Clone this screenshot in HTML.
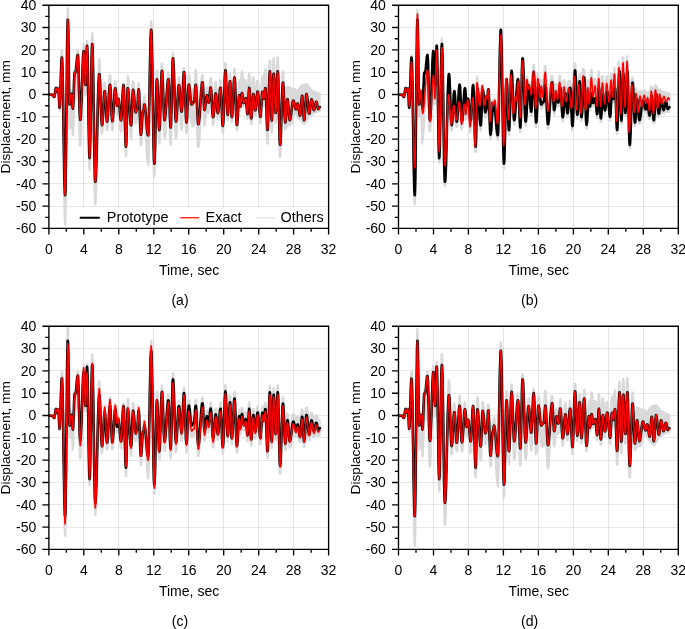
<!DOCTYPE html>
<html lang="en"><head><meta charset="utf-8"><title>Displacement time histories</title>
<style>html,body{margin:0;padding:0;background:#fff}svg{display:block}text{font-family:"Liberation Sans",Arial,sans-serif;fill:#000}</style></head>
<body>
<svg width="685" height="629" viewBox="0 0 685 629">
<rect width="685" height="629" fill="#fff"/>
<defs>
<clipPath id="cpa"><rect x="48.9" y="5.2" width="279.7" height="223.2"/></clipPath>
<clipPath id="cpb"><rect x="398.5" y="5.2" width="279.7" height="223.2"/></clipPath>
<clipPath id="cpc"><rect x="48.9" y="326.2" width="279.7" height="223.2"/></clipPath>
<clipPath id="cpd"><rect x="398.5" y="326.2" width="279.7" height="223.2"/></clipPath>
</defs>
<g id="panel-a">
<path d="M83.5 5.2V228.4M118.5 5.2V228.4M153.5 5.2V228.4M188.5 5.2V228.4M223.5 5.2V228.4M258.5 5.2V228.4M293.5 5.2V228.4" stroke="#000" stroke-opacity="0.115" stroke-width="0.9" fill="none"/>
<path d="M48.9 206.5H328.6M48.9 183.5H328.6M48.9 161.5H328.6M48.9 139.5H328.6M48.9 116.5H328.6M48.9 94.5H328.6M48.9 72.5H328.6M48.9 49.5H328.6M48.9 27.5H328.6" stroke="#000" stroke-opacity="0.105" stroke-width="0.9" fill="none"/>
<g clip-path="url(#cpa)" fill="none" stroke-linejoin="round" stroke-linecap="round">
<path d="M48.9 93.6 49.0 93.6 49.2 93.6 49.4 93.6 49.6 93.6 49.7 93.7 49.9 93.7 50.1 93.7 50.3 93.7 50.4 93.8 50.6 93.8 50.8 93.8 51.0 93.9 51.1 93.9 51.3 93.9 51.5 93.9 51.7 94.0 51.8 94.0 52.0 94.0 52.2 94.0 52.4 94.0 52.5 94.0 52.7 94.1 52.9 94.2 53.1 94.4 53.2 94.4 53.4 94.6 53.6 94.9 53.8 95.2 53.9 95.5 54.1 95.6 54.3 94.8 54.5 93.8 54.6 92.4 54.8 91.0 55.0 89.6 55.2 88.4 55.3 87.5 55.5 86.9 55.7 86.8 55.9 86.8 56.0 86.8 56.2 86.8 56.4 86.8 56.6 87.1 56.7 87.7 56.9 88.5 57.1 89.3 57.3 89.5 57.4 88.8 57.6 88.1 57.8 87.4 58.0 86.9 58.1 86.8 58.3 86.6 58.5 86.4 58.7 86.2 58.8 86.3 59.0 88.3 59.2 92.0 59.4 95.9 59.5 99.5 59.7 97.7 59.9 93.7 60.0 88.7 60.2 82.6 60.4 76.3 60.6 70.1 60.7 64.3 60.9 59.2 61.1 55.1 61.3 52.2 61.4 50.6 61.6 50.4 61.8 50.3 62.0 50.2 62.1 50.1 62.3 50.1 62.5 52.1 62.7 56.1 62.8 62.0 63.0 69.6 63.2 78.7 63.4 88.9 63.5 98.6 63.7 108.8 63.9 119.2 64.1 129.5 64.2 139.5 64.4 148.8 64.6 157.2 64.8 164.3 64.9 170.1 65.1 171.5 65.3 163.6 65.5 153.1 65.6 140.4 65.8 125.9 66.0 110.4 66.2 94.3 66.3 77.0 66.5 59.4 66.7 43.5 66.9 29.9 67.0 19.1 67.2 11.7 67.4 7.8 67.6 7.7 67.7 8.0 67.9 8.3 68.1 8.6 68.3 8.9 68.4 13.5 68.6 22.0 68.8 33.6 69.0 47.2 69.1 61.5 69.3 75.0 69.5 86.6 69.7 94.3 69.8 95.5 70.0 94.1 70.2 92.7 70.4 91.5 70.5 90.7 70.7 90.3 70.9 90.3 71.1 90.3 71.2 90.3 71.4 90.4 71.6 90.4 71.8 91.4 71.9 91.4 72.1 91.5 72.3 91.5 72.5 91.7 72.6 94.5 72.8 98.8 73.0 98.4 73.2 94.6 73.3 90.0 73.5 84.6 73.7 79.5 73.9 75.0 74.0 71.5 74.2 69.3 74.4 68.5 74.6 68.5 74.7 68.6 74.9 68.6 75.1 68.6 75.3 68.2 75.4 67.2 75.6 65.8 75.8 64.1 76.0 62.2 76.1 60.2 76.3 58.2 76.5 56.2 76.7 54.4 76.8 52.9 77.0 51.6 77.2 50.8 77.4 50.4 77.5 50.4 77.7 50.3 77.9 50.2 78.1 50.2 78.2 50.3 78.4 51.9 78.6 55.2 78.8 59.9 78.9 65.8 79.1 72.6 79.3 80.0 79.5 87.5 79.6 94.3 79.8 100.2 80.0 105.2 80.2 109.3 80.3 111.3 80.5 109.0 80.7 106.1 80.9 102.6 81.0 98.6 81.2 94.2 81.4 89.3 81.6 83.6 81.7 77.9 81.9 72.2 82.1 66.8 82.3 61.6 82.4 57.0 82.6 52.9 82.8 49.5 83.0 46.8 83.1 45.0 83.3 44.0 83.5 44.0 83.7 44.1 83.8 44.2 84.0 44.3 84.2 44.6 84.4 46.4 84.5 49.8 84.7 54.5 84.9 59.9 85.1 65.7 85.2 71.1 85.4 75.8 85.6 73.7 85.8 67.6 85.9 60.6 86.1 53.7 86.3 47.5 86.5 43.0 86.6 40.7 86.8 40.8 87.0 40.8 87.1 40.7 87.3 40.7 87.5 40.7 87.7 43.4 87.8 48.7 88.0 56.4 88.2 66.1 88.4 77.3 88.5 89.6 88.7 100.8 88.9 111.5 89.1 121.7 89.2 130.7 89.4 138.2 89.6 143.8 89.8 138.6 89.9 131.4 90.1 122.3 90.3 112.0 90.5 101.1 90.6 89.9 90.8 77.3 91.0 65.4 91.2 54.9 91.3 46.0 91.5 39.3 91.7 35.0 91.9 33.3 92.0 33.0 92.2 32.8 92.4 32.7 92.6 32.5 92.7 33.5 92.9 36.9 93.1 42.4 93.3 49.8 93.4 59.1 93.6 69.8 93.8 81.6 94.0 92.7 94.1 103.7 94.3 114.6 94.5 125.0 94.7 134.7 94.8 143.2 95.0 150.4 95.2 156.0 95.4 159.2 95.5 156.4 95.7 152.8 95.9 148.5 96.1 143.5 96.2 137.9 96.4 131.9 96.6 125.5 96.8 118.8 96.9 112.1 97.1 105.3 97.3 98.7 97.5 92.3 97.6 86.2 97.8 80.6 98.0 74.8 98.2 69.7 98.3 65.6 98.5 62.3 98.7 60.1 98.9 58.9 99.0 58.8 99.2 58.9 99.4 59.1 99.6 59.3 99.7 59.5 99.9 60.8 100.1 63.1 100.3 66.4 100.4 70.5 100.6 75.3 100.8 80.5 101.0 85.5 101.1 90.4 101.3 95.1 101.5 99.4 101.7 103.3 101.8 106.5 102.0 108.9 102.2 108.2 102.4 106.4 102.5 104.1 102.7 101.5 102.9 98.7 103.1 95.8 103.2 93.0 103.4 90.2 103.6 87.8 103.8 85.7 103.9 84.0 104.1 82.7 104.3 82.2 104.5 82.4 104.6 82.3 104.8 82.3 105.0 82.3 105.2 82.3 105.3 83.1 105.5 84.8 105.7 86.9 105.9 89.5 106.0 92.4 106.2 95.5 106.4 98.7 106.6 101.7 106.7 104.5 106.9 106.8 107.1 108.5 107.3 107.3 107.4 105.3 107.6 102.9 107.8 100.1 108.0 97.1 108.1 94.0 108.3 90.8 108.5 87.7 108.7 84.7 108.8 81.7 109.0 79.1 109.2 77.1 109.4 75.7 109.5 75.0 109.7 74.9 109.9 74.9 110.1 74.9 110.2 75.0 110.4 75.1 110.6 76.2 110.8 78.3 110.9 81.2 111.1 84.9 111.3 88.6 111.5 92.4 111.6 96.3 111.8 100.1 112.0 103.5 112.2 106.4 112.3 108.5 112.5 108.2 112.7 106.7 112.9 104.8 113.0 102.5 113.2 100.1 113.4 97.5 113.6 94.9 113.7 92.3 113.9 89.8 114.1 87.6 114.3 85.4 114.4 83.5 114.6 82.1 114.8 81.2 114.9 80.9 115.1 80.9 115.3 81.0 115.5 81.2 115.6 81.3 115.8 81.7 116.0 82.9 116.2 84.9 116.3 87.5 116.5 90.1 116.7 92.7 116.9 95.1 117.0 97.1 117.2 97.3 117.4 96.0 117.6 94.7 117.7 93.8 117.9 93.4 118.1 93.6 118.3 93.7 118.4 93.8 118.6 94.0 118.8 94.2 119.0 94.7 119.1 95.7 119.3 97.0 119.5 98.6 119.7 100.4 119.8 102.3 120.0 104.4 120.2 106.5 120.4 108.5 120.5 110.4 120.7 112.0 120.9 113.4 121.1 113.7 121.2 111.9 121.4 109.5 121.6 106.4 121.8 103.1 121.9 99.5 122.1 96.0 122.3 92.7 122.5 89.3 122.6 86.5 122.8 84.5 123.0 83.4 123.2 83.3 123.3 83.3 123.5 83.4 123.7 83.5 123.9 83.6 124.0 84.2 124.2 86.3 124.4 89.7 124.6 93.9 124.7 98.5 124.9 103.7 125.1 109.1 125.3 114.6 125.4 119.7 125.6 124.4 125.8 128.2 126.0 130.4 126.1 124.5 126.3 116.9 126.5 108.4 126.7 99.6 126.8 91.5 127.0 84.7 127.2 79.2 127.4 76.4 127.5 75.9 127.7 76.0 127.9 76.1 128.1 76.2 128.2 76.3 128.4 77.1 128.6 78.4 128.8 80.1 128.9 82.3 129.1 84.6 129.3 87.1 129.5 89.8 129.6 92.6 129.8 95.4 130.0 98.2 130.2 101.0 130.3 103.6 130.5 105.9 130.7 108.0 130.9 109.7 131.0 110.3 131.2 107.9 131.4 104.7 131.6 100.8 131.7 96.6 131.9 92.4 132.1 88.5 132.3 85.2 132.4 82.4 132.6 80.8 132.8 80.6 133.0 80.7 133.1 80.8 133.3 80.9 133.5 81.0 133.7 81.5 133.8 82.4 134.0 83.7 134.2 85.5 134.4 87.4 134.5 89.3 134.7 91.4 134.9 93.6 135.1 95.7 135.2 97.7 135.4 99.4 135.6 100.9 135.8 102.1 135.9 101.8 136.1 101.2 136.3 100.7 136.5 100.7 136.6 100.8 136.8 100.8 137.0 99.7 137.2 97.8 137.3 95.2 137.5 92.4 137.7 89.5 137.9 86.8 138.0 84.6 138.2 83.3 138.4 83.1 138.6 83.2 138.7 83.3 138.9 83.3 139.1 83.3 139.3 84.4 139.4 86.8 139.6 90.3 139.8 94.4 140.0 99.1 140.1 104.1 140.3 109.1 140.5 113.8 140.7 117.9 140.8 121.1 141.0 121.9 141.2 120.0 141.4 117.7 141.5 115.2 141.7 112.5 141.9 109.9 142.0 107.4 142.2 105.3 142.4 103.7 142.6 102.5 142.7 102.0 142.9 101.9 143.1 101.9 143.3 101.3 143.4 99.9 143.6 98.3 143.8 96.9 144.0 96.2 144.1 96.2 144.3 96.1 144.5 96.0 144.7 96.0 144.8 96.1 145.0 96.5 145.2 97.2 145.4 98.2 145.5 99.4 145.7 100.9 145.9 102.6 146.1 104.4 146.2 106.3 146.4 108.4 146.6 110.5 146.8 112.5 146.9 114.6 147.1 116.5 147.3 118.4 147.5 120.0 147.6 121.5 147.8 122.7 148.0 123.6 148.2 121.1 148.3 117.1 148.5 111.9 148.7 105.5 148.9 98.2 149.0 90.3 149.2 80.9 149.4 71.1 149.6 61.3 149.7 52.1 149.9 43.6 150.1 36.2 150.3 30.1 150.4 25.4 150.6 22.4 150.8 21.1 151.0 21.2 151.1 21.3 151.3 21.3 151.5 21.4 151.7 21.9 151.8 24.5 152.0 29.0 152.2 35.5 152.4 43.7 152.5 53.3 152.7 64.1 152.9 75.7 153.1 87.7 153.2 98.2 153.4 108.3 153.6 117.9 153.8 126.7 153.9 134.3 154.1 140.6 154.3 145.4 154.5 143.7 154.6 138.6 154.8 132.3 155.0 125.1 155.2 117.4 155.3 109.3 155.5 101.4 155.7 93.8 155.9 87.1 156.0 80.5 156.2 75.3 156.4 71.9 156.6 70.3 156.7 70.2 156.9 70.1 157.1 70.0 157.3 69.9 157.4 70.3 157.6 72.2 157.8 75.4 158.0 79.7 158.1 85.0 158.3 90.2 158.5 95.6 158.7 101.0 158.8 106.0 159.0 110.6 159.2 114.3 159.4 116.0 159.5 113.0 159.7 109.2 159.9 104.6 160.1 99.4 160.2 94.0 160.4 88.5 160.6 82.5 160.8 76.8 160.9 71.8 161.1 67.8 161.3 64.9 161.5 63.3 161.6 63.0 161.8 63.1 162.0 63.2 162.2 63.3 162.3 63.3 162.5 64.3 162.7 66.2 162.9 69.2 163.0 73.0 163.2 77.5 163.4 82.6 163.6 87.9 163.7 92.6 163.9 97.0 164.1 101.2 164.3 104.8 164.4 107.7 164.6 109.8 164.8 109.2 165.0 107.8 165.1 106.1 165.3 104.1 165.5 101.9 165.7 99.4 165.8 96.8 166.0 94.2 166.2 91.5 166.4 88.8 166.5 85.9 166.7 83.1 166.9 80.5 167.1 78.1 167.2 76.1 167.4 74.5 167.6 73.3 167.8 72.5 167.9 72.1 168.1 72.1 168.3 72.1 168.5 72.1 168.6 72.1 168.8 72.6 169.0 74.3 169.1 77.4 169.3 81.5 169.5 86.5 169.7 91.6 169.8 96.7 170.0 101.9 170.2 106.7 170.4 111.0 170.5 114.6 170.7 114.5 170.9 109.9 171.1 104.1 171.2 97.4 171.4 90.1 171.6 81.5 171.8 73.2 171.9 65.9 172.1 59.8 172.3 55.3 172.5 52.8 172.6 52.4 172.8 52.5 173.0 52.6 173.2 52.7 173.3 52.8 173.5 53.4 173.7 55.1 173.9 57.8 174.0 61.4 174.2 65.8 174.4 70.8 174.6 76.2 174.7 81.9 174.9 87.8 175.1 92.9 175.3 97.6 175.4 101.8 175.6 105.5 175.8 108.6 176.0 110.9 176.1 110.9 176.3 108.9 176.5 106.6 176.7 103.8 176.8 100.8 177.0 97.6 177.2 94.4 177.4 91.2 177.5 88.2 177.7 85.1 177.9 82.3 178.1 80.1 178.2 78.5 178.4 77.5 178.6 77.2 178.8 77.1 178.9 77.0 179.1 76.8 179.3 77.0 179.5 77.6 179.6 78.7 179.8 80.4 180.0 82.5 180.2 85.0 180.3 87.7 180.5 90.3 180.7 92.9 180.9 95.4 181.0 97.8 181.2 99.9 181.4 101.8 181.6 103.0 181.7 101.1 181.9 98.4 182.1 95.1 182.3 91.4 182.4 87.1 182.6 82.5 182.8 78.1 183.0 74.2 183.1 71.1 183.3 68.9 183.5 67.6 183.7 67.5 183.8 67.7 184.0 67.9 184.2 68.0 184.4 68.2 184.5 68.9 184.7 70.7 184.9 73.6 185.1 77.5 185.2 82.1 185.4 87.2 185.6 92.2 185.8 96.8 185.9 101.2 186.1 105.2 186.3 108.5 186.5 111.1 186.6 110.5 186.8 107.5 187.0 103.8 187.2 99.7 187.3 95.4 187.5 91.1 187.7 87.0 187.9 82.9 188.0 79.6 188.2 77.2 188.4 75.8 188.6 75.5 188.7 75.3 188.9 75.2 189.1 75.0 189.3 74.9 189.4 75.1 189.6 75.7 189.8 76.7 190.0 78.0 190.1 79.5 190.3 81.2 190.5 83.1 190.7 84.8 190.8 86.3 191.0 87.8 191.2 89.1 191.4 90.2 191.5 91.0 191.7 91.6 191.9 91.4 192.1 90.9 192.2 90.4 192.4 89.9 192.6 89.4 192.8 89.0 192.9 88.7 193.1 88.4 193.3 88.3 193.5 88.1 193.6 88.0 193.8 87.6 194.0 86.4 194.2 84.5 194.3 82.2 194.5 79.4 194.7 76.4 194.9 73.7 195.0 71.6 195.2 70.1 195.4 69.5 195.6 69.4 195.7 69.2 195.9 69.4 196.1 69.7 196.3 70.3 196.4 71.9 196.6 74.3 196.8 77.4 196.9 81.1 197.1 84.7 197.3 88.6 197.5 92.5 197.6 96.4 197.8 100.0 198.0 103.2 198.2 105.9 198.3 108.0 198.5 108.3 198.7 107.4 198.9 106.2 199.0 104.7 199.2 103.0 199.4 101.1 199.6 99.0 199.7 96.8 199.9 94.5 200.1 92.2 200.3 90.0 200.4 87.7 200.6 85.6 200.8 83.2 201.0 81.1 201.1 79.2 201.3 77.6 201.5 76.3 201.7 75.4 201.8 74.8 202.0 74.6 202.2 74.8 202.4 75.1 202.5 75.1 202.7 75.1 202.9 75.1 203.1 76.0 203.2 77.9 203.4 80.5 203.6 83.8 203.8 87.4 203.9 90.7 204.1 93.8 204.3 96.6 204.5 98.8 204.6 100.3 204.8 99.2 205.0 97.9 205.2 96.4 205.3 94.8 205.5 93.2 205.7 91.6 205.9 90.2 206.0 89.0 206.2 88.1 206.4 87.5 206.6 87.3 206.7 87.2 206.9 87.1 207.1 87.1 207.3 87.0 207.4 87.1 207.6 87.6 207.8 88.2 208.0 89.1 208.1 90.1 208.3 91.0 208.5 91.9 208.7 92.2 208.8 91.0 209.0 89.5 209.2 87.7 209.4 85.8 209.5 83.6 209.7 81.7 209.9 80.1 210.1 78.9 210.2 78.3 210.4 78.2 210.6 78.1 210.8 78.1 210.9 78.0 211.1 77.9 211.3 78.6 211.5 80.0 211.6 82.1 211.8 84.7 212.0 87.3 212.2 90.2 212.3 93.1 212.5 95.9 212.7 98.5 212.9 100.8 213.0 102.5 213.2 103.1 213.4 101.6 213.6 99.9 213.7 97.8 213.9 95.6 214.1 93.3 214.3 91.0 214.4 88.7 214.6 86.7 214.8 84.9 215.0 83.5 215.1 82.5 215.3 81.8 215.5 81.7 215.7 81.6 215.8 81.6 216.0 81.7 216.2 81.9 216.4 82.7 216.5 84.1 216.7 85.9 216.9 88.1 217.1 90.5 217.2 93.0 217.4 95.4 217.6 97.6 217.8 99.4 217.9 99.8 218.1 98.6 218.3 96.9 218.5 95.0 218.6 92.9 218.8 90.7 219.0 88.4 219.2 86.3 219.3 84.2 219.5 82.2 219.7 80.8 219.9 79.8 220.0 79.3 220.2 79.5 220.4 79.6 220.6 79.7 220.7 79.8 220.9 79.9 221.1 81.0 221.3 83.2 221.4 86.2 221.6 89.5 221.8 93.3 222.0 97.2 222.1 101.3 222.3 105.1 222.5 108.6 222.7 111.6 222.8 113.5 223.0 110.9 223.2 107.5 223.4 103.3 223.5 98.5 223.7 93.5 223.9 88.3 224.0 82.5 224.2 77.0 224.4 72.1 224.6 68.0 224.7 65.0 224.9 63.2 225.1 62.6 225.3 62.7 225.4 62.7 225.6 62.7 225.8 62.6 226.0 63.3 226.1 65.3 226.3 68.4 226.5 72.6 226.7 77.5 226.8 83.0 227.0 88.4 227.2 93.1 227.4 97.3 227.5 100.9 227.7 103.6 227.9 102.3 228.1 99.7 228.2 96.7 228.4 93.3 228.6 89.7 228.8 86.0 228.9 82.2 229.1 78.9 229.3 76.2 229.5 74.3 229.6 73.3 229.8 73.3 230.0 73.3 230.2 73.3 230.3 73.2 230.5 73.3 230.7 75.1 230.9 78.6 231.0 83.4 231.2 88.7 231.4 93.8 231.6 98.6 231.7 102.7 231.9 105.2 232.1 103.1 232.3 100.4 232.4 97.3 232.6 93.9 232.8 90.3 233.0 86.6 233.1 82.5 233.3 78.7 233.5 75.3 233.7 72.5 233.8 70.4 234.0 69.2 234.2 68.7 234.4 68.7 234.5 68.6 234.7 68.5 234.9 68.3 235.1 68.8 235.2 70.5 235.4 73.5 235.6 77.5 235.8 82.4 235.9 87.3 236.1 92.1 236.3 96.7 236.5 101.1 236.6 104.9 236.8 107.9 237.0 109.0 237.2 106.8 237.3 104.1 237.5 101.1 237.7 97.9 237.9 94.6 238.0 91.4 238.2 88.6 238.4 86.1 238.6 84.2 238.7 82.6 238.9 81.7 239.1 81.2 239.3 80.6 239.4 80.1 239.6 79.5 239.8 79.7 240.0 81.0 240.1 83.0 240.3 85.0 240.5 84.3 240.7 81.9 240.8 79.3 241.0 76.8 241.2 74.6 241.4 72.7 241.5 71.3 241.7 71.1 241.9 71.3 242.1 71.5 242.2 71.7 242.4 71.8 242.6 72.6 242.8 73.8 242.9 75.2 243.1 76.9 243.3 78.5 243.5 80.1 243.6 81.3 243.8 81.8 244.0 81.6 244.2 81.2 244.3 80.8 244.5 80.4 244.7 80.1 244.9 79.8 245.0 79.6 245.2 79.6 245.4 79.7 245.6 79.8 245.7 80.0 245.9 80.2 246.1 80.4 246.3 81.0 246.4 82.2 246.6 84.0 246.8 86.2 247.0 88.6 247.1 91.0 247.3 93.2 247.5 94.1 247.7 91.7 247.8 88.6 248.0 85.1 248.2 81.6 248.4 78.3 248.5 75.5 248.7 73.7 248.9 73.2 249.1 73.4 249.2 73.3 249.4 73.1 249.6 73.0 249.8 73.5 249.9 75.1 250.1 77.7 250.3 81.0 250.5 84.4 250.6 88.0 250.8 91.5 251.0 94.7 251.1 97.3 251.3 98.0 251.5 95.9 251.7 93.3 251.8 90.4 252.0 87.4 252.2 84.5 252.4 81.9 252.5 79.8 252.7 78.2 252.9 77.3 253.1 77.2 253.2 77.0 253.4 76.9 253.6 77.2 253.8 77.5 253.9 78.3 254.1 79.7 254.3 81.4 254.5 83.4 254.6 85.7 254.8 87.9 255.0 90.1 255.2 92.0 255.3 93.5 255.5 92.8 255.7 91.5 255.9 90.0 256.0 88.3 256.2 86.5 256.4 84.8 256.6 83.2 256.7 81.9 256.9 80.8 257.1 80.2 257.3 80.2 257.4 80.5 257.6 80.8 257.8 81.1 258.0 80.8 258.1 80.9 258.3 81.4 258.5 82.4 258.7 83.8 258.8 85.3 259.0 87.0 259.2 89.0 259.4 91.0 259.5 93.0 259.7 94.9 259.9 96.7 260.1 98.2 260.2 99.4 260.4 99.4 260.6 97.3 260.8 94.5 260.9 91.4 261.1 88.1 261.3 84.9 261.5 81.9 261.6 79.4 261.8 77.3 262.0 76.2 262.2 75.9 262.3 75.7 262.5 75.6 262.7 75.4 262.9 75.2 263.0 75.8 263.2 76.9 263.4 78.3 263.6 79.6 263.7 79.8 263.9 78.4 264.1 76.7 264.3 74.7 264.4 72.8 264.6 71.2 264.8 70.0 265.0 69.2 265.1 69.1 265.3 68.9 265.5 69.0 265.7 69.4 265.8 69.9 266.0 71.8 266.2 75.0 266.4 79.2 266.5 83.9 266.7 89.1 266.9 94.4 267.1 99.6 267.2 104.3 267.4 108.2 267.6 108.1 267.8 104.5 267.9 100.0 268.1 94.7 268.3 89.0 268.5 83.3 268.6 76.9 268.8 71.1 269.0 66.3 269.2 62.7 269.3 60.6 269.5 60.2 269.7 60.6 269.9 61.0 270.0 60.7 270.2 60.4 270.4 61.2 270.6 64.0 270.7 68.5 270.9 74.5 271.1 81.3 271.3 87.6 271.4 93.4 271.6 98.5 271.8 102.2 272.0 97.6 272.1 91.9 272.3 85.5 272.5 78.5 272.7 71.3 272.8 65.3 273.0 60.9 273.2 58.4 273.4 58.1 273.5 57.8 273.7 57.7 273.9 57.8 274.1 57.9 274.2 59.3 274.4 62.1 274.6 66.0 274.8 70.8 274.9 76.1 275.1 81.4 275.3 86.0 275.5 90.1 275.6 93.4 275.8 92.9 276.0 89.3 276.2 84.8 276.3 79.7 276.5 73.9 276.7 68.3 276.9 63.5 277.0 59.8 277.2 57.5 277.4 56.8 277.6 56.9 277.7 56.9 277.9 57.0 278.1 57.1 278.3 58.2 278.4 61.4 278.6 66.4 278.8 73.0 278.9 80.9 279.1 88.5 279.3 96.2 279.5 103.9 279.6 111.1 279.8 117.3 280.0 122.3 280.2 124.8 280.3 122.0 280.5 118.4 280.7 114.1 280.9 109.3 281.0 104.2 281.2 99.0 281.4 93.8 281.6 88.9 281.7 84.3 281.9 79.9 282.1 76.1 282.3 73.4 282.4 71.7 282.6 71.2 282.8 71.3 283.0 71.4 283.1 71.3 283.3 71.2 283.5 71.7 283.7 73.3 283.8 75.9 284.0 79.4 284.2 83.5 284.4 87.4 284.5 91.5 284.7 95.6 284.9 99.3 285.1 99.3 285.2 98.7 285.4 98.0 285.6 96.5 285.8 94.3 285.9 92.9 286.1 91.2 286.3 90.3 286.5 88.9 286.6 87.8 286.8 87.5 287.0 87.0 287.2 86.6 287.3 86.5 287.5 86.4 287.7 86.4 287.9 86.4 288.0 86.4 288.2 86.4 288.4 86.4 288.6 86.6 288.7 86.7 288.9 86.9 289.1 87.0 289.3 87.1 289.4 87.2 289.6 87.2 289.8 87.3 290.0 87.4 290.1 87.5 290.3 87.6 290.5 87.6 290.7 87.7 290.8 87.8 291.0 87.9 291.2 88.0 291.4 88.0 291.5 88.1 291.7 88.2 291.9 88.3 292.1 88.3 292.2 88.2 292.4 88.2 292.6 88.2 292.8 88.2 292.9 88.2 293.1 88.2 293.3 88.3 293.5 88.3 293.6 88.3 293.8 88.3 294.0 88.4 294.2 88.4 294.3 88.5 294.5 88.5 294.7 88.6 294.9 88.8 295.0 88.9 295.2 89.1 295.4 89.2 295.6 89.4 295.7 89.5 295.9 89.7 296.1 89.8 296.3 90.0 296.4 90.1 296.6 90.3 296.8 90.4 297.0 90.5 297.1 90.6 297.3 90.6 297.5 90.5 297.7 90.4 297.8 90.2 298.0 90.1 298.2 89.9 298.4 89.7 298.5 89.4 298.7 89.2 298.9 88.9 299.1 88.6 299.2 88.4 299.4 88.1 299.6 87.8 299.8 87.6 299.9 87.3 300.1 87.0 300.3 86.8 300.5 86.5 300.6 86.2 300.8 85.9 301.0 85.7 301.2 85.5 301.3 85.3 301.5 85.3 301.7 85.3 301.9 85.2 302.0 85.2 302.2 85.1 302.4 85.1 302.6 85.0 302.7 85.0 302.9 84.9 303.1 84.9 303.3 84.8 303.4 84.7 303.6 84.7 303.8 84.6 304.0 84.6 304.1 84.5 304.3 84.4 304.5 84.4 304.7 84.3 304.8 84.3 305.0 84.2 305.2 84.2 305.4 84.1 305.5 84.0 305.7 84.0 305.9 84.0 306.0 84.0 306.2 84.0 306.4 84.1 306.6 84.1 306.7 84.1 306.9 84.1 307.1 84.2 307.3 84.2 307.4 84.3 307.6 84.4 307.8 84.6 308.0 84.9 308.1 85.1 308.3 85.4 308.5 85.6 308.7 85.9 308.8 86.1 309.0 86.4 309.2 86.7 309.4 86.9 309.5 87.2 309.7 87.4 309.9 87.7 310.1 87.9 310.2 88.2 310.4 88.4 310.6 88.7 310.8 88.9 310.9 89.2 311.1 89.4 311.3 89.6 311.5 89.8 311.6 90.0 311.8 90.1 312.0 90.1 312.2 90.1 312.3 90.1 312.5 90.2 312.7 90.3 312.9 90.4 313.0 90.5 313.2 90.6 313.4 90.7 313.6 90.8 313.7 90.9 313.9 91.0 314.1 91.1 314.3 91.2 314.4 91.3 314.6 91.4 314.8 91.4 315.0 91.5 315.1 91.6 315.3 91.7 315.5 91.8 315.7 91.9 315.8 92.0 316.0 92.1 316.2 92.2 316.4 92.3 316.5 92.4 316.7 92.5 316.9 92.6 317.1 92.6 317.2 92.7 317.4 92.8 317.6 92.9 317.8 93.0 317.9 93.0 318.1 93.1 318.3 93.1 318.5 93.1 318.6 93.1 318.8 93.2 319.0 93.2 319.2 93.2 319.3 93.3 319.5 93.3 319.7 93.4 319.9 93.4L319.9 111.4 319.7 111.4 319.5 111.4 319.3 111.4 319.2 111.4 319.0 111.4 318.8 111.5 318.6 111.5 318.5 111.6 318.3 111.6 318.1 111.7 317.9 111.7 317.8 111.8 317.6 111.8 317.4 111.9 317.2 111.9 317.1 112.0 316.9 112.0 316.7 112.1 316.5 112.1 316.4 112.2 316.2 112.3 316.0 112.3 315.8 112.4 315.7 112.4 315.5 112.5 315.3 112.5 315.1 112.6 315.0 112.6 314.8 112.7 314.6 112.7 314.4 112.7 314.3 112.8 314.1 113.0 313.9 113.1 313.7 113.3 313.6 113.4 313.4 113.6 313.2 113.8 313.0 113.9 312.9 114.1 312.7 114.2 312.5 114.4 312.3 114.6 312.2 114.7 312.0 114.9 311.8 115.1 311.6 115.3 311.5 115.4 311.3 115.6 311.1 115.8 310.9 116.0 310.8 116.1 310.6 116.3 310.4 116.5 310.2 116.6 310.1 116.7 309.9 116.7 309.7 116.8 309.5 116.8 309.4 116.8 309.2 116.8 309.0 117.0 308.8 117.2 308.7 117.5 308.5 117.9 308.3 118.2 308.1 118.5 308.0 118.8 307.8 119.1 307.6 119.4 307.4 119.7 307.3 120.1 307.1 120.4 306.9 120.7 306.7 121.0 306.6 121.3 306.4 121.6 306.2 121.9 306.0 122.3 305.9 122.6 305.7 122.9 305.5 123.2 305.4 123.5 305.2 123.8 305.0 123.9 304.8 124.0 304.7 124.0 304.5 124.0 304.3 124.0 304.1 124.0 304.0 124.0 303.8 124.0 303.6 124.0 303.4 124.0 303.3 123.8 303.1 123.6 302.9 123.4 302.7 123.2 302.6 123.0 302.4 122.8 302.2 122.6 302.0 122.4 301.9 122.2 301.7 121.9 301.5 121.7 301.3 121.5 301.2 121.3 301.0 121.1 300.8 120.9 300.6 120.7 300.5 120.5 300.3 120.3 300.1 120.0 299.9 119.8 299.8 119.6 299.6 119.4 299.4 119.2 299.2 119.1 299.1 119.0 298.9 118.9 298.7 118.7 298.5 118.4 298.4 118.1 298.2 117.8 298.0 117.6 297.8 117.3 297.7 117.0 297.5 116.7 297.3 116.4 297.1 116.1 297.0 115.8 296.8 115.5 296.6 115.2 296.4 114.8 296.3 114.5 296.1 114.2 295.9 113.9 295.7 113.6 295.6 113.3 295.4 113.2 295.2 113.2 295.0 113.3 294.9 113.6 294.7 114.0 294.5 114.5 294.3 115.0 294.2 115.6 294.0 116.1 293.8 116.7 293.6 117.3 293.5 117.9 293.3 118.5 293.1 119.1 292.9 119.7 292.8 120.3 292.6 120.9 292.4 121.5 292.2 122.1 292.1 122.7 291.9 123.3 291.7 123.7 291.5 124.1 291.4 124.4 291.2 124.7 291.0 124.9 290.8 125.0 290.7 125.1 290.5 125.2 290.3 125.3 290.1 125.3 290.0 125.4 289.8 125.4 289.6 125.4 289.4 125.3 289.3 125.3 289.1 125.2 288.9 125.2 288.7 125.3 288.6 125.3 288.4 125.3 288.2 125.5 288.0 125.6 287.9 125.7 287.7 125.9 287.5 126.1 287.3 126.2 287.2 126.4 287.0 126.7 286.8 126.9 286.6 127.4 286.5 127.9 286.3 128.4 286.1 128.9 285.9 129.1 285.8 129.2 285.6 129.3 285.4 129.3 285.2 129.2 285.1 129.5 284.9 129.6 284.7 128.5 284.5 126.3 284.4 123.1 284.2 119.1 284.0 114.6 283.8 109.6 283.7 104.6 283.5 99.9 283.3 96.3 283.1 93.4 283.0 91.3 282.8 93.8 282.6 97.2 282.4 101.6 282.3 107.3 282.1 113.6 281.9 120.2 281.7 126.8 281.6 133.2 281.4 139.2 281.2 144.6 281.0 149.2 280.9 152.9 280.7 155.4 280.5 156.7 280.3 156.8 280.2 156.9 280.0 157.0 279.8 157.0 279.6 157.0 279.5 154.9 279.3 150.7 279.1 144.7 278.9 137.2 278.8 128.6 278.6 119.4 278.4 110.0 278.3 101.2 278.1 94.6 277.9 89.1 277.7 84.9 277.6 87.4 277.4 91.6 277.2 96.5 277.0 101.6 276.9 107.6 276.7 113.2 276.5 117.8 276.3 121.1 276.2 122.8 276.0 122.9 275.8 123.0 275.6 123.0 275.5 123.1 275.3 123.1 275.1 121.7 274.9 118.9 274.8 114.9 274.6 110.1 274.4 104.6 274.2 99.8 274.1 95.3 273.9 91.3 273.7 88.1 273.5 90.1 273.4 95.1 273.2 101.1 273.0 108.3 272.8 115.8 272.7 122.6 272.5 127.9 272.3 131.3 272.1 132.5 272.0 132.5 271.8 132.6 271.6 132.6 271.4 132.7 271.3 131.6 271.1 128.4 270.9 123.4 270.7 117.0 270.6 109.6 270.4 102.3 270.2 96.3 270.0 91.1 269.9 87.0 269.7 89.7 269.5 94.2 269.3 99.6 269.2 105.8 269.0 113.3 268.8 120.8 268.6 127.7 268.5 133.8 268.3 138.7 268.1 142.1 267.9 143.9 267.8 144.0 267.6 144.0 267.4 144.1 267.2 143.9 267.1 143.8 266.9 142.0 266.7 138.8 266.5 134.4 266.4 129.0 266.2 123.0 266.0 116.7 265.8 110.7 265.7 105.3 265.5 101.3 265.3 98.7 265.1 99.7 265.0 101.0 264.8 102.4 264.6 104.0 264.4 105.4 264.3 106.3 264.1 106.7 263.9 106.6 263.7 106.4 263.6 106.3 263.4 106.1 263.2 105.9 263.0 105.0 262.9 103.4 262.7 101.5 262.5 99.7 262.3 100.2 262.2 102.8 262.0 106.0 261.8 109.5 261.6 113.1 261.5 116.5 261.3 119.5 261.1 121.7 260.9 123.0 260.8 123.4 260.6 123.2 260.4 123.1 260.2 123.1 260.1 123.0 259.9 122.8 259.7 122.0 259.5 120.7 259.4 118.9 259.2 116.8 259.0 114.4 258.8 111.8 258.7 109.0 258.5 106.3 258.3 103.7 258.1 101.3 258.0 99.1 257.8 97.6 257.6 96.6 257.4 97.8 257.3 99.5 257.1 101.7 256.9 104.1 256.7 106.6 256.6 109.0 256.4 111.2 256.2 113.1 256.0 114.5 255.9 115.4 255.7 115.7 255.5 115.7 255.3 115.7 255.2 115.6 255.0 115.6 254.8 115.3 254.6 114.3 254.5 112.8 254.3 110.8 254.1 108.4 253.9 106.0 253.8 103.6 253.6 101.4 253.4 99.6 253.2 100.4 253.1 102.8 252.9 105.9 252.7 109.2 252.5 112.7 252.4 116.1 252.2 119.1 252.0 121.5 251.8 123.3 251.7 124.2 251.5 124.2 251.3 124.2 251.1 124.1 251.0 124.1 250.8 124.1 250.6 122.8 250.5 120.4 250.3 117.1 250.1 113.0 249.9 108.5 249.8 103.9 249.6 99.6 249.4 96.2 249.2 94.1 249.1 96.7 248.9 100.5 248.7 105.0 248.5 109.4 248.4 113.5 248.2 116.7 248.0 118.7 247.8 119.4 247.7 119.4 247.5 119.4 247.3 119.4 247.1 119.4 247.0 118.9 246.8 117.7 246.6 115.7 246.4 113.2 246.3 110.5 246.1 107.7 245.9 105.3 245.7 103.3 245.6 102.4 245.4 102.9 245.2 103.6 245.0 104.3 244.9 105.0 244.7 105.6 244.5 106.1 244.3 106.6 244.2 106.8 244.0 106.9 243.8 106.9 243.6 106.9 243.5 106.9 243.3 106.9 243.1 106.6 242.9 105.7 242.8 104.3 242.6 102.7 242.4 100.8 242.2 99.1 242.1 97.5 241.9 98.2 241.7 100.2 241.5 102.6 241.4 105.0 241.2 107.3 241.0 109.1 240.8 110.3 240.7 110.6 240.5 110.6 240.3 110.6 240.1 110.6 240.0 110.6 239.8 109.8 239.6 107.5 239.4 104.3 239.3 101.2 239.1 101.9 238.9 104.6 238.7 107.9 238.6 111.5 238.4 115.3 238.2 119.0 238.0 122.5 237.9 125.5 237.7 127.9 237.5 129.6 237.3 130.5 237.2 130.5 237.0 130.5 236.8 130.5 236.6 130.5 236.5 130.4 236.3 129.0 236.1 126.4 235.9 122.5 235.8 117.7 235.6 112.1 235.4 106.2 235.2 100.2 235.1 94.9 234.9 90.7 234.7 87.1 234.5 84.4 234.4 85.3 234.2 87.7 234.0 90.6 233.8 93.9 233.7 97.4 233.5 101.8 233.3 106.2 233.1 110.3 233.0 114.1 232.8 117.3 232.6 119.9 232.4 121.6 232.3 122.5 232.1 122.6 231.9 122.6 231.7 122.6 231.6 122.6 231.4 122.5 231.2 120.6 231.0 116.9 230.9 111.9 230.7 106.0 230.5 99.8 230.3 94.6 230.2 90.5 230.0 88.3 229.8 90.5 229.6 93.4 229.5 96.6 229.3 100.6 229.1 104.9 228.9 109.1 228.8 112.8 228.6 116.0 228.4 118.3 228.2 119.8 228.1 120.4 227.9 120.4 227.7 120.4 227.5 120.4 227.4 120.4 227.2 119.7 227.0 117.7 226.8 114.3 226.7 109.9 226.5 104.7 226.3 99.0 226.1 94.1 226.0 89.4 225.8 85.2 225.6 81.6 225.4 78.8 225.3 81.4 225.1 84.9 224.9 89.1 224.7 93.9 224.6 99.2 224.4 105.6 224.2 111.9 224.0 117.7 223.9 122.9 223.7 127.2 223.5 130.4 223.4 132.4 223.2 133.1 223.0 133.1 222.8 133.1 222.7 133.2 222.5 133.2 222.3 132.6 222.1 131.0 222.0 128.3 221.8 124.8 221.6 120.6 221.4 116.0 221.3 111.1 221.1 106.4 220.9 101.9 220.7 98.2 220.6 95.6 220.4 94.4 220.2 95.8 220.0 97.6 219.9 99.9 219.7 102.7 219.5 105.6 219.3 108.5 219.2 111.3 219.0 113.9 218.8 116.1 218.6 117.8 218.5 119.1 218.3 119.7 218.1 119.7 217.9 119.7 217.8 119.8 217.6 119.8 217.4 119.8 217.2 119.1 217.1 117.7 216.9 115.7 216.7 113.2 216.5 110.5 216.4 107.7 216.2 105.0 216.0 102.5 215.8 100.5 215.7 100.0 215.5 101.7 215.3 103.7 215.1 106.1 215.0 108.8 214.8 111.5 214.6 114.3 214.4 116.9 214.3 119.3 214.1 121.4 213.9 123.0 213.7 124.2 213.6 124.8 213.4 124.8 213.2 124.8 213.0 125.0 212.9 125.2 212.7 125.3 212.5 124.7 212.3 123.2 212.2 121.1 212.0 118.4 211.8 115.3 211.6 111.9 211.5 108.4 211.3 105.0 211.1 101.9 210.9 99.7 210.8 98.0 210.6 97.7 210.4 99.2 210.2 101.0 210.1 103.0 209.9 105.4 209.7 107.6 209.5 109.6 209.4 111.2 209.2 112.3 209.0 112.8 208.8 112.9 208.7 113.1 208.5 113.3 208.3 113.4 208.1 113.4 208.0 113.0 207.8 112.3 207.6 111.3 207.4 110.2 207.3 109.2 207.1 108.2 206.9 107.6 206.7 108.8 206.6 110.3 206.4 112.2 206.2 114.2 206.0 116.2 205.9 118.3 205.7 120.2 205.5 121.9 205.3 123.3 205.2 124.3 205.0 125.0 204.8 125.1 204.6 125.3 204.5 125.5 204.3 125.6 204.1 125.7 203.9 124.9 203.8 123.1 203.6 120.4 203.4 117.1 203.2 113.4 203.1 109.6 202.9 106.6 202.7 104.0 202.5 101.8 202.4 100.5 202.2 101.6 202.0 103.1 201.8 104.8 201.7 106.8 201.5 109.0 201.3 111.4 201.1 114.5 201.0 117.6 200.8 120.9 200.6 124.1 200.4 127.4 200.3 130.5 200.1 133.5 199.9 136.2 199.7 138.8 199.6 141.0 199.4 142.9 199.2 144.5 199.0 145.7 198.9 146.5 198.7 146.9 198.5 147.1 198.3 147.2 198.2 147.3 198.0 147.4 197.8 147.0 197.6 145.7 197.5 143.5 197.3 140.6 197.1 137.0 196.9 132.9 196.8 128.6 196.6 124.1 196.4 119.8 196.3 115.7 196.1 112.8 195.9 110.4 195.7 108.6 195.6 110.4 195.4 112.7 195.2 115.2 195.0 118.0 194.9 120.8 194.7 123.0 194.5 124.4 194.3 125.0 194.2 125.1 194.0 125.2 193.8 125.3 193.6 125.3 193.5 125.6 193.3 126.0 193.1 126.4 192.9 126.4 192.8 126.4 192.6 126.3 192.4 126.2 192.2 126.0 192.1 125.7 191.9 125.2 191.7 124.8 191.5 124.3 191.4 123.9 191.2 123.4 191.0 122.5 190.8 121.2 190.7 119.5 190.5 117.6 190.3 115.4 190.1 113.0 190.0 110.4 189.8 108.1 189.6 105.9 189.4 103.9 189.3 102.0 189.1 100.3 188.9 98.9 188.7 100.3 188.6 102.5 188.4 105.4 188.2 109.6 188.0 114.1 187.9 118.7 187.7 122.9 187.5 126.7 187.3 129.7 187.2 131.7 187.0 132.6 186.8 132.3 186.6 132.6 186.5 133.0 186.3 133.3 186.1 133.7 185.9 132.9 185.8 130.9 185.6 127.8 185.4 123.8 185.2 118.9 185.1 113.6 184.9 108.1 184.7 103.1 184.5 98.8 184.4 95.0 184.2 91.9 184.0 89.5 183.8 90.8 183.7 94.0 183.5 97.8 183.3 102.0 183.1 106.4 183.0 111.3 182.8 116.4 182.6 120.9 182.4 124.7 182.3 127.6 182.1 129.4 181.9 129.9 181.7 129.8 181.6 129.7 181.4 129.7 181.2 129.6 181.0 129.1 180.9 128.0 180.7 126.4 180.5 124.3 180.3 121.8 180.2 119.0 180.0 116.1 179.8 113.0 179.6 110.1 179.5 107.8 179.3 105.8 179.1 104.0 178.9 102.7 178.8 103.6 178.6 105.3 178.4 107.5 178.2 110.2 178.1 113.6 177.9 117.3 177.7 121.1 177.5 124.7 177.4 128.2 177.2 131.3 177.0 134.0 176.8 136.2 176.7 137.7 176.5 138.5 176.3 138.7 176.1 138.6 176.0 138.6 175.8 138.6 175.6 138.6 175.4 137.7 175.3 135.8 175.1 132.8 174.9 128.9 174.7 124.2 174.6 118.8 174.4 112.9 174.2 107.1 174.0 102.0 173.9 97.0 173.7 92.2 173.5 87.8 173.3 83.9 173.2 80.7 173.0 78.7 172.8 82.6 172.6 87.9 172.5 94.3 172.3 101.4 172.1 109.0 171.9 118.0 171.8 126.4 171.6 133.6 171.4 139.2 171.2 143.0 171.1 144.7 170.9 144.7 170.7 144.8 170.5 144.9 170.4 144.9 170.2 144.7 170.0 143.0 169.8 140.0 169.7 135.8 169.5 130.7 169.3 125.0 169.1 119.0 169.0 112.9 168.8 107.6 168.6 103.4 168.5 100.1 168.3 97.6 168.1 97.9 167.9 99.4 167.8 101.2 167.6 103.2 167.4 105.6 167.2 108.1 167.1 110.9 166.9 114.2 166.7 117.5 166.5 120.8 166.4 124.0 166.2 127.1 166.0 129.9 165.8 132.4 165.7 134.6 165.5 136.3 165.3 137.7 165.1 138.6 165.0 139.0 164.8 138.8 164.6 138.6 164.4 138.4 164.3 138.2 164.1 137.7 163.9 136.0 163.7 133.2 163.6 129.5 163.4 124.9 163.2 119.6 163.0 113.9 162.9 108.1 162.7 103.3 162.5 98.8 162.3 94.7 162.2 91.2 162.0 88.5 161.8 90.2 161.6 93.5 161.5 97.6 161.3 102.4 161.1 107.9 160.9 114.5 160.8 121.0 160.6 127.2 160.4 132.7 160.2 137.3 160.1 140.9 159.9 143.1 159.7 144.0 159.5 143.8 159.4 143.6 159.2 143.4 159.0 143.2 158.8 142.6 158.7 140.5 158.5 137.1 158.3 132.4 158.1 126.8 158.0 120.4 157.8 113.8 157.6 107.1 157.4 101.1 157.3 96.4 157.1 92.6 156.9 92.0 156.7 96.1 156.6 101.6 156.4 109.5 156.2 118.4 156.0 127.8 155.9 137.2 155.7 146.4 155.5 154.9 155.3 162.2 155.2 168.1 155.0 172.3 154.8 174.6 154.6 175.3 154.5 175.9 154.3 176.6 154.1 177.2 153.9 177.8 153.8 176.8 153.6 173.5 153.4 168.2 153.2 161.0 153.1 152.2 152.9 142.0 152.7 130.7 152.5 118.8 152.4 106.7 152.2 96.9 152.0 87.5 151.8 78.8 151.7 71.1 151.5 64.7 151.3 59.6 151.1 57.3 151.0 61.9 150.8 67.9 150.6 74.9 150.4 82.8 150.3 91.4 150.1 100.4 149.9 109.6 149.7 119.0 149.6 129.4 149.4 138.9 149.2 147.4 149.0 154.5 148.9 160.1 148.7 163.9 148.5 165.9 148.3 165.5 148.2 165.0 148.0 164.5 147.8 164.0 147.6 163.5 147.5 162.6 147.3 161.3 147.1 159.7 146.9 157.8 146.8 155.6 146.6 153.1 146.4 150.5 146.2 147.7 146.1 144.8 145.9 141.9 145.7 138.9 145.5 136.0 145.4 133.2 145.2 130.6 145.0 128.2 144.8 126.0 144.7 124.1 144.5 122.4 144.3 123.1 144.1 124.5 144.0 125.7 143.8 126.0 143.6 125.5 143.4 125.1 143.3 125.0 143.1 125.8 142.9 127.3 142.7 129.3 142.6 131.8 142.4 134.4 142.2 137.2 142.0 139.7 141.9 142.0 141.7 143.8 141.5 144.9 141.4 145.4 141.2 145.4 141.0 145.5 140.8 145.6 140.7 145.6 140.5 145.7 140.3 144.7 140.1 142.1 140.0 138.2 139.8 133.2 139.6 127.5 139.4 121.4 139.3 115.3 139.1 109.6 138.9 104.6 138.7 101.0 138.6 101.4 138.4 104.4 138.2 108.1 138.0 111.8 137.9 115.1 137.7 117.6 137.5 119.2 137.3 119.6 137.2 119.7 137.0 119.8 136.8 120.4 136.6 121.4 136.5 122.5 136.3 123.2 136.1 123.4 135.9 123.5 135.8 123.6 135.6 123.7 135.4 123.8 135.2 123.5 135.1 122.7 134.9 121.4 134.7 119.8 134.5 117.8 134.4 115.6 134.2 113.2 134.0 110.8 133.8 108.4 133.7 106.2 133.5 104.4 133.3 103.1 133.1 102.8 133.0 105.5 132.8 109.7 132.6 114.6 132.4 120.0 132.3 125.3 132.1 130.3 131.9 134.5 131.7 137.7 131.6 139.5 131.4 139.8 131.2 139.6 131.0 139.3 130.9 139.1 130.7 138.8 130.5 138.1 130.3 136.9 130.2 135.2 130.0 132.9 129.8 130.3 129.6 127.3 129.5 124.0 129.3 120.6 129.1 117.0 128.9 113.4 128.8 109.8 128.6 106.4 128.4 103.3 128.2 100.6 128.1 98.6 127.9 97.2 127.7 101.4 127.5 108.8 127.4 117.8 127.2 127.6 127.0 137.1 126.8 145.4 126.7 151.6 126.5 155.2 126.3 156.0 126.1 156.2 126.0 156.3 125.8 156.5 125.6 156.6 125.4 155.6 125.3 153.1 125.1 149.1 124.9 144.0 124.7 137.8 124.6 131.0 124.4 123.9 124.2 116.8 124.0 110.0 123.9 103.9 123.7 99.1 123.5 95.9 123.3 95.9 123.2 98.5 123.0 101.7 122.8 106.0 122.6 110.6 122.5 115.1 122.3 119.5 122.1 123.5 121.9 126.8 121.8 129.3 121.6 130.9 121.4 131.6 121.2 131.7 121.1 131.9 120.9 132.0 120.7 132.2 120.5 132.1 120.4 131.3 120.2 130.1 120.0 128.5 119.8 126.6 119.7 124.4 119.5 122.1 119.3 119.7 119.1 117.2 119.0 114.9 118.8 112.8 118.6 111.0 118.4 109.6 118.3 109.8 118.1 111.4 117.9 113.1 117.7 114.5 117.6 115.3 117.4 115.4 117.2 115.3 117.0 115.3 116.9 115.2 116.7 115.1 116.5 114.3 116.3 112.6 116.2 110.2 116.0 107.4 115.8 104.4 115.6 101.6 115.5 99.5 115.3 97.8 115.1 99.0 114.9 100.7 114.8 102.8 114.6 105.6 114.4 108.7 114.3 111.9 114.1 115.2 113.9 118.4 113.7 121.4 113.6 124.1 113.4 126.5 113.2 128.4 113.0 129.8 112.9 130.7 112.7 130.9 112.5 130.9 112.3 130.8 112.2 130.8 112.0 130.7 111.8 130.1 111.6 128.5 111.5 125.9 111.3 122.5 111.1 118.4 110.9 113.9 110.8 109.2 110.6 104.6 110.4 100.4 110.2 97.3 110.1 94.8 109.9 93.9 109.7 95.6 109.5 97.8 109.4 100.4 109.2 103.7 109.0 107.5 108.8 111.3 108.7 115.2 108.5 118.8 108.3 122.1 108.1 125.0 108.0 127.4 107.8 129.2 107.6 130.2 107.4 130.6 107.3 130.5 107.1 130.5 106.9 130.5 106.7 130.5 106.6 130.0 106.4 128.6 106.2 126.5 106.0 123.6 105.9 120.2 105.7 116.4 105.5 112.5 105.3 108.6 105.2 105.0 105.0 101.9 104.8 99.5 104.6 99.1 104.5 101.0 104.3 103.7 104.1 106.9 103.9 110.4 103.8 114.2 103.6 117.9 103.4 121.5 103.2 124.9 103.1 127.9 102.9 130.3 102.7 132.1 102.5 133.2 102.4 133.6 102.2 133.6 102.0 133.5 101.8 133.5 101.7 133.6 101.5 133.2 101.3 131.8 101.1 129.2 101.0 125.7 100.8 121.5 100.6 116.6 100.4 111.3 100.3 105.8 100.1 100.7 99.9 96.6 99.7 92.8 99.6 89.7 99.4 87.2 99.2 87.4 99.0 90.2 98.9 93.9 98.7 98.3 98.5 103.4 98.3 110.1 98.2 117.5 98.0 125.4 97.8 133.5 97.6 141.9 97.5 150.2 97.3 158.3 97.1 166.2 96.9 173.6 96.8 180.5 96.6 186.6 96.4 192.0 96.2 196.4 96.1 199.8 95.9 202.3 95.7 203.6 95.5 203.8 95.4 204.0 95.2 204.2 95.0 204.5 94.8 204.0 94.7 201.3 94.5 196.3 94.3 189.0 94.1 179.8 94.0 168.9 93.8 156.7 93.6 143.5 93.4 129.7 93.3 115.8 93.1 102.9 92.9 92.4 92.7 82.8 92.6 74.5 92.4 67.7 92.2 63.1 92.0 68.2 91.9 75.1 91.7 83.5 91.5 93.0 91.3 103.4 91.2 116.2 91.0 128.8 90.8 140.5 90.6 150.9 90.5 159.4 90.3 165.7 90.1 169.4 89.9 170.6 89.8 170.3 89.6 170.0 89.4 169.7 89.2 169.7 89.1 168.4 88.9 164.3 88.7 157.6 88.5 148.6 88.4 137.7 88.2 125.4 88.0 112.4 87.8 99.6 87.7 89.2 87.5 79.7 87.3 71.5 87.1 65.1 87.0 64.4 86.8 69.9 86.6 76.1 86.5 82.4 86.3 87.9 86.1 92.1 85.9 94.4 85.8 94.6 85.6 94.8 85.4 95.3 85.2 95.8 85.1 96.3 84.9 95.3 84.7 92.9 84.5 89.5 84.4 85.5 84.2 81.1 84.0 77.1 83.8 73.7 83.7 72.0 83.5 74.7 83.3 78.1 83.1 82.0 83.0 86.4 82.8 91.3 82.6 96.4 82.4 101.7 82.3 107.0 82.1 112.4 81.9 118.3 81.7 124.1 81.6 129.4 81.4 134.1 81.2 138.1 81.0 141.3 80.9 143.6 80.7 145.1 80.5 145.5 80.3 146.0 80.2 146.1 80.0 146.1 79.8 146.0 79.6 144.3 79.5 140.9 79.3 135.9 79.1 129.7 78.9 122.5 78.8 115.5 78.6 108.9 78.4 102.6 78.2 96.7 78.1 91.7 77.9 87.6 77.7 84.8 77.5 85.5 77.4 86.8 77.2 88.4 77.0 90.2 76.8 92.0 76.7 93.7 76.5 95.4 76.3 96.9 76.1 98.2 76.0 99.1 75.8 99.7 75.6 99.9 75.4 100.0 75.3 100.0 75.1 100.1 74.9 100.3 74.7 102.3 74.6 105.4 74.4 109.3 74.2 113.7 74.0 118.4 73.9 123.5 73.7 128.3 73.5 132.0 73.3 134.4 73.2 135.3 73.0 135.3 72.8 135.3 72.6 135.4 72.5 135.4 72.3 133.5 72.1 128.7 71.9 123.4 71.8 120.7 71.6 120.6 71.4 120.4 71.2 120.3 71.1 120.0 70.9 121.7 70.7 123.6 70.5 125.5 70.4 127.2 70.2 128.4 70.0 129.0 69.8 128.8 69.7 128.7 69.5 128.5 69.3 128.4 69.1 127.8 69.0 123.1 68.8 114.9 68.6 105.0 68.4 93.5 68.3 81.4 68.1 69.9 67.9 60.0 67.7 58.6 67.6 67.6 67.4 79.1 67.2 92.5 67.0 107.4 66.9 124.7 66.7 144.1 66.5 162.9 66.3 180.3 66.2 195.7 66.0 208.2 65.8 217.6 65.6 223.3 65.5 225.2 65.3 225.0 65.1 224.9 64.9 224.7 64.8 224.4 64.6 222.7 64.4 218.9 64.2 213.0 64.1 205.2 63.9 195.7 63.7 184.8 63.5 172.7 63.4 159.8 63.2 146.5 63.0 133.0 62.8 119.9 62.7 107.4 62.5 97.6 62.3 89.2 62.1 82.0 62.0 76.2 61.8 73.9 61.6 76.6 61.4 80.3 61.3 84.5 61.1 89.0 60.9 93.7 60.7 98.1 60.6 102.7 60.4 106.8 60.2 109.7 60.0 111.3 59.9 111.4 59.7 110.8 59.5 110.2 59.4 109.6 59.2 109.6 59.0 108.4 58.8 105.1 58.7 100.4 58.5 95.5 58.3 92.0 58.1 91.1 58.0 91.7 57.8 92.1 57.6 92.4 57.4 92.4 57.3 92.4 57.1 92.5 56.9 92.4 56.7 92.4 56.6 92.0 56.4 91.5 56.2 90.7 56.0 90.0 55.9 90.4 55.7 91.4 55.5 92.5 55.3 93.7 55.2 94.9 55.0 96.1 54.8 97.0 54.6 97.5 54.5 97.5 54.3 97.8 54.1 97.8 53.9 97.7 53.8 97.5 53.6 97.4 53.4 97.1 53.2 96.8 53.1 96.4 52.9 96.0 52.7 95.8 52.5 95.8 52.4 95.8 52.2 95.8 52.0 95.8 51.8 95.8 51.7 95.8 51.5 95.7 51.3 95.7 51.1 95.7 51.0 95.6 50.8 95.6 50.6 95.6 50.4 95.5 50.3 95.5 50.1 95.5 49.9 95.5 49.7 95.4 49.6 95.4 49.4 95.4 49.2 95.4 49.0 95.4 48.9 95.4Z" fill="#d9d9d9" stroke="#d9d9d9" stroke-width="1.6"/>
<path d="M48.9 94.5L49.0 94.5 49.2 94.5 49.4 94.5 49.6 94.5 49.7 94.5 49.9 94.6 50.1 94.6 50.3 94.6 50.4 94.7 50.6 94.7 50.8 94.7 51.0 94.8 51.1 94.8 51.3 94.8 51.5 94.8 51.7 94.9 51.8 94.9 52.0 94.9 52.2 94.9 52.4 94.9 52.5 94.9 52.7 94.9 52.9 95.1 53.1 95.3 53.2 95.6 53.4 95.9 53.6 96.3 53.8 96.6 53.9 96.8 54.1 96.9 54.3 96.9 54.5 96.4 54.6 95.6 54.8 94.5 55.0 93.2 55.2 91.8 55.3 90.6 55.5 89.4 55.7 88.6 55.9 88.1 56.0 88.0 56.2 88.3 56.4 89.0 56.6 89.8 56.7 90.6 56.9 91.2 57.1 91.6 57.3 91.5 57.4 91.2 57.6 90.7 57.8 90.1 58.0 89.5 58.1 89.0 58.3 88.7 58.5 89.0 58.7 91.1 58.8 94.8 59.0 99.3 59.2 103.6 59.4 106.6 59.5 107.7 59.7 107.0 59.9 105.0 60.0 101.8 60.2 97.5 60.4 92.5 60.6 86.9 60.7 81.1 60.9 75.3 61.1 70.0 61.3 65.3 61.4 61.6 61.6 58.9 61.8 57.6 62.0 57.7 62.1 59.7 62.3 63.5 62.5 69.2 62.7 76.6 62.8 85.3 63.0 95.3 63.2 106.1 63.4 117.6 63.5 129.2 63.7 140.8 63.9 152.0 64.1 162.4 64.2 171.8 64.4 179.9 64.6 186.4 64.8 191.2 64.9 194.2 65.1 195.2 65.3 193.4 65.5 188.1 65.6 179.4 65.8 167.9 66.0 153.8 66.2 137.8 66.3 120.6 66.5 102.9 66.7 85.3 66.9 68.6 67.0 53.6 67.2 40.7 67.4 30.5 67.6 23.5 67.7 19.9 67.9 20.0 68.1 24.1 68.3 31.9 68.4 42.7 68.6 55.4 68.8 68.7 69.0 81.3 69.1 92.1 69.3 99.9 69.5 104.0 69.7 104.5 69.8 103.8 70.0 102.6 70.2 100.9 70.4 99.1 70.5 97.2 70.7 95.6 70.9 94.3 71.1 93.7 71.2 93.7 71.4 94.7 71.6 95.7 71.8 95.6 71.9 94.7 72.1 94.9 72.3 98.0 72.5 102.7 72.6 106.9 72.8 108.6 73.0 107.8 73.2 105.7 73.3 102.4 73.5 98.0 73.7 93.1 73.9 88.0 74.0 83.1 74.2 78.8 74.4 75.5 74.6 73.3 74.7 72.6 74.9 72.7 75.1 72.9 75.3 73.1 75.4 72.8 75.6 72.2 75.8 71.2 76.0 69.9 76.1 68.3 76.3 66.4 76.5 64.5 76.7 62.6 76.8 60.7 77.0 58.9 77.2 57.5 77.4 56.3 77.5 55.4 77.7 55.0 77.9 55.2 78.1 56.8 78.2 60.0 78.4 64.5 78.6 70.2 78.8 76.7 78.9 83.8 79.1 91.1 79.3 98.2 79.5 104.7 79.6 110.4 79.8 115.0 80.0 118.1 80.2 119.7 80.3 119.8 80.5 119.0 80.7 117.3 80.9 114.9 81.0 111.7 81.2 107.8 81.4 103.5 81.6 98.6 81.7 93.5 81.9 88.2 82.1 82.7 82.3 77.4 82.4 72.2 82.6 67.4 82.8 63.0 83.0 59.2 83.1 56.0 83.3 53.6 83.5 51.9 83.7 51.1 83.8 51.2 84.0 52.8 84.2 56.0 84.4 60.3 84.5 65.4 84.7 70.7 84.9 75.8 85.1 80.1 85.2 83.3 85.4 84.9 85.6 84.8 85.8 82.5 85.9 78.1 86.1 72.1 86.3 65.4 86.5 58.6 86.6 52.7 86.8 48.2 87.0 45.9 87.1 45.9 87.3 48.5 87.5 53.7 87.7 61.0 87.8 70.3 88.0 81.0 88.2 92.8 88.4 104.9 88.5 116.9 88.7 128.2 88.9 138.3 89.1 146.6 89.2 152.9 89.4 156.8 89.6 158.1 89.8 156.9 89.9 153.2 90.1 147.2 90.3 139.2 90.5 129.6 90.6 118.7 90.8 107.0 91.0 95.1 91.2 83.4 91.3 72.6 91.5 62.9 91.7 54.9 91.9 49.0 92.0 45.3 92.2 44.0 92.4 45.1 92.6 48.4 92.7 53.8 92.9 61.1 93.1 70.0 93.3 80.3 93.4 91.7 93.6 103.8 93.8 116.1 94.0 128.4 94.1 140.1 94.3 151.0 94.5 160.7 94.7 168.8 94.8 175.2 95.0 179.5 95.2 181.7 95.4 181.9 95.5 180.9 95.7 178.9 95.9 175.9 96.1 172.1 96.2 167.5 96.4 162.1 96.6 156.0 96.8 149.5 96.9 142.6 97.1 135.3 97.3 128.0 97.5 120.6 97.6 113.4 97.8 106.5 98.0 99.9 98.2 93.9 98.3 88.5 98.5 83.8 98.7 80.0 98.9 77.1 99.0 75.1 99.2 74.1 99.4 74.1 99.6 75.1 99.7 77.2 99.9 80.1 100.1 83.9 100.3 88.3 100.4 93.1 100.6 98.2 100.8 103.4 101.0 108.4 101.1 113.0 101.3 117.1 101.5 120.5 101.7 123.0 101.8 124.6 102.0 125.1 102.2 124.7 102.4 123.7 102.5 122.0 102.7 119.8 102.9 117.1 103.1 114.0 103.2 110.7 103.4 107.2 103.6 103.9 103.8 100.6 103.9 97.7 104.1 95.2 104.3 93.3 104.5 91.9 104.6 91.2 104.8 91.2 105.0 92.1 105.2 93.7 105.3 95.9 105.5 98.8 105.7 102.0 105.9 105.5 106.0 109.1 106.2 112.5 106.4 115.6 106.6 118.1 106.7 120.1 106.9 121.3 107.1 121.7 107.3 121.4 107.4 120.4 107.6 118.8 107.8 116.6 108.0 113.9 108.1 110.9 108.3 107.6 108.5 104.1 108.7 100.6 108.8 97.1 109.0 93.9 109.2 91.1 109.4 88.6 109.5 86.7 109.7 85.4 109.9 84.8 110.1 84.8 110.2 85.8 110.4 87.7 110.6 90.4 110.8 93.8 110.9 97.7 111.1 101.9 111.3 106.2 111.5 110.2 111.6 113.9 111.8 117.0 112.0 119.3 112.2 120.8 112.3 121.3 112.5 121.0 112.7 120.2 112.9 118.9 113.0 117.1 113.2 114.9 113.4 112.3 113.6 109.5 113.7 106.6 113.9 103.6 114.1 100.6 114.3 97.7 114.4 95.1 114.6 92.9 114.8 91.0 114.9 89.6 115.1 88.6 115.3 88.3 115.5 88.5 115.6 89.6 115.8 91.3 116.0 93.6 116.2 96.3 116.3 99.0 116.5 101.5 116.7 103.6 116.9 105.1 117.0 105.8 117.2 105.7 117.4 105.0 117.6 103.6 117.7 102.1 117.9 100.5 118.1 99.3 118.3 98.8 118.4 98.8 118.6 99.3 118.8 100.3 119.0 101.5 119.1 103.1 119.3 105.0 119.5 107.0 119.7 109.2 119.8 111.3 120.0 113.4 120.2 115.4 120.4 117.1 120.5 118.5 120.7 119.5 120.9 120.2 121.1 120.4 121.2 120.0 121.4 118.6 121.6 116.5 121.8 113.6 121.9 110.2 122.1 106.3 122.3 102.3 122.5 98.3 122.6 94.6 122.8 91.2 123.0 88.5 123.2 86.5 123.3 85.4 123.5 85.2 123.7 86.2 123.9 88.7 124.0 92.4 124.2 97.3 124.4 103.0 124.6 109.3 124.7 115.9 124.9 122.5 125.1 128.9 125.3 134.6 125.4 139.4 125.6 143.1 125.8 145.6 126.0 146.7 126.1 145.9 126.3 142.4 126.5 136.5 126.7 128.7 126.8 119.8 127.0 110.7 127.2 102.3 127.4 95.3 127.5 90.6 127.7 88.4 127.9 88.5 128.1 89.1 128.2 90.2 128.4 91.8 128.6 93.8 128.8 96.1 128.9 98.7 129.1 101.6 129.3 104.5 129.5 107.6 129.6 110.6 129.8 113.5 130.0 116.3 130.2 118.8 130.3 120.9 130.5 122.7 130.7 124.0 130.9 124.9 131.0 125.3 131.2 124.9 131.4 123.3 131.6 120.5 131.7 116.8 131.9 112.3 132.1 107.6 132.3 102.8 132.4 98.3 132.6 94.6 132.8 91.8 133.0 90.2 133.1 89.8 133.3 90.2 133.5 91.0 133.7 92.2 133.8 93.7 134.0 95.6 134.2 97.7 134.4 99.9 134.5 102.2 134.7 104.5 134.9 106.5 135.1 108.4 135.2 110.0 135.4 111.2 135.6 112.0 135.8 112.3 135.9 112.2 136.1 111.6 136.3 110.8 136.5 109.9 136.6 109.4 136.8 109.2 137.0 109.4 137.2 109.1 137.3 107.8 137.5 105.6 137.7 102.7 137.9 99.4 138.0 96.1 138.2 93.2 138.4 91.0 138.6 89.7 138.7 89.4 138.9 90.5 139.1 92.9 139.3 96.5 139.4 101.1 139.6 106.4 139.8 112.0 140.0 117.7 140.1 122.9 140.3 127.5 140.5 131.1 140.7 133.6 140.8 134.6 141.0 134.5 141.2 133.6 141.4 132.1 141.5 130.1 141.7 127.6 141.9 124.8 142.0 121.9 142.2 119.0 142.4 116.4 142.6 114.1 142.7 112.3 142.9 111.1 143.1 110.6 143.3 110.7 143.4 110.8 143.6 110.0 143.8 108.5 144.0 106.8 144.1 105.3 144.3 104.6 144.5 104.6 144.7 105.0 144.8 105.8 145.0 106.8 145.2 108.1 145.4 109.7 145.5 111.4 145.7 113.4 145.9 115.5 146.1 117.7 146.2 119.9 146.4 122.2 146.6 124.4 146.8 126.5 146.9 128.4 147.1 130.2 147.3 131.8 147.5 133.1 147.6 134.1 147.8 134.8 148.0 135.3 148.2 135.3 148.3 134.0 148.5 131.1 148.7 126.6 148.9 120.7 149.0 113.6 149.2 105.5 149.4 96.6 149.6 87.3 149.7 77.8 149.9 68.5 150.1 59.6 150.3 51.5 150.4 44.4 150.6 38.5 150.8 34.0 151.0 31.1 151.1 29.8 151.3 30.3 151.5 32.8 151.7 37.3 151.8 43.6 152.0 51.5 152.2 60.7 152.4 71.1 152.5 82.2 152.7 93.8 152.9 105.5 153.1 116.9 153.2 127.6 153.4 137.5 153.6 146.1 153.8 153.2 153.9 158.6 154.1 162.1 154.3 163.6 154.5 163.2 154.6 160.9 154.8 156.9 155.0 151.3 155.2 144.5 155.3 136.6 155.5 128.1 155.7 119.3 155.9 110.6 156.0 102.3 156.2 94.9 156.4 88.7 156.6 83.9 156.7 80.7 156.9 79.4 157.1 79.7 157.3 81.4 157.4 84.3 157.6 88.4 157.8 93.3 158.0 98.9 158.1 104.8 158.3 110.6 158.5 116.2 158.7 121.1 158.8 125.2 159.0 128.1 159.2 129.8 159.4 130.2 159.5 129.2 159.7 127.0 159.9 123.6 160.1 119.2 160.2 114.0 160.4 108.2 160.6 102.1 160.8 95.9 160.9 89.9 161.1 84.3 161.3 79.5 161.5 75.6 161.6 72.8 161.8 71.2 162.0 70.9 162.2 71.7 162.3 73.5 162.5 76.3 162.7 80.0 162.9 84.3 163.0 89.1 163.2 94.2 163.4 99.4 163.6 104.3 163.7 108.9 163.9 112.9 164.1 116.2 164.3 118.5 164.4 119.9 164.6 120.2 164.8 119.8 165.0 119.1 165.1 117.9 165.3 116.3 165.5 114.4 165.7 112.2 165.8 109.7 166.0 107.0 166.2 104.2 166.4 101.2 166.5 98.2 166.7 95.3 166.9 92.4 167.1 89.7 167.2 87.3 167.4 85.0 167.6 83.1 167.8 81.6 167.9 80.4 168.1 79.6 168.3 79.3 168.5 79.7 168.6 81.3 168.8 84.1 169.0 87.9 169.1 92.6 169.3 97.9 169.5 103.4 169.7 109.0 169.8 114.2 170.0 118.9 170.2 122.8 170.4 125.6 170.5 127.2 170.7 127.5 170.9 126.0 171.1 122.5 171.2 117.4 171.4 110.8 171.6 103.2 171.8 95.0 171.9 86.7 172.1 78.7 172.3 71.6 172.5 65.7 172.6 61.4 172.8 58.9 173.0 58.4 173.2 59.1 173.3 60.9 173.5 63.5 173.7 67.1 173.9 71.3 174.0 76.2 174.2 81.5 174.4 87.1 174.6 92.7 174.7 98.3 174.9 103.6 175.1 108.5 175.3 112.7 175.4 116.3 175.6 119.0 175.8 120.7 176.0 121.5 176.1 121.3 176.3 120.5 176.5 119.1 176.7 117.1 176.8 114.6 177.0 111.6 177.2 108.4 177.4 105.0 177.5 101.6 177.7 98.2 177.9 95.0 178.1 92.1 178.2 89.6 178.4 87.6 178.6 86.1 178.8 85.3 178.9 85.1 179.1 85.5 179.3 86.5 179.5 87.9 179.6 89.7 179.8 92.0 180.0 94.4 180.2 97.1 180.3 99.7 180.5 102.4 180.7 104.8 180.9 107.0 181.0 108.9 181.2 110.3 181.4 111.3 181.6 111.7 181.7 111.4 181.9 110.1 182.1 107.8 182.3 104.6 182.4 100.8 182.6 96.5 182.8 91.9 183.0 87.4 183.1 83.1 183.3 79.2 183.5 76.1 183.7 73.8 183.8 72.5 184.0 72.2 184.2 73.1 184.4 75.1 184.5 78.1 184.7 82.0 184.9 86.6 185.1 91.7 185.2 97.0 185.4 102.4 185.6 107.6 185.8 112.3 185.9 116.3 186.1 119.4 186.3 121.5 186.5 122.5 186.6 122.4 186.8 121.2 187.0 119.0 187.2 115.9 187.3 112.1 187.5 107.8 187.7 103.2 187.9 98.7 188.0 94.5 188.2 90.8 188.4 87.8 188.6 85.8 188.7 84.8 188.9 84.7 189.1 85.1 189.3 85.9 189.4 86.9 189.6 88.3 189.8 89.9 190.0 91.7 190.1 93.6 190.3 95.5 190.5 97.4 190.7 99.2 190.8 100.8 191.0 102.2 191.2 103.3 191.4 104.0 191.5 104.5 191.7 104.5 191.9 104.4 192.1 104.2 192.2 104.0 192.4 103.6 192.6 103.2 192.8 102.8 192.9 102.5 193.1 102.2 193.3 102.0 193.5 101.9 193.6 101.9 193.8 102.0 194.0 102.1 194.2 101.7 194.3 100.4 194.5 98.5 194.7 96.1 194.9 93.4 195.0 90.7 195.2 88.3 195.4 86.3 195.6 85.1 195.7 84.7 195.9 85.1 196.1 86.4 196.3 88.4 196.4 91.2 196.6 94.5 196.8 98.3 196.9 102.4 197.1 106.5 197.3 110.5 197.5 114.3 197.6 117.6 197.8 120.4 198.0 122.5 198.2 123.8 198.3 124.2 198.5 124.0 198.7 123.4 198.9 122.5 199.0 121.3 199.2 119.7 199.4 117.8 199.6 115.6 199.7 113.3 199.9 110.7 200.1 108.1 200.3 105.3 200.4 102.5 200.6 99.7 200.8 97.0 201.0 94.4 201.1 91.9 201.3 89.6 201.5 87.6 201.7 85.9 201.8 84.5 202.0 83.4 202.2 82.6 202.4 82.3 202.5 82.3 202.7 83.3 202.9 85.1 203.1 87.7 203.2 90.8 203.4 94.3 203.6 98.0 203.8 101.5 203.9 104.7 204.1 107.2 204.3 109.1 204.5 110.0 204.6 110.1 204.8 109.7 205.0 108.9 205.2 107.8 205.3 106.4 205.5 104.8 205.7 103.1 205.9 101.3 206.0 99.7 206.2 98.2 206.4 96.9 206.6 96.0 206.7 95.4 206.9 95.2 207.1 95.3 207.3 95.9 207.4 96.7 207.6 97.7 207.8 98.8 208.0 100.0 208.1 101.0 208.3 101.8 208.5 102.3 208.7 102.5 208.8 102.2 209.0 101.4 209.2 100.2 209.4 98.5 209.5 96.6 209.7 94.5 209.9 92.5 210.1 90.7 210.2 89.2 210.4 88.2 210.6 87.6 210.8 87.7 210.9 88.4 211.1 89.8 211.3 91.9 211.5 94.5 211.6 97.5 211.8 100.8 212.0 104.1 212.2 107.3 212.3 110.3 212.5 112.9 212.7 115.0 212.9 116.4 213.0 117.2 213.2 117.2 213.4 116.7 213.6 115.7 213.7 114.2 213.9 112.3 214.1 110.2 214.3 107.8 214.4 105.3 214.6 102.8 214.8 100.5 215.0 98.3 215.1 96.4 215.3 95.0 215.5 94.0 215.7 93.4 215.8 93.5 216.0 94.1 216.2 95.4 216.4 97.3 216.5 99.5 216.7 102.0 216.9 104.6 217.1 107.1 217.2 109.4 217.4 111.2 217.6 112.5 217.8 113.2 217.9 113.2 218.1 112.6 218.3 111.5 218.5 110.0 218.6 108.0 218.8 105.7 219.0 103.2 219.2 100.5 219.3 97.9 219.5 95.3 219.7 93.0 219.9 91.1 220.0 89.5 220.2 88.4 220.4 87.9 220.6 87.9 220.7 88.9 220.9 90.9 221.1 93.8 221.3 97.3 221.4 101.4 221.6 105.8 221.8 110.2 222.0 114.4 222.1 118.3 222.3 121.5 222.5 123.9 222.7 125.5 222.8 126.0 223.0 125.4 223.2 123.6 223.4 120.7 223.5 116.8 223.7 112.1 223.9 106.8 224.0 101.1 224.2 95.3 224.4 89.6 224.6 84.3 224.7 79.6 224.9 75.7 225.1 72.8 225.3 71.0 225.4 70.4 225.6 71.0 225.8 72.9 226.0 76.0 226.1 80.0 226.3 84.7 226.5 89.9 226.7 95.3 226.8 100.5 227.0 105.2 227.2 109.2 227.4 112.3 227.5 114.2 227.7 114.8 227.9 114.4 228.1 113.0 228.2 110.9 228.4 108.0 228.6 104.6 228.8 100.9 228.9 97.0 229.1 93.1 229.3 89.5 229.5 86.4 229.6 83.9 229.8 82.1 230.0 81.2 230.2 81.3 230.3 83.1 230.5 86.4 230.7 91.0 230.9 96.3 231.0 102.0 231.2 107.4 231.4 112.0 231.6 115.3 231.7 117.0 231.9 117.2 232.1 116.4 232.3 114.8 232.4 112.5 232.6 109.6 232.8 106.1 233.0 102.4 233.1 98.4 233.3 94.4 233.5 90.5 233.7 86.9 233.8 83.7 234.0 81.1 234.2 79.1 234.4 77.9 234.5 77.5 234.7 78.2 234.9 80.0 235.1 83.1 235.2 87.1 235.4 91.8 235.6 97.1 235.8 102.6 235.9 108.0 236.1 113.0 236.3 117.4 236.5 121.0 236.6 123.4 236.8 124.7 237.0 124.8 237.2 124.0 237.3 122.4 237.5 120.2 237.7 117.4 237.9 114.3 238.0 110.9 238.2 107.4 238.4 104.1 238.6 101.1 238.7 98.6 238.9 96.7 239.1 95.6 239.3 95.2 239.4 95.9 239.6 98.0 239.8 100.9 240.0 103.7 240.1 105.8 240.3 106.5 240.5 106.2 240.7 105.1 240.8 103.5 241.0 101.4 241.2 99.2 241.4 97.0 241.5 95.1 241.7 93.7 241.9 93.0 242.1 93.0 242.2 93.5 242.4 94.5 242.6 95.9 242.8 97.5 242.9 99.2 243.1 100.7 243.3 101.9 243.5 102.7 243.6 103.0 243.8 102.9 244.0 102.6 244.2 102.3 244.3 101.7 244.5 101.2 244.7 100.5 244.9 99.9 245.0 99.3 245.2 98.8 245.4 98.4 245.6 98.1 245.7 98.1 245.9 98.5 246.1 99.6 246.3 101.4 246.4 103.6 246.6 106.1 246.8 108.6 247.0 110.8 247.1 112.6 247.3 113.7 247.5 114.1 247.7 113.5 247.8 111.6 248.0 108.7 248.2 105.0 248.4 101.0 248.5 96.9 248.7 93.2 248.9 90.3 249.1 88.4 249.2 87.8 249.4 88.4 249.6 90.0 249.8 92.6 249.9 96.0 250.1 100.0 250.3 104.1 250.5 108.2 250.6 111.9 250.8 114.9 251.0 117.1 251.1 118.2 251.3 118.3 251.5 117.5 251.7 115.9 251.8 113.6 252.0 110.9 252.2 107.8 252.4 104.6 252.5 101.6 252.7 98.8 252.9 96.6 253.1 95.0 253.2 94.1 253.4 94.1 253.6 94.7 253.8 95.9 253.9 97.5 254.1 99.5 254.3 101.6 254.5 103.9 254.6 105.9 254.8 107.8 255.0 109.2 255.2 110.0 255.3 110.3 255.5 110.1 255.7 109.3 255.9 108.0 256.0 106.3 256.2 104.3 256.4 102.0 256.6 99.8 256.7 97.6 256.9 95.6 257.1 93.8 257.3 92.6 257.4 91.8 257.6 91.5 257.8 91.7 258.0 92.4 258.1 93.6 258.3 95.2 258.5 97.1 258.7 99.3 258.8 101.7 259.0 104.1 259.2 106.6 259.4 109.0 259.5 111.2 259.7 113.1 259.9 114.7 260.1 115.9 260.2 116.6 260.4 116.8 260.6 116.3 260.8 115.0 260.9 112.8 261.1 110.0 261.3 106.8 261.5 103.3 261.6 100.0 261.8 96.9 262.0 94.4 262.2 92.6 262.3 91.7 262.5 91.7 262.7 92.4 262.9 93.7 263.0 95.3 263.2 96.9 263.4 98.2 263.6 98.9 263.7 98.9 263.9 98.4 264.1 97.4 264.3 96.0 264.4 94.3 264.6 92.6 264.8 91.0 265.0 89.6 265.1 88.6 265.3 88.1 265.5 88.2 265.7 89.6 265.8 92.4 266.0 96.3 266.2 101.0 266.4 106.4 266.5 111.9 266.7 117.2 266.9 122.0 267.1 125.9 267.2 128.6 267.4 130.0 267.6 130.0 267.8 128.4 267.9 125.4 268.1 121.0 268.3 115.5 268.5 109.2 268.6 102.5 268.8 95.6 269.0 89.1 269.2 83.1 269.3 78.2 269.5 74.4 269.7 72.1 269.9 71.3 270.0 72.3 270.2 75.2 270.4 79.8 270.6 85.7 270.7 92.4 270.9 99.5 271.1 106.2 271.3 112.1 271.4 116.7 271.6 119.6 271.8 120.6 272.0 119.6 272.1 116.5 272.3 111.7 272.5 105.7 272.7 98.8 272.8 91.8 273.0 85.3 273.2 79.8 273.4 75.8 273.5 73.8 273.7 73.7 273.9 75.0 274.1 77.6 274.2 81.2 274.4 85.7 274.6 90.7 274.8 95.8 274.9 100.8 275.1 105.3 275.3 108.9 275.5 111.5 275.6 112.9 275.8 112.8 276.0 111.3 276.2 108.3 276.3 104.2 276.5 99.1 276.7 93.6 276.9 87.9 277.0 82.5 277.2 77.9 277.4 74.3 277.6 72.0 277.7 71.3 277.9 72.3 278.1 75.2 278.3 79.9 278.4 86.1 278.6 93.5 278.8 101.7 278.9 110.3 279.1 118.7 279.3 126.5 279.5 133.4 279.6 138.9 279.8 142.7 280.0 144.7 280.2 144.8 280.3 143.7 280.5 141.5 280.7 138.3 280.9 134.2 281.0 129.4 281.2 124.0 281.4 118.2 281.6 112.3 281.7 106.5 281.9 100.9 282.1 95.7 282.3 91.3 282.4 87.6 282.6 84.9 282.8 83.2 283.0 82.7 283.1 83.2 283.3 84.8 283.5 87.3 283.7 90.7 283.8 94.7 284.0 99.2 284.2 103.8 284.4 108.4 284.5 112.6 284.7 116.4 284.9 119.3 285.1 121.4 285.2 122.5 285.4 122.5 285.6 121.7 285.8 120.2 285.9 118.0 286.1 115.4 286.3 112.4 286.5 109.4 286.6 106.4 286.8 103.8 287.0 101.6 287.2 100.1 287.3 99.3 287.5 99.2 287.7 99.8 287.9 100.9 288.0 102.5 288.2 104.4 288.4 106.7 288.6 109.1 288.7 111.5 288.9 113.8 289.1 115.9 289.3 117.7 289.4 119.0 289.6 119.9 289.8 120.2 290.0 120.0 290.1 119.7 290.3 119.1 290.5 118.4 290.7 117.4 290.8 116.3 291.0 115.0 291.2 113.7 291.4 112.2 291.5 110.7 291.7 109.2 291.9 107.7 292.1 106.3 292.2 105.0 292.4 103.8 292.6 102.8 292.8 101.9 292.9 101.2 293.1 100.8 293.3 100.5 293.5 100.5 293.6 100.8 293.8 101.2 294.0 101.7 294.2 102.5 294.3 103.3 294.5 104.3 294.7 105.2 294.9 106.2 295.0 107.1 295.2 107.9 295.4 108.5 295.6 109.0 295.7 109.3 295.9 109.4 296.1 109.3 296.3 108.9 296.4 108.2 296.6 107.4 296.8 106.4 297.0 105.5 297.1 104.7 297.3 104.0 297.5 103.6 297.7 103.4 297.8 103.6 298.0 104.1 298.2 104.9 298.4 105.9 298.5 107.1 298.7 108.5 298.9 109.9 299.1 111.3 299.2 112.6 299.4 113.8 299.6 114.7 299.8 115.3 299.9 115.7 300.1 115.6 300.3 114.9 300.5 113.6 300.6 111.8 300.8 109.6 301.0 107.1 301.2 104.5 301.3 102.0 301.5 99.7 301.7 97.9 301.9 96.6 302.0 95.9 302.2 95.9 302.4 96.8 302.6 98.6 302.7 101.0 302.9 103.9 303.1 107.2 303.3 110.5 303.4 113.6 303.6 116.3 303.8 118.4 304.0 119.7 304.1 120.2 304.3 119.8 304.5 118.8 304.7 117.1 304.8 114.9 305.0 112.3 305.2 109.4 305.4 106.3 305.5 103.4 305.7 100.6 305.9 98.1 306.0 96.2 306.2 94.8 306.4 94.1 306.6 94.1 306.7 94.5 306.9 95.3 307.1 96.4 307.3 97.9 307.4 99.5 307.6 101.4 307.8 103.4 308.0 105.4 308.1 107.3 308.3 109.1 308.5 110.6 308.7 111.9 308.8 112.9 309.0 113.5 309.2 113.7 309.4 113.5 309.5 112.9 309.7 112.0 309.9 110.8 310.1 109.4 310.2 107.8 310.4 106.1 310.6 104.5 310.8 103.0 310.9 101.6 311.1 100.6 311.3 99.8 311.5 99.4 311.6 99.4 311.8 99.7 312.0 100.3 312.2 101.1 312.3 102.1 312.5 103.2 312.7 104.4 312.9 105.7 313.0 106.9 313.2 108.0 313.4 108.9 313.6 109.5 313.7 110.0 313.9 110.1 314.1 110.0 314.3 109.7 314.4 109.1 314.6 108.4 314.8 107.6 315.0 106.6 315.1 105.6 315.3 104.7 315.5 103.8 315.7 103.0 315.8 102.3 316.0 101.9 316.2 101.7 316.4 101.7 316.5 102.0 316.7 102.5 316.9 103.3 317.1 104.3 317.2 105.3 317.4 106.4 317.6 107.3 317.8 108.1 317.9 108.7 318.1 109.0 318.3 109.0 318.5 108.9 318.6 108.7 318.8 108.5 319.0 108.2 319.2 107.9 319.3 107.6 319.5 107.4 319.7 107.3 319.9 107.2" stroke="#000" stroke-width="2.6"/>
<path d="M48.9 94.5L49.0 94.5 49.2 94.5 49.4 94.5 49.6 94.5 49.7 94.5 49.9 94.6 50.1 94.6 50.3 94.6 50.4 94.7 50.6 94.7 50.8 94.7 51.0 94.8 51.1 94.8 51.3 94.8 51.5 94.8 51.7 94.9 51.8 94.9 52.0 94.9 52.2 94.9 52.4 94.9 52.5 94.9 52.7 94.9 52.9 95.1 53.1 95.3 53.2 95.6 53.4 95.9 53.6 96.3 53.8 96.6 53.9 96.8 54.1 96.9 54.3 96.9 54.5 96.4 54.6 95.6 54.8 94.5 55.0 93.2 55.2 91.8 55.3 90.6 55.5 89.4 55.7 88.6 55.9 88.1 56.0 88.0 56.2 88.3 56.4 89.0 56.6 89.8 56.7 90.6 56.9 91.2 57.1 91.6 57.3 91.5 57.4 91.2 57.6 90.7 57.8 90.1 58.0 89.5 58.1 89.0 58.3 88.7 58.5 89.0 58.7 91.1 58.8 94.8 59.0 99.3 59.2 103.6 59.4 106.6 59.5 107.7 59.7 107.0 59.9 105.0 60.0 101.8 60.2 97.5 60.4 92.5 60.6 86.9 60.7 81.1 60.9 75.3 61.1 70.0 61.3 65.3 61.4 61.6 61.6 58.9 61.8 57.6 62.0 57.7 62.1 59.7 62.3 63.5 62.5 69.2 62.7 76.6 62.8 85.3 63.0 95.3 63.2 106.1 63.4 117.6 63.5 129.2 63.7 140.8 63.9 152.0 64.1 162.4 64.2 171.8 64.4 179.9 64.6 186.4 64.8 191.2 64.9 194.2 65.1 195.2 65.3 193.4 65.5 188.1 65.6 179.4 65.8 167.9 66.0 153.8 66.2 137.8 66.3 120.6 66.5 102.9 66.7 85.3 66.9 68.6 67.0 53.6 67.2 40.7 67.4 30.5 67.6 23.5 67.7 19.9 67.9 20.0 68.1 24.1 68.3 31.9 68.4 42.7 68.6 55.4 68.8 68.7 69.0 81.3 69.1 92.1 69.3 99.9 69.5 104.0 69.7 104.5 69.8 103.8 70.0 102.6 70.2 100.9 70.4 99.1 70.5 97.2 70.7 95.6 70.9 94.3 71.1 93.7 71.2 93.7 71.4 94.7 71.6 95.7 71.8 95.6 71.9 94.7 72.1 94.9 72.3 98.0 72.5 102.7 72.6 106.9 72.8 108.6 73.0 107.8 73.2 105.7 73.3 102.4 73.5 98.0 73.7 93.1 73.9 88.0 74.0 83.1 74.2 78.8 74.4 75.5 74.6 73.3 74.7 72.6 74.9 72.7 75.1 72.9 75.3 73.1 75.4 72.8 75.6 72.2 75.8 71.2 76.0 69.9 76.1 68.3 76.3 66.4 76.5 64.5 76.7 62.6 76.8 60.7 77.0 58.9 77.2 57.5 77.4 56.3 77.5 55.4 77.7 55.0 77.9 55.2 78.1 56.8 78.2 60.0 78.4 64.5 78.6 70.2 78.8 76.7 78.9 83.8 79.1 91.1 79.3 98.2 79.5 104.7 79.6 110.4 79.8 115.0 80.0 118.1 80.2 119.7 80.3 119.8 80.5 119.0 80.7 117.3 80.9 114.9 81.0 111.7 81.2 107.8 81.4 103.5 81.6 98.6 81.7 93.5 81.9 88.2 82.1 82.7 82.3 77.4 82.4 72.2 82.6 67.4 82.8 63.0 83.0 59.2 83.1 56.0 83.3 53.6 83.5 51.9 83.7 51.1 83.8 51.2 84.0 52.8 84.2 56.0 84.4 60.3 84.5 65.4 84.7 70.7 84.9 75.8 85.1 80.1 85.2 83.3 85.4 84.9 85.6 84.8 85.8 82.5 85.9 78.1 86.1 72.1 86.3 65.4 86.5 58.6 86.6 52.7 86.8 48.2 87.0 45.9 87.1 45.9 87.3 48.5 87.5 53.7 87.7 61.0 87.8 70.3 88.0 81.0 88.2 92.8 88.4 104.9 88.5 116.9 88.7 128.2 88.9 138.3 89.1 146.6 89.2 152.9 89.4 156.8 89.6 158.1 89.8 156.9 89.9 153.2 90.1 147.2 90.3 139.2 90.5 129.6 90.6 118.7 90.8 107.0 91.0 95.1 91.2 83.4 91.3 72.6 91.5 62.9 91.7 54.9 91.9 49.0 92.0 45.3 92.2 44.0 92.4 45.1 92.6 48.4 92.7 53.8 92.9 61.1 93.1 70.0 93.3 80.3 93.4 91.7 93.6 103.8 93.8 116.1 94.0 128.4 94.1 140.1 94.3 151.0 94.5 160.7 94.7 168.8 94.8 175.2 95.0 179.5 95.2 181.7 95.4 181.9 95.5 180.9 95.7 178.9 95.9 175.9 96.1 172.1 96.2 167.5 96.4 162.1 96.6 156.0 96.8 149.5 96.9 142.6 97.1 135.3 97.3 128.0 97.5 120.6 97.6 113.4 97.8 106.5 98.0 99.9 98.2 93.9 98.3 88.5 98.5 83.8 98.7 80.0 98.9 77.1 99.0 75.1 99.2 74.1 99.4 74.1 99.6 75.1 99.7 77.2 99.9 80.1 100.1 83.9 100.3 88.3 100.4 93.1 100.6 98.2 100.8 103.4 101.0 108.4 101.1 113.0 101.3 117.1 101.5 120.5 101.7 123.0 101.8 124.6 102.0 125.1 102.2 124.7 102.4 123.7 102.5 122.0 102.7 119.8 102.9 117.1 103.1 114.0 103.2 110.7 103.4 107.2 103.6 103.9 103.8 100.6 103.9 97.7 104.1 95.2 104.3 93.3 104.5 91.9 104.6 91.2 104.8 91.2 105.0 92.1 105.2 93.7 105.3 95.9 105.5 98.8 105.7 102.0 105.9 105.5 106.0 109.1 106.2 112.5 106.4 115.6 106.6 118.1 106.7 120.1 106.9 121.3 107.1 121.7 107.3 121.4 107.4 120.4 107.6 118.8 107.8 116.6 108.0 113.9 108.1 110.9 108.3 107.6 108.5 104.1 108.7 100.6 108.8 97.1 109.0 93.9 109.2 91.1 109.4 88.6 109.5 86.7 109.7 85.4 109.9 84.8 110.1 84.8 110.2 85.8 110.4 87.7 110.6 90.4 110.8 93.8 110.9 97.7 111.1 101.9 111.3 106.2 111.5 110.2 111.6 113.9 111.8 117.0 112.0 119.3 112.2 120.8 112.3 121.3 112.5 121.0 112.7 120.2 112.9 118.9 113.0 117.1 113.2 114.9 113.4 112.3 113.6 109.5 113.7 106.6 113.9 103.6 114.1 100.6 114.3 97.7 114.4 95.1 114.6 92.9 114.8 91.0 114.9 89.6 115.1 88.6 115.3 88.3 115.5 88.5 115.6 89.6 115.8 91.3 116.0 93.6 116.2 96.3 116.3 99.0 116.5 101.5 116.7 103.6 116.9 105.1 117.0 105.8 117.2 105.7 117.4 105.0 117.6 103.6 117.7 102.1 117.9 100.5 118.1 99.3 118.3 98.8 118.4 98.8 118.6 99.3 118.8 100.3 119.0 101.5 119.1 103.1 119.3 105.0 119.5 107.0 119.7 109.2 119.8 111.3 120.0 113.4 120.2 115.4 120.4 117.1 120.5 118.5 120.7 119.5 120.9 120.2 121.1 120.4 121.2 120.0 121.4 118.6 121.6 116.5 121.8 113.6 121.9 110.2 122.1 106.3 122.3 102.3 122.5 98.3 122.6 94.6 122.8 91.2 123.0 88.5 123.2 86.5 123.3 85.4 123.5 85.2 123.7 86.2 123.9 88.7 124.0 92.4 124.2 97.3 124.4 103.0 124.6 109.3 124.7 115.9 124.9 122.5 125.1 128.9 125.3 134.6 125.4 139.4 125.6 143.1 125.8 145.6 126.0 146.7 126.1 145.9 126.3 142.4 126.5 136.5 126.7 128.7 126.8 119.8 127.0 110.7 127.2 102.3 127.4 95.3 127.5 90.6 127.7 88.4 127.9 88.5 128.1 89.1 128.2 90.2 128.4 91.8 128.6 93.8 128.8 96.1 128.9 98.7 129.1 101.6 129.3 104.5 129.5 107.6 129.6 110.6 129.8 113.5 130.0 116.3 130.2 118.8 130.3 120.9 130.5 122.7 130.7 124.0 130.9 124.9 131.0 125.3 131.2 124.9 131.4 123.3 131.6 120.5 131.7 116.8 131.9 112.3 132.1 107.6 132.3 102.8 132.4 98.3 132.6 94.6 132.8 91.8 133.0 90.2 133.1 89.8 133.3 90.2 133.5 91.0 133.7 92.2 133.8 93.7 134.0 95.6 134.2 97.7 134.4 99.9 134.5 102.2 134.7 104.5 134.9 106.5 135.1 108.4 135.2 110.0 135.4 111.2 135.6 112.0 135.8 112.3 135.9 112.2 136.1 111.6 136.3 110.8 136.5 109.9 136.6 109.4 136.8 109.2 137.0 109.4 137.2 109.1 137.3 107.8 137.5 105.6 137.7 102.7 137.9 99.4 138.0 96.1 138.2 93.2 138.4 91.0 138.6 89.7 138.7 89.4 138.9 90.5 139.1 92.9 139.3 96.5 139.4 101.1 139.6 106.4 139.8 112.0 140.0 117.7 140.1 122.9 140.3 127.5 140.5 131.1 140.7 133.6 140.8 134.6 141.0 134.5 141.2 133.6 141.4 132.1 141.5 130.1 141.7 127.6 141.9 124.8 142.0 121.9 142.2 119.0 142.4 116.4 142.6 114.1 142.7 112.3 142.9 111.1 143.1 110.6 143.3 110.7 143.4 110.8 143.6 110.0 143.8 108.5 144.0 106.8 144.1 105.3 144.3 104.6 144.5 104.6 144.7 105.0 144.8 105.8 145.0 106.8 145.2 108.1 145.4 109.7 145.5 111.4 145.7 113.4 145.9 115.5 146.1 117.7 146.2 119.9 146.4 122.2 146.6 124.4 146.8 126.5 146.9 128.4 147.1 130.2 147.3 131.8 147.5 133.1 147.6 134.1 147.8 134.8 148.0 135.3 148.2 135.3 148.3 134.0 148.5 131.1 148.7 126.6 148.9 120.7 149.0 113.6 149.2 105.5 149.4 96.6 149.6 87.3 149.7 77.8 149.9 68.5 150.1 59.6 150.3 51.5 150.4 44.4 150.6 38.5 150.8 34.0 151.0 31.1 151.1 29.8 151.3 30.3 151.5 32.8 151.7 37.3 151.8 43.6 152.0 51.5 152.2 60.7 152.4 71.1 152.5 82.2 152.7 93.8 152.9 105.5 153.1 116.9 153.2 127.6 153.4 137.5 153.6 146.1 153.8 153.2 153.9 158.6 154.1 162.1 154.3 163.6 154.5 163.2 154.6 160.9 154.8 156.9 155.0 151.3 155.2 144.5 155.3 136.6 155.5 128.1 155.7 119.3 155.9 110.6 156.0 102.3 156.2 94.9 156.4 88.7 156.6 83.9 156.7 80.7 156.9 79.4 157.1 79.7 157.3 81.4 157.4 84.3 157.6 88.4 157.8 93.3 158.0 98.9 158.1 104.8 158.3 110.6 158.5 116.2 158.7 121.1 158.8 125.2 159.0 128.1 159.2 129.8 159.4 130.2 159.5 129.2 159.7 127.0 159.9 123.6 160.1 119.2 160.2 114.0 160.4 108.2 160.6 102.1 160.8 95.9 160.9 89.9 161.1 84.3 161.3 79.5 161.5 75.6 161.6 72.8 161.8 71.2 162.0 70.9 162.2 71.7 162.3 73.5 162.5 76.3 162.7 80.0 162.9 84.3 163.0 89.1 163.2 94.2 163.4 99.4 163.6 104.3 163.7 108.9 163.9 112.9 164.1 116.2 164.3 118.5 164.4 119.9 164.6 120.2 164.8 119.8 165.0 119.1 165.1 117.9 165.3 116.3 165.5 114.4 165.7 112.2 165.8 109.7 166.0 107.0 166.2 104.2 166.4 101.2 166.5 98.2 166.7 95.3 166.9 92.4 167.1 89.7 167.2 87.3 167.4 85.0 167.6 83.1 167.8 81.6 167.9 80.4 168.1 79.6 168.3 79.3 168.5 79.7 168.6 81.3 168.8 84.1 169.0 87.9 169.1 92.6 169.3 97.9 169.5 103.4 169.7 109.0 169.8 114.2 170.0 118.9 170.2 122.8 170.4 125.6 170.5 127.2 170.7 127.5 170.9 126.0 171.1 122.5 171.2 117.4 171.4 110.8 171.6 103.2 171.8 95.0 171.9 86.7 172.1 78.7 172.3 71.6 172.5 65.7 172.6 61.4 172.8 58.9 173.0 58.4 173.2 59.1 173.3 60.9 173.5 63.5 173.7 67.1 173.9 71.3 174.0 76.2 174.2 81.5 174.4 87.1 174.6 92.7 174.7 98.3 174.9 103.6 175.1 108.5 175.3 112.7 175.4 116.3 175.6 119.0 175.8 120.7 176.0 121.5 176.1 121.3 176.3 120.5 176.5 119.1 176.7 117.1 176.8 114.6 177.0 111.6 177.2 108.4 177.4 105.0 177.5 101.6 177.7 98.2 177.9 95.0 178.1 92.1 178.2 89.6 178.4 87.6 178.6 86.1 178.8 85.3 178.9 85.1 179.1 85.5 179.3 86.5 179.5 87.9 179.6 89.7 179.8 92.0 180.0 94.4 180.2 97.1 180.3 99.7 180.5 102.4 180.7 104.8 180.9 107.0 181.0 108.9 181.2 110.3 181.4 111.3 181.6 111.7 181.7 111.4 181.9 110.1 182.1 107.8 182.3 104.6 182.4 100.8 182.6 96.5 182.8 91.9 183.0 87.4 183.1 83.1 183.3 79.2 183.5 76.1 183.7 73.8 183.8 72.5 184.0 72.2 184.2 73.1 184.4 75.1 184.5 78.1 184.7 82.0 184.9 86.6 185.1 91.7 185.2 97.0 185.4 102.4 185.6 107.6 185.8 112.3 185.9 116.3 186.1 119.4 186.3 121.5 186.5 122.5 186.6 122.4 186.8 121.2 187.0 119.0 187.2 115.9 187.3 112.1 187.5 107.8 187.7 103.2 187.9 98.7 188.0 94.5 188.2 90.8 188.4 87.8 188.6 85.8 188.7 84.8 188.9 84.7 189.1 85.1 189.3 85.9 189.4 86.9 189.6 88.3 189.8 89.9 190.0 91.7 190.1 93.6 190.3 95.5 190.5 97.4 190.7 99.2 190.8 100.8 191.0 102.2 191.2 103.3 191.4 104.0 191.5 104.5 191.7 104.5 191.9 104.4 192.1 104.2 192.2 104.0 192.4 103.6 192.6 103.2 192.8 102.8 192.9 102.5 193.1 102.2 193.3 102.0 193.5 101.9 193.6 101.9 193.8 102.0 194.0 102.1 194.2 101.7 194.3 100.4 194.5 98.5 194.7 96.1 194.9 93.4 195.0 90.7 195.2 88.3 195.4 86.3 195.6 85.1 195.7 84.7 195.9 85.1 196.1 86.4 196.3 88.4 196.4 91.2 196.6 94.5 196.8 98.3 196.9 102.4 197.1 106.5 197.3 110.5 197.5 114.3 197.6 117.6 197.8 120.4 198.0 122.5 198.2 123.8 198.3 124.2 198.5 124.0 198.7 123.4 198.9 122.5 199.0 121.3 199.2 119.7 199.4 117.8 199.6 115.6 199.7 113.3 199.9 110.7 200.1 108.1 200.3 105.3 200.4 102.5 200.6 99.7 200.8 97.0 201.0 94.4 201.1 91.9 201.3 89.6 201.5 87.6 201.7 85.9 201.8 84.5 202.0 83.4 202.2 82.6 202.4 82.3 202.5 82.3 202.7 83.3 202.9 85.1 203.1 87.7 203.2 90.8 203.4 94.3 203.6 98.0 203.8 101.5 203.9 104.7 204.1 107.2 204.3 109.1 204.5 110.0 204.6 110.1 204.8 109.7 205.0 108.9 205.2 107.8 205.3 106.4 205.5 104.8 205.7 103.1 205.9 101.3 206.0 99.7 206.2 98.2 206.4 96.9 206.6 96.0 206.7 95.4 206.9 95.2 207.1 95.3 207.3 95.9 207.4 96.7 207.6 97.7 207.8 98.8 208.0 100.0 208.1 101.0 208.3 101.8 208.5 102.3 208.7 102.5 208.8 102.2 209.0 101.4 209.2 100.2 209.4 98.5 209.5 96.6 209.7 94.5 209.9 92.5 210.1 90.7 210.2 89.2 210.4 88.2 210.6 87.6 210.8 87.7 210.9 88.4 211.1 89.8 211.3 91.9 211.5 94.5 211.6 97.5 211.8 100.8 212.0 104.1 212.2 107.3 212.3 110.3 212.5 112.9 212.7 115.0 212.9 116.4 213.0 117.2 213.2 117.2 213.4 116.7 213.6 115.7 213.7 114.2 213.9 112.3 214.1 110.2 214.3 107.8 214.4 105.3 214.6 102.8 214.8 100.5 215.0 98.3 215.1 96.4 215.3 95.0 215.5 94.0 215.7 93.4 215.8 93.5 216.0 94.1 216.2 95.4 216.4 97.3 216.5 99.5 216.7 102.0 216.9 104.6 217.1 107.1 217.2 109.4 217.4 111.2 217.6 112.5 217.8 113.2 217.9 113.2 218.1 112.6 218.3 111.5 218.5 110.0 218.6 108.0 218.8 105.7 219.0 103.2 219.2 100.5 219.3 97.9 219.5 95.3 219.7 93.0 219.9 91.1 220.0 89.5 220.2 88.4 220.4 87.9 220.6 87.9 220.7 88.9 220.9 90.9 221.1 93.8 221.3 97.3 221.4 101.4 221.6 105.8 221.8 110.2 222.0 114.4 222.1 118.3 222.3 121.5 222.5 123.9 222.7 125.5 222.8 126.0 223.0 125.4 223.2 123.6 223.4 120.7 223.5 116.8 223.7 112.1 223.9 106.8 224.0 101.1 224.2 95.3 224.4 89.6 224.6 84.3 224.7 79.6 224.9 75.7 225.1 72.8 225.3 71.0 225.4 70.4 225.6 71.0 225.8 72.9 226.0 76.0 226.1 80.0 226.3 84.7 226.5 89.9 226.7 95.3 226.8 100.5 227.0 105.2 227.2 109.2 227.4 112.3 227.5 114.2 227.7 114.8 227.9 114.4 228.1 113.0 228.2 110.9 228.4 108.0 228.6 104.6 228.8 100.9 228.9 97.0 229.1 93.1 229.3 89.5 229.5 86.4 229.6 83.9 229.8 82.1 230.0 81.2 230.2 81.3 230.3 83.1 230.5 86.4 230.7 91.0 230.9 96.3 231.0 102.0 231.2 107.4 231.4 112.0 231.6 115.3 231.7 117.0 231.9 117.2 232.1 116.4 232.3 114.8 232.4 112.5 232.6 109.6 232.8 106.1 233.0 102.4 233.1 98.4 233.3 94.4 233.5 90.5 233.7 86.9 233.8 83.7 234.0 81.1 234.2 79.1 234.4 77.9 234.5 77.5 234.7 78.2 234.9 80.0 235.1 83.1 235.2 87.1 235.4 91.8 235.6 97.1 235.8 102.6 235.9 108.0 236.1 113.0 236.3 117.4 236.5 121.0 236.6 123.4 236.8 124.7 237.0 124.8 237.2 124.0 237.3 122.4 237.5 120.2 237.7 117.4 237.9 114.3 238.0 110.9 238.2 107.4 238.4 104.1 238.6 101.1 238.7 98.6 238.9 96.7 239.1 95.6 239.3 95.2 239.4 95.9 239.6 98.0 239.8 100.9 240.0 103.7 240.1 105.8 240.3 106.5 240.5 106.2 240.7 105.1 240.8 103.5 241.0 101.4 241.2 99.2 241.4 97.0 241.5 95.1 241.7 93.7 241.9 93.0 242.1 93.0 242.2 93.5 242.4 94.5 242.6 95.9 242.8 97.5 242.9 99.2 243.1 100.7 243.3 101.9 243.5 102.7 243.6 103.0 243.8 102.9 244.0 102.6 244.2 102.3 244.3 101.7 244.5 101.2 244.7 100.5 244.9 99.9 245.0 99.3 245.2 98.8 245.4 98.4 245.6 98.1 245.7 98.1 245.9 98.5 246.1 99.6 246.3 101.4 246.4 103.6 246.6 106.1 246.8 108.6 247.0 110.8 247.1 112.6 247.3 113.7 247.5 114.1 247.7 113.5 247.8 111.6 248.0 108.7 248.2 105.0 248.4 101.0 248.5 96.9 248.7 93.2 248.9 90.3 249.1 88.4 249.2 87.8 249.4 88.4 249.6 90.0 249.8 92.6 249.9 96.0 250.1 100.0 250.3 104.1 250.5 108.2 250.6 111.9 250.8 114.9 251.0 117.1 251.1 118.2 251.3 118.3 251.5 117.5 251.7 115.9 251.8 113.6 252.0 110.9 252.2 107.8 252.4 104.6 252.5 101.6 252.7 98.8 252.9 96.6 253.1 95.0 253.2 94.1 253.4 94.1 253.6 94.7 253.8 95.9 253.9 97.5 254.1 99.5 254.3 101.6 254.5 103.9 254.6 105.9 254.8 107.8 255.0 109.2 255.2 110.0 255.3 110.3 255.5 110.1 255.7 109.3 255.9 108.0 256.0 106.3 256.2 104.3 256.4 102.0 256.6 99.8 256.7 97.6 256.9 95.6 257.1 93.8 257.3 92.6 257.4 91.8 257.6 91.5 257.8 91.7 258.0 92.4 258.1 93.6 258.3 95.2 258.5 97.1 258.7 99.3 258.8 101.7 259.0 104.1 259.2 106.6 259.4 109.0 259.5 111.2 259.7 113.1 259.9 114.7 260.1 115.9 260.2 116.6 260.4 116.8 260.6 116.3 260.8 115.0 260.9 112.8 261.1 110.0 261.3 106.8 261.5 103.3 261.6 100.0 261.8 96.9 262.0 94.4 262.2 92.6 262.3 91.7 262.5 91.7 262.7 92.4 262.9 93.7 263.0 95.3 263.2 96.9 263.4 98.2 263.6 98.9 263.7 98.9 263.9 98.4 264.1 97.4 264.3 96.0 264.4 94.3 264.6 92.6 264.8 91.0 265.0 89.6 265.1 88.6 265.3 88.1 265.5 88.2 265.7 89.6 265.8 92.4 266.0 96.3 266.2 101.0 266.4 106.4 266.5 111.9 266.7 117.2 266.9 122.0 267.1 125.9 267.2 128.6 267.4 130.0 267.6 130.0 267.8 128.4 267.9 125.4 268.1 121.0 268.3 115.5 268.5 109.2 268.6 102.5 268.8 95.6 269.0 89.1 269.2 83.1 269.3 78.2 269.5 74.4 269.7 72.1 269.9 71.3 270.0 72.3 270.2 75.2 270.4 79.8 270.6 85.7 270.7 92.4 270.9 99.5 271.1 106.2 271.3 112.1 271.4 116.7 271.6 119.6 271.8 120.6 272.0 119.6 272.1 116.5 272.3 111.7 272.5 105.7 272.7 98.8 272.8 91.8 273.0 85.3 273.2 79.8 273.4 75.8 273.5 73.8 273.7 73.7 273.9 75.0 274.1 77.6 274.2 81.2 274.4 85.7 274.6 90.7 274.8 95.8 274.9 100.8 275.1 105.3 275.3 108.9 275.5 111.5 275.6 112.9 275.8 112.8 276.0 111.3 276.2 108.3 276.3 104.2 276.5 99.1 276.7 93.6 276.9 87.9 277.0 82.5 277.2 77.9 277.4 74.3 277.6 72.0 277.7 71.3 277.9 72.3 278.1 75.2 278.3 79.9 278.4 86.1 278.6 93.5 278.8 101.7 278.9 110.3 279.1 118.7 279.3 126.5 279.5 133.4 279.6 138.9 279.8 142.7 280.0 144.7 280.2 144.8 280.3 143.7 280.5 141.5 280.7 138.3 280.9 134.2 281.0 129.4 281.2 124.0 281.4 118.2 281.6 112.3 281.7 106.5 281.9 100.9 282.1 95.7 282.3 91.3 282.4 87.6 282.6 84.9 282.8 83.2 283.0 82.7 283.1 83.2 283.3 84.8 283.5 87.3 283.7 90.7 283.8 94.7 284.0 99.2 284.2 103.8 284.4 108.4 284.5 112.6 284.7 116.4 284.9 119.3 285.1 121.4 285.2 122.5 285.4 122.5 285.6 121.7 285.8 120.2 285.9 118.0 286.1 115.4 286.3 112.4 286.5 109.4 286.6 106.4 286.8 103.8 287.0 101.6 287.2 100.1 287.3 99.3 287.5 99.2 287.7 99.8 287.9 100.9 288.0 102.5 288.2 104.4 288.4 106.7 288.6 109.1 288.7 111.5 288.9 113.8 289.1 115.9 289.3 117.7 289.4 119.0 289.6 119.9 289.8 120.2 290.0 120.0 290.1 119.7 290.3 119.1 290.5 118.4 290.7 117.4 290.8 116.3 291.0 115.0 291.2 113.7 291.4 112.2 291.5 110.7 291.7 109.2 291.9 107.7 292.1 106.3 292.2 105.0 292.4 103.8 292.6 102.8 292.8 101.9 292.9 101.2 293.1 100.8 293.3 100.5 293.5 100.5 293.6 100.8 293.8 101.2 294.0 101.7 294.2 102.5 294.3 103.3 294.5 104.3 294.7 105.2 294.9 106.2 295.0 107.1 295.2 107.9 295.4 108.5 295.6 109.0 295.7 109.3 295.9 109.4 296.1 109.3 296.3 108.9 296.4 108.2 296.6 107.4 296.8 106.4 297.0 105.5 297.1 104.7 297.3 104.0 297.5 103.6 297.7 103.4 297.8 103.6 298.0 104.1 298.2 104.9 298.4 105.9 298.5 107.1 298.7 108.5 298.9 109.9 299.1 111.3 299.2 112.6 299.4 113.8 299.6 114.7 299.8 115.3 299.9 115.7 300.1 115.6 300.3 114.9 300.5 113.6 300.6 111.8 300.8 109.6 301.0 107.1 301.2 104.5 301.3 102.0 301.5 99.7 301.7 97.9 301.9 96.6 302.0 95.9 302.2 95.9 302.4 96.8 302.6 98.6 302.7 101.0 302.9 103.9 303.1 107.2 303.3 110.5 303.4 113.6 303.6 116.3 303.8 118.4 304.0 119.7 304.1 120.2 304.3 119.8 304.5 118.8 304.7 117.1 304.8 114.9 305.0 112.3 305.2 109.4 305.4 106.3 305.5 103.4 305.7 100.6 305.9 98.1 306.0 96.2 306.2 94.8 306.4 94.1 306.6 94.1 306.7 94.5 306.9 95.3 307.1 96.4 307.3 97.9 307.4 99.5 307.6 101.4 307.8 103.4 308.0 105.4 308.1 107.3 308.3 109.1 308.5 110.6 308.7 111.9 308.8 112.9 309.0 113.5 309.2 113.7 309.4 113.5 309.5 112.9 309.7 112.0 309.9 110.8 310.1 109.4 310.2 107.8 310.4 106.1 310.6 104.5 310.8 103.0 310.9 101.6 311.1 100.6 311.3 99.8 311.5 99.4 311.6 99.4 311.8 99.7 312.0 100.3 312.2 101.1 312.3 102.1 312.5 103.2 312.7 104.4 312.9 105.7 313.0 106.9 313.2 108.0 313.4 108.9 313.6 109.5 313.7 110.0 313.9 110.1 314.1 110.0 314.3 109.7 314.4 109.1 314.6 108.4 314.8 107.6 315.0 106.6 315.1 105.6 315.3 104.7 315.5 103.8 315.7 103.0 315.8 102.3 316.0 101.9 316.2 101.7 316.4 101.7 316.5 102.0 316.7 102.5 316.9 103.3 317.1 104.3 317.2 105.3 317.4 106.4 317.6 107.3 317.8 108.1 317.9 108.7 318.1 109.0 318.3 109.0 318.5 108.9 318.6 108.7 318.8 108.5 319.0 108.2 319.2 107.9 319.3 107.6 319.5 107.4 319.7 107.3 319.9 107.2" stroke="#ff0000" stroke-width="1.5"/>
</g>
<rect x="76.5" y="207" width="251" height="20.4" fill="#fff"/>
<path d="M80.6 217.8H99.0" stroke="#000" stroke-width="2.1" stroke-linecap="round"/>
<path d="M180.2 217.75H199" stroke="#ff0000" stroke-width="1.2"/>
<path d="M256 217.75H275" stroke="#e4e4e4" stroke-width="1.3"/>
<text x="106.8" y="222.0" font-size="14.4">Prototype</text>
<text x="205.6" y="222.0" font-size="14.4">Exact</text>
<text x="280.6" y="222.0" font-size="14.4">Others</text>
<path d="M48.9 5.2H328.6V228.4H48.9ZM48.9 228.4h-6.5M48.9 217.3h-3.7M48.9 206.1h-6.5M48.9 195.0h-3.7M48.9 183.8h-6.5M48.9 172.6h-3.7M48.9 161.5h-6.5M48.9 150.3h-3.7M48.9 139.1h-6.5M48.9 128.0h-3.7M48.9 116.8h-6.5M48.9 105.7h-3.7M48.9 94.5h-6.5M48.9 83.3h-3.7M48.9 72.2h-6.5M48.9 61.0h-3.7M48.9 49.8h-6.5M48.9 38.7h-3.7M48.9 27.5h-6.5M48.9 16.4h-3.7M48.9 5.2h-6.5M48.9 228.4v6.2M66.3 228.4v3.4M83.8 228.4v6.2M101.3 228.4v3.4M118.8 228.4v6.2M136.3 228.4v3.4M153.8 228.4v6.2M171.2 228.4v3.4M188.7 228.4v6.2M206.2 228.4v3.4M223.7 228.4v6.2M241.2 228.4v3.4M258.7 228.4v6.2M276.2 228.4v3.4M293.6 228.4v6.2M311.1 228.4v3.4M328.6 228.4v6.2" stroke="#000" stroke-width="1.35" fill="none"/>
<g font-size="14" text-anchor="end"><text x="36.3" y="9.9">40</text><text x="36.3" y="32.2">30</text><text x="36.3" y="54.5">20</text><text x="36.3" y="76.9">10</text><text x="36.3" y="99.2">0</text><text x="36.3" y="121.5">-10</text><text x="36.3" y="143.8">-20</text><text x="36.3" y="166.2">-30</text><text x="36.3" y="188.5">-40</text><text x="36.3" y="210.8">-50</text><text x="36.3" y="233.1">-60</text></g>
<g font-size="14" text-anchor="middle"><text x="48.9" y="254.0">0</text><text x="83.8" y="254.0">4</text><text x="118.8" y="254.0">8</text><text x="153.8" y="254.0">12</text><text x="188.7" y="254.0">16</text><text x="223.7" y="254.0">20</text><text x="258.7" y="254.0">24</text><text x="293.6" y="254.0">28</text><text x="328.6" y="254.0">32</text></g>
<text x="189.1" y="274.7" font-size="14.05" text-anchor="middle">Time, sec</text>
<text transform="translate(10.0 116.8) rotate(-90)" font-size="13.7" text-anchor="middle">Displacement, mm</text>
<text x="180.0" y="305.0" font-size="14.1" text-anchor="middle">(a)</text>
</g>
<g id="panel-b">
<path d="M433.5 5.2V228.4M468.5 5.2V228.4M503.5 5.2V228.4M538.5 5.2V228.4M573.5 5.2V228.4M608.5 5.2V228.4M643.5 5.2V228.4" stroke="#000" stroke-opacity="0.115" stroke-width="0.9" fill="none"/>
<path d="M398.5 206.5H678.3M398.5 183.5H678.3M398.5 161.5H678.3M398.5 139.5H678.3M398.5 116.5H678.3M398.5 94.5H678.3M398.5 72.5H678.3M398.5 49.5H678.3M398.5 27.5H678.3" stroke="#000" stroke-opacity="0.105" stroke-width="0.9" fill="none"/>
<g clip-path="url(#cpb)" fill="none" stroke-linejoin="round" stroke-linecap="round">
<path d="M398.5 93.6 398.7 93.6 398.9 93.6 399.0 93.6 399.2 93.6 399.4 93.7 399.6 93.7 399.7 93.7 399.9 93.7 400.1 93.8 400.3 93.8 400.4 93.8 400.6 93.9 400.8 93.9 401.0 93.9 401.1 93.9 401.3 94.0 401.5 94.0 401.7 94.0 401.8 94.0 402.0 94.0 402.2 94.0 402.4 94.1 402.5 94.2 402.7 94.4 402.9 94.7 403.1 94.9 403.2 95.1 403.4 95.4 403.6 95.7 403.8 95.8 403.9 95.1 404.1 94.1 404.3 92.8 404.5 91.4 404.6 90.1 404.8 88.9 405.0 88.1 405.2 87.6 405.3 87.5 405.5 87.2 405.7 87.1 405.9 87.5 406.0 87.5 406.2 87.8 406.4 88.4 406.6 89.2 406.7 90.0 406.9 90.1 407.1 89.4 407.3 88.8 407.4 88.3 407.6 87.9 407.8 87.9 408.0 87.8 408.1 87.7 408.3 87.7 408.5 87.7 408.7 89.2 408.8 91.8 409.0 95.0 409.2 98.3 409.4 99.6 409.5 95.7 409.7 90.9 409.9 85.2 410.0 79.4 410.2 73.5 410.4 68.1 410.6 63.4 410.7 59.6 410.9 56.9 411.1 55.5 411.3 55.4 411.4 55.3 411.6 55.3 411.8 55.2 412.0 55.2 412.1 57.1 412.3 60.9 412.5 66.6 412.7 73.7 412.8 80.4 413.0 88.0 413.2 95.8 413.4 103.7 413.5 111.7 413.7 119.7 413.9 127.4 414.1 134.6 414.2 141.0 414.4 146.6 414.6 151.1 414.8 151.4 414.9 144.6 415.1 135.3 415.3 124.2 415.5 111.5 415.6 97.8 415.8 83.0 416.0 67.5 416.2 52.8 416.3 39.5 416.5 28.1 416.7 19.1 416.9 12.9 417.0 9.7 417.2 9.6 417.4 9.7 417.6 9.9 417.7 10.0 417.9 10.3 418.1 14.4 418.3 22.2 418.4 32.9 418.6 45.7 418.8 59.3 419.0 72.7 419.1 84.6 419.3 93.7 419.5 97.7 419.7 95.7 419.8 93.6 420.0 91.5 420.2 89.7 420.4 88.6 420.5 88.3 420.7 88.5 420.9 88.6 421.1 88.8 421.2 88.9 421.4 89.5 421.6 91.1 421.8 93.6 421.9 93.6 422.1 93.8 422.3 96.5 422.5 100.8 422.6 100.4 422.8 96.6 423.0 92.0 423.2 86.9 423.3 82.0 423.5 77.7 423.7 74.3 423.9 72.2 424.0 71.5 424.2 71.5 424.4 71.5 424.6 71.5 424.7 71.5 424.9 71.1 425.1 70.1 425.3 68.8 425.4 67.1 425.6 65.3 425.8 63.4 426.0 61.4 426.1 59.6 426.3 57.8 426.5 56.3 426.7 55.2 426.8 54.3 427.0 53.9 427.2 53.9 427.4 53.9 427.5 53.9 427.7 53.9 427.9 54.1 428.1 55.7 428.2 58.8 428.4 63.4 428.6 69.1 428.8 75.6 428.9 82.7 429.1 90.0 429.3 96.7 429.5 102.6 429.6 107.7 429.8 111.8 430.0 113.9 430.2 111.7 430.3 108.8 430.5 105.4 430.7 101.5 430.9 97.1 431.0 92.4 431.2 87.0 431.4 81.6 431.6 76.3 431.7 71.1 431.9 66.3 432.1 61.9 432.3 58.1 432.4 54.9 432.6 52.5 432.8 50.8 433.0 49.9 433.1 49.9 433.3 49.9 433.5 49.9 433.7 49.9 433.8 50.1 434.0 51.7 434.2 54.8 434.4 59.2 434.5 64.2 434.7 69.6 434.9 74.7 435.1 79.0 435.2 76.9 435.4 71.0 435.6 64.2 435.8 57.5 435.9 51.5 436.1 47.1 436.3 44.8 436.5 44.8 436.6 44.8 436.8 44.8 437.0 44.8 437.1 44.8 437.3 47.4 437.5 52.5 437.7 59.9 437.8 69.2 438.0 79.9 438.2 91.5 438.4 101.6 438.5 111.4 438.7 120.6 438.9 128.8 439.1 135.6 439.2 140.8 439.4 136.0 439.6 129.5 439.8 121.1 439.9 111.7 440.1 101.7 440.3 91.4 440.5 80.3 440.6 69.0 440.8 58.9 441.0 50.6 441.2 44.2 441.3 40.1 441.5 38.4 441.7 38.4 441.9 38.8 442.0 39.1 442.2 39.4 442.4 40.9 442.6 44.5 442.7 50.3 442.9 57.9 443.1 66.8 443.3 75.9 443.4 86.0 443.6 96.3 443.8 106.2 444.0 115.9 444.1 125.0 444.3 133.4 444.5 140.8 444.7 147.1 444.8 152.0 445.0 155.2 445.2 153.2 445.4 150.6 445.5 147.5 445.7 143.9 445.9 139.9 446.1 135.6 446.2 131.1 446.4 126.5 446.6 121.8 446.8 116.9 446.9 110.4 447.1 104.1 447.3 98.2 447.5 92.8 447.6 87.4 447.8 82.7 448.0 78.9 448.2 76.0 448.3 74.0 448.5 73.0 448.7 73.0 448.9 73.0 449.0 73.0 449.2 73.0 449.4 73.0 449.6 74.0 449.7 76.0 449.9 79.0 450.1 82.8 450.3 87.1 450.4 92.0 450.6 96.7 450.8 101.4 451.0 105.9 451.1 110.1 451.3 113.7 451.5 116.8 451.7 116.4 451.8 114.6 452.0 112.7 452.2 110.8 452.4 108.9 452.5 107.1 452.7 104.9 452.9 101.8 453.1 98.9 453.2 96.3 453.4 94.0 453.6 92.2 453.8 90.8 453.9 90.1 454.1 90.1 454.3 90.1 454.5 90.1 454.6 90.1 454.8 90.1 455.0 90.9 455.2 92.5 455.3 94.7 455.5 97.2 455.7 100.2 455.9 103.3 456.0 106.5 456.2 109.6 456.4 112.3 456.6 113.9 456.7 112.8 456.9 111.5 457.1 110.2 457.3 108.8 457.4 107.3 457.6 105.1 457.8 102.0 458.0 98.8 458.1 95.8 458.3 92.8 458.5 89.9 458.7 87.5 458.8 85.6 459.0 84.3 459.2 83.6 459.4 83.6 459.5 83.6 459.7 83.6 459.9 83.6 460.1 83.7 460.2 84.7 460.4 86.6 460.6 89.3 460.8 92.7 460.9 96.3 461.1 100.1 461.3 103.9 461.5 107.5 461.6 110.8 461.8 113.6 462.0 115.7 462.2 115.3 462.3 113.7 462.5 111.7 462.7 109.4 462.9 106.9 463.0 104.2 463.2 101.5 463.4 98.9 463.6 96.3 463.7 94.0 463.9 91.8 464.1 89.9 464.2 88.4 464.4 87.5 464.6 87.1 464.8 87.1 464.9 87.1 465.1 87.1 465.3 87.1 465.5 87.4 465.6 88.4 465.8 90.2 466.0 92.5 466.2 95.0 466.3 97.4 466.5 99.7 466.7 101.5 466.9 100.1 467.0 99.0 467.2 98.4 467.4 97.7 467.6 97.2 467.7 97.2 467.9 97.2 468.1 97.2 468.3 97.2 468.4 97.3 468.6 97.7 468.8 98.6 469.0 99.7 469.1 101.2 469.3 102.8 469.5 104.7 469.7 106.6 469.8 108.5 470.0 110.4 470.2 112.1 470.4 113.7 470.5 114.9 470.7 114.9 470.9 112.5 471.1 110.1 471.2 107.5 471.4 104.0 471.6 100.4 471.8 96.8 471.9 93.4 472.1 90.1 472.3 87.4 472.5 85.4 472.6 84.3 472.8 84.0 473.0 84.0 473.2 84.0 473.3 84.0 473.5 84.0 473.7 85.1 473.9 87.6 474.0 91.3 474.2 95.9 474.4 101.0 474.6 106.7 474.7 112.3 474.9 117.9 475.1 123.2 475.3 128.0 475.4 126.8 475.6 118.4 475.8 109.1 476.0 99.7 476.1 91.3 476.3 84.0 476.5 79.0 476.7 77.1 476.8 76.7 477.0 76.3 477.2 76.0 477.4 76.3 477.5 76.9 477.7 78.0 477.9 79.6 478.1 81.6 478.2 83.9 478.4 86.4 478.6 89.1 478.8 91.8 478.9 94.3 479.1 96.6 479.3 98.7 479.5 100.5 479.6 101.9 479.8 101.6 480.0 100.4 480.2 98.9 480.3 97.3 480.5 95.5 480.7 93.7 480.9 91.7 481.0 89.8 481.2 88.1 481.4 86.6 481.6 85.5 481.7 84.7 481.9 84.3 482.1 84.3 482.3 84.3 482.4 84.3 482.6 84.3 482.8 84.3 483.0 85.3 483.1 87.2 483.3 88.8 483.5 89.6 483.7 90.8 483.8 92.4 484.0 94.2 484.2 96.0 484.4 98.1 484.5 99.4 484.7 98.0 484.9 96.6 485.1 95.5 485.2 94.6 485.4 94.2 485.6 94.2 485.8 94.2 485.9 94.2 486.1 94.2 486.3 94.2 486.5 94.7 486.6 95.4 486.8 95.9 487.0 94.6 487.2 92.9 487.3 91.1 487.5 89.6 487.7 88.6 487.9 88.2 488.0 88.1 488.2 88.1 488.4 88.1 488.6 88.1 488.7 88.1 488.9 89.1 489.1 91.5 489.3 95.0 489.4 99.1 489.6 103.9 489.8 108.0 490.0 111.5 490.1 114.4 490.3 115.1 490.5 112.8 490.7 110.2 490.8 107.4 491.0 104.8 491.2 102.6 491.4 100.9 491.5 100.1 491.7 100.0 491.9 100.0 492.0 100.0 492.2 100.0 492.4 100.0 492.6 100.4 492.7 101.0 492.9 101.8 493.1 102.5 493.3 102.2 493.4 101.5 493.6 100.8 493.8 100.0 494.0 99.4 494.1 98.8 494.3 98.5 494.5 98.4 494.7 98.4 494.8 98.4 495.0 98.4 495.2 98.4 495.4 98.6 495.5 99.2 495.7 100.3 495.9 101.7 496.1 103.4 496.2 105.3 496.4 107.4 496.6 109.6 496.8 111.7 496.9 113.7 497.1 115.5 497.3 117.1 497.5 118.3 497.6 116.4 497.8 113.4 498.0 109.5 498.2 104.9 498.3 99.5 498.5 93.7 498.7 86.8 498.9 79.7 499.0 72.5 499.2 65.4 499.4 58.3 499.6 50.2 499.7 43.0 499.9 37.1 500.1 32.7 500.3 29.7 500.4 28.5 500.6 28.5 500.8 28.5 501.0 28.5 501.1 28.5 501.3 29.0 501.5 31.5 501.7 36.0 501.8 42.2 502.0 50.1 502.2 59.3 502.4 69.5 502.5 80.4 502.7 91.6 502.9 101.8 503.1 111.3 503.2 119.9 503.4 127.3 503.6 133.1 503.8 134.8 503.9 130.6 504.1 125.3 504.3 119.2 504.5 112.7 504.6 106.0 504.8 99.4 505.0 93.3 505.2 87.5 505.3 82.9 505.5 79.6 505.7 78.0 505.9 77.9 506.0 77.9 506.2 77.9 506.4 77.9 506.6 77.9 506.7 78.0 506.9 78.0 507.1 78.4 507.3 80.1 507.4 83.0 507.6 87.1 507.8 92.0 508.0 97.1 508.1 102.4 508.3 107.7 508.5 112.7 508.7 112.2 508.8 109.3 509.0 105.9 509.2 102.0 509.4 97.9 509.5 93.6 509.7 89.1 509.9 84.8 510.1 81.0 510.2 77.8 510.4 75.5 510.6 74.0 510.8 73.5 510.9 71.5 511.1 69.9 511.3 69.5 511.5 69.5 511.6 69.5 511.8 69.5 512.0 69.5 512.2 70.3 512.3 72.2 512.5 75.0 512.7 78.6 512.9 83.0 513.0 87.8 513.2 92.9 513.4 97.5 513.6 102.0 513.7 106.1 513.9 105.5 514.1 103.4 514.3 101.3 514.4 99.3 514.6 97.6 514.8 96.3 515.0 95.4 515.1 95.2 515.3 95.2 515.5 95.2 515.7 95.2 515.8 95.2 516.0 93.9 516.2 91.1 516.4 88.4 516.5 85.9 516.7 83.7 516.9 81.8 517.1 80.2 517.2 79.1 517.4 78.3 517.6 78.0 517.8 78.0 517.9 78.0 518.1 78.0 518.3 78.0 518.5 78.3 518.6 79.9 518.8 82.7 519.0 86.6 519.1 91.0 519.3 94.9 519.5 98.7 519.7 102.5 519.8 106.0 520.0 109.1 520.2 111.5 520.4 109.3 520.5 104.9 520.7 99.5 520.9 93.3 521.1 86.2 521.2 79.2 521.4 72.7 521.6 67.2 521.8 63.0 521.9 60.0 522.1 57.6 522.3 57.0 522.5 57.0 522.6 57.0 522.8 57.0 523.0 57.0 523.2 57.8 523.3 59.5 523.5 62.2 523.7 65.7 523.9 70.0 524.0 74.9 524.2 80.2 524.4 85.7 524.6 91.4 524.7 95.0 524.9 98.0 525.1 100.3 525.3 99.4 525.4 96.4 525.6 92.8 525.8 88.7 526.0 84.8 526.1 81.4 526.3 78.9 526.5 77.6 526.7 77.4 526.8 77.3 527.0 77.2 527.2 77.1 527.4 77.0 527.5 77.4 527.7 78.4 527.9 79.7 528.1 81.2 528.2 81.9 528.4 81.8 528.6 81.7 528.8 81.6 528.9 81.5 529.1 81.8 529.3 82.2 529.5 82.0 529.6 81.9 529.8 81.8 530.0 81.9 530.2 82.4 530.3 83.2 530.5 84.2 530.7 85.4 530.9 86.6 531.0 87.8 531.2 88.7 531.4 87.8 531.6 85.9 531.7 83.5 531.9 80.9 532.1 78.0 532.3 75.1 532.4 72.3 532.6 69.8 532.8 67.6 533.0 66.0 533.1 64.9 533.3 64.6 533.5 64.6 533.7 64.6 533.8 64.6 534.0 64.6 534.2 65.2 534.4 67.1 534.5 70.0 534.7 73.9 534.9 78.4 535.1 83.3 535.2 88.1 535.4 92.2 535.6 95.7 535.8 98.4 535.9 96.7 536.1 93.9 536.3 90.7 536.5 87.1 536.6 83.3 536.8 79.7 537.0 76.6 537.2 74.3 537.3 72.8 537.5 72.3 537.7 72.3 537.9 72.3 538.0 72.3 538.2 72.3 538.4 72.6 538.6 73.6 538.7 75.3 538.9 77.4 539.1 78.7 539.3 79.4 539.4 80.5 539.6 81.9 539.8 83.5 540.0 85.2 540.1 87.1 540.3 85.4 540.5 83.3 540.7 81.5 540.8 80.1 541.0 79.4 541.2 79.4 541.4 79.4 541.5 79.4 541.7 79.4 541.9 79.4 542.1 80.4 542.2 82.1 542.4 84.3 542.6 86.6 542.8 88.5 542.9 87.7 543.1 85.8 543.3 83.4 543.5 80.8 543.6 78.0 543.8 75.3 544.0 72.6 544.2 70.3 544.3 68.3 544.5 66.8 544.7 65.9 544.9 65.6 545.0 65.6 545.2 65.6 545.4 65.6 545.6 65.6 545.7 66.0 545.9 67.2 546.1 69.1 546.2 71.6 546.4 74.8 546.6 78.3 546.8 82.1 546.9 86.1 547.1 89.8 547.3 93.1 547.5 96.1 547.6 98.7 547.8 100.7 548.0 102.0 548.2 101.2 548.3 100.2 548.5 98.9 548.7 97.4 548.9 95.8 549.0 94.0 549.2 92.2 549.4 90.3 549.6 88.4 549.7 86.4 549.9 84.3 550.1 82.5 550.3 80.7 550.4 79.2 550.6 77.9 550.8 76.9 551.0 76.1 551.1 75.6 551.3 75.5 551.5 75.5 551.7 75.5 551.8 75.5 552.0 75.4 552.2 75.5 552.4 75.5 552.5 75.6 552.7 76.5 552.9 78.3 553.1 80.9 553.2 84.0 553.4 87.5 553.6 90.8 553.8 92.9 553.9 92.5 554.1 91.4 554.3 90.1 554.5 88.7 554.6 87.4 554.8 86.0 555.0 84.9 555.2 84.1 555.3 83.7 555.5 83.7 555.7 83.7 555.9 83.7 556.0 83.7 556.2 83.7 556.4 84.1 556.6 84.9 556.7 86.0 556.9 87.3 557.1 88.4 557.3 88.8 557.4 89.6 557.6 90.4 557.8 89.0 558.0 87.2 558.1 85.0 558.3 82.8 558.5 80.6 558.7 78.6 558.8 77.0 559.0 75.9 559.2 75.3 559.4 75.3 559.5 75.3 559.7 75.3 559.9 75.3 560.1 75.3 560.2 76.0 560.4 77.4 560.6 79.3 560.8 80.7 560.9 81.4 561.1 82.8 561.3 84.9 561.5 87.5 561.6 90.2 561.8 93.1 562.0 96.1 562.2 94.7 562.3 92.7 562.5 90.5 562.7 88.2 562.9 85.8 563.0 83.6 563.2 81.8 563.4 80.6 563.6 79.9 563.7 79.9 563.9 79.9 564.1 79.9 564.3 79.9 564.4 79.9 564.6 80.4 564.8 81.4 565.0 82.9 565.1 84.7 565.3 86.3 565.5 86.3 565.7 86.3 565.8 86.3 566.0 87.0 566.2 88.2 566.4 89.8 566.5 90.9 566.7 89.8 566.9 88.6 567.1 87.3 567.2 85.9 567.4 84.6 567.6 83.5 567.8 82.5 567.9 81.7 568.1 81.1 568.3 80.8 568.5 80.8 568.6 80.8 568.8 80.8 569.0 80.8 569.2 80.8 569.3 81.2 569.5 81.2 569.7 80.6 569.9 80.6 570.0 80.6 570.2 80.6 570.4 80.6 570.6 80.7 570.7 81.7 570.9 83.7 571.1 86.5 571.3 89.8 571.4 93.4 571.6 97.3 571.8 96.1 572.0 94.3 572.1 92.3 572.3 90.0 572.5 87.6 572.7 84.9 572.8 82.2 573.0 79.5 573.2 77.0 573.4 74.7 573.5 72.8 573.7 71.2 573.9 70.0 574.0 69.3 574.2 68.3 574.4 65.4 574.6 63.6 574.7 63.0 574.9 63.0 575.1 63.0 575.3 63.0 575.4 63.0 575.6 63.6 575.8 65.5 576.0 68.6 576.1 72.6 576.3 77.3 576.5 82.5 576.7 87.8 576.8 92.4 577.0 93.9 577.2 91.0 577.4 88.1 577.5 85.0 577.7 82.1 577.9 79.8 578.1 78.2 578.2 77.3 578.4 77.3 578.6 77.3 578.8 77.3 578.9 76.4 579.1 74.6 579.3 73.7 579.5 73.7 579.6 73.7 579.8 73.7 580.0 73.7 580.2 73.8 580.3 75.5 580.5 78.9 580.7 83.4 580.9 88.6 581.0 93.7 581.2 98.5 581.4 95.5 581.6 91.4 581.7 87.0 581.9 82.1 582.1 77.6 582.3 73.7 582.4 70.7 582.6 68.8 582.8 68.1 583.0 68.1 583.1 68.1 583.3 68.1 583.5 68.1 583.7 68.5 583.8 69.6 584.0 69.9 584.2 69.9 584.4 69.9 584.5 69.9 584.7 70.5 584.9 72.4 585.1 75.4 585.2 79.4 585.4 84.1 585.6 89.1 585.8 94.1 585.9 97.5 586.1 95.2 586.3 92.7 586.5 89.9 586.6 87.2 586.8 84.6 587.0 82.4 587.2 80.8 587.3 80.0 587.5 79.9 587.7 79.9 587.9 79.9 588.0 79.9 588.2 80.0 588.4 81.1 588.6 83.1 588.7 85.8 588.9 87.3 589.1 87.3 589.3 87.3 589.4 88.0 589.6 89.4 589.8 86.5 590.0 83.0 590.1 79.6 590.3 76.4 590.5 73.6 590.7 71.5 590.8 70.2 591.0 69.7 591.2 69.7 591.4 69.7 591.5 69.8 591.7 69.8 591.9 70.3 592.1 71.6 592.2 73.8 592.4 76.5 592.6 79.5 592.8 82.5 592.9 85.3 593.1 87.4 593.3 87.4 593.5 86.3 593.6 84.9 593.8 83.4 594.0 81.9 594.2 80.5 594.3 79.4 594.5 78.7 594.7 78.3 594.9 78.3 595.0 78.3 595.2 78.3 595.4 78.3 595.6 78.4 595.7 79.4 595.9 81.3 596.1 83.9 596.3 87.0 596.4 89.9 596.6 92.6 596.8 95.0 597.0 94.4 597.1 91.5 597.3 88.1 597.5 84.1 597.7 80.0 597.8 76.5 598.0 73.7 598.2 71.9 598.4 71.3 598.5 71.3 598.7 71.3 598.9 71.3 599.1 71.4 599.2 71.9 599.4 73.6 599.6 76.2 599.8 79.5 599.9 83.3 600.1 87.2 600.3 90.6 600.5 93.6 600.6 96.0 600.8 94.0 601.0 91.3 601.1 88.2 601.3 84.8 601.5 81.6 601.7 78.9 601.8 76.9 602.0 75.9 602.2 75.9 602.4 75.9 602.5 75.9 602.7 75.9 602.9 75.9 603.1 76.7 603.2 78.1 603.4 80.0 603.6 82.4 603.8 85.1 603.9 87.9 604.1 90.3 604.3 92.4 604.5 94.2 604.6 94.4 604.8 92.8 605.0 90.9 605.2 88.6 605.3 86.2 605.5 83.6 605.7 81.3 605.9 79.3 606.0 77.8 606.2 76.8 606.4 76.5 606.6 76.5 606.7 76.5 606.9 76.5 607.1 76.6 607.3 76.8 607.4 77.6 607.6 78.9 607.8 80.6 608.0 82.6 608.1 84.8 608.3 87.0 608.5 89.1 608.7 90.8 608.8 92.4 609.0 93.2 609.2 91.8 609.4 89.9 609.5 87.7 609.7 85.0 609.9 82.3 610.1 79.7 610.2 77.4 610.4 75.5 610.6 74.2 610.8 73.5 610.9 73.5 611.1 73.5 611.3 73.6 611.5 73.6 611.6 73.6 611.8 74.8 612.0 76.9 612.2 79.7 612.3 82.8 612.5 85.3 612.7 86.0 612.9 85.8 613.0 82.6 613.2 79.1 613.4 75.5 613.6 72.3 613.7 69.8 613.9 68.2 614.1 67.6 614.3 67.6 614.4 67.6 614.6 67.7 614.8 67.7 615.0 68.4 615.1 70.6 615.3 74.1 615.5 78.7 615.7 83.4 615.8 86.2 616.0 89.9 616.2 94.2 616.4 99.0 616.5 104.0 616.7 108.2 616.9 104.3 617.1 99.5 617.2 94.1 617.4 88.3 617.6 81.8 617.8 75.8 617.9 70.5 618.1 66.2 618.3 63.2 618.5 61.6 618.6 61.6 618.8 61.6 619.0 61.7 619.2 61.7 619.3 61.7 619.5 63.3 619.7 65.3 619.9 65.3 620.0 66.3 620.2 69.2 620.4 73.9 620.6 79.8 620.7 86.5 620.9 93.1 621.1 99.1 621.3 96.5 621.4 90.9 621.6 84.4 621.8 77.4 622.0 70.8 622.1 65.1 622.3 60.7 622.5 57.9 622.7 57.0 622.8 57.0 623.0 57.0 623.2 57.0 623.4 57.1 623.5 57.8 623.7 60.0 623.9 63.6 624.1 68.2 624.2 73.6 624.4 79.3 624.6 85.0 624.8 90.1 624.9 94.5 625.1 97.3 625.3 93.8 625.5 89.2 625.6 83.3 625.8 77.1 626.0 70.9 626.2 65.4 626.3 60.8 626.5 57.6 626.7 55.9 626.9 55.9 627.0 55.9 627.2 55.9 627.4 55.9 627.6 56.0 627.7 58.4 627.9 63.1 628.1 69.6 628.2 74.4 628.4 80.6 628.6 88.0 628.8 95.5 628.9 103.2 629.1 110.8 629.3 117.8 629.5 117.6 629.6 114.3 629.8 110.4 630.0 106.1 630.2 101.7 630.3 97.2 630.5 92.9 630.7 89.1 630.9 85.4 631.0 82.4 631.2 80.4 631.4 79.4 631.6 79.3 631.7 79.3 631.9 79.3 632.1 77.8 632.3 77.2 632.4 77.2 632.6 77.3 632.8 77.3 633.0 77.3 633.1 77.8 633.3 79.4 633.5 81.9 633.7 85.3 633.8 89.3 634.0 93.3 634.2 97.5 634.4 101.6 634.5 99.3 634.7 96.7 634.9 94.0 635.1 91.7 635.2 89.8 635.4 88.5 635.6 88.0 635.8 88.0 635.9 88.1 636.1 88.1 636.3 88.1 636.5 88.1 636.6 88.3 636.8 89.5 637.0 90.2 637.2 91.0 637.3 91.7 637.5 92.4 637.7 93.0 637.9 93.6 638.0 93.6 638.2 93.5 638.4 93.1 638.6 92.8 638.7 92.5 638.9 92.1 639.1 91.7 639.3 91.2 639.4 91.1 639.6 90.8 639.8 90.6 640.0 90.5 640.1 90.5 640.3 90.5 640.5 90.6 640.7 90.7 640.8 91.0 641.0 91.3 641.2 91.7 641.4 91.9 641.5 92.0 641.7 92.1 641.9 92.1 642.1 92.1 642.2 92.0 642.4 91.9 642.6 91.7 642.8 91.4 642.9 91.0 643.1 90.6 643.3 90.3 643.5 90.1 643.6 90.0 643.8 90.0 644.0 90.0 644.2 90.0 644.3 90.0 644.5 90.0 644.7 90.1 644.9 90.2 645.0 90.4 645.2 90.7 645.4 91.0 645.6 91.2 645.7 91.4 645.9 91.6 646.1 91.8 646.3 92.0 646.4 92.2 646.6 92.3 646.8 92.4 647.0 92.4 647.1 92.3 647.3 92.3 647.5 92.3 647.7 92.3 647.8 92.3 648.0 92.3 648.2 92.4 648.4 92.6 648.5 92.8 648.7 92.8 648.9 92.5 649.1 92.1 649.2 91.6 649.4 91.0 649.6 90.5 649.8 89.9 649.9 89.3 650.1 88.7 650.3 87.9 650.5 87.2 650.6 86.7 650.8 86.4 651.0 86.2 651.2 86.2 651.3 86.2 651.5 86.2 651.7 86.3 651.9 86.4 652.0 86.7 652.2 87.2 652.4 87.9 652.6 88.6 652.7 89.2 652.9 89.5 653.1 89.6 653.3 89.5 653.4 89.4 653.6 89.3 653.8 89.0 654.0 88.6 654.1 88.0 654.3 87.2 654.5 86.4 654.7 85.7 654.8 85.3 655.0 85.1 655.2 85.0 655.3 85.0 655.5 85.0 655.7 85.1 655.9 85.1 656.0 85.1 656.2 85.3 656.4 85.5 656.6 85.9 656.7 86.3 656.9 86.8 657.1 87.3 657.3 87.7 657.4 88.1 657.6 88.5 657.8 88.9 658.0 89.2 658.1 89.5 658.3 89.6 658.5 89.6 658.7 89.5 658.8 89.4 659.0 89.3 659.2 89.3 659.4 89.3 659.5 89.3 659.7 89.3 659.9 89.3 660.1 89.4 660.2 89.4 660.4 89.6 660.6 89.8 660.8 90.1 660.9 90.5 661.1 90.8 661.3 91.1 661.5 91.3 661.6 91.5 661.8 91.7 662.0 91.9 662.2 92.0 662.3 92.0 662.5 92.0 662.7 91.9 662.9 91.7 663.0 91.6 663.2 91.5 663.4 91.5 663.6 91.5 663.7 91.5 663.9 91.5 664.1 91.5 664.3 91.5 664.4 91.5 664.6 91.5 664.8 91.6 665.0 91.7 665.1 91.9 665.3 92.1 665.5 92.3 665.7 92.5 665.8 92.6 666.0 92.7 666.2 92.8 666.4 92.9 666.5 93.0 666.7 93.0 666.9 93.1 667.1 93.1 667.2 93.0 667.4 92.9 667.6 92.9 667.8 92.8 667.9 92.8 668.1 92.8 668.3 92.8 668.5 92.8 668.6 92.8 668.8 92.8 669.0 92.8 669.2 92.8 669.3 92.8 669.5 92.8L669.5 112.3 669.3 112.3 669.2 112.3 669.0 112.3 668.8 112.3 668.6 112.3 668.5 112.3 668.3 112.3 668.1 112.4 667.9 112.4 667.8 112.4 667.6 112.4 667.4 112.3 667.2 112.3 667.1 112.1 666.9 112.0 666.7 111.8 666.5 111.8 666.4 111.8 666.2 111.9 666.0 112.0 665.8 112.0 665.7 112.0 665.5 112.1 665.3 112.2 665.1 112.4 665.0 112.7 664.8 113.0 664.6 113.2 664.4 113.4 664.3 113.5 664.1 113.5 663.9 113.5 663.7 113.5 663.6 113.5 663.4 113.5 663.2 113.5 663.0 113.5 662.9 113.5 662.7 113.4 662.5 113.2 662.3 112.9 662.2 112.5 662.0 112.3 661.8 112.2 661.6 112.3 661.5 112.5 661.3 112.7 661.1 113.1 660.9 113.4 660.8 113.9 660.6 114.4 660.4 115.0 660.2 115.7 660.1 116.2 659.9 116.6 659.7 116.9 659.5 117.1 659.4 117.1 659.2 117.1 659.0 117.1 658.8 117.1 658.7 117.1 658.5 117.2 658.3 117.1 658.1 117.1 658.0 116.9 657.8 116.6 657.6 116.2 657.4 115.7 657.3 115.2 657.1 114.6 656.9 114.2 656.7 114.1 656.6 114.2 656.4 114.6 656.2 115.1 656.0 115.8 655.9 116.7 655.7 117.7 655.5 118.8 655.3 119.9 655.2 121.0 655.0 122.0 654.8 122.7 654.7 123.2 654.5 123.5 654.3 123.6 654.1 123.7 654.0 123.7 653.8 123.7 653.6 123.7 653.4 123.6 653.3 123.5 653.1 123.1 652.9 122.5 652.7 121.7 652.6 120.7 652.4 119.7 652.2 118.9 652.0 118.4 651.9 117.9 651.7 117.5 651.5 117.1 651.3 116.9 651.2 116.8 651.0 117.0 650.8 117.4 650.6 118.0 650.5 118.6 650.3 119.0 650.1 119.1 649.9 119.2 649.8 119.2 649.6 119.2 649.4 119.2 649.2 119.2 649.1 119.1 648.9 118.9 648.7 118.7 648.5 118.3 648.4 117.7 648.2 117.1 648.0 116.4 647.8 115.8 647.7 115.2 647.5 114.7 647.3 114.1 647.1 113.7 647.0 113.3 646.8 113.0 646.6 112.8 646.4 112.8 646.3 112.9 646.1 113.0 645.9 113.0 645.7 113.0 645.6 113.0 645.4 113.0 645.2 113.0 645.0 113.0 644.9 112.9 644.7 112.8 644.5 112.6 644.3 112.3 644.2 111.9 644.0 111.7 643.8 111.4 643.6 111.2 643.5 111.0 643.3 111.0 643.1 111.2 642.9 111.5 642.8 112.0 642.6 112.8 642.4 113.7 642.2 114.7 642.1 115.8 641.9 117.0 641.7 118.1 641.5 119.3 641.4 120.3 641.2 121.1 641.0 121.8 640.8 122.4 640.7 122.9 640.5 123.3 640.3 123.5 640.1 123.7 640.0 123.8 639.8 123.8 639.6 123.8 639.4 123.8 639.3 123.8 639.1 123.8 638.9 123.7 638.7 123.2 638.6 122.5 638.4 121.6 638.2 120.8 638.0 119.9 637.9 118.7 637.7 117.5 637.5 116.0 637.3 114.6 637.2 114.0 637.0 114.0 636.8 114.4 636.6 113.1 636.5 116.1 636.3 119.1 636.1 121.7 635.9 121.7 635.8 123.9 635.6 125.4 635.4 126.2 635.2 126.2 635.1 126.2 634.9 126.2 634.7 126.2 634.5 126.2 634.4 125.1 634.2 123.0 634.0 120.1 633.8 116.3 633.7 115.7 633.5 114.6 633.3 112.8 633.1 110.5 633.0 107.7 632.8 104.6 632.6 101.4 632.4 98.3 632.3 95.6 632.1 99.5 631.9 104.6 631.7 110.2 631.6 116.1 631.4 122.0 631.2 127.7 631.0 133.1 630.9 137.9 630.7 142.0 630.5 145.2 630.3 147.4 630.2 148.6 630.0 148.6 629.8 148.6 629.6 148.6 629.5 148.6 629.3 148.5 629.1 146.5 628.9 142.6 628.8 137.2 628.6 133.5 628.4 128.9 628.2 122.3 628.1 114.2 627.9 105.3 627.7 96.2 627.6 88.1 627.4 80.9 627.2 83.3 627.0 87.5 626.9 92.3 626.7 97.4 626.5 102.9 626.3 108.0 626.2 112.1 626.0 115.1 625.8 116.6 625.6 116.6 625.5 116.6 625.3 116.7 625.1 116.7 624.9 116.7 624.8 115.3 624.6 112.7 624.4 109.1 624.2 104.6 624.1 99.9 623.9 94.9 623.7 90.4 623.5 86.4 623.4 83.1 623.2 85.1 623.0 90.0 622.8 95.9 622.7 102.6 622.5 109.5 622.3 115.6 622.1 120.4 622.0 123.4 621.8 124.4 621.6 124.4 621.4 124.5 621.3 124.5 621.1 124.5 620.9 123.5 620.7 120.5 620.6 117.8 620.4 116.2 620.2 113.2 620.0 108.9 619.9 103.6 619.7 97.8 619.5 92.3 619.3 87.0 619.2 88.1 619.0 93.5 618.8 99.5 618.6 106.3 618.5 113.1 618.3 119.3 618.1 124.8 617.9 129.2 617.8 132.3 617.6 133.9 617.4 133.9 617.2 133.9 617.1 133.9 616.9 133.9 616.7 133.9 616.5 132.5 616.4 129.7 616.2 125.8 616.0 123.5 615.8 120.7 615.7 116.6 615.5 111.6 615.3 106.0 615.1 100.0 615.0 94.6 614.8 95.3 614.6 96.7 614.4 98.3 614.3 99.9 614.1 101.3 613.9 102.3 613.7 102.8 613.6 102.8 613.4 102.8 613.2 102.8 613.0 102.8 612.9 102.8 612.7 102.1 612.5 100.9 612.3 100.9 612.2 100.3 612.0 98.7 611.8 100.9 611.6 103.9 611.5 107.3 611.3 110.7 611.1 113.9 610.9 116.8 610.8 118.9 610.6 120.3 610.4 120.8 610.2 120.8 610.1 120.8 609.9 120.8 609.7 120.8 609.5 120.5 609.4 119.8 609.2 118.6 609.0 117.1 608.8 115.2 608.7 113.0 608.5 110.6 608.3 108.1 608.1 105.6 608.0 103.3 607.8 101.1 607.6 99.2 607.4 97.7 607.3 96.7 607.1 97.9 606.9 99.5 606.7 101.6 606.6 103.8 606.4 106.0 606.2 108.2 606.0 110.3 605.9 112.0 605.7 113.3 605.5 114.1 605.3 114.3 605.2 114.3 605.0 114.3 604.8 114.4 604.6 114.4 604.5 114.1 604.3 113.2 604.1 111.8 603.9 110.0 603.8 107.9 603.6 105.7 603.4 103.5 603.2 101.5 603.1 99.9 602.9 100.6 602.7 102.8 602.5 105.6 602.4 108.7 602.2 111.8 602.0 114.9 601.8 117.7 601.7 119.9 601.5 121.5 601.3 122.3 601.1 122.3 601.0 122.3 600.8 122.3 600.6 122.3 600.5 122.3 600.3 121.2 600.1 119.0 599.9 116.0 599.8 112.3 599.6 108.2 599.4 104.0 599.2 100.1 599.1 96.9 598.9 94.8 598.7 97.4 598.5 101.0 598.4 105.0 598.2 109.1 598.0 112.8 597.8 115.7 597.7 117.6 597.5 118.2 597.3 118.2 597.1 118.2 597.0 118.2 596.8 118.2 596.6 117.8 596.4 116.7 596.3 114.9 596.1 112.7 595.9 110.2 595.7 107.7 595.6 105.5 595.4 103.7 595.2 102.9 595.0 103.4 594.9 104.0 594.7 104.6 594.5 105.3 594.3 105.9 594.2 106.4 594.0 106.8 593.8 107.0 593.6 107.1 593.5 107.1 593.3 107.1 593.1 107.1 592.9 107.1 592.8 106.8 592.6 106.0 592.4 104.8 592.2 103.3 592.1 101.7 591.9 100.1 591.7 98.7 591.5 99.3 591.4 101.1 591.2 103.3 591.0 105.6 590.8 107.6 590.7 109.3 590.5 110.3 590.3 110.7 590.1 110.7 590.0 110.7 589.8 110.7 589.6 110.7 589.4 109.9 589.3 108.3 589.1 108.3 588.9 108.3 588.7 107.7 588.6 106.1 588.4 108.3 588.2 111.6 588.0 115.1 587.9 118.4 587.7 121.6 587.5 124.4 587.3 126.6 587.2 128.1 587.0 128.9 586.8 128.9 586.6 128.9 586.5 128.9 586.3 129.0 586.1 128.9 585.9 127.6 585.8 125.2 585.6 121.6 585.4 117.2 585.2 113.7 585.1 112.6 584.9 110.8 584.7 108.5 584.5 105.6 584.4 102.3 584.2 98.8 584.0 95.6 583.8 92.5 583.7 91.9 583.5 95.1 583.3 98.6 583.1 102.6 583.0 106.6 582.8 110.4 582.6 113.8 582.4 116.7 582.3 119.0 582.1 120.6 581.9 121.4 581.7 121.4 581.6 121.4 581.4 121.4 581.2 121.4 581.0 121.3 580.9 119.5 580.7 117.7 580.5 117.3 580.3 116.2 580.2 114.4 580.0 111.9 579.8 109.0 579.6 105.8 579.5 102.5 579.3 99.2 579.1 97.5 578.9 101.2 578.8 105.2 578.6 108.9 578.4 112.3 578.2 115.1 578.1 117.3 577.9 118.6 577.7 119.1 577.5 119.1 577.4 119.1 577.2 119.1 577.0 119.1 576.8 118.5 576.7 116.6 576.5 114.1 576.3 114.1 576.1 114.0 576.0 112.8 575.8 110.4 575.6 107.1 575.4 103.1 575.3 98.6 575.1 94.5 574.9 90.7 574.7 87.3 574.6 89.6 574.4 94.4 574.2 99.6 574.0 105.4 573.9 111.1 573.7 116.4 573.5 121.1 573.4 125.0 573.2 127.9 573.0 129.7 572.8 130.3 572.7 130.3 572.5 130.3 572.3 130.3 572.1 130.3 572.0 129.8 571.8 128.3 571.6 125.9 571.4 122.6 571.3 118.8 571.1 114.5 570.9 112.3 570.7 111.7 570.6 110.7 570.4 109.3 570.2 107.7 570.0 105.9 569.9 104.0 569.7 101.9 569.5 99.9 569.3 102.2 569.2 104.9 569.0 107.5 568.8 110.1 568.6 112.4 568.5 114.4 568.3 115.9 568.1 117.0 567.9 117.6 567.8 117.6 567.6 117.6 567.4 117.6 567.2 117.6 567.1 117.6 566.9 116.9 566.7 115.6 566.5 113.8 566.4 111.5 566.2 109.0 566.0 106.4 565.8 106.0 565.7 106.0 565.5 105.8 565.3 105.0 565.1 103.7 565.0 102.7 564.8 104.9 564.6 107.3 564.4 109.7 564.3 112.2 564.1 114.6 563.9 116.8 563.7 118.6 563.6 120.1 563.4 121.1 563.2 121.6 563.0 121.6 562.9 121.6 562.7 121.6 562.5 121.6 562.3 121.6 562.2 120.9 562.0 119.4 561.8 117.4 561.6 114.8 561.5 111.8 561.3 110.0 561.1 108.6 560.9 106.7 560.8 104.3 560.6 101.6 560.4 98.8 560.2 96.2 560.1 95.6 559.9 97.2 559.7 99.0 559.5 101.0 559.4 103.0 559.2 104.6 559.0 105.9 558.8 106.7 558.7 107.0 558.5 107.0 558.3 107.0 558.1 107.0 558.0 107.0 557.8 106.8 557.6 106.3 557.4 105.5 557.3 104.5 557.1 103.8 556.9 103.4 556.7 102.6 556.6 101.5 556.4 101.4 556.2 102.7 556.0 104.2 555.9 105.8 555.7 107.6 555.5 109.3 555.3 110.9 555.2 112.3 555.0 113.4 554.8 114.2 554.6 114.6 554.5 114.6 554.3 114.6 554.1 114.6 553.9 114.6 553.8 114.5 553.6 113.6 553.4 111.8 553.2 109.2 553.1 106.0 552.9 103.3 552.7 101.3 552.5 99.0 552.4 96.7 552.2 94.5 552.0 92.4 551.8 90.5 551.7 91.3 551.5 92.9 551.3 94.7 551.1 96.7 551.0 98.9 550.8 101.5 550.6 104.3 550.4 107.1 550.3 109.9 550.1 112.6 549.9 115.3 549.7 117.9 549.6 120.2 549.4 122.4 549.2 124.2 549.0 125.8 548.9 127.1 548.7 128.0 548.5 128.6 548.3 128.8 548.2 128.8 548.0 128.8 547.8 128.8 547.6 128.8 547.5 128.3 547.3 127.1 547.1 125.0 546.9 122.2 546.8 118.9 546.6 115.1 546.4 111.1 546.2 107.0 546.1 102.9 545.9 99.2 545.7 96.1 545.6 93.7 545.4 91.8 545.2 93.5 545.0 95.7 544.9 98.1 544.7 100.7 544.5 103.1 544.3 105.0 544.2 106.3 544.0 106.7 543.8 106.7 543.6 106.7 543.5 106.7 543.3 106.7 543.1 106.8 542.9 107.1 542.8 107.5 542.6 107.9 542.4 108.3 542.2 108.6 542.1 108.9 541.9 109.1 541.7 109.2 541.5 109.2 541.4 109.2 541.2 109.2 541.0 109.2 540.8 109.1 540.7 108.7 540.5 107.9 540.3 106.8 540.1 105.4 540.0 103.8 539.8 102.4 539.6 102.4 539.4 102.4 539.3 101.7 539.1 100.4 538.9 98.5 538.7 96.4 538.6 94.1 538.4 93.2 538.2 95.9 538.0 99.2 537.9 103.4 537.7 107.9 537.5 112.5 537.3 116.8 537.2 120.6 537.0 123.7 536.8 125.9 536.6 127.1 536.5 127.2 536.3 127.2 536.1 127.2 535.9 127.2 535.8 127.3 535.6 126.2 535.4 124.1 535.2 121.0 535.1 117.0 534.9 112.3 534.7 107.1 534.5 101.8 534.4 96.7 534.2 92.1 534.0 87.9 533.8 84.4 533.7 81.7 533.5 82.7 533.3 85.5 533.1 88.9 533.0 92.8 532.8 96.9 532.6 101.2 532.4 105.5 532.3 109.4 532.1 112.5 531.9 114.8 531.7 116.1 531.6 116.4 531.4 116.4 531.2 116.4 531.0 116.4 530.9 116.4 530.7 116.0 530.5 115.1 530.3 113.7 530.2 111.8 530.0 109.6 529.8 107.1 529.6 104.5 529.5 101.8 529.3 99.2 529.1 97.0 528.9 95.0 528.8 94.4 528.6 94.4 528.4 94.4 528.2 94.8 528.1 97.1 527.9 99.8 527.7 103.0 527.5 106.4 527.4 109.8 527.2 113.2 527.0 116.5 526.8 119.4 526.7 121.9 526.5 123.9 526.3 125.3 526.1 126.1 526.0 126.3 525.8 126.3 525.6 126.3 525.4 126.3 525.3 126.3 525.1 125.5 524.9 123.8 524.7 121.1 524.6 117.6 524.4 113.3 524.2 108.5 524.0 103.2 523.9 97.8 523.7 94.0 523.5 90.0 523.3 86.0 523.2 82.0 523.0 78.4 522.8 75.2 522.6 72.6 522.5 73.4 522.3 78.7 522.1 85.2 521.9 92.3 521.8 99.9 521.6 108.1 521.4 115.7 521.2 122.3 521.1 127.4 520.9 130.8 520.7 132.3 520.5 132.3 520.4 132.3 520.2 132.3 520.0 132.3 519.8 132.0 519.7 130.4 519.5 127.6 519.3 123.8 519.1 119.1 519.0 113.9 518.8 108.3 518.6 102.7 518.5 97.7 518.3 94.2 518.1 91.4 517.9 89.6 517.8 92.0 517.6 94.8 517.4 97.9 517.2 101.0 517.1 103.6 516.9 105.3 516.7 105.9 516.5 105.9 516.4 106.1 516.2 109.1 516.0 112.0 515.8 114.7 515.7 117.1 515.5 119.4 515.3 121.3 515.1 122.8 515.0 124.0 514.8 124.8 514.6 125.1 514.4 125.1 514.3 125.1 514.1 125.1 513.9 125.1 513.7 124.8 513.6 123.5 513.4 121.1 513.2 118.8 513.0 118.7 512.9 117.7 512.7 115.6 512.5 112.7 512.3 109.1 512.2 104.9 512.0 100.5 511.8 96.3 511.6 92.4 511.5 88.9 511.3 86.0 511.1 90.3 510.9 95.3 510.8 100.8 510.6 107.0 510.4 113.2 510.2 119.0 510.1 124.2 509.9 128.6 509.7 132.0 509.5 134.2 509.4 135.2 509.2 135.2 509.0 135.2 508.8 135.2 508.7 135.2 508.5 134.8 508.3 133.1 508.1 130.2 508.0 126.1 507.8 122.8 507.6 120.2 507.4 116.7 507.3 112.6 507.1 108.1 506.9 103.3 506.7 98.7 506.6 94.8 506.4 94.3 506.2 100.0 506.0 107.4 505.9 115.6 505.7 124.3 505.5 133.1 505.3 141.7 505.2 149.5 505.0 156.4 504.8 161.9 504.6 165.9 504.5 168.2 504.3 168.7 504.1 168.7 503.9 168.7 503.8 168.7 503.6 168.7 503.4 167.2 503.2 163.6 503.1 158.3 502.9 151.2 502.7 142.5 502.5 132.7 502.4 121.9 502.2 110.5 502.0 98.9 501.8 88.5 501.7 78.5 501.5 69.2 501.3 61.1 501.1 54.5 501.0 49.6 500.8 50.1 500.6 53.6 500.4 57.9 500.3 62.9 500.1 68.5 499.9 76.2 499.7 84.6 499.6 93.1 499.4 101.7 499.2 110.5 499.0 118.7 498.9 125.8 498.7 131.7 498.5 136.2 498.3 139.1 498.2 140.4 498.0 140.4 497.8 140.4 497.6 140.4 497.5 140.4 497.3 140.4 497.1 140.0 496.9 139.2 496.8 138.2 496.6 136.9 496.4 135.3 496.2 133.6 496.1 131.6 495.9 129.5 495.7 127.3 495.5 125.1 495.4 122.8 495.2 120.6 495.0 118.5 494.8 116.6 494.7 114.8 494.5 113.2 494.3 111.9 494.1 110.9 494.0 111.9 493.8 113.7 493.6 115.2 493.4 115.9 493.3 115.9 493.1 115.9 492.9 116.3 492.7 117.5 492.6 119.3 492.4 121.5 492.2 124.2 492.0 127.1 491.9 130.0 491.7 132.7 491.5 135.2 491.4 137.3 491.2 138.8 491.0 139.6 490.8 139.8 490.7 139.8 490.5 139.8 490.3 139.8 490.1 139.8 490.0 138.7 489.8 136.3 489.6 132.7 489.4 128.1 489.3 122.8 489.1 117.2 488.9 111.9 488.7 107.6 488.6 103.5 488.4 99.9 488.2 98.6 488.0 101.3 487.9 104.6 487.7 107.9 487.5 110.8 487.3 113.0 487.2 114.4 487.0 114.6 486.8 114.6 486.6 114.6 486.5 115.2 486.3 116.0 486.1 116.9 485.9 117.4 485.8 117.6 485.6 117.6 485.4 117.6 485.2 117.6 485.1 117.6 484.9 117.2 484.7 116.4 484.5 115.2 484.4 113.7 484.2 111.8 484.0 110.8 483.8 110.8 483.7 110.8 483.5 109.8 483.3 108.0 483.1 105.4 483.0 102.4 482.8 99.3 482.6 99.8 482.4 103.6 482.3 108.0 482.1 112.8 481.9 117.6 481.7 122.0 481.6 125.8 481.4 128.6 481.2 130.2 481.0 130.6 480.9 130.6 480.7 130.6 480.5 130.6 480.3 130.6 480.2 130.2 480.0 129.3 479.8 128.0 479.6 126.2 479.5 124.1 479.3 121.6 479.1 118.8 478.9 115.9 478.8 112.9 478.6 109.8 478.4 106.9 478.2 104.0 478.1 101.4 477.9 99.1 477.7 97.4 477.5 96.3 477.4 100.7 477.2 107.6 477.0 116.0 476.8 125.1 476.7 134.0 476.5 141.8 476.3 147.8 476.1 151.2 476.0 152.0 475.8 152.0 475.6 152.3 475.4 152.3 475.3 152.3 475.1 152.3 474.9 152.3 474.7 151.6 474.6 149.7 474.4 146.6 474.2 142.4 474.0 137.5 473.9 132.0 473.7 126.3 473.5 120.7 473.3 115.5 473.2 110.9 473.0 107.2 472.8 104.8 472.6 106.3 472.5 108.2 472.3 110.5 472.1 113.0 471.9 115.6 471.8 119.0 471.6 121.8 471.4 124.0 471.2 126.1 471.1 128.2 470.9 129.9 470.7 131.2 470.5 132.0 470.4 132.2 470.2 132.2 470.0 132.2 469.8 132.2 469.7 132.3 469.5 131.9 469.3 130.7 469.1 128.9 469.0 126.5 468.8 123.7 468.6 120.5 468.4 117.3 468.3 114.2 468.1 111.3 467.9 108.8 467.7 107.5 467.6 109.0 467.4 110.4 467.2 111.1 467.0 112.8 466.9 114.8 466.7 116.6 466.5 118.1 466.3 119.2 466.2 119.9 466.0 120.0 465.8 120.0 465.6 120.0 465.5 120.0 465.3 120.0 465.1 119.4 464.9 118.2 464.8 116.5 464.6 114.5 464.4 112.6 464.2 111.0 464.1 111.5 463.9 112.9 463.7 114.6 463.6 116.5 463.4 118.5 463.2 120.6 463.0 122.7 462.9 124.6 462.7 126.3 462.5 127.7 462.3 128.8 462.2 129.4 462.0 129.7 461.8 129.7 461.6 129.7 461.5 129.7 461.3 129.7 461.1 129.4 460.9 128.5 460.8 127.0 460.6 125.1 460.4 122.9 460.2 120.4 460.1 117.7 459.9 115.2 459.7 112.8 459.5 110.7 459.4 109.0 459.2 108.0 459.0 108.8 458.8 109.8 458.7 111.0 458.5 112.4 458.3 113.9 458.1 116.4 458.0 119.5 457.8 122.1 457.6 124.3 457.4 125.9 457.3 126.9 457.1 127.2 456.9 127.2 456.7 127.2 456.6 127.3 456.4 127.3 456.2 126.8 456.0 125.6 455.9 125.4 455.7 125.4 455.5 125.1 455.3 124.3 455.2 123.3 455.0 122.0 454.8 120.5 454.6 118.9 454.5 117.3 454.3 115.7 454.1 114.2 453.9 112.9 453.8 111.9 453.6 112.2 453.4 113.6 453.2 116.2 453.1 119.6 452.9 122.6 452.7 125.4 452.5 127.6 452.4 129.3 452.2 130.3 452.0 130.6 451.8 130.6 451.7 130.6 451.5 130.7 451.3 130.7 451.1 130.1 451.0 130.1 450.8 130.1 450.6 129.4 450.4 128.0 450.3 126.0 450.1 123.4 449.9 120.5 449.7 117.4 449.6 114.1 449.4 110.8 449.2 107.8 449.0 105.0 448.9 102.8 448.7 101.2 448.5 103.0 448.3 105.5 448.2 108.6 448.0 112.3 447.8 116.5 447.6 121.1 447.5 126.0 447.3 132.9 447.1 140.2 446.9 147.4 446.8 154.3 446.6 160.8 446.4 166.8 446.2 172.2 446.1 176.8 445.9 180.6 445.7 183.5 445.5 185.5 445.4 186.4 445.2 186.4 445.0 186.4 444.8 186.3 444.7 186.3 444.5 186.2 444.3 184.0 444.1 179.6 444.0 173.3 443.8 165.2 443.6 155.5 443.4 144.6 443.3 132.8 443.1 120.6 442.9 108.2 442.7 96.4 442.6 86.2 442.4 76.9 442.2 69.7 442.0 64.1 441.9 60.6 441.7 65.5 441.5 72.1 441.3 80.1 441.2 89.0 441.0 99.6 440.8 111.5 440.6 123.2 440.5 134.1 440.3 143.7 440.1 151.7 439.9 157.6 439.8 161.3 439.6 162.6 439.4 162.6 439.2 162.6 439.1 162.6 438.9 162.6 438.7 161.3 438.5 157.4 438.4 151.1 438.2 142.7 438.0 132.7 437.8 121.4 437.7 109.4 437.5 97.4 437.3 87.7 437.1 78.9 437.0 71.3 436.8 65.3 436.6 64.6 436.5 69.8 436.3 75.9 436.1 82.4 435.9 89.0 435.8 94.8 435.6 99.4 435.4 102.7 435.2 104.0 435.1 104.2 434.9 104.3 434.7 104.5 434.5 104.6 434.4 103.9 434.2 101.5 434.0 98.1 433.8 94.2 433.7 90.3 433.5 87.0 433.3 86.2 433.1 88.0 433.0 90.2 432.8 92.8 432.6 95.6 432.4 98.7 432.3 102.0 432.1 105.6 431.9 109.4 431.7 113.0 431.6 116.6 431.4 119.8 431.2 122.8 431.0 125.5 430.9 127.7 430.7 129.4 430.5 130.7 430.3 131.4 430.2 131.5 430.0 131.7 429.8 131.8 429.6 131.9 429.5 131.9 429.3 130.7 429.1 128.1 428.9 124.3 428.8 119.6 428.6 114.2 428.4 108.4 428.2 102.8 428.1 97.7 427.9 93.2 427.7 89.3 427.5 86.5 427.4 85.2 427.2 86.2 427.0 87.3 426.8 88.7 426.7 90.3 426.5 92.0 426.3 93.9 426.1 96.0 426.0 98.1 425.8 100.3 425.6 102.6 425.4 104.9 425.3 107.2 425.1 109.7 424.9 112.2 424.7 114.5 424.6 117.9 424.4 121.0 424.2 124.1 424.0 126.9 423.9 129.5 423.7 131.8 423.5 134.0 423.3 135.8 423.2 137.4 423.0 138.8 422.8 140.0 422.6 141.1 422.5 142.3 422.3 143.5 422.1 144.1 421.9 140.7 421.8 136.3 421.6 131.3 421.4 125.9 421.2 120.4 421.1 116.2 420.9 114.4 420.7 112.5 420.5 112.4 420.4 112.5 420.2 114.2 420.0 116.0 419.8 117.1 419.7 117.4 419.5 117.3 419.3 117.2 419.1 117.0 419.0 116.9 418.8 116.3 418.6 112.0 418.4 104.3 418.3 94.5 418.1 83.0 417.9 70.9 417.7 59.4 417.6 49.5 417.4 48.1 417.2 57.2 417.0 68.6 416.9 82.1 416.7 96.9 416.5 113.5 416.3 131.1 416.2 148.2 416.0 164.0 415.8 177.9 415.6 189.4 415.5 197.9 415.3 203.1 415.1 204.7 414.9 204.6 414.8 204.5 414.6 204.4 414.4 204.2 414.2 203.1 414.1 199.9 413.9 194.8 413.7 188.0 413.5 179.6 413.4 170.0 413.2 159.3 413.0 147.8 412.8 136.0 412.7 124.0 412.5 112.3 412.3 101.2 412.1 91.9 412.0 83.7 411.8 78.2 411.6 74.0 411.4 73.3 411.3 76.5 411.1 80.5 410.9 85.0 410.7 89.7 410.6 94.4 410.4 98.8 410.2 102.9 410.0 105.9 409.9 107.7 409.7 108.8 409.5 109.2 409.4 108.9 409.2 108.6 409.0 108.3 408.8 108.3 408.7 107.2 408.5 104.2 408.3 99.9 408.1 95.4 408.0 92.0 407.8 91.1 407.6 91.7 407.4 92.1 407.3 92.4 407.1 92.4 406.9 92.4 406.7 92.5 406.6 92.4 406.4 92.4 406.2 92.0 406.0 91.5 405.9 90.7 405.7 90.0 405.5 90.4 405.3 91.4 405.2 92.5 405.0 93.7 404.8 94.9 404.6 96.0 404.5 96.8 404.3 97.2 404.1 97.3 403.9 97.8 403.8 97.8 403.6 97.7 403.4 97.5 403.2 97.2 403.1 96.9 402.9 96.6 402.7 96.2 402.5 95.9 402.4 95.8 402.2 95.8 402.0 95.8 401.8 95.8 401.7 95.8 401.5 95.8 401.3 95.8 401.1 95.7 401.0 95.7 400.8 95.7 400.6 95.6 400.4 95.6 400.3 95.6 400.1 95.5 399.9 95.5 399.7 95.5 399.6 95.5 399.4 95.4 399.2 95.4 399.0 95.4 398.9 95.4 398.7 95.4 398.5 95.4Z" fill="#d9d9d9" stroke="#d9d9d9" stroke-width="1.6"/>
<path d="M398.5 94.5L398.7 94.5 398.9 94.5 399.0 94.5 399.2 94.5 399.4 94.5 399.6 94.6 399.7 94.6 399.9 94.6 400.1 94.7 400.3 94.7 400.4 94.7 400.6 94.8 400.8 94.8 401.0 94.8 401.1 94.8 401.3 94.9 401.5 94.9 401.7 94.9 401.8 94.9 402.0 94.9 402.2 94.9 402.4 94.9 402.5 95.1 402.7 95.3 402.9 95.6 403.1 95.9 403.2 96.3 403.4 96.6 403.6 96.8 403.8 96.9 403.9 96.9 404.1 96.4 404.3 95.6 404.5 94.5 404.6 93.2 404.8 91.8 405.0 90.6 405.2 89.4 405.3 88.6 405.5 88.1 405.7 88.0 405.9 88.3 406.0 89.0 406.2 89.8 406.4 90.6 406.6 91.2 406.7 91.6 406.9 91.5 407.1 91.2 407.3 90.7 407.4 90.1 407.6 89.5 407.8 89.0 408.0 88.7 408.1 89.0 408.3 91.1 408.5 94.8 408.7 99.3 408.8 103.6 409.0 106.6 409.2 107.7 409.4 107.0 409.5 105.0 409.7 101.8 409.9 97.5 410.0 92.5 410.2 86.9 410.4 81.1 410.6 75.3 410.7 70.0 410.9 65.3 411.1 61.6 411.3 58.9 411.4 57.6 411.6 57.7 411.8 59.7 412.0 63.5 412.1 69.2 412.3 76.6 412.5 85.3 412.7 95.3 412.8 106.1 413.0 117.6 413.2 129.2 413.4 140.8 413.5 152.0 413.7 162.4 413.9 171.8 414.1 179.9 414.2 186.4 414.4 191.2 414.6 194.2 414.8 195.2 414.9 193.4 415.1 188.1 415.3 179.4 415.5 167.9 415.6 153.8 415.8 137.8 416.0 120.6 416.2 102.9 416.3 85.3 416.5 68.6 416.7 53.6 416.9 40.7 417.0 30.5 417.2 23.5 417.4 19.9 417.6 20.0 417.7 24.1 417.9 31.9 418.1 42.7 418.3 55.4 418.4 68.7 418.6 81.3 418.8 92.1 419.0 99.9 419.1 104.0 419.3 104.5 419.5 103.8 419.7 102.6 419.8 100.9 420.0 99.1 420.2 97.2 420.4 95.6 420.5 94.3 420.7 93.7 420.9 93.7 421.1 94.7 421.2 95.7 421.4 95.6 421.6 94.7 421.8 94.9 421.9 98.0 422.1 102.7 422.3 106.9 422.5 108.6 422.6 107.8 422.8 105.7 423.0 102.4 423.2 98.0 423.3 93.1 423.5 88.0 423.7 83.1 423.9 78.8 424.0 75.5 424.2 73.3 424.4 72.6 424.6 72.7 424.7 72.9 424.9 73.1 425.1 72.8 425.3 72.2 425.4 71.2 425.6 69.9 425.8 68.3 426.0 66.4 426.1 64.5 426.3 62.6 426.5 60.7 426.7 58.9 426.8 57.5 427.0 56.3 427.2 55.4 427.4 55.0 427.5 55.2 427.7 56.8 427.9 60.0 428.1 64.5 428.2 70.2 428.4 76.7 428.6 83.8 428.8 91.1 428.9 98.2 429.1 104.7 429.3 110.4 429.5 115.0 429.6 118.1 429.8 119.7 430.0 119.8 430.2 119.0 430.3 117.3 430.5 114.9 430.7 111.7 430.9 107.8 431.0 103.5 431.2 98.6 431.4 93.5 431.6 88.2 431.7 82.7 431.9 77.4 432.1 72.2 432.3 67.4 432.4 63.0 432.6 59.2 432.8 56.0 433.0 53.6 433.1 51.9 433.3 51.1 433.5 51.2 433.7 52.8 433.8 56.0 434.0 60.3 434.2 65.4 434.4 70.7 434.5 75.8 434.7 80.1 434.9 83.3 435.1 84.9 435.2 84.8 435.4 82.5 435.6 78.1 435.8 72.1 435.9 65.4 436.1 58.6 436.3 52.7 436.5 48.2 436.6 45.9 436.8 45.9 437.0 48.5 437.1 53.7 437.3 61.0 437.5 70.3 437.7 81.0 437.8 92.8 438.0 104.9 438.2 116.9 438.4 128.2 438.5 138.3 438.7 146.6 438.9 152.9 439.1 156.8 439.2 158.1 439.4 156.9 439.6 153.2 439.8 147.2 439.9 139.2 440.1 129.6 440.3 118.7 440.5 107.0 440.6 95.1 440.8 83.4 441.0 72.6 441.2 62.9 441.3 54.9 441.5 49.0 441.7 45.3 441.9 44.0 442.0 45.1 442.2 48.4 442.4 53.8 442.6 61.1 442.7 70.0 442.9 80.3 443.1 91.7 443.3 103.8 443.4 116.1 443.6 128.4 443.8 140.1 444.0 151.0 444.1 160.7 444.3 168.8 444.5 175.2 444.7 179.5 444.8 181.7 445.0 181.9 445.2 180.9 445.4 178.9 445.5 175.9 445.7 172.1 445.9 167.5 446.1 162.1 446.2 156.0 446.4 149.5 446.6 142.6 446.8 135.3 446.9 128.0 447.1 120.6 447.3 113.4 447.5 106.5 447.6 99.9 447.8 93.9 448.0 88.5 448.2 83.8 448.3 80.0 448.5 77.1 448.7 75.1 448.9 74.1 449.0 74.1 449.2 75.1 449.4 77.2 449.6 80.1 449.7 83.9 449.9 88.3 450.1 93.1 450.3 98.2 450.4 103.4 450.6 108.4 450.8 113.0 451.0 117.1 451.1 120.5 451.3 123.0 451.5 124.6 451.7 125.1 451.8 124.7 452.0 123.7 452.2 122.0 452.4 119.8 452.5 117.1 452.7 114.0 452.9 110.7 453.1 107.2 453.2 103.9 453.4 100.6 453.6 97.7 453.8 95.2 453.9 93.3 454.1 91.9 454.3 91.2 454.5 91.2 454.6 92.1 454.8 93.7 455.0 95.9 455.2 98.8 455.3 102.0 455.5 105.5 455.7 109.1 455.9 112.5 456.0 115.6 456.2 118.1 456.4 120.1 456.6 121.3 456.7 121.7 456.9 121.4 457.1 120.4 457.3 118.8 457.4 116.6 457.6 113.9 457.8 110.9 458.0 107.6 458.1 104.1 458.3 100.6 458.5 97.1 458.7 93.9 458.8 91.1 459.0 88.6 459.2 86.7 459.4 85.4 459.5 84.8 459.7 84.8 459.9 85.8 460.1 87.7 460.2 90.4 460.4 93.8 460.6 97.7 460.8 101.9 460.9 106.2 461.1 110.2 461.3 113.9 461.5 117.0 461.6 119.3 461.8 120.8 462.0 121.3 462.2 121.0 462.3 120.2 462.5 118.9 462.7 117.1 462.9 114.9 463.0 112.3 463.2 109.5 463.4 106.6 463.6 103.6 463.7 100.6 463.9 97.7 464.1 95.1 464.2 92.9 464.4 91.0 464.6 89.6 464.8 88.6 464.9 88.3 465.1 88.5 465.3 89.6 465.5 91.3 465.6 93.6 465.8 96.3 466.0 99.0 466.2 101.5 466.3 103.6 466.5 105.1 466.7 105.8 466.9 105.7 467.0 105.0 467.2 103.6 467.4 102.1 467.6 100.5 467.7 99.3 467.9 98.8 468.1 98.8 468.3 99.3 468.4 100.3 468.6 101.5 468.8 103.1 469.0 105.0 469.1 107.0 469.3 109.2 469.5 111.3 469.7 113.4 469.8 115.4 470.0 117.1 470.2 118.5 470.4 119.5 470.5 120.2 470.7 120.4 470.9 120.0 471.1 118.6 471.2 116.5 471.4 113.6 471.6 110.2 471.8 106.3 471.9 102.3 472.1 98.3 472.3 94.6 472.5 91.2 472.6 88.5 472.8 86.5 473.0 85.4 473.2 85.2 473.3 86.2 473.5 88.7 473.7 92.4 473.9 97.3 474.0 103.0 474.2 109.3 474.4 115.9 474.6 122.5 474.7 128.9 474.9 134.6 475.1 139.4 475.3 143.1 475.4 145.6 475.6 146.7 475.8 145.9 476.0 142.4 476.1 136.5 476.3 128.7 476.5 119.8 476.7 110.7 476.8 102.3 477.0 95.3 477.2 90.6 477.4 88.4 477.5 88.5 477.7 89.1 477.9 90.2 478.1 91.8 478.2 93.8 478.4 96.1 478.6 98.7 478.8 101.6 478.9 104.5 479.1 107.6 479.3 110.6 479.5 113.5 479.6 116.3 479.8 118.8 480.0 120.9 480.2 122.7 480.3 124.0 480.5 124.9 480.7 125.3 480.9 124.9 481.0 123.3 481.2 120.5 481.4 116.8 481.6 112.3 481.7 107.6 481.9 102.8 482.1 98.3 482.3 94.6 482.4 91.8 482.6 90.2 482.8 89.8 483.0 90.2 483.1 91.0 483.3 92.2 483.5 93.7 483.7 95.6 483.8 97.7 484.0 99.9 484.2 102.2 484.4 104.5 484.5 106.5 484.7 108.4 484.9 110.0 485.1 111.2 485.2 112.0 485.4 112.3 485.6 112.2 485.8 111.6 485.9 110.8 486.1 109.9 486.3 109.4 486.5 109.2 486.6 109.4 486.8 109.1 487.0 107.8 487.2 105.6 487.3 102.7 487.5 99.4 487.7 96.1 487.9 93.2 488.0 91.0 488.2 89.7 488.4 89.4 488.6 90.5 488.7 92.9 488.9 96.5 489.1 101.1 489.3 106.4 489.4 112.0 489.6 117.7 489.8 122.9 490.0 127.5 490.1 131.1 490.3 133.6 490.5 134.6 490.7 134.5 490.8 133.6 491.0 132.1 491.2 130.1 491.4 127.6 491.5 124.8 491.7 121.9 491.9 119.0 492.0 116.4 492.2 114.1 492.4 112.3 492.6 111.1 492.7 110.6 492.9 110.7 493.1 110.8 493.3 110.0 493.4 108.5 493.6 106.8 493.8 105.3 494.0 104.6 494.1 104.6 494.3 105.0 494.5 105.8 494.7 106.8 494.8 108.1 495.0 109.7 495.2 111.4 495.4 113.4 495.5 115.5 495.7 117.7 495.9 119.9 496.1 122.2 496.2 124.4 496.4 126.5 496.6 128.4 496.8 130.2 496.9 131.8 497.1 133.1 497.3 134.1 497.5 134.8 497.6 135.3 497.8 135.3 498.0 134.0 498.2 131.1 498.3 126.6 498.5 120.7 498.7 113.6 498.9 105.5 499.0 96.6 499.2 87.3 499.4 77.8 499.6 68.5 499.7 59.6 499.9 51.5 500.1 44.4 500.3 38.5 500.4 34.0 500.6 31.1 500.8 29.8 501.0 30.3 501.1 32.8 501.3 37.3 501.5 43.6 501.7 51.5 501.8 60.7 502.0 71.1 502.2 82.2 502.4 93.8 502.5 105.5 502.7 116.9 502.9 127.6 503.1 137.5 503.2 146.1 503.4 153.2 503.6 158.6 503.8 162.1 503.9 163.6 504.1 163.2 504.3 160.9 504.5 156.9 504.6 151.3 504.8 144.5 505.0 136.6 505.2 128.1 505.3 119.3 505.5 110.6 505.7 102.3 505.9 94.9 506.0 88.7 506.2 83.9 506.4 80.7 506.6 79.4 506.7 79.7 506.9 81.4 507.1 84.3 507.3 88.4 507.4 93.3 507.6 98.9 507.8 104.8 508.0 110.6 508.1 116.2 508.3 121.1 508.5 125.2 508.7 128.1 508.8 129.8 509.0 130.2 509.2 129.2 509.4 127.0 509.5 123.6 509.7 119.2 509.9 114.0 510.1 108.2 510.2 102.1 510.4 95.9 510.6 89.9 510.8 84.3 510.9 79.5 511.1 75.6 511.3 72.8 511.5 71.2 511.6 70.9 511.8 71.7 512.0 73.5 512.2 76.3 512.3 80.0 512.5 84.3 512.7 89.1 512.9 94.2 513.0 99.4 513.2 104.3 513.4 108.9 513.6 112.9 513.7 116.2 513.9 118.5 514.1 119.9 514.3 120.2 514.4 119.8 514.6 119.1 514.8 117.9 515.0 116.3 515.1 114.4 515.3 112.2 515.5 109.7 515.7 107.0 515.8 104.2 516.0 101.2 516.2 98.2 516.4 95.3 516.5 92.4 516.7 89.7 516.9 87.3 517.1 85.0 517.2 83.1 517.4 81.6 517.6 80.4 517.8 79.6 517.9 79.3 518.1 79.7 518.3 81.3 518.5 84.1 518.6 87.9 518.8 92.6 519.0 97.9 519.1 103.4 519.3 109.0 519.5 114.2 519.7 118.9 519.8 122.8 520.0 125.6 520.2 127.2 520.4 127.5 520.5 126.0 520.7 122.5 520.9 117.4 521.1 110.8 521.2 103.2 521.4 95.0 521.6 86.7 521.8 78.7 521.9 71.6 522.1 65.7 522.3 61.4 522.5 58.9 522.6 58.4 522.8 59.1 523.0 60.9 523.2 63.5 523.3 67.1 523.5 71.3 523.7 76.2 523.9 81.5 524.0 87.1 524.2 92.7 524.4 98.3 524.6 103.6 524.7 108.5 524.9 112.7 525.1 116.3 525.3 119.0 525.4 120.7 525.6 121.5 525.8 121.3 526.0 120.5 526.1 119.1 526.3 117.1 526.5 114.6 526.7 111.6 526.8 108.4 527.0 105.0 527.2 101.6 527.4 98.2 527.5 95.0 527.7 92.1 527.9 89.6 528.1 87.6 528.2 86.1 528.4 85.3 528.6 85.1 528.8 85.5 528.9 86.5 529.1 87.9 529.3 89.7 529.5 92.0 529.6 94.4 529.8 97.1 530.0 99.7 530.2 102.4 530.3 104.8 530.5 107.0 530.7 108.9 530.9 110.3 531.0 111.3 531.2 111.7 531.4 111.4 531.6 110.1 531.7 107.8 531.9 104.6 532.1 100.8 532.3 96.5 532.4 91.9 532.6 87.4 532.8 83.1 533.0 79.2 533.1 76.1 533.3 73.8 533.5 72.5 533.7 72.2 533.8 73.1 534.0 75.1 534.2 78.1 534.4 82.0 534.5 86.6 534.7 91.7 534.9 97.0 535.1 102.4 535.2 107.6 535.4 112.3 535.6 116.3 535.8 119.4 535.9 121.5 536.1 122.5 536.3 122.4 536.5 121.2 536.6 119.0 536.8 115.9 537.0 112.1 537.2 107.8 537.3 103.2 537.5 98.7 537.7 94.5 537.9 90.8 538.0 87.8 538.2 85.8 538.4 84.8 538.6 84.7 538.7 85.1 538.9 85.9 539.1 86.9 539.3 88.3 539.4 89.9 539.6 91.7 539.8 93.6 540.0 95.5 540.1 97.4 540.3 99.2 540.5 100.8 540.7 102.2 540.8 103.3 541.0 104.0 541.2 104.5 541.4 104.5 541.5 104.4 541.7 104.2 541.9 104.0 542.1 103.6 542.2 103.2 542.4 102.8 542.6 102.5 542.8 102.2 542.9 102.0 543.1 101.9 543.3 101.9 543.5 102.0 543.6 102.1 543.8 101.7 544.0 100.4 544.2 98.5 544.3 96.1 544.5 93.4 544.7 90.7 544.9 88.3 545.0 86.3 545.2 85.1 545.4 84.7 545.6 85.1 545.7 86.4 545.9 88.4 546.1 91.2 546.2 94.5 546.4 98.3 546.6 102.4 546.8 106.5 546.9 110.5 547.1 114.3 547.3 117.6 547.5 120.4 547.6 122.5 547.8 123.8 548.0 124.2 548.2 124.0 548.3 123.4 548.5 122.5 548.7 121.3 548.9 119.7 549.0 117.8 549.2 115.6 549.4 113.3 549.6 110.7 549.7 108.1 549.9 105.3 550.1 102.5 550.3 99.7 550.4 97.0 550.6 94.4 550.8 91.9 551.0 89.6 551.1 87.6 551.3 85.9 551.5 84.5 551.7 83.4 551.8 82.6 552.0 82.3 552.2 82.3 552.4 83.3 552.5 85.1 552.7 87.7 552.9 90.8 553.1 94.3 553.2 98.0 553.4 101.5 553.6 104.7 553.8 107.2 553.9 109.1 554.1 110.0 554.3 110.1 554.5 109.7 554.6 108.9 554.8 107.8 555.0 106.4 555.2 104.8 555.3 103.1 555.5 101.3 555.7 99.7 555.9 98.2 556.0 96.9 556.2 96.0 556.4 95.4 556.6 95.2 556.7 95.3 556.9 95.9 557.1 96.7 557.3 97.7 557.4 98.8 557.6 100.0 557.8 101.0 558.0 101.8 558.1 102.3 558.3 102.5 558.5 102.2 558.7 101.4 558.8 100.2 559.0 98.5 559.2 96.6 559.4 94.5 559.5 92.5 559.7 90.7 559.9 89.2 560.1 88.2 560.2 87.6 560.4 87.7 560.6 88.4 560.8 89.8 560.9 91.9 561.1 94.5 561.3 97.5 561.5 100.8 561.6 104.1 561.8 107.3 562.0 110.3 562.2 112.9 562.3 115.0 562.5 116.4 562.7 117.2 562.9 117.2 563.0 116.7 563.2 115.7 563.4 114.2 563.6 112.3 563.7 110.2 563.9 107.8 564.1 105.3 564.3 102.8 564.4 100.5 564.6 98.3 564.8 96.4 565.0 95.0 565.1 94.0 565.3 93.4 565.5 93.5 565.7 94.1 565.8 95.4 566.0 97.3 566.2 99.5 566.4 102.0 566.5 104.6 566.7 107.1 566.9 109.4 567.1 111.2 567.2 112.5 567.4 113.2 567.6 113.2 567.8 112.6 567.9 111.5 568.1 110.0 568.3 108.0 568.5 105.7 568.6 103.2 568.8 100.5 569.0 97.9 569.2 95.3 569.3 93.0 569.5 91.1 569.7 89.5 569.9 88.4 570.0 87.9 570.2 87.9 570.4 88.9 570.6 90.9 570.7 93.8 570.9 97.3 571.1 101.4 571.3 105.8 571.4 110.2 571.6 114.4 571.8 118.3 572.0 121.5 572.1 123.9 572.3 125.5 572.5 126.0 572.7 125.4 572.8 123.6 573.0 120.7 573.2 116.8 573.4 112.1 573.5 106.8 573.7 101.1 573.9 95.3 574.0 89.6 574.2 84.3 574.4 79.6 574.6 75.7 574.7 72.8 574.9 71.0 575.1 70.4 575.3 71.0 575.4 72.9 575.6 76.0 575.8 80.0 576.0 84.7 576.1 89.9 576.3 95.3 576.5 100.5 576.7 105.2 576.8 109.2 577.0 112.3 577.2 114.2 577.4 114.8 577.5 114.4 577.7 113.0 577.9 110.9 578.1 108.0 578.2 104.6 578.4 100.9 578.6 97.0 578.8 93.1 578.9 89.5 579.1 86.4 579.3 83.9 579.5 82.1 579.6 81.2 579.8 81.3 580.0 83.1 580.2 86.4 580.3 91.0 580.5 96.3 580.7 102.0 580.9 107.4 581.0 112.0 581.2 115.3 581.4 117.0 581.6 117.2 581.7 116.4 581.9 114.8 582.1 112.5 582.3 109.6 582.4 106.1 582.6 102.4 582.8 98.4 583.0 94.4 583.1 90.5 583.3 86.9 583.5 83.7 583.7 81.1 583.8 79.1 584.0 77.9 584.2 77.5 584.4 78.2 584.5 80.0 584.7 83.1 584.9 87.1 585.1 91.8 585.2 97.1 585.4 102.6 585.6 108.0 585.8 113.0 585.9 117.4 586.1 121.0 586.3 123.4 586.5 124.7 586.6 124.8 586.8 124.0 587.0 122.4 587.2 120.2 587.3 117.4 587.5 114.3 587.7 110.9 587.9 107.4 588.0 104.1 588.2 101.1 588.4 98.6 588.6 96.7 588.7 95.6 588.9 95.2 589.1 95.9 589.3 98.0 589.4 100.9 589.6 103.7 589.8 105.8 590.0 106.5 590.1 106.2 590.3 105.1 590.5 103.5 590.7 101.4 590.8 99.2 591.0 97.0 591.2 95.1 591.4 93.7 591.5 93.0 591.7 93.0 591.9 93.5 592.1 94.5 592.2 95.9 592.4 97.5 592.6 99.2 592.8 100.7 592.9 101.9 593.1 102.7 593.3 103.0 593.5 102.9 593.6 102.6 593.8 102.3 594.0 101.7 594.2 101.2 594.3 100.5 594.5 99.9 594.7 99.3 594.9 98.8 595.0 98.4 595.2 98.1 595.4 98.1 595.6 98.5 595.7 99.6 595.9 101.4 596.1 103.6 596.3 106.1 596.4 108.6 596.6 110.8 596.8 112.6 597.0 113.7 597.1 114.1 597.3 113.5 597.5 111.6 597.7 108.7 597.8 105.0 598.0 101.0 598.2 96.9 598.4 93.2 598.5 90.3 598.7 88.4 598.9 87.8 599.1 88.4 599.2 90.0 599.4 92.6 599.6 96.0 599.8 100.0 599.9 104.1 600.1 108.2 600.3 111.9 600.5 114.9 600.6 117.1 600.8 118.2 601.0 118.3 601.1 117.5 601.3 115.9 601.5 113.6 601.7 110.9 601.8 107.8 602.0 104.6 602.2 101.6 602.4 98.8 602.5 96.6 602.7 95.0 602.9 94.1 603.1 94.1 603.2 94.7 603.4 95.9 603.6 97.5 603.8 99.5 603.9 101.6 604.1 103.9 604.3 105.9 604.5 107.8 604.6 109.2 604.8 110.0 605.0 110.3 605.2 110.1 605.3 109.3 605.5 108.0 605.7 106.3 605.9 104.3 606.0 102.0 606.2 99.8 606.4 97.6 606.6 95.6 606.7 93.8 606.9 92.6 607.1 91.8 607.3 91.5 607.4 91.7 607.6 92.4 607.8 93.6 608.0 95.2 608.1 97.1 608.3 99.3 608.5 101.7 608.7 104.1 608.8 106.6 609.0 109.0 609.2 111.2 609.4 113.1 609.5 114.7 609.7 115.9 609.9 116.6 610.1 116.8 610.2 116.3 610.4 115.0 610.6 112.8 610.8 110.0 610.9 106.8 611.1 103.3 611.3 100.0 611.5 96.9 611.6 94.4 611.8 92.6 612.0 91.7 612.2 91.7 612.3 92.4 612.5 93.7 612.7 95.3 612.9 96.9 613.0 98.2 613.2 98.9 613.4 98.9 613.6 98.4 613.7 97.4 613.9 96.0 614.1 94.3 614.3 92.6 614.4 91.0 614.6 89.6 614.8 88.6 615.0 88.1 615.1 88.2 615.3 89.6 615.5 92.4 615.7 96.3 615.8 101.0 616.0 106.4 616.2 111.9 616.4 117.2 616.5 122.0 616.7 125.9 616.9 128.6 617.1 130.0 617.2 130.0 617.4 128.4 617.6 125.4 617.8 121.0 617.9 115.5 618.1 109.2 618.3 102.5 618.5 95.6 618.6 89.1 618.8 83.1 619.0 78.2 619.2 74.4 619.3 72.1 619.5 71.3 619.7 72.3 619.9 75.2 620.0 79.8 620.2 85.7 620.4 92.4 620.6 99.5 620.7 106.2 620.9 112.1 621.1 116.7 621.3 119.6 621.4 120.6 621.6 119.6 621.8 116.5 622.0 111.7 622.1 105.7 622.3 98.8 622.5 91.8 622.7 85.3 622.8 79.8 623.0 75.8 623.2 73.8 623.4 73.7 623.5 75.0 623.7 77.6 623.9 81.2 624.1 85.7 624.2 90.7 624.4 95.8 624.6 100.8 624.8 105.3 624.9 108.9 625.1 111.5 625.3 112.9 625.5 112.8 625.6 111.3 625.8 108.3 626.0 104.2 626.2 99.1 626.3 93.6 626.5 87.9 626.7 82.5 626.9 77.9 627.0 74.3 627.2 72.0 627.4 71.3 627.6 72.3 627.7 75.2 627.9 79.9 628.1 86.1 628.2 93.5 628.4 101.7 628.6 110.3 628.8 118.7 628.9 126.5 629.1 133.4 629.3 138.9 629.5 142.7 629.6 144.7 629.8 144.8 630.0 143.7 630.2 141.5 630.3 138.3 630.5 134.2 630.7 129.4 630.9 124.0 631.0 118.2 631.2 112.3 631.4 106.5 631.6 100.9 631.7 95.7 631.9 91.3 632.1 87.6 632.3 84.9 632.4 83.2 632.6 82.7 632.8 83.2 633.0 84.8 633.1 87.3 633.3 90.7 633.5 94.7 633.7 99.2 633.8 103.8 634.0 108.4 634.2 112.6 634.4 116.4 634.5 119.3 634.7 121.4 634.9 122.5 635.1 122.5 635.2 121.7 635.4 120.2 635.6 118.0 635.8 115.4 635.9 112.4 636.1 109.4 636.3 106.4 636.5 103.8 636.6 101.6 636.8 100.1 637.0 99.3 637.2 99.2 637.3 99.8 637.5 100.9 637.7 102.5 637.9 104.4 638.0 106.7 638.2 109.1 638.4 111.5 638.6 113.8 638.7 115.9 638.9 117.7 639.1 119.0 639.3 119.9 639.4 120.2 639.6 120.0 639.8 119.7 640.0 119.1 640.1 118.4 640.3 117.4 640.5 116.3 640.7 115.0 640.8 113.7 641.0 112.2 641.2 110.7 641.4 109.2 641.5 107.7 641.7 106.3 641.9 105.0 642.1 103.8 642.2 102.8 642.4 101.9 642.6 101.2 642.8 100.8 642.9 100.5 643.1 100.5 643.3 100.8 643.5 101.2 643.6 101.7 643.8 102.5 644.0 103.3 644.2 104.3 644.3 105.2 644.5 106.2 644.7 107.1 644.9 107.9 645.0 108.5 645.2 109.0 645.4 109.3 645.6 109.4 645.7 109.3 645.9 108.9 646.1 108.2 646.3 107.4 646.4 106.4 646.6 105.5 646.8 104.7 647.0 104.0 647.1 103.6 647.3 103.4 647.5 103.6 647.7 104.1 647.8 104.9 648.0 105.9 648.2 107.1 648.4 108.5 648.5 109.9 648.7 111.3 648.9 112.6 649.1 113.8 649.2 114.7 649.4 115.3 649.6 115.7 649.8 115.6 649.9 114.9 650.1 113.6 650.3 111.8 650.5 109.6 650.6 107.1 650.8 104.5 651.0 102.0 651.2 99.7 651.3 97.9 651.5 96.6 651.7 95.9 651.9 95.9 652.0 96.8 652.2 98.6 652.4 101.0 652.6 103.9 652.7 107.2 652.9 110.5 653.1 113.6 653.3 116.3 653.4 118.4 653.6 119.7 653.8 120.2 654.0 119.8 654.1 118.8 654.3 117.1 654.5 114.9 654.7 112.3 654.8 109.4 655.0 106.3 655.2 103.4 655.3 100.6 655.5 98.1 655.7 96.2 655.9 94.8 656.0 94.1 656.2 94.1 656.4 94.5 656.6 95.3 656.7 96.4 656.9 97.9 657.1 99.5 657.3 101.4 657.4 103.4 657.6 105.4 657.8 107.3 658.0 109.1 658.1 110.6 658.3 111.9 658.5 112.9 658.7 113.5 658.8 113.7 659.0 113.5 659.2 112.9 659.4 112.0 659.5 110.8 659.7 109.4 659.9 107.8 660.1 106.1 660.2 104.5 660.4 103.0 660.6 101.6 660.8 100.6 660.9 99.8 661.1 99.4 661.3 99.4 661.5 99.7 661.6 100.3 661.8 101.1 662.0 102.1 662.2 103.2 662.3 104.4 662.5 105.7 662.7 106.9 662.9 108.0 663.0 108.9 663.2 109.5 663.4 110.0 663.6 110.1 663.7 110.0 663.9 109.7 664.1 109.1 664.3 108.4 664.4 107.6 664.6 106.6 664.8 105.6 665.0 104.7 665.1 103.8 665.3 103.0 665.5 102.3 665.7 101.9 665.8 101.7 666.0 101.7 666.2 102.0 666.4 102.5 666.5 103.3 666.7 104.3 666.9 105.3 667.1 106.4 667.2 107.3 667.4 108.1 667.6 108.7 667.8 109.0 667.9 109.0 668.1 108.9 668.3 108.7 668.5 108.5 668.6 108.2 668.8 107.9 669.0 107.6 669.2 107.4 669.3 107.3 669.5 107.2" stroke="#000" stroke-width="2.6"/>
<path d="M398.5 94.5L398.7 94.5 398.9 94.5 399.0 94.5 399.2 94.5 399.4 94.5 399.6 94.6 399.7 94.6 399.9 94.6 400.1 94.7 400.3 94.7 400.4 94.7 400.6 94.8 400.8 94.8 401.0 94.8 401.1 94.8 401.3 94.9 401.5 94.9 401.7 94.9 401.8 94.9 402.0 94.9 402.2 94.9 402.4 94.9 402.5 95.1 402.7 95.3 402.9 95.6 403.1 95.9 403.2 96.3 403.4 96.6 403.6 96.8 403.8 96.9 403.9 96.9 404.1 96.4 404.3 95.6 404.5 94.5 404.6 93.2 404.8 91.8 405.0 90.6 405.2 89.4 405.3 88.6 405.5 88.1 405.7 88.0 405.9 88.3 406.0 89.0 406.2 89.8 406.4 90.6 406.6 91.2 406.7 91.6 406.9 91.5 407.1 91.2 407.3 90.7 407.4 90.1 407.6 89.5 407.8 89.0 408.0 88.7 408.1 88.9 408.3 90.4 408.5 93.1 408.7 96.6 408.8 100.2 409.0 103.4 409.2 105.6 409.4 106.3 409.5 105.6 409.7 103.6 409.9 100.3 410.0 96.0 410.2 90.9 410.4 85.4 410.6 79.8 410.7 74.5 410.9 69.8 411.1 65.9 411.3 63.2 411.4 61.8 411.6 61.9 411.8 63.4 412.0 66.4 412.1 70.8 412.3 76.4 412.5 83.2 412.7 90.9 412.8 99.2 413.0 108.1 413.2 117.1 413.4 126.0 413.5 134.6 413.7 142.7 413.9 149.9 414.1 156.1 414.2 161.2 414.4 164.9 414.6 167.2 414.8 167.9 414.9 166.4 415.1 161.7 415.3 154.1 415.5 143.9 415.6 131.6 415.8 117.6 416.0 102.5 416.2 86.9 416.3 71.5 416.5 56.8 416.7 43.6 416.9 32.3 417.0 23.4 417.2 17.2 417.4 14.1 417.6 14.2 417.7 18.2 417.9 25.8 418.1 36.4 418.3 49.0 418.4 62.5 418.6 75.7 418.8 87.4 419.0 96.6 419.1 102.5 419.3 104.5 419.5 104.1 419.7 102.8 419.8 100.9 420.0 98.5 420.2 96.0 420.4 93.7 420.5 91.7 420.7 90.5 420.9 90.0 421.1 90.6 421.2 92.3 421.4 94.9 421.6 98.1 421.8 101.7 421.9 105.4 422.1 108.6 422.3 111.2 422.5 112.9 422.6 113.5 422.8 113.3 423.0 112.9 423.2 112.2 423.3 111.3 423.5 110.1 423.7 108.7 423.9 107.1 424.0 105.3 424.2 103.3 424.4 101.1 424.6 98.9 424.7 96.5 424.9 94.1 425.1 91.7 425.3 89.3 425.4 86.9 425.6 84.5 425.8 82.3 426.0 80.1 426.1 78.1 426.3 76.3 426.5 74.7 426.7 73.3 426.8 72.1 427.0 71.2 427.2 70.5 427.4 70.1 427.5 69.9 427.7 70.6 427.9 72.7 428.1 76.0 428.2 80.4 428.4 85.6 428.6 91.3 428.8 97.3 428.9 103.3 429.1 108.8 429.3 113.6 429.5 117.5 429.6 120.2 429.8 121.6 430.0 121.7 430.2 121.1 430.3 120.0 430.5 118.5 430.7 116.4 430.9 113.9 431.0 111.1 431.2 107.9 431.4 104.6 431.6 101.1 431.7 97.5 431.9 94.0 432.1 90.5 432.3 87.3 432.4 84.3 432.6 81.6 432.8 79.3 433.0 77.5 433.1 76.2 433.3 75.3 433.5 75.1 433.7 76.0 433.8 78.5 434.0 82.4 434.2 86.9 434.4 91.4 434.5 95.3 434.7 97.8 434.9 98.7 435.1 97.6 435.2 94.5 435.4 89.5 435.6 83.2 435.8 76.1 435.9 68.8 436.1 62.1 436.3 56.4 436.5 52.3 436.6 50.1 436.8 50.1 437.0 52.5 437.1 57.1 437.3 63.8 437.5 72.2 437.7 82.0 437.8 92.6 438.0 103.6 438.2 114.5 438.4 124.7 438.5 133.9 438.7 141.5 438.9 147.2 439.1 150.7 439.2 151.9 439.4 150.7 439.6 147.3 439.8 141.9 439.9 134.6 440.1 125.7 440.3 115.8 440.5 105.1 440.6 94.2 440.8 83.5 441.0 73.5 441.2 64.7 441.3 57.4 441.5 51.9 441.7 48.5 441.9 47.4 442.0 48.3 442.2 51.1 442.4 55.7 442.6 62.0 442.7 69.6 442.9 78.5 443.1 88.2 443.3 98.5 443.4 109.1 443.6 119.6 443.8 129.6 444.0 139.0 444.1 147.2 444.3 154.2 444.5 159.6 444.7 163.4 444.8 165.2 445.0 165.4 445.2 164.6 445.4 163.1 445.5 160.9 445.7 158.1 445.9 154.6 446.1 150.6 446.2 146.2 446.4 141.4 446.6 136.4 446.8 131.3 446.9 126.1 447.1 121.0 447.3 116.1 447.5 111.5 447.6 107.3 447.8 103.5 448.0 100.4 448.2 97.8 448.3 96.0 448.5 94.9 448.7 94.5 448.9 94.8 449.0 95.9 449.2 97.6 449.4 99.8 449.6 102.5 449.7 105.5 449.9 108.7 450.1 112.0 450.3 115.1 450.4 118.0 450.6 120.5 450.8 122.5 451.0 123.8 451.1 124.5 451.3 124.6 451.5 124.1 451.7 123.1 451.8 121.8 452.0 120.1 452.2 118.1 452.4 116.0 452.5 113.8 452.7 111.7 452.9 109.8 453.1 108.1 453.2 106.7 453.4 105.8 453.6 105.3 453.8 105.3 453.9 105.6 454.1 106.3 454.3 107.4 454.5 108.7 454.6 110.1 454.8 111.7 455.0 113.4 455.2 115.0 455.3 116.5 455.5 117.8 455.7 118.8 455.9 119.5 456.0 119.9 456.2 119.9 456.4 119.6 456.6 119.1 456.7 118.3 456.9 117.3 457.1 116.0 457.3 114.7 457.4 113.2 457.6 111.6 457.8 110.0 458.0 108.4 458.1 106.9 458.3 105.5 458.5 104.3 458.7 103.3 458.8 102.5 459.0 101.9 459.2 101.7 459.4 101.7 459.5 102.3 459.7 103.5 459.9 105.2 460.1 107.3 460.2 109.7 460.4 112.3 460.6 114.9 460.8 117.4 460.9 119.6 461.1 121.5 461.3 123.0 461.5 123.9 461.6 124.2 461.8 124.0 462.0 123.3 462.2 122.3 462.3 120.9 462.5 119.2 462.7 117.2 462.9 115.2 463.0 113.1 463.2 111.0 463.4 109.1 463.6 107.4 463.7 106.0 463.9 105.0 464.1 104.3 464.2 104.1 464.4 104.5 464.6 105.5 464.8 107.2 464.9 109.1 465.1 111.0 465.3 112.8 465.5 114.0 465.6 114.6 465.8 114.4 466.0 113.8 466.2 112.7 466.3 111.1 466.5 109.3 466.7 107.4 466.9 105.4 467.0 103.6 467.2 102.0 467.4 100.8 467.6 100.1 467.7 99.9 467.9 100.3 468.1 101.5 468.3 103.4 468.4 105.9 468.6 108.8 468.8 111.9 469.0 115.1 469.1 118.3 469.3 121.1 469.5 123.5 469.7 125.3 469.8 126.5 470.0 126.9 470.2 126.6 470.4 125.8 470.5 124.6 470.7 122.8 470.9 120.8 471.1 118.4 471.2 115.8 471.4 113.0 471.6 110.3 471.8 107.6 471.9 105.1 472.1 102.8 472.3 100.9 472.5 99.5 472.6 98.4 472.8 97.9 473.0 98.0 473.2 99.3 473.3 101.9 473.5 105.5 473.7 110.1 473.9 115.4 474.0 121.0 474.2 126.7 474.4 132.1 474.6 137.1 474.7 141.2 474.9 144.3 475.1 146.3 475.3 147.0 475.4 145.4 475.6 140.8 475.8 133.7 476.0 124.7 476.1 114.8 476.3 104.9 476.5 95.9 476.7 88.8 476.8 84.2 477.0 82.7 477.2 82.9 477.4 83.7 477.5 84.9 477.7 86.5 477.9 88.4 478.1 90.6 478.2 93.0 478.4 95.4 478.6 97.7 478.8 99.9 478.9 101.8 479.1 103.5 479.3 104.7 479.5 105.4 479.6 105.7 479.8 105.4 480.0 104.8 480.2 103.9 480.3 102.5 480.5 100.9 480.7 99.1 480.9 97.1 481.0 95.1 481.2 93.1 481.4 91.2 481.6 89.5 481.7 88.0 481.9 86.8 482.1 86.0 482.3 85.6 482.4 85.7 482.6 86.7 482.8 88.5 483.0 91.0 483.1 94.0 483.3 97.2 483.5 100.2 483.7 102.7 483.8 104.6 484.0 105.5 484.2 105.6 484.4 105.1 484.5 104.2 484.7 102.9 484.9 101.4 485.1 99.8 485.2 98.3 485.4 97.1 485.6 96.2 485.8 95.7 485.9 95.7 486.1 96.2 486.3 97.0 486.5 98.0 486.6 98.7 486.8 99.0 487.0 98.6 487.2 97.6 487.3 96.1 487.5 94.3 487.7 92.5 487.9 91.0 488.0 89.9 488.2 89.6 488.4 90.2 488.6 91.9 488.7 94.7 488.9 98.3 489.1 102.4 489.3 106.7 489.4 111.0 489.6 114.9 489.8 118.1 490.0 120.4 490.1 121.6 490.3 121.6 490.5 120.7 490.7 118.8 490.8 116.4 491.0 113.4 491.2 110.4 491.4 107.4 491.5 105.0 491.7 103.2 491.9 102.2 492.0 102.1 492.2 102.5 492.4 103.2 492.6 104.1 492.7 104.9 492.9 105.4 493.1 105.7 493.3 105.5 493.4 105.1 493.6 104.5 493.8 103.8 494.0 103.0 494.1 102.1 494.3 101.4 494.5 100.8 494.7 100.4 494.8 100.3 495.0 100.5 495.2 101.3 495.4 102.4 495.5 104.0 495.7 105.9 495.9 108.0 496.1 110.3 496.2 112.7 496.4 115.1 496.6 117.3 496.8 119.4 496.9 121.1 497.1 122.5 497.3 123.4 497.5 123.9 497.6 123.8 497.8 122.7 498.0 120.4 498.2 117.0 498.3 112.7 498.5 107.5 498.7 101.6 498.9 95.1 499.0 88.2 499.2 81.0 499.4 73.8 499.6 66.7 499.7 60.0 499.9 53.8 500.1 48.2 500.3 43.4 500.4 39.6 500.6 36.7 500.8 35.0 501.0 34.4 501.1 35.6 501.3 38.9 501.5 44.4 501.7 51.8 501.8 60.7 502.0 70.8 502.2 81.7 502.4 93.0 502.5 104.1 502.7 114.7 502.9 124.2 503.1 132.4 503.2 138.8 503.4 143.3 503.6 145.6 503.8 145.6 503.9 144.0 504.1 140.7 504.3 136.1 504.5 130.2 504.6 123.5 504.8 116.2 505.0 108.7 505.2 101.4 505.3 94.7 505.5 88.9 505.7 84.2 505.9 81.0 506.0 79.3 506.2 79.2 506.4 80.3 506.6 82.4 506.7 85.5 506.9 89.3 507.1 93.7 507.3 98.3 507.4 103.1 507.6 107.6 507.8 111.7 508.0 115.2 508.1 117.8 508.3 119.4 508.5 119.9 508.7 119.4 508.8 118.0 509.0 115.6 509.2 112.5 509.4 108.7 509.5 104.4 509.7 99.7 509.9 95.0 510.1 90.4 510.2 86.1 510.4 82.3 510.6 79.2 510.8 76.8 510.9 75.3 511.1 74.8 511.3 75.4 511.5 76.9 511.6 79.4 511.8 82.7 512.0 86.6 512.2 91.0 512.3 95.5 512.5 100.0 512.7 104.1 512.9 107.8 513.0 110.7 513.2 112.7 513.4 113.8 513.6 113.8 513.7 113.2 513.9 112.0 514.1 110.3 514.3 108.2 514.4 105.9 514.6 103.6 514.8 101.4 515.0 99.5 515.1 98.0 515.3 97.0 515.5 96.7 515.7 97.1 515.8 98.2 516.0 99.5 516.2 100.6 516.4 101.0 516.5 100.4 516.7 98.7 516.9 96.1 517.1 92.8 517.2 89.4 517.4 86.2 517.6 83.6 517.8 81.9 517.9 81.3 518.1 81.8 518.3 83.3 518.5 85.6 518.6 88.7 518.8 92.4 519.0 96.4 519.1 100.7 519.3 104.9 519.5 108.8 519.7 112.2 519.8 114.9 520.0 116.8 520.2 117.8 520.4 117.7 520.5 115.9 520.7 112.5 520.9 107.6 521.1 101.5 521.2 94.7 521.4 87.6 521.6 80.5 521.8 74.0 521.9 68.5 522.1 64.3 522.3 61.7 522.5 60.8 522.6 61.2 522.8 62.6 523.0 64.8 523.2 67.7 523.3 71.2 523.5 75.3 523.7 79.6 523.9 84.1 524.0 88.6 524.2 92.8 524.4 96.6 524.6 99.8 524.7 102.4 524.9 104.2 525.1 105.1 525.3 105.0 525.4 103.8 525.6 101.4 525.8 98.2 526.0 94.4 526.1 90.4 526.3 86.5 526.5 83.3 526.7 80.9 526.8 79.7 527.0 79.6 527.2 80.2 527.4 81.2 527.5 82.7 527.7 84.3 527.9 86.0 528.1 87.4 528.2 88.5 528.4 89.1 528.6 89.1 528.8 88.6 528.9 87.8 529.1 86.9 529.3 86.3 529.5 86.0 529.6 86.2 529.8 86.8 530.0 87.7 530.2 88.8 530.3 90.1 530.5 91.5 530.7 92.7 530.9 93.7 531.0 94.5 531.2 94.9 531.4 94.9 531.6 94.2 531.7 93.0 531.9 91.2 532.1 88.9 532.3 86.3 532.4 83.6 532.6 80.8 532.8 78.1 533.0 75.7 533.1 73.6 533.3 72.1 533.5 71.2 533.7 70.8 533.8 71.5 534.0 73.3 534.2 76.3 534.4 80.2 534.5 84.7 534.7 89.6 534.9 94.4 535.1 99.0 535.2 102.8 535.4 105.8 535.6 107.7 535.8 108.3 535.9 107.8 536.1 106.3 536.3 104.0 536.5 100.9 536.6 97.3 536.8 93.5 537.0 89.6 537.2 86.1 537.3 83.0 537.5 80.6 537.7 79.1 537.9 78.6 538.0 79.0 538.2 80.0 538.4 81.7 538.6 83.8 538.7 86.3 538.9 88.9 539.1 91.5 539.3 93.8 539.4 95.7 539.6 97.0 539.8 97.7 540.0 97.7 540.1 97.0 540.3 95.7 540.5 93.9 540.7 91.8 540.8 89.7 541.0 87.9 541.2 86.6 541.4 85.9 541.5 85.9 541.7 86.8 541.9 88.6 542.1 90.8 542.2 93.1 542.4 95.1 542.6 96.5 542.8 96.9 542.9 96.6 543.1 95.7 543.3 94.2 543.5 92.3 543.6 89.9 543.8 87.3 544.0 84.6 544.2 81.8 544.3 79.2 544.5 76.8 544.7 74.9 544.9 73.4 545.0 72.5 545.2 72.2 545.4 72.6 545.6 73.7 545.7 75.7 545.9 78.2 546.1 81.4 546.2 84.9 546.4 88.7 546.6 92.7 546.8 96.6 546.9 100.3 547.1 103.7 547.3 106.5 547.5 108.8 547.6 110.3 547.8 111.1 548.0 111.2 548.2 110.9 548.3 110.3 548.5 109.4 548.7 108.2 548.9 106.8 549.0 105.2 549.2 103.4 549.4 101.4 549.6 99.4 549.7 97.3 549.9 95.1 550.1 93.1 550.3 91.0 550.4 89.2 550.6 87.4 550.8 85.9 551.0 84.6 551.1 83.6 551.3 82.8 551.5 82.4 551.7 82.2 551.8 82.5 552.0 83.5 552.2 85.1 552.4 87.1 552.5 89.4 552.7 91.9 552.9 94.4 553.1 96.8 553.2 98.8 553.4 100.3 553.6 101.3 553.8 101.6 553.9 101.4 554.1 100.8 554.3 99.9 554.5 98.6 554.6 97.2 554.8 95.7 555.0 94.2 555.2 92.8 555.3 91.7 555.5 90.9 555.7 90.5 555.9 90.5 556.0 91.0 556.2 91.8 556.4 92.9 556.6 94.2 556.7 95.6 556.9 97.0 557.1 98.1 557.3 98.9 557.4 99.3 557.6 99.3 557.8 98.7 558.0 97.6 558.1 96.0 558.3 94.1 558.5 91.9 558.7 89.7 558.8 87.5 559.0 85.6 559.2 84.0 559.4 82.9 559.5 82.3 559.7 82.3 559.9 83.0 560.1 84.3 560.2 86.3 560.4 88.7 560.6 91.4 560.8 94.3 560.9 97.2 561.1 99.9 561.3 102.3 561.5 104.2 561.6 105.5 561.8 106.2 562.0 106.2 562.2 105.6 562.3 104.3 562.5 102.5 562.7 100.3 562.9 97.9 563.0 95.3 563.2 92.9 563.4 90.7 563.6 88.9 563.7 87.6 563.9 87.0 564.1 87.0 564.3 87.5 564.4 88.6 564.6 90.0 564.8 91.8 565.0 93.8 565.1 95.8 565.3 97.7 565.5 99.3 565.7 100.6 565.8 101.4 566.0 101.6 566.2 101.5 566.4 101.1 566.5 100.4 566.7 99.5 566.9 98.4 567.1 97.2 567.2 95.9 567.4 94.5 567.6 93.1 567.8 91.8 567.9 90.7 568.1 89.7 568.3 88.9 568.5 88.3 568.6 88.1 568.8 88.1 569.0 88.5 569.2 89.3 569.3 90.4 569.5 91.9 569.7 93.6 569.9 95.5 570.0 97.6 570.2 99.6 570.4 101.6 570.6 103.4 570.7 105.0 570.9 106.3 571.1 107.3 571.3 107.9 571.4 108.1 571.6 107.9 571.8 107.2 572.0 106.0 572.1 104.4 572.3 102.4 572.5 100.2 572.7 97.7 572.8 95.0 573.0 92.3 573.2 89.5 573.4 86.8 573.5 84.3 573.7 82.1 573.9 80.1 574.0 78.5 574.2 77.4 574.4 76.6 574.6 76.4 574.7 77.0 574.9 78.8 575.1 81.7 575.3 85.4 575.4 89.7 575.6 94.3 575.8 98.8 576.0 102.8 576.1 106.1 576.3 108.5 576.5 109.7 576.7 109.8 576.8 108.9 577.0 107.3 577.2 105.0 577.4 102.1 577.5 98.9 577.7 95.6 577.9 92.5 578.1 89.6 578.2 87.3 578.4 85.6 578.6 84.8 578.8 84.8 578.9 85.5 579.1 87.0 579.3 89.2 579.5 91.9 579.6 94.9 579.8 98.2 580.0 101.6 580.2 104.8 580.3 107.7 580.5 110.1 580.7 111.9 580.9 113.1 581.0 113.5 581.2 112.8 581.4 110.9 581.6 107.9 581.7 104.0 581.9 99.5 582.1 94.6 582.3 89.7 582.4 85.2 582.6 81.3 582.8 78.3 583.0 76.4 583.1 75.7 583.3 76.1 583.5 77.2 583.7 79.0 583.8 81.4 584.0 84.3 584.2 87.5 584.4 91.0 584.5 94.6 584.7 98.1 584.9 101.4 585.1 104.2 585.2 106.6 585.4 108.4 585.6 109.5 585.8 109.9 585.9 109.5 586.1 108.3 586.3 106.4 586.5 103.9 586.6 101.0 586.8 98.0 587.0 95.0 587.2 92.3 587.3 90.1 587.5 88.5 587.7 87.7 587.9 87.7 588.0 88.8 588.2 90.9 588.4 93.6 588.6 96.6 588.7 99.5 588.9 101.9 589.1 103.5 589.3 104.1 589.4 103.6 589.6 102.3 589.8 100.2 590.0 97.4 590.1 94.2 590.3 90.8 590.5 87.4 590.7 84.2 590.8 81.4 591.0 79.3 591.2 78.0 591.4 77.5 591.5 78.0 591.7 79.4 591.9 81.5 592.1 84.2 592.2 87.2 592.4 90.2 592.6 92.9 592.8 95.1 592.9 96.5 593.1 96.9 593.3 96.7 593.5 96.1 593.6 95.2 593.8 93.9 594.0 92.5 594.2 91.0 594.3 89.5 594.5 88.1 594.7 87.0 594.9 86.2 595.0 85.8 595.2 85.9 595.4 86.9 595.6 88.8 595.7 91.4 595.9 94.4 596.1 97.7 596.3 100.7 596.4 103.3 596.6 105.2 596.8 106.2 597.0 106.2 597.1 105.0 597.3 102.6 597.5 99.4 597.7 95.6 597.8 91.4 598.0 87.4 598.2 83.9 598.4 81.0 598.5 79.3 598.7 78.6 598.9 79.2 599.1 80.8 599.2 83.4 599.4 86.7 599.6 90.5 599.8 94.5 599.9 98.2 600.1 101.5 600.3 104.1 600.5 105.8 600.6 106.3 600.8 105.8 601.0 104.3 601.1 101.9 601.3 98.9 601.5 95.5 601.7 92.0 601.8 88.7 602.0 86.0 602.2 84.0 602.4 83.0 602.5 83.0 602.7 83.7 602.9 85.1 603.1 87.0 603.2 89.4 603.4 92.1 603.6 94.9 603.8 97.5 603.9 99.9 604.1 101.9 604.3 103.3 604.5 104.0 604.6 104.0 604.8 103.4 605.0 102.1 605.2 100.3 605.3 98.1 605.5 95.7 605.7 93.1 605.9 90.5 606.0 88.1 606.2 86.1 606.4 84.6 606.6 83.7 606.7 83.3 606.9 83.6 607.1 84.4 607.3 85.7 607.4 87.3 607.6 89.3 607.8 91.5 608.0 93.7 608.1 95.9 608.3 97.9 608.5 99.5 608.7 100.8 608.8 101.6 609.0 101.9 609.2 101.5 609.4 100.5 609.5 98.9 609.7 96.8 609.9 94.3 610.1 91.6 610.2 88.9 610.4 86.3 610.6 83.9 610.8 82.1 610.9 80.7 611.1 80.1 611.3 80.1 611.5 81.2 611.6 83.3 611.8 86.1 612.0 89.2 612.2 92.2 612.3 94.7 612.5 96.4 612.7 96.9 612.9 96.4 613.0 94.7 613.2 92.2 613.4 89.0 613.6 85.4 613.7 81.9 613.9 78.7 614.1 76.1 614.3 74.5 614.4 74.0 614.6 74.7 614.8 76.9 615.0 80.4 615.1 84.9 615.3 90.3 615.5 96.1 615.7 102.0 615.8 107.7 616.0 112.7 616.2 116.8 616.4 119.6 616.5 121.1 616.7 121.1 616.9 119.5 617.1 116.5 617.2 112.2 617.4 106.9 617.6 100.8 617.8 94.4 617.9 87.9 618.1 81.9 618.3 76.5 618.5 72.2 618.6 69.2 618.8 67.7 619.0 67.7 619.2 69.3 619.3 72.3 619.5 76.6 619.7 81.9 619.9 87.8 620.0 93.9 620.2 99.7 620.4 105.0 620.6 109.3 620.7 112.4 620.9 113.9 621.1 113.9 621.3 112.0 621.4 108.4 621.6 103.3 621.8 97.1 622.0 90.2 622.1 83.2 622.3 76.7 622.5 70.9 622.7 66.5 622.8 63.7 623.0 62.8 623.2 63.5 623.4 65.8 623.5 69.3 623.7 73.9 623.9 79.3 624.1 85.0 624.2 90.8 624.4 96.1 624.6 100.7 624.8 104.2 624.9 106.5 625.1 107.2 625.3 106.4 625.5 103.9 625.6 99.9 625.8 94.8 626.0 88.9 626.2 82.7 626.3 76.5 626.5 71.0 626.7 66.4 626.9 63.1 627.0 61.4 627.2 61.5 627.4 63.9 627.6 68.6 627.7 75.2 627.9 83.2 628.1 92.2 628.2 101.5 628.4 110.5 628.6 118.5 628.8 125.1 628.9 129.7 629.1 132.1 629.3 132.3 629.5 131.3 629.6 129.2 629.8 126.3 630.0 122.6 630.2 118.3 630.3 113.5 630.5 108.6 630.7 103.6 630.9 98.8 631.0 94.5 631.2 90.8 631.4 87.9 631.6 85.8 631.7 84.8 631.9 84.8 632.1 85.5 632.3 86.9 632.4 89.0 632.6 91.6 632.8 94.5 633.0 97.7 633.1 100.9 633.3 104.0 633.5 106.8 633.7 109.1 633.8 110.9 634.0 112.0 634.2 112.3 634.4 111.9 634.5 110.5 634.7 108.4 634.9 105.8 635.1 102.9 635.2 99.9 635.4 97.3 635.6 95.2 635.8 93.8 635.9 93.4 636.1 93.6 636.3 94.5 636.5 95.8 636.6 97.5 636.8 99.5 637.0 101.7 637.2 104.0 637.3 106.2 637.5 108.3 637.7 110.0 637.9 111.3 638.0 112.1 638.2 112.3 638.4 112.0 638.6 110.9 638.7 109.2 638.9 107.1 639.1 104.7 639.3 102.3 639.4 100.0 639.6 98.0 639.8 96.6 640.0 95.9 640.1 95.9 640.3 96.4 640.5 97.4 640.7 98.8 640.8 100.4 641.0 102.2 641.2 103.8 641.4 105.2 641.5 106.2 641.7 106.7 641.9 106.7 642.1 106.4 642.2 105.8 642.4 104.9 642.6 103.9 642.8 102.6 642.9 101.3 643.1 100.0 643.3 98.7 643.5 97.5 643.6 96.5 643.8 95.8 644.0 95.3 644.2 95.2 644.3 95.4 644.5 95.9 644.7 96.8 644.9 97.9 645.0 99.1 645.2 100.3 645.4 101.4 645.6 102.2 645.7 102.8 645.9 103.0 646.1 102.8 646.3 102.5 646.4 101.9 646.6 101.1 646.8 100.3 647.0 99.5 647.1 98.7 647.3 98.1 647.5 97.7 647.7 97.6 647.8 97.9 648.0 98.9 648.2 100.3 648.4 102.2 648.5 104.2 648.7 106.2 648.9 108.1 649.1 109.5 649.2 110.5 649.4 110.8 649.6 110.4 649.8 109.2 649.9 107.4 650.1 105.0 650.3 102.4 650.5 99.6 650.6 96.9 650.8 94.5 651.0 92.7 651.2 91.5 651.3 91.1 651.5 91.6 651.7 92.8 651.9 94.7 652.0 97.2 652.2 100.0 652.4 103.1 652.6 106.0 652.7 108.7 652.9 111.0 653.1 112.5 653.3 113.4 653.4 113.4 653.6 112.6 653.8 111.0 654.0 108.8 654.1 106.2 654.3 103.2 654.5 100.1 654.7 97.1 654.8 94.4 655.0 92.2 655.2 90.7 655.3 89.9 655.5 89.9 655.7 90.4 655.9 91.4 656.0 92.9 656.2 94.7 656.4 96.8 656.6 99.0 656.7 101.1 656.9 103.2 657.1 105.0 657.3 106.5 657.4 107.5 657.6 108.0 657.8 108.0 658.0 107.4 658.1 106.2 658.3 104.6 658.5 102.6 658.7 100.6 658.8 98.5 659.0 96.7 659.2 95.3 659.4 94.4 659.5 94.0 659.7 94.2 659.9 94.8 660.1 95.6 660.2 96.7 660.4 98.0 660.6 99.3 660.8 100.6 660.9 101.8 661.1 102.8 661.3 103.5 661.5 103.8 661.6 103.8 661.8 103.6 662.0 103.2 662.2 102.7 662.3 102.0 662.5 101.2 662.7 100.3 662.9 99.4 663.0 98.6 663.2 97.8 663.4 97.2 663.6 96.7 663.7 96.4 663.9 96.3 664.1 96.4 664.3 96.6 664.4 97.1 664.6 97.7 664.8 98.3 665.0 99.1 665.1 99.8 665.3 100.5 665.5 101.0 665.7 101.5 665.8 101.8 666.0 101.9 666.2 101.8 666.4 101.6 666.5 101.4 666.7 101.0 666.9 100.6 667.1 100.1 667.2 99.6 667.4 99.1 667.6 98.7 667.8 98.3 667.9 98.0 668.1 97.7 668.3 97.6 668.5 97.6 668.6 97.9 668.8 98.3 669.0 98.7 669.2 99.2 669.3 99.5 669.5 99.6" stroke="#ff0000" stroke-width="1.5"/>
</g>
<path d="M398.5 5.2H678.3V228.4H398.5ZM398.5 228.4h-6.5M398.5 217.3h-3.7M398.5 206.1h-6.5M398.5 195.0h-3.7M398.5 183.8h-6.5M398.5 172.6h-3.7M398.5 161.5h-6.5M398.5 150.3h-3.7M398.5 139.1h-6.5M398.5 128.0h-3.7M398.5 116.8h-6.5M398.5 105.7h-3.7M398.5 94.5h-6.5M398.5 83.3h-3.7M398.5 72.2h-6.5M398.5 61.0h-3.7M398.5 49.8h-6.5M398.5 38.7h-3.7M398.5 27.5h-6.5M398.5 16.4h-3.7M398.5 5.2h-6.5M398.5 228.4v6.2M416.0 228.4v3.4M433.5 228.4v6.2M451.0 228.4v3.4M468.4 228.4v6.2M485.9 228.4v3.4M503.4 228.4v6.2M520.9 228.4v3.4M538.4 228.4v6.2M555.9 228.4v3.4M573.4 228.4v6.2M590.8 228.4v3.4M608.3 228.4v6.2M625.8 228.4v3.4M643.3 228.4v6.2M660.8 228.4v3.4M678.3 228.4v6.2" stroke="#000" stroke-width="1.35" fill="none"/>
<g font-size="14" text-anchor="end"><text x="385.9" y="9.9">40</text><text x="385.9" y="32.2">30</text><text x="385.9" y="54.5">20</text><text x="385.9" y="76.9">10</text><text x="385.9" y="99.2">0</text><text x="385.9" y="121.5">-10</text><text x="385.9" y="143.8">-20</text><text x="385.9" y="166.2">-30</text><text x="385.9" y="188.5">-40</text><text x="385.9" y="210.8">-50</text><text x="385.9" y="233.1">-60</text></g>
<g font-size="14" text-anchor="middle"><text x="398.5" y="254.0">0</text><text x="433.5" y="254.0">4</text><text x="468.4" y="254.0">8</text><text x="503.4" y="254.0">12</text><text x="538.4" y="254.0">16</text><text x="573.4" y="254.0">20</text><text x="608.3" y="254.0">24</text><text x="643.3" y="254.0">28</text><text x="678.3" y="254.0">32</text></g>
<text x="538.8" y="274.7" font-size="14.05" text-anchor="middle">Time, sec</text>
<text transform="translate(359.6 116.8) rotate(-90)" font-size="13.7" text-anchor="middle">Displacement, mm</text>
<text x="529.6" y="305.0" font-size="14.1" text-anchor="middle">(b)</text>
</g>
<g id="panel-c">
<path d="M83.5 326.2V549.4M118.5 326.2V549.4M153.5 326.2V549.4M188.5 326.2V549.4M223.5 326.2V549.4M258.5 326.2V549.4M293.5 326.2V549.4" stroke="#000" stroke-opacity="0.115" stroke-width="0.9" fill="none"/>
<path d="M48.9 527.5H328.6M48.9 504.5H328.6M48.9 482.5H328.6M48.9 460.5H328.6M48.9 437.5H328.6M48.9 415.5H328.6M48.9 393.5H328.6M48.9 370.5H328.6M48.9 348.5H328.6" stroke="#000" stroke-opacity="0.105" stroke-width="0.9" fill="none"/>
<g clip-path="url(#cpc)" fill="none" stroke-linejoin="round" stroke-linecap="round">
<path d="M48.9 414.6 49.0 414.6 49.2 414.6 49.4 414.6 49.6 414.6 49.7 414.7 49.9 414.7 50.1 414.7 50.3 414.7 50.4 414.8 50.6 414.8 50.8 414.8 51.0 414.9 51.1 414.9 51.3 414.9 51.5 414.9 51.7 415.0 51.8 415.0 52.0 415.0 52.2 415.0 52.4 415.0 52.5 415.0 52.7 415.1 52.9 415.2 53.1 415.4 53.2 415.7 53.4 415.9 53.6 416.1 53.8 416.4 53.9 416.7 54.1 416.8 54.3 416.1 54.5 415.1 54.6 413.7 54.8 412.3 55.0 411.0 55.2 409.8 55.3 408.9 55.5 408.4 55.7 408.3 55.9 408.2 56.0 408.1 56.2 408.3 56.4 408.3 56.6 408.6 56.7 409.2 56.9 410.0 57.1 410.8 57.3 411.0 57.4 410.3 57.6 409.7 57.8 409.0 58.0 408.6 58.1 408.4 58.3 408.3 58.5 408.1 58.7 408.0 58.8 408.1 59.0 410.1 59.2 413.8 59.4 417.7 59.5 421.4 59.7 419.5 59.9 415.5 60.0 410.4 60.2 404.4 60.4 398.1 60.6 391.9 60.7 386.1 60.9 381.0 61.1 376.9 61.3 374.0 61.4 372.5 61.6 372.3 61.8 372.0 62.0 371.6 62.1 371.3 62.3 371.1 62.5 372.9 62.7 376.8 62.8 382.7 63.0 390.3 63.2 399.0 63.4 408.8 63.5 418.2 63.7 428.1 63.9 438.3 64.1 448.4 64.2 458.1 64.4 467.1 64.6 475.3 64.8 482.2 64.9 487.7 65.1 488.9 65.3 480.7 65.5 470.0 65.6 457.0 65.8 442.3 66.0 426.5 66.2 410.1 66.3 392.8 66.5 375.3 66.7 359.4 66.9 345.8 67.0 335.0 67.2 327.4 67.4 323.4 67.6 323.1 67.7 323.6 67.9 324.2 68.1 324.8 68.3 325.5 68.4 330.3 68.6 338.9 68.8 350.6 69.0 364.2 69.1 378.5 69.3 392.1 69.5 403.8 69.7 411.7 69.8 413.2 70.0 412.1 70.2 411.0 70.4 410.1 70.5 409.6 70.7 409.5 70.9 410.1 71.1 410.7 71.2 411.3 71.4 411.8 71.6 412.5 71.8 413.4 71.9 413.4 72.1 413.4 72.3 413.5 72.5 413.7 72.6 416.5 72.8 420.7 73.0 420.4 73.2 416.5 73.3 411.9 73.5 406.7 73.7 401.6 73.9 397.2 74.0 393.7 74.2 391.5 74.4 390.8 74.6 390.8 74.7 390.8 74.9 390.8 75.1 390.8 75.3 390.4 75.4 389.2 75.6 387.8 75.8 386.0 76.0 384.0 76.1 381.8 76.3 379.7 76.5 377.6 76.7 375.7 76.8 374.1 77.0 372.8 77.2 371.9 77.4 371.4 77.5 371.4 77.7 371.4 77.9 371.4 78.1 371.4 78.2 371.6 78.4 373.4 78.6 377.0 78.8 382.1 78.9 388.4 79.1 395.2 79.3 402.5 79.5 410.0 79.6 416.8 79.8 422.7 80.0 427.8 80.2 431.9 80.3 434.0 80.5 431.8 80.7 429.0 80.9 425.5 81.0 421.6 81.2 417.3 81.4 412.5 81.6 407.0 81.7 401.3 81.9 395.1 82.1 389.1 82.3 383.5 82.4 378.4 82.6 374.0 82.8 370.3 83.0 367.4 83.1 365.5 83.3 364.5 83.5 364.5 83.7 364.5 83.8 364.5 84.0 364.5 84.2 364.6 84.4 366.5 84.5 370.2 84.7 375.2 84.9 381.1 85.1 387.3 85.2 393.2 85.4 398.2 85.6 396.7 85.8 390.6 85.9 383.6 86.1 376.7 86.3 370.6 86.5 366.0 86.6 363.6 86.8 363.6 87.0 363.6 87.1 363.6 87.3 363.6 87.5 363.7 87.7 366.4 87.8 371.6 88.0 379.2 88.2 388.8 88.4 399.6 88.5 411.4 88.7 422.3 88.9 432.8 89.1 442.8 89.2 451.6 89.4 458.8 89.6 464.2 89.8 458.7 89.9 451.1 90.1 442.0 90.3 431.8 90.5 420.9 90.6 409.7 90.8 397.2 91.0 385.6 91.2 375.2 91.3 366.6 91.5 360.1 91.7 356.0 91.9 354.4 92.0 354.3 92.2 354.3 92.4 354.3 92.6 354.3 92.7 355.5 92.9 359.1 93.1 364.9 93.3 372.8 93.4 382.5 93.6 393.6 93.8 405.3 94.0 416.5 94.1 427.7 94.3 438.7 94.5 449.3 94.7 459.1 94.8 467.8 95.0 475.1 95.2 480.8 95.4 484.2 95.5 481.5 95.7 478.1 95.9 473.9 96.1 469.1 96.2 463.7 96.4 457.8 96.6 451.5 96.8 445.0 96.9 437.9 97.1 430.6 97.3 423.4 97.5 416.5 97.6 410.0 97.8 403.4 98.0 397.3 98.2 392.0 98.3 387.6 98.5 384.3 98.7 382.0 98.9 380.9 99.0 380.9 99.2 381.1 99.4 381.4 99.6 381.6 99.7 381.8 99.9 383.3 100.1 385.9 100.3 389.6 100.4 394.2 100.6 399.6 100.8 405.5 101.0 411.6 101.1 417.1 101.3 422.5 101.5 427.4 101.7 431.8 101.8 435.5 102.0 438.0 102.2 437.3 102.4 435.4 102.5 432.8 102.7 429.8 102.9 426.5 103.1 423.2 103.2 419.6 103.4 416.2 103.6 413.1 103.8 410.1 103.9 407.8 104.1 406.1 104.3 405.3 104.5 405.3 104.6 405.3 104.8 405.3 105.0 405.3 105.2 405.3 105.3 406.3 105.5 408.3 105.7 411.0 105.9 414.4 106.0 417.9 106.2 421.6 106.4 425.4 106.6 429.0 106.7 432.3 106.9 435.0 107.1 436.8 107.3 435.6 107.4 433.4 107.6 430.5 107.8 427.3 108.0 423.7 108.1 420.0 108.3 416.2 108.5 412.4 108.7 408.5 108.8 405.0 109.0 402.0 109.2 399.7 109.4 398.1 109.5 397.3 109.7 397.3 109.9 397.3 110.1 397.3 110.2 397.3 110.4 397.3 110.6 398.5 110.8 400.8 110.9 404.2 111.1 408.4 111.3 413.1 111.5 417.7 111.6 422.2 111.8 426.6 112.0 430.5 112.2 433.8 112.3 436.1 112.5 435.6 112.7 434.0 112.9 431.8 113.0 429.2 113.2 426.3 113.4 423.3 113.6 420.2 113.7 417.1 113.9 414.2 114.1 411.3 114.3 408.6 114.4 406.4 114.6 404.7 114.8 403.6 114.9 403.1 115.1 403.1 115.3 403.1 115.5 403.1 115.6 403.1 115.8 403.4 116.0 404.5 116.2 406.4 116.3 408.8 116.5 411.6 116.7 414.4 116.9 416.7 117.0 418.6 117.2 419.2 117.4 418.0 117.6 417.0 117.7 416.1 117.9 415.7 118.1 415.7 118.3 415.7 118.4 415.7 118.6 415.7 118.8 415.8 119.0 416.3 119.1 417.3 119.3 418.6 119.5 420.2 119.7 422.1 119.8 424.1 120.0 426.3 120.2 428.5 120.4 430.6 120.5 432.5 120.7 434.0 120.9 435.3 121.1 435.4 121.2 433.5 121.4 430.9 121.6 427.8 121.8 424.4 121.9 420.6 122.1 416.9 122.3 413.3 122.5 409.7 122.6 406.8 122.8 404.6 123.0 403.4 123.2 403.2 123.3 403.2 123.5 403.2 123.7 403.2 123.9 403.2 124.0 404.3 124.2 406.5 124.4 410.1 124.6 414.5 124.7 419.3 124.9 424.7 125.1 430.4 125.3 436.0 125.4 441.4 125.6 446.2 125.8 450.3 126.0 452.6 126.1 446.9 126.3 439.5 126.5 431.0 126.7 422.4 126.8 414.4 127.0 407.6 127.2 402.3 127.4 399.7 127.5 399.4 127.7 399.1 127.9 398.8 128.1 398.5 128.2 398.5 128.4 399.2 128.6 400.5 128.8 402.3 128.9 404.6 129.1 407.2 129.3 409.9 129.5 412.7 129.6 415.7 129.8 418.7 130.0 421.4 130.2 424.1 130.3 426.6 130.5 428.9 130.7 430.9 130.9 432.5 131.0 433.1 131.2 430.6 131.4 427.3 131.6 423.3 131.7 419.0 131.9 414.8 132.1 410.8 132.3 407.5 132.4 404.6 132.6 403.0 132.8 402.7 133.0 402.7 133.1 402.8 133.3 402.8 133.5 402.8 133.7 403.2 133.8 404.3 134.0 405.8 134.2 407.6 134.4 409.6 134.5 411.8 134.7 414.0 134.9 416.3 135.1 418.6 135.2 420.7 135.4 422.6 135.6 424.3 135.8 425.6 135.9 425.5 136.1 425.0 136.3 424.7 136.5 424.8 136.6 425.0 136.8 425.2 137.0 424.2 137.2 422.5 137.3 419.7 137.5 416.5 137.7 413.3 137.9 410.1 138.0 407.6 138.2 406.0 138.4 405.7 138.6 405.7 138.7 405.7 138.9 405.7 139.1 405.7 139.3 406.9 139.4 409.6 139.6 413.6 139.8 418.0 140.0 423.1 140.1 428.6 140.3 434.0 140.5 439.1 140.7 443.4 140.8 446.7 141.0 447.6 141.2 445.7 141.4 443.5 141.5 441.0 141.7 438.4 141.9 435.8 142.0 433.4 142.2 431.3 142.4 429.7 142.6 428.7 142.7 428.2 142.9 428.2 143.1 428.2 143.3 427.7 143.4 425.4 143.6 422.7 143.8 420.3 144.0 419.2 144.1 419.2 144.3 419.2 144.5 419.2 144.7 419.2 144.8 419.2 145.0 419.7 145.2 420.5 145.4 421.7 145.5 423.2 145.7 425.0 145.9 427.0 146.1 429.2 146.2 431.6 146.4 434.2 146.6 436.6 146.8 438.6 146.9 440.6 147.1 442.5 147.3 444.3 147.5 445.9 147.6 447.3 147.8 448.4 148.0 449.2 148.2 446.5 148.3 442.5 148.5 437.1 148.7 430.6 148.9 423.3 149.0 415.3 149.2 405.9 149.4 395.2 149.6 384.8 149.7 374.8 149.9 365.6 150.1 357.6 150.3 350.9 150.4 345.9 150.6 342.5 150.8 341.1 151.0 341.0 151.1 341.0 151.3 341.0 151.5 340.9 151.7 341.4 151.8 344.0 152.0 348.7 152.2 355.5 152.4 364.0 152.5 374.0 152.7 385.2 152.9 397.2 153.1 409.8 153.2 421.0 153.4 431.3 153.6 440.9 153.8 449.6 153.9 457.2 154.1 463.4 154.3 468.1 154.5 466.4 154.6 461.3 154.8 454.9 155.0 447.7 155.2 439.9 155.3 431.8 155.5 423.8 155.7 416.2 155.9 409.4 156.0 402.5 156.2 397.1 156.4 393.5 156.6 391.9 156.7 391.7 156.9 391.6 157.1 391.4 157.3 391.3 157.4 391.6 157.6 393.5 157.8 396.8 158.0 401.2 158.1 406.6 158.3 412.1 158.5 417.4 158.7 422.8 158.8 427.9 159.0 432.4 159.2 436.1 159.4 437.8 159.5 434.8 159.7 431.0 159.9 426.4 160.1 421.2 160.2 415.8 160.4 410.3 160.6 404.4 160.8 398.8 160.9 393.9 161.1 389.8 161.3 386.9 161.5 385.3 161.6 385.0 161.8 385.1 162.0 385.2 162.2 385.3 162.3 385.3 162.5 386.2 162.7 388.2 162.9 391.2 163.0 395.0 163.2 399.4 163.4 404.4 163.6 409.6 163.7 414.3 163.9 418.8 164.1 422.9 164.3 426.5 164.4 429.4 164.6 431.5 164.8 431.0 165.0 429.6 165.1 427.9 165.3 425.9 165.5 423.6 165.7 421.2 165.8 418.6 166.0 416.0 166.2 413.3 166.4 410.6 166.5 407.8 166.7 405.0 166.9 402.5 167.1 400.2 167.2 398.2 167.4 396.6 167.6 395.4 167.8 394.6 167.9 394.3 168.1 394.3 168.3 394.3 168.5 394.3 168.6 394.3 168.8 394.6 169.0 396.3 169.1 399.2 169.3 403.1 169.5 408.0 169.7 412.9 169.8 417.9 170.0 423.0 170.2 427.7 170.4 431.9 170.5 435.4 170.7 435.2 170.9 430.5 171.1 424.6 171.2 417.8 171.4 410.4 171.6 401.9 171.8 393.7 171.9 386.3 172.1 380.2 172.3 375.8 172.5 373.2 172.6 372.7 172.8 372.7 173.0 372.7 173.2 372.7 173.3 372.7 173.5 373.5 173.7 375.3 173.9 378.0 174.0 381.7 174.2 386.1 174.4 391.1 174.6 396.5 174.7 402.3 174.9 408.1 175.1 413.4 175.3 418.1 175.4 422.5 175.6 426.3 175.8 429.5 176.0 431.9 176.1 432.0 176.3 430.2 176.5 428.0 176.7 425.3 176.8 422.5 177.0 419.4 177.2 416.3 177.4 413.2 177.5 410.3 177.7 407.4 177.9 404.8 178.1 402.8 178.2 401.3 178.4 400.4 178.6 400.3 178.8 400.3 178.9 400.3 179.1 400.3 179.3 400.3 179.5 400.7 179.6 401.6 179.8 403.1 180.0 405.0 180.2 407.3 180.3 409.8 180.5 412.2 180.7 414.6 180.9 417.0 181.0 419.2 181.2 421.2 181.4 422.9 181.6 423.9 181.7 421.9 181.9 419.0 182.1 415.6 182.3 411.7 182.4 407.3 182.6 402.6 182.8 398.1 183.0 394.2 183.1 390.9 183.3 388.6 183.5 387.2 183.7 387.0 183.8 387.0 184.0 387.0 184.2 387.0 184.4 387.0 184.5 387.8 184.7 389.9 184.9 393.0 185.1 397.0 185.2 401.7 185.4 407.0 185.6 412.2 185.8 417.0 185.9 421.7 186.1 425.9 186.3 429.5 186.5 432.3 186.6 431.9 186.8 429.2 187.0 425.7 187.2 421.9 187.3 417.8 187.5 413.7 187.7 409.9 187.9 406.1 188.0 403.1 188.2 401.0 188.4 399.9 188.6 399.9 188.7 399.9 188.9 399.8 189.1 399.8 189.3 399.8 189.4 400.2 189.6 401.0 189.8 402.1 190.0 403.5 190.1 405.2 190.3 407.0 190.5 408.9 190.7 410.8 190.8 412.5 191.0 414.1 191.2 415.5 191.4 416.8 191.5 417.7 191.7 418.4 191.9 418.4 192.1 418.0 192.2 417.7 192.4 417.3 192.6 417.0 192.8 416.8 192.9 416.6 193.1 416.5 193.3 416.5 193.5 416.5 193.6 416.4 193.8 416.2 194.0 415.1 194.2 413.4 194.3 411.2 194.5 408.6 194.7 405.9 194.9 403.4 195.0 401.4 195.2 400.1 195.4 399.6 195.6 399.6 195.7 399.6 195.9 399.6 196.1 399.6 196.3 400.1 196.4 401.4 196.6 403.5 196.8 406.4 196.9 409.8 197.1 413.2 197.3 416.8 197.5 420.5 197.6 424.2 197.8 427.5 198.0 430.6 198.2 433.0 198.3 434.9 198.5 434.9 198.7 433.8 198.9 432.4 199.0 430.7 199.2 428.7 199.4 426.6 199.6 424.3 199.7 421.9 199.9 419.4 200.1 416.9 200.3 414.4 200.4 411.9 200.6 409.5 200.8 407.0 201.0 404.7 201.1 402.6 201.3 400.8 201.5 399.3 201.7 398.2 201.8 397.4 202.0 397.0 202.2 397.0 202.4 397.0 202.5 397.0 202.7 397.0 202.9 397.1 203.1 398.1 203.2 399.9 203.4 402.6 203.6 405.8 203.8 409.4 203.9 412.7 204.1 415.9 204.3 418.7 204.5 421.0 204.6 422.5 204.8 421.5 205.0 420.3 205.2 418.8 205.3 417.3 205.5 415.7 205.7 414.2 205.9 412.9 206.0 411.7 206.2 410.9 206.4 410.3 206.6 410.1 206.7 410.1 206.9 410.1 207.1 410.1 207.3 410.1 207.4 410.3 207.6 410.7 207.8 411.5 208.0 412.4 208.1 413.4 208.3 414.4 208.5 415.4 208.7 415.7 208.8 414.6 209.0 413.1 209.2 411.3 209.4 409.5 209.5 407.5 209.7 405.6 209.9 404.1 210.1 403.0 210.2 402.4 210.4 402.4 210.6 402.4 210.8 402.4 210.9 402.4 211.1 402.4 211.3 403.2 211.5 404.6 211.6 406.8 211.8 409.4 212.0 412.1 212.2 415.0 212.3 418.0 212.5 420.9 212.7 423.6 212.9 426.0 213.0 427.8 213.2 428.4 213.4 427.1 213.6 425.4 213.7 423.5 213.9 421.4 214.1 419.1 214.3 416.9 214.4 414.7 214.6 412.8 214.8 411.1 215.0 409.8 215.1 408.8 215.3 408.3 215.5 408.3 215.7 408.3 215.8 408.2 216.0 408.2 216.2 408.3 216.4 409.0 216.5 410.2 216.7 411.8 216.9 413.8 217.1 416.1 217.2 418.4 217.4 420.7 217.6 422.7 217.8 424.3 217.9 424.6 218.1 423.2 218.3 421.4 218.5 419.4 218.6 417.1 218.8 414.7 219.0 412.3 219.2 410.0 219.3 407.8 219.5 405.7 219.7 404.1 219.9 403.0 220.0 402.4 220.2 402.4 220.4 402.4 220.6 402.4 220.7 402.4 220.9 402.5 221.1 403.5 221.3 405.6 221.4 408.5 221.6 411.8 221.8 415.4 222.0 419.4 222.1 423.3 222.3 427.1 222.5 430.6 222.7 433.5 222.8 435.4 223.0 432.7 223.2 429.2 223.4 425.0 223.5 420.2 223.7 415.1 223.9 409.9 224.0 404.1 224.2 398.6 224.4 393.8 224.6 389.8 224.7 386.8 224.9 384.9 225.1 384.3 225.3 384.3 225.4 384.3 225.6 384.3 225.8 384.3 226.0 384.9 226.1 386.9 226.3 390.0 226.5 394.2 226.7 399.0 226.8 404.4 227.0 409.8 227.2 414.5 227.4 418.7 227.5 422.3 227.7 425.1 227.9 423.8 228.1 421.2 228.2 418.2 228.4 414.8 228.6 411.3 228.8 407.6 228.9 403.9 229.1 400.7 229.3 398.1 229.5 396.3 229.6 395.4 229.8 395.4 230.0 395.4 230.2 395.3 230.3 395.3 230.5 395.5 230.7 397.2 230.9 400.7 231.0 405.4 231.2 410.7 231.4 415.8 231.6 420.6 231.7 424.7 231.9 427.2 232.1 425.2 232.3 422.5 232.4 419.5 232.6 416.1 232.8 412.5 233.0 408.9 233.1 404.8 233.3 401.1 233.5 397.8 233.7 395.1 233.8 393.1 234.0 391.9 234.2 391.5 234.4 391.5 234.5 391.5 234.7 391.5 234.9 391.5 235.1 392.1 235.2 394.0 235.4 397.1 235.6 401.3 235.8 406.2 235.9 411.2 236.1 416.2 236.3 421.0 236.5 425.6 236.6 429.5 236.8 432.7 237.0 434.0 237.2 432.0 237.3 429.5 237.5 426.7 237.7 423.6 237.9 420.5 238.0 417.5 238.2 414.8 238.4 412.6 238.6 410.9 238.7 409.8 238.9 409.4 239.1 409.4 239.3 409.4 239.4 409.4 239.6 409.4 239.8 410.1 240.0 412.0 240.1 414.5 240.3 417.1 240.5 416.9 240.7 415.0 240.8 413.0 241.0 411.1 241.2 409.4 241.4 408.0 241.5 407.3 241.7 407.3 241.9 407.3 242.1 407.3 242.2 407.3 242.4 407.3 242.6 407.8 242.8 408.9 242.9 410.1 243.1 411.6 243.3 413.1 243.5 414.4 243.6 415.5 243.8 415.8 244.0 415.4 244.2 414.8 244.3 414.3 244.5 413.7 244.7 413.2 244.9 412.7 245.0 412.4 245.2 412.2 245.4 412.1 245.6 412.1 245.7 412.1 245.9 412.1 246.1 412.1 246.3 412.4 246.4 413.5 246.6 415.1 246.8 417.1 247.0 419.3 247.1 421.6 247.3 423.6 247.5 424.3 247.7 421.7 247.8 418.4 248.0 414.7 248.2 411.1 248.4 407.6 248.5 404.6 248.7 402.7 248.9 402.0 249.1 402.0 249.2 402.0 249.4 402.0 249.6 402.0 249.8 402.6 249.9 404.3 250.1 407.0 250.3 410.4 250.5 413.9 250.6 417.6 250.8 421.3 251.0 424.6 251.1 427.4 251.3 428.2 251.5 426.2 251.7 423.7 251.8 421.0 252.0 418.1 252.2 415.3 252.4 412.9 252.5 410.8 252.7 409.4 252.9 408.6 253.1 408.6 253.2 408.6 253.4 408.6 253.6 408.6 253.8 408.6 253.9 409.2 254.1 410.3 254.3 411.7 254.5 413.5 254.6 415.5 254.8 417.4 255.0 419.3 255.2 421.0 255.3 422.2 255.5 421.2 255.7 419.6 255.9 417.8 256.0 415.8 256.2 413.8 256.4 411.8 256.6 410.0 256.7 408.4 256.9 407.1 257.1 406.2 257.3 406.0 257.4 406.0 257.6 406.0 257.8 406.0 258.0 406.0 258.1 406.2 258.3 407.0 258.5 408.2 258.7 409.7 258.8 411.4 259.0 413.4 259.2 415.6 259.4 417.8 259.5 420.0 259.7 422.2 259.9 424.1 260.1 425.9 260.2 427.3 260.4 427.6 260.6 425.6 260.8 423.1 260.9 420.2 261.1 417.1 261.3 414.1 261.5 411.3 261.6 409.1 261.8 407.2 262.0 406.3 262.2 406.3 262.3 406.3 262.5 406.3 262.7 406.3 262.9 406.3 263.0 407.0 263.2 408.3 263.4 409.9 263.6 411.3 263.7 411.8 263.9 410.5 264.1 409.0 264.3 407.3 264.4 405.6 264.6 404.2 264.8 403.1 265.0 402.6 265.1 402.6 265.3 402.6 265.5 402.6 265.7 402.6 265.8 402.7 266.0 404.2 266.2 407.0 266.4 410.8 266.5 415.1 266.7 419.9 266.9 424.9 267.1 429.7 267.2 434.0 267.4 437.5 267.6 437.0 267.8 433.1 267.9 428.1 268.1 422.5 268.3 416.4 268.5 410.2 268.6 403.6 268.8 397.5 269.0 392.4 269.2 388.5 269.3 386.1 269.5 385.3 269.7 385.3 269.9 385.3 270.0 385.3 270.2 385.3 270.4 386.3 270.6 389.3 270.7 394.0 270.9 400.1 271.1 407.0 271.3 413.6 271.4 419.7 271.6 425.0 271.8 429.0 272.0 424.7 272.1 419.2 272.3 413.0 272.5 406.4 272.7 399.6 272.8 394.0 273.0 389.9 273.2 387.8 273.4 387.7 273.5 387.7 273.7 387.7 273.9 387.7 274.1 387.7 274.2 389.0 274.4 391.7 274.6 395.4 274.8 400.0 274.9 405.2 275.1 410.3 275.3 414.8 275.5 418.8 275.6 422.1 275.8 421.5 276.0 417.8 276.2 413.2 276.3 408.1 276.5 402.3 276.7 396.7 276.9 392.0 277.0 388.3 277.2 385.9 277.4 385.1 277.6 385.1 277.7 385.1 277.9 385.1 278.1 385.1 278.3 386.1 278.4 389.1 278.6 394.0 278.8 400.4 278.9 408.0 279.1 415.5 279.3 423.2 279.5 430.8 279.6 437.8 279.8 444.0 280.0 448.9 280.2 451.3 280.3 448.4 280.5 444.7 280.7 440.4 280.9 435.5 281.0 430.3 281.2 425.0 281.4 419.7 281.6 414.7 281.7 410.1 281.9 405.6 282.1 401.8 282.3 399.0 282.4 397.3 282.6 396.7 282.8 396.7 283.0 396.7 283.1 396.7 283.3 396.7 283.5 397.3 283.7 398.9 283.8 401.5 284.0 405.0 284.2 409.1 284.4 413.1 284.5 417.3 284.7 421.4 284.9 425.2 285.1 428.6 285.2 431.2 285.4 432.0 285.6 430.1 285.8 425.0 285.9 422.3 286.1 419.6 286.3 417.2 286.5 415.2 286.6 413.9 286.8 413.2 287.0 413.1 287.2 413.1 287.3 413.1 287.5 413.1 287.7 413.2 287.9 413.4 288.0 413.8 288.2 414.2 288.4 414.9 288.6 415.8 288.7 417.1 288.9 418.6 289.1 420.2 289.3 422.0 289.4 423.9 289.6 425.4 289.8 426.4 290.0 427.0 290.1 427.1 290.3 426.7 290.5 425.8 290.7 424.5 290.8 423.2 291.0 421.9 291.2 420.7 291.4 419.4 291.5 418.3 291.7 417.2 291.9 416.3 292.1 415.6 292.2 415.0 292.4 414.6 292.6 414.3 292.8 414.1 292.9 414.0 293.1 413.9 293.3 413.9 293.5 413.9 293.6 413.9 293.8 413.9 294.0 413.9 294.2 414.1 294.3 414.3 294.5 414.7 294.7 415.1 294.9 415.7 295.0 416.4 295.2 417.1 295.4 417.8 295.6 418.3 295.7 418.6 295.9 418.6 296.1 418.5 296.3 418.1 296.4 417.6 296.6 417.1 296.8 416.7 297.0 416.4 297.1 416.3 297.3 416.2 297.5 416.1 297.7 416.1 297.8 416.1 298.0 416.1 298.2 416.2 298.4 416.3 298.5 416.6 298.7 417.1 298.9 417.7 299.1 418.6 299.2 419.5 299.4 420.5 299.6 421.1 299.8 421.3 299.9 420.9 300.1 420.0 300.3 418.7 300.5 417.0 300.6 415.0 300.8 413.2 301.0 411.8 301.2 410.7 301.3 409.9 301.5 409.4 301.7 409.1 301.9 409.0 302.0 409.0 302.2 409.0 302.4 409.0 302.6 409.1 302.7 409.4 302.9 410.1 303.1 411.1 303.3 412.6 303.4 414.5 303.6 416.8 303.8 418.8 304.0 420.2 304.1 420.9 304.3 420.8 304.5 420.0 304.7 418.4 304.8 416.2 305.0 413.9 305.2 412.0 305.4 410.4 305.5 409.2 305.7 408.4 305.9 407.9 306.0 407.6 306.2 407.5 306.4 407.5 306.6 407.5 306.7 407.5 306.9 407.6 307.1 407.8 307.3 408.1 307.4 408.6 307.6 409.3 307.8 410.3 308.0 411.5 308.1 412.9 308.3 414.5 308.5 416.1 308.7 417.7 308.8 419.0 309.0 419.9 309.2 420.2 309.4 420.1 309.5 419.6 309.7 418.6 309.9 417.4 310.1 416.1 310.2 415.1 310.4 414.2 310.6 413.6 310.8 413.1 310.9 412.9 311.1 412.7 311.3 412.7 311.5 412.7 311.6 412.7 311.8 412.7 312.0 412.8 312.2 412.9 312.3 413.1 312.5 413.7 312.7 414.2 312.9 414.8 313.0 415.6 313.2 416.5 313.4 417.3 313.6 417.9 313.7 418.4 313.9 418.6 314.1 418.7 314.3 418.6 314.4 418.2 314.6 417.8 314.8 417.1 315.0 416.6 315.1 416.1 315.3 415.7 315.5 415.4 315.7 415.2 315.8 415.1 316.0 415.0 316.2 415.0 316.4 415.0 316.5 415.1 316.7 415.2 316.9 415.3 317.1 415.6 317.2 416.0 317.4 416.5 317.6 417.0 317.8 417.7 317.9 418.3 318.1 418.8 318.3 419.3 318.5 419.7 318.6 420.0 318.8 420.2 319.0 420.3 319.2 420.3 319.3 420.3 319.5 420.2 319.7 420.2 319.9 420.2L319.9 435.5 319.7 435.6 319.5 435.7 319.3 435.8 319.2 435.8 319.0 436.0 318.8 436.1 318.6 436.1 318.5 436.2 318.3 436.2 318.1 436.2 317.9 436.2 317.8 436.1 317.6 435.9 317.4 435.6 317.2 435.1 317.1 434.6 316.9 434.0 316.7 433.5 316.5 433.1 316.4 432.9 316.2 432.8 316.0 432.9 315.8 433.3 315.7 433.8 315.5 434.5 315.3 435.2 315.1 435.9 315.0 436.4 314.8 436.8 314.6 437.1 314.4 437.3 314.3 437.5 314.1 437.5 313.9 437.5 313.7 437.5 313.6 437.5 313.4 437.3 313.2 437.1 313.0 436.7 312.9 436.2 312.7 435.5 312.5 434.7 312.3 433.9 312.2 432.8 312.0 431.9 311.8 431.3 311.6 431.1 311.5 431.3 311.3 432.0 311.1 433.0 310.9 434.4 310.8 435.8 310.6 437.0 310.4 438.1 310.2 438.9 310.1 439.5 309.9 439.9 309.7 440.2 309.5 440.3 309.4 440.3 309.2 440.3 309.0 440.3 308.8 440.3 308.7 440.2 308.5 439.9 308.3 439.5 308.1 438.9 308.0 438.0 307.8 436.8 307.6 435.3 307.4 433.7 307.3 431.9 307.1 430.2 306.9 429.0 306.7 428.4 306.6 428.6 306.4 429.5 306.2 431.1 306.0 433.4 305.9 436.1 305.7 438.8 305.5 441.1 305.4 443.2 305.2 444.7 305.0 445.9 304.8 446.6 304.7 447.1 304.5 447.3 304.3 447.4 304.1 447.4 304.0 447.4 303.8 447.3 303.6 447.1 303.4 446.5 303.3 445.6 303.1 444.2 302.9 442.3 302.7 440.0 302.6 437.4 302.4 435.4 302.2 434.0 302.0 433.4 301.9 433.6 301.7 434.5 301.5 436.1 301.3 438.0 301.2 439.7 301.0 440.9 300.8 441.8 300.6 442.3 300.5 442.6 300.3 442.7 300.1 442.7 299.9 442.7 299.8 442.8 299.6 442.7 299.4 442.6 299.2 442.3 299.1 441.9 298.9 441.3 298.7 440.5 298.5 439.6 298.4 438.4 298.2 437.2 298.0 436.3 297.8 435.6 297.7 435.3 297.5 435.2 297.3 435.4 297.1 435.8 297.0 436.4 296.8 436.8 296.6 437.2 296.4 437.4 296.3 437.5 296.1 437.5 295.9 437.5 295.7 437.5 295.6 437.5 295.4 437.4 295.2 437.3 295.0 437.1 294.9 436.7 294.7 436.2 294.5 435.6 294.3 434.8 294.2 434.0 294.0 433.1 293.8 432.3 293.6 431.8 293.5 431.5 293.3 431.7 293.1 432.1 292.9 433.0 292.8 434.1 292.6 435.5 292.4 436.9 292.2 438.3 292.1 439.8 291.9 441.2 291.7 442.5 291.5 443.7 291.4 444.8 291.2 445.7 291.0 446.4 290.8 447.0 290.7 447.4 290.5 447.6 290.3 447.8 290.1 447.9 290.0 447.9 289.8 447.9 289.6 447.9 289.4 447.9 289.3 447.7 289.1 447.1 288.9 446.2 288.7 444.9 288.6 443.4 288.4 441.4 288.2 439.2 288.0 436.8 287.9 435.1 287.7 434.0 287.5 430.1 287.3 431.5 287.2 434.1 287.0 437.1 286.8 440.2 286.6 443.2 286.5 445.9 286.3 448.1 286.1 449.6 285.9 450.4 285.8 450.4 285.6 450.4 285.4 450.4 285.2 450.4 285.1 450.4 284.9 450.4 284.7 449.3 284.5 447.1 284.4 444.0 284.2 440.2 284.0 435.8 283.8 431.1 283.7 426.3 283.5 421.8 283.3 417.9 283.1 415.0 283.0 412.8 282.8 415.2 282.6 418.5 282.4 422.9 282.3 428.3 282.1 434.1 281.9 440.2 281.7 446.4 281.6 452.4 281.4 458.0 281.2 463.0 281.0 467.2 280.9 470.6 280.7 472.9 280.5 474.0 280.3 474.0 280.2 474.0 280.0 474.0 279.8 474.0 279.6 473.9 279.5 471.9 279.3 467.8 279.1 462.1 278.9 454.9 278.8 446.7 278.6 438.0 278.4 429.0 278.3 420.5 278.1 413.8 277.9 408.3 277.7 404.1 277.6 406.4 277.4 410.5 277.2 415.2 277.0 420.3 276.9 426.0 276.7 431.2 276.5 435.5 276.3 438.6 276.2 440.1 276.0 440.2 275.8 440.2 275.6 440.2 275.5 440.2 275.3 440.2 275.1 438.8 274.9 436.1 274.8 432.4 274.6 427.8 274.4 422.6 274.2 417.7 274.1 413.3 273.9 409.4 273.7 406.2 273.5 408.2 273.4 413.0 273.2 418.7 273.0 425.8 272.8 432.9 272.7 439.2 272.5 444.1 272.3 447.3 272.1 448.4 272.0 448.4 271.8 448.4 271.6 448.4 271.4 448.4 271.3 447.3 271.1 444.3 270.9 439.6 270.7 433.4 270.6 426.5 270.4 419.2 270.2 413.3 270.0 408.1 269.9 404.1 269.7 406.7 269.5 411.1 269.3 416.3 269.2 422.6 269.0 429.7 268.8 436.7 268.6 443.2 268.5 448.9 268.3 453.5 268.1 456.7 267.9 458.3 267.8 458.4 267.6 458.4 267.4 458.4 267.2 458.4 267.1 458.4 266.9 456.9 266.7 454.1 266.5 450.0 266.4 445.1 266.2 439.6 266.0 433.9 265.8 428.5 265.7 423.5 265.5 419.5 265.3 417.1 265.1 418.4 265.0 419.9 264.8 421.7 264.6 423.4 264.4 424.9 264.3 426.0 264.1 426.5 263.9 426.5 263.7 426.5 263.6 426.5 263.4 426.5 263.2 426.5 263.0 425.8 262.9 424.4 262.7 422.7 262.5 421.0 262.3 421.7 262.2 424.2 262.0 427.3 261.8 430.7 261.6 434.2 261.5 437.5 261.3 440.3 261.1 442.5 260.9 443.9 260.8 444.4 260.6 444.4 260.4 444.4 260.2 444.4 260.1 444.4 259.9 444.1 259.7 443.4 259.5 442.2 259.4 440.6 259.2 438.7 259.0 436.4 258.8 434.0 258.7 431.5 258.5 429.0 258.3 426.6 258.1 424.4 258.0 422.4 257.8 420.8 257.6 419.8 257.4 421.2 257.3 423.0 257.1 425.1 256.9 427.5 256.7 429.9 256.6 432.2 256.4 434.4 256.2 436.2 256.0 437.5 255.9 438.4 255.7 438.7 255.5 438.7 255.3 438.7 255.2 438.7 255.0 438.7 254.8 438.4 254.6 437.4 254.5 435.9 254.3 434.0 254.1 431.8 253.9 429.4 253.8 427.1 253.6 425.1 253.4 423.3 253.2 423.9 253.1 426.2 252.9 429.0 252.7 432.1 252.5 435.3 252.4 438.4 252.2 441.2 252.0 443.5 251.8 445.1 251.7 445.9 251.5 445.9 251.3 445.9 251.1 445.9 251.0 445.9 250.8 445.9 250.6 444.7 250.5 442.5 250.3 439.4 250.1 435.6 249.9 431.5 249.8 427.2 249.6 423.2 249.4 419.7 249.2 417.7 249.1 420.3 248.9 424.0 248.7 428.1 248.5 432.3 248.4 436.0 248.2 439.0 248.0 440.9 247.8 441.5 247.7 441.5 247.5 441.5 247.3 441.5 247.1 441.5 247.0 441.1 246.8 440.0 246.6 438.2 246.4 436.0 246.3 433.6 246.1 431.1 245.9 428.9 245.7 427.2 245.6 426.4 245.4 427.0 245.2 427.6 245.0 428.3 244.9 428.9 244.7 429.6 244.5 430.1 244.3 430.5 244.2 430.8 244.0 430.9 243.8 430.9 243.6 430.9 243.5 430.9 243.3 430.9 243.1 430.6 242.9 429.7 242.8 428.5 242.6 426.9 242.4 425.1 242.2 423.4 242.1 421.9 241.9 422.5 241.7 424.5 241.5 426.8 241.4 429.2 241.2 431.4 241.0 433.1 240.8 434.3 240.7 434.7 240.5 434.7 240.3 434.7 240.1 434.7 240.0 434.7 239.8 433.8 239.6 431.6 239.4 428.6 239.3 425.6 239.1 426.1 238.9 428.7 238.7 431.7 238.6 435.1 238.4 438.6 238.2 442.1 238.0 445.3 237.9 448.1 237.7 450.4 237.5 452.0 237.3 452.8 237.2 452.8 237.0 452.8 236.8 452.8 236.6 452.8 236.5 452.7 236.3 451.4 236.1 448.8 235.9 445.2 235.8 440.6 235.6 435.4 235.4 429.8 235.2 424.1 235.1 418.8 234.9 414.6 234.7 411.1 234.5 408.5 234.4 409.4 234.2 411.7 234.0 414.4 233.8 417.6 233.7 421.3 233.5 425.4 233.3 429.5 233.1 433.4 233.0 436.9 232.8 439.9 232.6 442.3 232.4 443.9 232.3 444.7 232.1 444.7 231.9 444.7 231.7 444.7 231.6 444.7 231.4 444.6 231.2 442.8 231.0 439.4 230.9 434.7 230.7 429.2 230.5 423.3 230.3 418.1 230.2 414.1 230.0 411.9 229.8 414.1 229.6 416.8 229.5 420.0 229.3 423.9 229.1 428.0 228.9 431.8 228.8 435.3 228.6 438.2 228.4 440.4 228.2 441.8 228.1 442.2 227.9 442.2 227.7 442.2 227.5 442.2 227.4 442.2 227.2 441.6 227.0 439.6 226.8 436.5 226.7 432.3 226.5 427.4 226.3 422.0 226.1 417.0 226.0 412.4 225.8 408.2 225.6 404.7 225.4 402.1 225.3 404.5 225.1 407.9 224.9 412.1 224.7 416.8 224.6 422.2 224.4 428.2 224.2 434.1 224.0 439.6 223.9 444.5 223.7 448.5 223.5 451.6 223.4 453.4 223.2 454.1 223.0 454.1 222.8 454.1 222.7 454.1 222.5 454.1 222.3 453.5 222.1 452.0 222.0 449.5 221.8 446.1 221.6 442.2 221.4 437.8 221.3 433.3 221.1 428.8 220.9 424.6 220.7 420.9 220.6 418.2 220.4 417.0 220.2 418.3 220.0 420.1 219.9 422.4 219.7 425.0 219.5 427.7 219.3 430.4 219.2 432.9 219.0 435.3 218.8 437.3 218.6 438.8 218.5 439.9 218.3 440.5 218.1 440.5 217.9 440.5 217.8 440.5 217.6 440.5 217.4 440.5 217.2 439.8 217.1 438.5 216.9 436.7 216.7 434.4 216.5 431.9 216.4 429.3 216.2 426.8 216.0 424.6 215.8 422.7 215.7 422.5 215.5 424.2 215.3 426.3 215.1 428.8 215.0 431.5 214.8 434.3 214.6 437.1 214.4 439.9 214.3 442.3 214.1 444.5 213.9 446.1 213.7 447.3 213.6 447.9 213.4 447.9 213.2 447.9 213.0 447.9 212.9 448.0 212.7 447.9 212.5 447.2 212.3 445.7 212.2 443.5 212.0 440.7 211.8 437.6 211.6 434.1 211.5 430.6 211.3 427.2 211.1 424.0 210.9 421.3 210.8 419.2 210.6 418.7 210.4 420.1 210.2 422.0 210.1 424.1 209.9 426.3 209.7 428.3 209.5 430.1 209.4 431.5 209.2 432.3 209.0 432.6 208.8 432.7 208.7 432.7 208.5 432.7 208.3 432.7 208.1 432.5 208.0 432.0 207.8 431.1 207.6 430.0 207.4 428.8 207.3 427.6 207.1 426.6 206.9 425.8 206.7 426.8 206.6 428.2 206.4 429.8 206.2 431.5 206.0 433.4 205.9 435.2 205.7 436.9 205.5 438.4 205.3 439.6 205.2 440.4 205.0 440.9 204.8 440.9 204.6 440.9 204.5 440.9 204.3 440.9 204.1 440.9 203.9 439.9 203.8 437.9 203.6 435.2 203.4 431.9 203.2 428.2 203.1 424.3 202.9 420.6 202.7 417.7 202.5 415.4 202.4 413.9 202.2 414.9 202.0 416.2 201.8 417.7 201.7 419.6 201.5 421.8 201.3 424.4 201.1 427.2 201.0 430.1 200.8 433.1 200.6 436.1 200.4 439.0 200.3 441.9 200.1 444.6 199.9 447.1 199.7 449.4 199.6 451.4 199.4 453.1 199.2 454.4 199.0 455.4 198.9 456.0 198.7 456.2 198.5 456.2 198.3 456.2 198.2 456.2 198.0 456.3 197.8 455.8 197.6 454.5 197.5 452.3 197.3 449.4 197.1 445.8 196.9 441.8 196.8 437.6 196.6 433.2 196.4 428.9 196.3 424.9 196.1 421.4 195.9 418.8 195.7 417.1 195.6 419.0 195.4 421.6 195.2 424.8 195.0 428.0 194.9 430.9 194.7 433.2 194.5 434.7 194.3 435.2 194.2 435.2 194.0 435.2 193.8 435.2 193.6 435.2 193.5 435.3 193.3 435.6 193.1 435.9 192.9 436.2 192.8 436.6 192.6 436.9 192.4 437.2 192.2 437.3 192.1 437.4 191.9 437.4 191.7 437.5 191.5 437.5 191.4 437.5 191.2 437.4 191.0 437.0 190.8 436.1 190.7 434.9 190.5 433.5 190.3 431.7 190.1 429.8 190.0 427.8 189.8 425.7 189.6 423.6 189.4 421.7 189.3 420.2 189.1 418.9 188.9 417.9 188.7 419.5 188.6 422.0 188.4 425.6 188.2 429.7 188.0 434.1 187.9 438.5 187.7 442.6 187.5 446.3 187.3 449.3 187.2 451.5 187.0 452.7 186.8 452.8 186.6 452.8 186.5 452.8 186.3 452.8 186.1 452.8 185.9 451.7 185.8 449.5 185.6 446.2 185.4 441.9 185.2 437.0 185.1 431.5 184.9 425.8 184.7 420.3 184.5 415.7 184.4 411.6 184.2 408.1 184.0 405.4 183.8 406.3 183.7 409.2 183.5 412.6 183.3 416.5 183.1 420.6 183.0 425.3 182.8 429.9 182.6 434.0 182.4 437.3 182.3 439.7 182.1 441.2 181.9 441.5 181.7 441.5 181.6 441.5 181.4 441.5 181.2 441.5 181.0 441.1 180.9 440.1 180.7 438.6 180.5 436.6 180.3 434.3 180.2 431.7 180.0 428.9 179.8 426.1 179.6 423.3 179.5 420.8 179.3 418.8 179.1 417.2 178.9 415.9 178.8 416.9 178.6 418.7 178.4 420.9 178.2 423.9 178.1 427.3 177.9 430.9 177.7 434.6 177.5 438.2 177.4 441.6 177.2 444.7 177.0 447.4 176.8 449.5 176.7 451.1 176.5 451.9 176.3 452.1 176.1 452.1 176.0 452.1 175.8 452.1 175.6 452.1 175.4 451.3 175.3 449.5 175.1 446.8 174.9 443.1 174.7 438.7 174.6 433.7 174.4 428.2 174.2 422.5 174.0 417.4 173.9 412.5 173.7 407.9 173.5 403.6 173.3 399.9 173.2 396.8 173.0 394.9 172.8 398.7 172.6 403.9 172.5 410.2 172.3 417.2 172.1 425.0 171.9 433.5 171.8 441.4 171.6 448.2 171.4 453.6 171.2 457.1 171.1 458.7 170.9 458.7 170.7 458.7 170.5 458.7 170.4 458.7 170.2 458.4 170.0 456.7 169.8 453.7 169.7 449.7 169.5 444.7 169.3 439.2 169.1 433.3 169.0 427.4 168.8 421.8 168.6 417.6 168.5 414.2 168.3 411.7 168.1 411.9 167.9 413.3 167.8 415.1 167.6 417.1 167.4 419.3 167.2 421.7 167.1 424.7 166.9 427.9 166.7 431.0 166.5 434.2 166.4 437.2 166.2 440.1 166.0 442.7 165.8 445.1 165.7 447.1 165.5 448.8 165.3 450.0 165.1 450.8 165.0 451.2 164.8 451.2 164.6 451.2 164.4 451.2 164.3 451.2 164.1 450.9 163.9 449.4 163.7 446.9 163.6 443.3 163.4 438.9 163.2 433.8 163.0 428.3 162.9 422.6 162.7 417.8 162.5 413.3 162.3 409.1 162.2 405.6 162.0 403.0 161.8 404.8 161.6 408.2 161.5 412.6 161.3 417.6 161.1 423.3 160.9 430.0 160.8 436.6 160.6 442.8 160.4 448.4 160.2 453.0 160.1 456.6 159.9 458.9 159.7 459.9 159.5 459.8 159.4 459.7 159.2 459.5 159.0 459.4 158.8 458.9 158.7 456.9 158.5 453.5 158.3 448.9 158.1 443.3 158.0 437.0 157.8 430.4 157.6 423.8 157.4 417.9 157.3 413.4 157.1 409.6 156.9 409.1 156.7 413.3 156.6 418.9 156.4 427.0 156.2 436.0 156.0 445.6 155.9 455.4 155.7 464.8 155.5 473.4 155.3 481.0 155.2 487.0 155.0 491.4 154.8 493.8 154.6 494.2 154.5 494.1 154.3 494.0 154.1 493.9 153.9 493.8 153.8 492.0 153.6 488.5 153.4 482.9 153.2 475.3 153.1 466.1 152.9 455.5 152.7 443.8 152.5 431.6 152.4 419.9 152.2 409.9 152.0 400.4 151.8 391.5 151.7 383.7 151.5 377.1 151.3 371.9 151.1 369.4 151.0 373.9 150.8 379.7 150.6 386.6 150.4 394.4 150.3 402.9 150.1 411.8 149.9 420.8 149.7 430.8 149.6 441.5 149.4 451.4 149.2 460.1 149.0 467.4 148.9 473.0 148.7 476.9 148.5 478.9 148.3 478.6 148.2 478.3 148.0 478.0 147.8 477.7 147.6 477.3 147.5 476.5 147.3 475.2 147.1 473.5 146.9 471.5 146.8 469.1 146.6 466.4 146.4 463.4 146.2 460.3 146.1 457.1 145.9 453.7 145.7 451.0 145.5 448.3 145.4 445.8 145.2 443.4 145.0 441.2 144.8 439.3 144.7 437.6 144.5 436.2 144.3 437.0 144.1 438.6 144.0 439.9 143.8 441.0 143.6 440.7 143.4 440.4 143.3 440.5 143.1 441.8 142.9 443.7 142.7 446.1 142.6 448.9 142.4 451.9 142.2 454.9 142.0 457.9 141.9 460.5 141.7 462.7 141.5 464.2 141.4 465.1 141.2 465.3 141.0 465.3 140.8 465.3 140.7 465.3 140.5 465.2 140.3 464.0 140.1 461.3 140.0 457.1 139.8 452.1 139.6 446.5 139.4 440.5 139.3 434.5 139.1 428.9 138.9 424.0 138.7 420.4 138.6 420.7 138.4 423.6 138.2 427.0 138.0 430.5 137.9 433.6 137.7 436.3 137.5 438.0 137.3 438.3 137.2 438.3 137.0 438.3 136.8 438.8 136.6 439.7 136.5 440.6 136.3 441.2 136.1 441.3 135.9 441.3 135.8 441.3 135.6 441.3 135.4 441.3 135.2 440.9 135.1 440.0 134.9 438.7 134.7 437.0 134.5 434.9 134.4 432.7 134.2 430.2 134.0 427.8 133.8 425.3 133.7 423.0 133.5 421.1 133.3 419.6 133.1 419.3 133.0 422.0 132.8 426.2 132.6 431.1 132.4 436.4 132.3 441.8 132.1 446.7 131.9 450.8 131.7 453.9 131.6 455.7 131.4 456.1 131.2 456.1 131.0 456.1 130.9 456.1 130.7 456.1 130.5 455.6 130.3 454.6 130.2 453.0 130.0 450.9 129.8 448.4 129.6 445.4 129.5 442.2 129.3 438.8 129.1 435.2 128.9 431.8 128.8 428.6 128.6 425.6 128.4 422.8 128.2 420.5 128.1 418.7 127.9 417.6 127.7 422.0 127.5 429.3 127.4 438.3 127.2 447.9 127.0 457.3 126.8 465.6 126.7 471.8 126.5 475.5 126.3 476.3 126.1 476.3 126.0 476.3 125.8 476.3 125.6 476.3 125.4 475.2 125.3 472.5 125.1 468.6 124.9 463.4 124.7 457.4 124.6 450.7 124.4 443.7 124.2 436.6 124.0 429.9 123.9 423.9 123.7 419.1 123.5 415.7 123.3 415.5 123.2 418.0 123.0 421.0 122.8 424.9 122.6 429.2 122.5 433.5 122.3 437.7 122.1 441.5 121.9 444.7 121.8 447.0 121.6 448.5 121.4 449.0 121.2 449.0 121.1 449.0 120.9 448.9 120.7 448.9 120.5 448.7 120.4 447.9 120.2 446.6 120.0 444.9 119.8 442.9 119.7 440.8 119.5 438.6 119.3 436.3 119.1 434.0 119.0 431.8 118.8 429.9 118.6 428.2 118.4 426.8 118.3 427.1 118.1 428.7 117.9 430.4 117.7 431.7 117.6 432.6 117.4 432.6 117.2 432.6 117.0 432.6 116.9 432.6 116.7 432.6 116.5 431.8 116.3 430.3 116.2 428.0 116.0 425.3 115.8 422.5 115.6 419.8 115.5 417.7 115.3 416.1 115.1 417.4 114.9 419.1 114.8 421.2 114.6 424.0 114.4 427.0 114.3 430.1 114.1 433.3 113.9 436.4 113.7 439.4 113.6 442.1 113.4 444.5 113.2 446.6 113.0 448.2 112.9 449.2 112.7 449.5 112.5 449.5 112.3 449.5 112.2 449.5 112.0 449.5 111.8 448.9 111.6 447.0 111.5 444.2 111.3 441.0 111.1 437.1 110.9 432.7 110.8 428.2 110.6 423.8 110.4 419.7 110.2 416.7 110.1 414.2 109.9 413.3 109.7 415.0 109.5 417.2 109.4 419.8 109.2 423.1 109.0 426.7 108.8 430.4 108.7 434.1 108.5 437.6 108.3 440.9 108.1 443.7 108.0 446.1 107.8 448.1 107.6 449.4 107.4 449.8 107.3 449.8 107.1 449.8 106.9 449.8 106.7 449.8 106.6 449.2 106.4 447.7 106.2 445.3 106.0 442.5 105.9 439.2 105.7 435.6 105.5 431.9 105.3 428.1 105.2 424.7 105.0 421.6 104.8 419.4 104.6 419.0 104.5 420.9 104.3 423.5 104.1 426.6 103.9 430.0 103.8 433.6 103.6 437.2 103.4 440.7 103.2 444.0 103.1 446.9 102.9 449.4 102.7 451.4 102.5 452.7 102.4 453.1 102.2 453.1 102.0 453.1 101.8 453.1 101.7 453.1 101.5 452.5 101.3 450.6 101.1 447.5 101.0 443.8 100.8 439.3 100.6 434.3 100.4 428.9 100.3 423.3 100.1 418.0 99.9 413.6 99.7 409.5 99.6 406.1 99.4 403.3 99.2 403.1 99.0 405.7 98.9 409.0 98.7 413.1 98.5 417.9 98.3 424.1 98.2 430.9 98.0 438.2 97.8 445.7 97.6 453.4 97.5 461.4 97.3 469.7 97.1 477.8 96.9 485.4 96.8 492.3 96.6 498.5 96.4 503.9 96.2 508.3 96.1 511.6 95.9 513.9 95.7 515.0 95.5 514.9 95.4 514.8 95.2 514.7 95.0 514.7 94.8 514.6 94.7 512.2 94.5 507.4 94.3 500.4 94.1 491.4 94.0 480.6 93.8 468.6 93.6 455.5 93.4 441.9 93.3 428.2 93.1 415.2 92.9 404.5 92.7 395.2 92.6 387.2 92.4 380.7 92.2 376.4 92.0 381.8 91.9 389.0 91.7 397.8 91.5 407.6 91.3 418.2 91.2 430.9 91.0 443.3 90.8 454.9 90.6 465.2 90.5 473.7 90.3 480.1 90.1 484.0 89.9 485.4 89.8 485.4 89.6 485.5 89.4 485.5 89.2 485.6 89.1 484.3 88.9 480.4 88.7 474.1 88.5 465.8 88.4 455.7 88.2 444.3 88.0 432.3 87.8 420.1 87.7 409.9 87.5 400.7 87.3 392.8 87.1 386.6 87.0 385.2 86.8 389.8 86.6 395.1 86.5 400.4 86.3 405.2 86.1 408.8 85.9 410.8 85.8 411.1 85.6 411.3 85.4 411.6 85.2 411.8 85.1 412.0 84.9 410.7 84.7 408.1 84.5 404.5 84.4 400.1 84.2 395.5 84.0 391.2 83.8 387.5 83.7 385.6 83.5 388.0 83.3 391.1 83.1 394.8 83.0 398.9 82.8 403.5 82.6 408.4 82.4 413.4 82.3 419.0 82.1 424.7 81.9 431.1 81.7 437.1 81.6 442.6 81.4 447.4 81.2 451.4 81.0 454.6 80.9 456.8 80.7 458.0 80.5 458.2 80.3 458.5 80.2 458.5 80.0 458.6 79.8 458.6 79.6 456.8 79.5 453.2 79.3 448.0 79.1 441.5 78.9 434.0 78.8 426.1 78.6 419.0 78.4 412.1 78.2 405.7 78.1 400.6 77.9 396.6 77.7 393.8 77.5 394.5 77.4 395.9 77.2 397.6 77.0 399.3 76.8 401.2 76.7 403.0 76.5 404.7 76.3 406.2 76.1 407.5 76.0 408.5 75.8 409.1 75.6 409.4 75.4 409.4 75.3 409.5 75.1 409.6 74.9 410.3 74.7 412.7 74.6 416.1 74.4 420.4 74.2 425.3 74.0 430.3 73.9 435.8 73.7 440.8 73.5 444.8 73.3 447.5 73.2 448.7 73.0 449.2 72.8 449.6 72.6 450.0 72.5 450.5 72.3 448.1 72.1 443.0 71.9 437.3 71.8 434.2 71.6 433.5 71.4 432.8 71.2 432.2 71.1 431.3 70.9 432.4 70.7 433.7 70.5 435.5 70.4 437.0 70.2 438.0 70.0 438.4 69.8 438.2 69.7 437.9 69.5 437.7 69.3 437.4 69.1 436.7 69.0 432.2 68.8 424.3 68.6 414.6 68.4 403.3 68.3 391.5 68.1 380.2 67.9 370.6 67.7 369.7 67.6 378.8 67.4 390.5 67.2 404.2 67.0 419.4 66.9 437.6 66.7 456.7 66.5 475.2 66.3 492.4 66.2 507.5 66.0 519.8 65.8 529.0 65.6 534.5 65.5 536.2 65.3 536.0 65.1 535.7 64.9 535.5 64.8 535.2 64.6 533.8 64.4 530.4 64.2 524.8 64.1 517.3 63.9 508.1 63.7 497.4 63.5 485.5 63.4 472.7 63.2 459.5 63.0 446.2 62.8 433.2 62.7 420.8 62.5 410.8 62.3 402.3 62.1 395.5 62.0 390.2 61.8 388.3 61.6 391.5 61.4 395.6 61.3 400.3 61.1 405.4 60.9 410.5 60.7 415.4 60.6 420.3 60.4 424.7 60.2 427.9 60.0 429.9 59.9 430.5 59.7 430.4 59.5 430.2 59.4 430.1 59.2 430.1 59.0 428.9 58.8 425.7 58.7 421.2 58.5 416.4 58.3 413.0 58.1 412.1 58.0 412.7 57.8 413.1 57.6 413.4 57.4 413.4 57.3 413.4 57.1 413.5 56.9 413.4 56.7 413.4 56.6 413.0 56.4 412.5 56.2 411.7 56.0 411.0 55.9 411.4 55.7 412.4 55.5 413.5 55.3 414.7 55.2 415.9 55.0 417.1 54.8 417.9 54.6 418.4 54.5 418.4 54.3 418.8 54.1 418.8 53.9 418.7 53.8 418.5 53.6 418.3 53.4 418.0 53.2 417.7 53.1 417.3 52.9 416.9 52.7 416.8 52.5 416.8 52.4 416.8 52.2 416.8 52.0 416.8 51.8 416.8 51.7 416.8 51.5 416.7 51.3 416.7 51.1 416.7 51.0 416.6 50.8 416.6 50.6 416.6 50.4 416.5 50.3 416.5 50.1 416.5 49.9 416.5 49.7 416.4 49.6 416.4 49.4 416.4 49.2 416.4 49.0 416.4 48.9 416.4Z" fill="#d9d9d9" stroke="#d9d9d9" stroke-width="1.6"/>
<path d="M48.9 415.5L49.0 415.5 49.2 415.5 49.4 415.5 49.6 415.5 49.7 415.5 49.9 415.6 50.1 415.6 50.3 415.6 50.4 415.7 50.6 415.7 50.8 415.7 51.0 415.8 51.1 415.8 51.3 415.8 51.5 415.8 51.7 415.9 51.8 415.9 52.0 415.9 52.2 415.9 52.4 415.9 52.5 415.9 52.7 415.9 52.9 416.1 53.1 416.3 53.2 416.6 53.4 416.9 53.6 417.3 53.8 417.6 53.9 417.8 54.1 417.9 54.3 417.9 54.5 417.4 54.6 416.6 54.8 415.5 55.0 414.2 55.2 412.8 55.3 411.6 55.5 410.4 55.7 409.6 55.9 409.1 56.0 409.0 56.2 409.3 56.4 410.0 56.6 410.8 56.7 411.6 56.9 412.2 57.1 412.6 57.3 412.5 57.4 412.2 57.6 411.7 57.8 411.1 58.0 410.5 58.1 410.0 58.3 409.7 58.5 410.0 58.7 412.1 58.8 415.8 59.0 420.3 59.2 424.6 59.4 427.6 59.5 428.7 59.7 428.0 59.9 426.0 60.0 422.8 60.2 418.5 60.4 413.5 60.6 407.9 60.7 402.1 60.9 396.3 61.1 391.0 61.3 386.3 61.4 382.6 61.6 379.9 61.8 378.6 62.0 378.7 62.1 380.7 62.3 384.5 62.5 390.2 62.7 397.6 62.8 406.3 63.0 416.3 63.2 427.1 63.4 438.6 63.5 450.2 63.7 461.8 63.9 473.0 64.1 483.4 64.2 492.8 64.4 500.9 64.6 507.4 64.8 512.2 64.9 515.2 65.1 516.2 65.3 514.4 65.5 509.1 65.6 500.4 65.8 488.9 66.0 474.8 66.2 458.8 66.3 441.6 66.5 423.9 66.7 406.3 66.9 389.6 67.0 374.6 67.2 361.7 67.4 351.5 67.6 344.5 67.7 340.9 67.9 341.0 68.1 345.1 68.3 352.9 68.4 363.7 68.6 376.4 68.8 389.7 69.0 402.3 69.1 413.1 69.3 420.9 69.5 425.0 69.7 425.5 69.8 424.8 70.0 423.6 70.2 421.9 70.4 420.1 70.5 418.2 70.7 416.6 70.9 415.3 71.1 414.7 71.2 414.7 71.4 415.7 71.6 416.7 71.8 416.6 71.9 415.7 72.1 415.9 72.3 419.0 72.5 423.7 72.6 427.9 72.8 429.6 73.0 428.8 73.2 426.7 73.3 423.4 73.5 419.0 73.7 414.1 73.9 409.0 74.0 404.1 74.2 399.8 74.4 396.5 74.6 394.3 74.7 393.6 74.9 393.7 75.1 393.9 75.3 394.1 75.4 393.8 75.6 393.2 75.8 392.2 76.0 390.9 76.1 389.3 76.3 387.4 76.5 385.5 76.7 383.6 76.8 381.7 77.0 379.9 77.2 378.5 77.4 377.3 77.5 376.4 77.7 376.0 77.9 376.2 78.1 377.8 78.2 381.0 78.4 385.5 78.6 391.2 78.8 397.7 78.9 404.8 79.1 412.1 79.3 419.2 79.5 425.7 79.6 431.4 79.8 436.0 80.0 439.1 80.2 440.7 80.3 440.8 80.5 440.0 80.7 438.3 80.9 435.9 81.0 432.7 81.2 428.8 81.4 424.5 81.6 419.6 81.7 414.5 81.9 409.2 82.1 403.7 82.3 398.4 82.4 393.2 82.6 388.4 82.8 384.0 83.0 380.2 83.1 377.0 83.3 374.6 83.5 372.9 83.7 372.1 83.8 372.2 84.0 373.8 84.2 377.0 84.4 381.3 84.5 386.4 84.7 391.7 84.9 396.8 85.1 401.1 85.2 404.3 85.4 405.9 85.6 405.8 85.8 403.5 85.9 399.1 86.1 393.1 86.3 386.4 86.5 379.6 86.6 373.7 86.8 369.2 87.0 366.9 87.1 366.9 87.3 369.5 87.5 374.7 87.7 382.0 87.8 391.3 88.0 402.0 88.2 413.8 88.4 425.9 88.5 437.9 88.7 449.2 88.9 459.3 89.1 467.6 89.2 473.9 89.4 477.8 89.6 479.1 89.8 477.9 89.9 474.2 90.1 468.2 90.3 460.2 90.5 450.6 90.6 439.7 90.8 428.0 91.0 416.1 91.2 404.4 91.3 393.6 91.5 383.9 91.7 375.9 91.9 370.0 92.0 366.3 92.2 365.0 92.4 366.1 92.6 369.4 92.7 374.8 92.9 382.1 93.1 391.0 93.3 401.3 93.4 412.7 93.6 424.8 93.8 437.1 94.0 449.4 94.1 461.1 94.3 472.0 94.5 481.7 94.7 489.8 94.8 496.2 95.0 500.5 95.2 502.7 95.4 502.9 95.5 501.9 95.7 499.9 95.9 496.9 96.1 493.1 96.2 488.5 96.4 483.1 96.6 477.0 96.8 470.5 96.9 463.6 97.1 456.3 97.3 449.0 97.5 441.6 97.6 434.4 97.8 427.5 98.0 420.9 98.2 414.9 98.3 409.5 98.5 404.8 98.7 401.0 98.9 398.1 99.0 396.1 99.2 395.1 99.4 395.1 99.6 396.1 99.7 398.2 99.9 401.1 100.1 404.9 100.3 409.3 100.4 414.1 100.6 419.2 100.8 424.4 101.0 429.4 101.1 434.0 101.3 438.1 101.5 441.5 101.7 444.0 101.8 445.6 102.0 446.1 102.2 445.7 102.4 444.7 102.5 443.0 102.7 440.8 102.9 438.1 103.1 435.0 103.2 431.7 103.4 428.2 103.6 424.9 103.8 421.6 103.9 418.7 104.1 416.2 104.3 414.3 104.5 412.9 104.6 412.2 104.8 412.2 105.0 413.1 105.2 414.7 105.3 416.9 105.5 419.8 105.7 423.0 105.9 426.5 106.0 430.1 106.2 433.5 106.4 436.6 106.6 439.1 106.7 441.1 106.9 442.3 107.1 442.7 107.3 442.4 107.4 441.4 107.6 439.8 107.8 437.6 108.0 434.9 108.1 431.9 108.3 428.6 108.5 425.1 108.7 421.6 108.8 418.1 109.0 414.9 109.2 412.1 109.4 409.6 109.5 407.7 109.7 406.4 109.9 405.8 110.1 405.8 110.2 406.8 110.4 408.7 110.6 411.4 110.8 414.8 110.9 418.7 111.1 422.9 111.3 427.2 111.5 431.2 111.6 434.9 111.8 438.0 112.0 440.3 112.2 441.8 112.3 442.3 112.5 442.0 112.7 441.2 112.9 439.9 113.0 438.1 113.2 435.9 113.4 433.3 113.6 430.5 113.7 427.6 113.9 424.6 114.1 421.6 114.3 418.7 114.4 416.1 114.6 413.9 114.8 412.0 114.9 410.6 115.1 409.6 115.3 409.3 115.5 409.5 115.6 410.6 115.8 412.3 116.0 414.6 116.2 417.3 116.3 420.0 116.5 422.5 116.7 424.6 116.9 426.1 117.0 426.8 117.2 426.7 117.4 426.0 117.6 424.6 117.7 423.1 117.9 421.5 118.1 420.3 118.3 419.8 118.4 419.8 118.6 420.3 118.8 421.3 119.0 422.5 119.1 424.1 119.3 426.0 119.5 428.0 119.7 430.2 119.8 432.3 120.0 434.4 120.2 436.4 120.4 438.1 120.5 439.5 120.7 440.5 120.9 441.2 121.1 441.4 121.2 441.0 121.4 439.6 121.6 437.5 121.8 434.6 121.9 431.2 122.1 427.3 122.3 423.3 122.5 419.3 122.6 415.6 122.8 412.2 123.0 409.5 123.2 407.5 123.3 406.4 123.5 406.2 123.7 407.2 123.9 409.7 124.0 413.4 124.2 418.3 124.4 424.0 124.6 430.3 124.7 436.9 124.9 443.5 125.1 449.9 125.3 455.6 125.4 460.4 125.6 464.1 125.8 466.6 126.0 467.7 126.1 466.9 126.3 463.4 126.5 457.5 126.7 449.7 126.8 440.8 127.0 431.7 127.2 423.3 127.4 416.3 127.5 411.6 127.7 409.4 127.9 409.5 128.1 410.1 128.2 411.2 128.4 412.8 128.6 414.8 128.8 417.1 128.9 419.7 129.1 422.6 129.3 425.5 129.5 428.6 129.6 431.6 129.8 434.5 130.0 437.3 130.2 439.8 130.3 441.9 130.5 443.7 130.7 445.0 130.9 445.9 131.0 446.3 131.2 445.9 131.4 444.3 131.6 441.5 131.7 437.8 131.9 433.3 132.1 428.6 132.3 423.8 132.4 419.3 132.6 415.6 132.8 412.8 133.0 411.2 133.1 410.8 133.3 411.2 133.5 412.0 133.7 413.2 133.8 414.7 134.0 416.6 134.2 418.7 134.4 420.9 134.5 423.2 134.7 425.5 134.9 427.5 135.1 429.4 135.2 431.0 135.4 432.2 135.6 433.0 135.8 433.3 135.9 433.2 136.1 432.6 136.3 431.8 136.5 430.9 136.6 430.4 136.8 430.2 137.0 430.4 137.2 430.1 137.3 428.8 137.5 426.6 137.7 423.7 137.9 420.4 138.0 417.1 138.2 414.2 138.4 412.0 138.6 410.7 138.7 410.4 138.9 411.5 139.1 413.9 139.3 417.5 139.4 422.1 139.6 427.4 139.8 433.0 140.0 438.7 140.1 443.9 140.3 448.5 140.5 452.1 140.7 454.6 140.8 455.6 141.0 455.5 141.2 454.6 141.4 453.1 141.5 451.1 141.7 448.6 141.9 445.8 142.0 442.9 142.2 440.0 142.4 437.4 142.6 435.1 142.7 433.3 142.9 432.1 143.1 431.6 143.3 431.7 143.4 431.8 143.6 431.0 143.8 429.5 144.0 427.8 144.1 426.3 144.3 425.6 144.5 425.6 144.7 426.0 144.8 426.8 145.0 427.8 145.2 429.1 145.4 430.7 145.5 432.4 145.7 434.4 145.9 436.5 146.1 438.7 146.2 440.9 146.4 443.2 146.6 445.4 146.8 447.5 146.9 449.4 147.1 451.2 147.3 452.8 147.5 454.1 147.6 455.1 147.8 455.8 148.0 456.3 148.2 456.3 148.3 455.0 148.5 452.1 148.7 447.6 148.9 441.7 149.0 434.6 149.2 426.5 149.4 417.6 149.6 408.3 149.7 398.8 149.9 389.5 150.1 380.6 150.3 372.5 150.4 365.4 150.6 359.5 150.8 355.0 151.0 352.1 151.1 350.8 151.3 351.3 151.5 353.8 151.7 358.3 151.8 364.6 152.0 372.5 152.2 381.7 152.4 392.1 152.5 403.2 152.7 414.8 152.9 426.5 153.1 437.9 153.2 448.6 153.4 458.5 153.6 467.1 153.8 474.2 153.9 479.6 154.1 483.1 154.3 484.6 154.5 484.2 154.6 481.9 154.8 477.9 155.0 472.3 155.2 465.5 155.3 457.6 155.5 449.1 155.7 440.3 155.9 431.6 156.0 423.3 156.2 415.9 156.4 409.7 156.6 404.9 156.7 401.7 156.9 400.4 157.1 400.7 157.3 402.4 157.4 405.3 157.6 409.4 157.8 414.3 158.0 419.9 158.1 425.8 158.3 431.6 158.5 437.2 158.7 442.1 158.8 446.2 159.0 449.1 159.2 450.8 159.4 451.2 159.5 450.2 159.7 448.0 159.9 444.6 160.1 440.2 160.2 435.0 160.4 429.2 160.6 423.1 160.8 416.9 160.9 410.9 161.1 405.3 161.3 400.5 161.5 396.6 161.6 393.8 161.8 392.2 162.0 391.9 162.2 392.7 162.3 394.5 162.5 397.3 162.7 401.0 162.9 405.3 163.0 410.1 163.2 415.2 163.4 420.4 163.6 425.3 163.7 429.9 163.9 433.9 164.1 437.2 164.3 439.5 164.4 440.9 164.6 441.2 164.8 440.8 165.0 440.1 165.1 438.9 165.3 437.3 165.5 435.4 165.7 433.2 165.8 430.7 166.0 428.0 166.2 425.2 166.4 422.2 166.5 419.2 166.7 416.3 166.9 413.4 167.1 410.7 167.2 408.3 167.4 406.0 167.6 404.1 167.8 402.6 167.9 401.4 168.1 400.6 168.3 400.3 168.5 400.7 168.6 402.3 168.8 405.1 169.0 408.9 169.1 413.6 169.3 418.9 169.5 424.4 169.7 430.0 169.8 435.2 170.0 439.9 170.2 443.8 170.4 446.6 170.5 448.2 170.7 448.5 170.9 447.0 171.1 443.5 171.2 438.4 171.4 431.8 171.6 424.2 171.8 416.0 171.9 407.7 172.1 399.7 172.3 392.6 172.5 386.7 172.6 382.4 172.8 379.9 173.0 379.4 173.2 380.1 173.3 381.9 173.5 384.5 173.7 388.1 173.9 392.3 174.0 397.2 174.2 402.5 174.4 408.1 174.6 413.7 174.7 419.3 174.9 424.6 175.1 429.5 175.3 433.7 175.4 437.3 175.6 440.0 175.8 441.7 176.0 442.5 176.1 442.3 176.3 441.5 176.5 440.1 176.7 438.1 176.8 435.6 177.0 432.6 177.2 429.4 177.4 426.0 177.5 422.6 177.7 419.2 177.9 416.0 178.1 413.1 178.2 410.6 178.4 408.6 178.6 407.1 178.8 406.3 178.9 406.1 179.1 406.5 179.3 407.5 179.5 408.9 179.6 410.7 179.8 413.0 180.0 415.4 180.2 418.1 180.3 420.7 180.5 423.4 180.7 425.8 180.9 428.0 181.0 429.9 181.2 431.3 181.4 432.3 181.6 432.7 181.7 432.4 181.9 431.1 182.1 428.8 182.3 425.6 182.4 421.8 182.6 417.5 182.8 412.9 183.0 408.4 183.1 404.1 183.3 400.2 183.5 397.1 183.7 394.8 183.8 393.5 184.0 393.2 184.2 394.1 184.4 396.1 184.5 399.1 184.7 403.0 184.9 407.6 185.1 412.7 185.2 418.0 185.4 423.4 185.6 428.6 185.8 433.3 185.9 437.3 186.1 440.4 186.3 442.5 186.5 443.5 186.6 443.4 186.8 442.2 187.0 440.0 187.2 436.9 187.3 433.1 187.5 428.8 187.7 424.2 187.9 419.7 188.0 415.5 188.2 411.8 188.4 408.8 188.6 406.8 188.7 405.8 188.9 405.7 189.1 406.1 189.3 406.9 189.4 407.9 189.6 409.3 189.8 410.9 190.0 412.7 190.1 414.6 190.3 416.5 190.5 418.4 190.7 420.2 190.8 421.8 191.0 423.2 191.2 424.3 191.4 425.0 191.5 425.5 191.7 425.5 191.9 425.4 192.1 425.2 192.2 425.0 192.4 424.6 192.6 424.2 192.8 423.8 192.9 423.5 193.1 423.2 193.3 423.0 193.5 422.9 193.6 422.9 193.8 423.0 194.0 423.1 194.2 422.7 194.3 421.4 194.5 419.5 194.7 417.1 194.9 414.4 195.0 411.7 195.2 409.3 195.4 407.3 195.6 406.1 195.7 405.7 195.9 406.1 196.1 407.4 196.3 409.4 196.4 412.2 196.6 415.5 196.8 419.3 196.9 423.4 197.1 427.5 197.3 431.5 197.5 435.3 197.6 438.6 197.8 441.4 198.0 443.5 198.2 444.8 198.3 445.2 198.5 445.0 198.7 444.4 198.9 443.5 199.0 442.3 199.2 440.7 199.4 438.8 199.6 436.6 199.7 434.3 199.9 431.7 200.1 429.1 200.3 426.3 200.4 423.5 200.6 420.7 200.8 418.0 201.0 415.4 201.1 412.9 201.3 410.6 201.5 408.6 201.7 406.9 201.8 405.5 202.0 404.4 202.2 403.6 202.4 403.3 202.5 403.3 202.7 404.3 202.9 406.1 203.1 408.7 203.2 411.8 203.4 415.3 203.6 419.0 203.8 422.5 203.9 425.7 204.1 428.2 204.3 430.1 204.5 431.0 204.6 431.1 204.8 430.7 205.0 429.9 205.2 428.8 205.3 427.4 205.5 425.8 205.7 424.1 205.9 422.3 206.0 420.7 206.2 419.2 206.4 417.9 206.6 417.0 206.7 416.4 206.9 416.2 207.1 416.3 207.3 416.9 207.4 417.7 207.6 418.7 207.8 419.8 208.0 421.0 208.1 422.0 208.3 422.8 208.5 423.3 208.7 423.5 208.8 423.2 209.0 422.4 209.2 421.2 209.4 419.5 209.5 417.6 209.7 415.5 209.9 413.5 210.1 411.7 210.2 410.2 210.4 409.2 210.6 408.6 210.8 408.7 210.9 409.4 211.1 410.8 211.3 412.9 211.5 415.5 211.6 418.5 211.8 421.8 212.0 425.1 212.2 428.3 212.3 431.3 212.5 433.9 212.7 436.0 212.9 437.4 213.0 438.2 213.2 438.2 213.4 437.7 213.6 436.7 213.7 435.2 213.9 433.3 214.1 431.2 214.3 428.8 214.4 426.3 214.6 423.8 214.8 421.5 215.0 419.3 215.1 417.4 215.3 416.0 215.5 415.0 215.7 414.4 215.8 414.5 216.0 415.1 216.2 416.4 216.4 418.3 216.5 420.5 216.7 423.0 216.9 425.6 217.1 428.1 217.2 430.4 217.4 432.2 217.6 433.5 217.8 434.2 217.9 434.2 218.1 433.6 218.3 432.5 218.5 431.0 218.6 429.0 218.8 426.7 219.0 424.2 219.2 421.5 219.3 418.9 219.5 416.3 219.7 414.0 219.9 412.1 220.0 410.5 220.2 409.4 220.4 408.9 220.6 408.9 220.7 409.9 220.9 411.9 221.1 414.8 221.3 418.3 221.4 422.4 221.6 426.8 221.8 431.2 222.0 435.4 222.1 439.3 222.3 442.5 222.5 444.9 222.7 446.5 222.8 447.0 223.0 446.4 223.2 444.6 223.4 441.7 223.5 437.8 223.7 433.1 223.9 427.8 224.0 422.1 224.2 416.3 224.4 410.6 224.6 405.3 224.7 400.6 224.9 396.7 225.1 393.8 225.3 392.0 225.4 391.4 225.6 392.0 225.8 393.9 226.0 397.0 226.1 401.0 226.3 405.7 226.5 410.9 226.7 416.3 226.8 421.5 227.0 426.2 227.2 430.2 227.4 433.3 227.5 435.2 227.7 435.8 227.9 435.4 228.1 434.0 228.2 431.9 228.4 429.0 228.6 425.6 228.8 421.9 228.9 418.0 229.1 414.1 229.3 410.5 229.5 407.4 229.6 404.9 229.8 403.1 230.0 402.2 230.2 402.3 230.3 404.1 230.5 407.4 230.7 412.0 230.9 417.3 231.0 423.0 231.2 428.4 231.4 433.0 231.6 436.3 231.7 438.0 231.9 438.2 232.1 437.4 232.3 435.8 232.4 433.5 232.6 430.6 232.8 427.1 233.0 423.4 233.1 419.4 233.3 415.4 233.5 411.5 233.7 407.9 233.8 404.7 234.0 402.1 234.2 400.1 234.4 398.9 234.5 398.5 234.7 399.2 234.9 401.0 235.1 404.1 235.2 408.1 235.4 412.8 235.6 418.1 235.8 423.6 235.9 429.0 236.1 434.0 236.3 438.4 236.5 442.0 236.6 444.4 236.8 445.7 237.0 445.8 237.2 445.0 237.3 443.4 237.5 441.2 237.7 438.4 237.9 435.3 238.0 431.9 238.2 428.4 238.4 425.1 238.6 422.1 238.7 419.6 238.9 417.7 239.1 416.6 239.3 416.2 239.4 416.9 239.6 419.0 239.8 421.9 240.0 424.7 240.1 426.8 240.3 427.5 240.5 427.2 240.7 426.1 240.8 424.5 241.0 422.4 241.2 420.2 241.4 418.0 241.5 416.1 241.7 414.7 241.9 414.0 242.1 414.0 242.2 414.5 242.4 415.5 242.6 416.9 242.8 418.5 242.9 420.2 243.1 421.7 243.3 422.9 243.5 423.7 243.6 424.0 243.8 423.9 244.0 423.6 244.2 423.3 244.3 422.7 244.5 422.2 244.7 421.5 244.9 420.9 245.0 420.3 245.2 419.8 245.4 419.4 245.6 419.1 245.7 419.1 245.9 419.5 246.1 420.6 246.3 422.4 246.4 424.6 246.6 427.1 246.8 429.6 247.0 431.8 247.1 433.6 247.3 434.7 247.5 435.1 247.7 434.5 247.8 432.6 248.0 429.7 248.2 426.0 248.4 422.0 248.5 417.9 248.7 414.2 248.9 411.3 249.1 409.4 249.2 408.8 249.4 409.4 249.6 411.0 249.8 413.6 249.9 417.0 250.1 421.0 250.3 425.1 250.5 429.2 250.6 432.9 250.8 435.9 251.0 438.1 251.1 439.2 251.3 439.3 251.5 438.5 251.7 436.9 251.8 434.6 252.0 431.9 252.2 428.8 252.4 425.6 252.5 422.6 252.7 419.8 252.9 417.6 253.1 416.0 253.2 415.1 253.4 415.1 253.6 415.7 253.8 416.9 253.9 418.5 254.1 420.5 254.3 422.6 254.5 424.9 254.6 426.9 254.8 428.8 255.0 430.2 255.2 431.0 255.3 431.3 255.5 431.1 255.7 430.3 255.9 429.0 256.0 427.3 256.2 425.3 256.4 423.0 256.6 420.8 256.7 418.6 256.9 416.6 257.1 414.8 257.3 413.6 257.4 412.8 257.6 412.5 257.8 412.7 258.0 413.4 258.1 414.6 258.3 416.2 258.5 418.1 258.7 420.3 258.8 422.7 259.0 425.1 259.2 427.6 259.4 430.0 259.5 432.2 259.7 434.1 259.9 435.7 260.1 436.9 260.2 437.6 260.4 437.8 260.6 437.3 260.8 436.0 260.9 433.8 261.1 431.0 261.3 427.8 261.5 424.3 261.6 421.0 261.8 417.9 262.0 415.4 262.2 413.6 262.3 412.7 262.5 412.7 262.7 413.4 262.9 414.7 263.0 416.3 263.2 417.9 263.4 419.2 263.6 419.9 263.7 419.9 263.9 419.4 264.1 418.4 264.3 417.0 264.4 415.3 264.6 413.6 264.8 412.0 265.0 410.6 265.1 409.6 265.3 409.1 265.5 409.2 265.7 410.6 265.8 413.4 266.0 417.3 266.2 422.0 266.4 427.4 266.5 432.9 266.7 438.2 266.9 443.0 267.1 446.9 267.2 449.6 267.4 451.0 267.6 451.0 267.8 449.4 267.9 446.4 268.1 442.0 268.3 436.5 268.5 430.2 268.6 423.5 268.8 416.6 269.0 410.1 269.2 404.1 269.3 399.2 269.5 395.4 269.7 393.1 269.9 392.3 270.0 393.3 270.2 396.2 270.4 400.8 270.6 406.7 270.7 413.4 270.9 420.5 271.1 427.2 271.3 433.1 271.4 437.7 271.6 440.6 271.8 441.6 272.0 440.6 272.1 437.5 272.3 432.7 272.5 426.7 272.7 419.8 272.8 412.8 273.0 406.3 273.2 400.8 273.4 396.8 273.5 394.8 273.7 394.7 273.9 396.0 274.1 398.6 274.2 402.2 274.4 406.7 274.6 411.7 274.8 416.8 274.9 421.8 275.1 426.3 275.3 429.9 275.5 432.5 275.6 433.9 275.8 433.8 276.0 432.3 276.2 429.3 276.3 425.2 276.5 420.1 276.7 414.6 276.9 408.9 277.0 403.5 277.2 398.9 277.4 395.3 277.6 393.0 277.7 392.3 277.9 393.3 278.1 396.2 278.3 400.9 278.4 407.1 278.6 414.5 278.8 422.7 278.9 431.3 279.1 439.7 279.3 447.5 279.5 454.4 279.6 459.9 279.8 463.7 280.0 465.7 280.2 465.8 280.3 464.7 280.5 462.5 280.7 459.3 280.9 455.2 281.0 450.4 281.2 445.0 281.4 439.2 281.6 433.3 281.7 427.5 281.9 421.9 282.1 416.7 282.3 412.3 282.4 408.6 282.6 405.9 282.8 404.2 283.0 403.7 283.1 404.2 283.3 405.8 283.5 408.3 283.7 411.7 283.8 415.7 284.0 420.2 284.2 424.8 284.4 429.4 284.5 433.6 284.7 437.4 284.9 440.3 285.1 442.4 285.2 443.5 285.4 443.5 285.6 442.7 285.8 441.2 285.9 439.0 286.1 436.4 286.3 433.4 286.5 430.4 286.6 427.4 286.8 424.8 287.0 422.6 287.2 421.1 287.3 420.3 287.5 420.2 287.7 420.8 287.9 421.9 288.0 423.5 288.2 425.4 288.4 427.7 288.6 430.1 288.7 432.5 288.9 434.8 289.1 436.9 289.3 438.7 289.4 440.0 289.6 440.9 289.8 441.2 290.0 441.0 290.1 440.7 290.3 440.1 290.5 439.4 290.7 438.4 290.8 437.3 291.0 436.0 291.2 434.7 291.4 433.2 291.5 431.7 291.7 430.2 291.9 428.7 292.1 427.3 292.2 426.0 292.4 424.8 292.6 423.8 292.8 422.9 292.9 422.2 293.1 421.8 293.3 421.5 293.5 421.5 293.6 421.8 293.8 422.2 294.0 422.7 294.2 423.5 294.3 424.3 294.5 425.3 294.7 426.2 294.9 427.2 295.0 428.1 295.2 428.9 295.4 429.5 295.6 430.0 295.7 430.3 295.9 430.4 296.1 430.3 296.3 429.9 296.4 429.2 296.6 428.4 296.8 427.4 297.0 426.5 297.1 425.7 297.3 425.0 297.5 424.6 297.7 424.4 297.8 424.6 298.0 425.1 298.2 425.9 298.4 426.9 298.5 428.1 298.7 429.5 298.9 430.9 299.1 432.3 299.2 433.6 299.4 434.8 299.6 435.7 299.8 436.3 299.9 436.7 300.1 436.6 300.3 435.9 300.5 434.6 300.6 432.8 300.8 430.6 301.0 428.1 301.2 425.5 301.3 423.0 301.5 420.7 301.7 418.9 301.9 417.6 302.0 416.9 302.2 416.9 302.4 417.8 302.6 419.6 302.7 422.0 302.9 424.9 303.1 428.2 303.3 431.5 303.4 434.6 303.6 437.3 303.8 439.4 304.0 440.7 304.1 441.2 304.3 440.8 304.5 439.8 304.7 438.1 304.8 435.9 305.0 433.3 305.2 430.4 305.4 427.3 305.5 424.4 305.7 421.6 305.9 419.1 306.0 417.2 306.2 415.8 306.4 415.1 306.6 415.1 306.7 415.5 306.9 416.3 307.1 417.4 307.3 418.9 307.4 420.5 307.6 422.4 307.8 424.4 308.0 426.4 308.1 428.3 308.3 430.1 308.5 431.6 308.7 432.9 308.8 433.9 309.0 434.5 309.2 434.7 309.4 434.5 309.5 433.9 309.7 433.0 309.9 431.8 310.1 430.4 310.2 428.8 310.4 427.1 310.6 425.5 310.8 424.0 310.9 422.6 311.1 421.6 311.3 420.8 311.5 420.4 311.6 420.4 311.8 420.7 312.0 421.3 312.2 422.1 312.3 423.1 312.5 424.2 312.7 425.4 312.9 426.7 313.0 427.9 313.2 429.0 313.4 429.9 313.6 430.5 313.7 431.0 313.9 431.1 314.1 431.0 314.3 430.7 314.4 430.1 314.6 429.4 314.8 428.6 315.0 427.6 315.1 426.6 315.3 425.7 315.5 424.8 315.7 424.0 315.8 423.3 316.0 422.9 316.2 422.7 316.4 422.7 316.5 423.0 316.7 423.5 316.9 424.3 317.1 425.3 317.2 426.3 317.4 427.4 317.6 428.3 317.8 429.1 317.9 429.7 318.1 430.0 318.3 430.0 318.5 429.9 318.6 429.7 318.8 429.5 319.0 429.2 319.2 428.9 319.3 428.6 319.5 428.4 319.7 428.3 319.9 428.2" stroke="#000" stroke-width="2.6"/>
<path d="M48.9 415.5L49.0 415.5 49.2 415.5 49.4 415.5 49.6 415.5 49.7 415.5 49.9 415.6 50.1 415.6 50.3 415.6 50.4 415.7 50.6 415.7 50.8 415.7 51.0 415.8 51.1 415.8 51.3 415.8 51.5 415.8 51.7 415.9 51.8 415.9 52.0 415.9 52.2 415.9 52.4 415.9 52.5 415.9 52.7 415.9 52.9 416.1 53.1 416.3 53.2 416.6 53.4 416.9 53.6 417.3 53.8 417.6 53.9 417.8 54.1 417.9 54.3 417.9 54.5 417.4 54.6 416.6 54.8 415.5 55.0 414.2 55.2 412.8 55.3 411.6 55.5 410.4 55.7 409.6 55.9 409.1 56.0 409.0 56.2 409.3 56.4 410.0 56.6 410.8 56.7 411.6 56.9 412.2 57.1 412.6 57.3 412.5 57.4 412.2 57.6 411.7 57.8 411.1 58.0 410.5 58.1 410.0 58.3 409.7 58.5 410.0 58.7 412.1 58.8 415.8 59.0 420.3 59.2 424.6 59.4 427.6 59.5 428.7 59.7 428.0 59.9 425.9 60.0 422.7 60.2 418.3 60.4 413.2 60.6 407.4 60.7 401.5 60.9 395.6 61.1 390.2 61.3 385.4 61.4 381.5 61.6 378.9 61.8 377.5 62.0 377.6 62.1 379.7 62.3 383.8 62.5 389.9 62.7 397.7 62.8 407.0 63.0 417.6 63.2 429.2 63.4 441.3 63.5 453.8 63.7 466.1 63.9 478.0 64.1 489.1 64.2 499.1 64.4 507.7 64.6 514.7 64.8 519.8 64.9 522.9 65.1 524.0 65.3 522.1 65.5 516.7 65.6 507.8 65.8 495.9 66.0 481.4 66.2 465.0 66.3 447.3 66.5 429.0 66.7 410.9 66.9 393.8 67.0 378.2 67.2 365.0 67.4 354.5 67.6 347.3 67.7 343.6 67.9 343.7 68.1 347.6 68.3 355.2 68.4 365.6 68.6 377.9 68.8 390.8 69.0 403.0 69.1 413.5 69.3 421.0 69.5 425.0 69.7 425.5 69.8 424.8 70.0 423.6 70.2 421.9 70.4 420.1 70.5 418.2 70.7 416.6 70.9 415.3 71.1 414.7 71.2 414.7 71.4 415.7 71.6 416.7 71.8 416.6 71.9 415.7 72.1 415.9 72.3 419.0 72.5 423.7 72.6 427.9 72.8 429.6 73.0 428.8 73.2 426.7 73.3 423.4 73.5 419.0 73.7 414.1 73.9 409.0 74.0 404.1 74.2 399.8 74.4 396.5 74.6 394.3 74.7 393.6 74.9 393.7 75.1 393.9 75.3 394.1 75.4 393.8 75.6 393.2 75.8 392.1 76.0 390.6 76.1 388.9 76.3 386.9 76.5 384.9 76.7 382.8 76.8 380.8 77.0 378.9 77.2 377.3 77.4 376.0 77.5 375.1 77.7 374.7 77.9 374.9 78.1 376.6 78.2 380.1 78.4 385.0 78.6 391.2 78.8 398.4 78.9 406.2 79.1 414.1 79.3 421.9 79.5 429.0 79.6 435.2 79.8 440.2 80.0 443.6 80.2 445.4 80.3 445.5 80.5 444.6 80.7 442.7 80.9 439.9 81.0 436.3 81.2 432.0 81.4 427.0 81.6 421.6 81.7 415.8 81.9 409.7 82.1 403.6 82.3 397.6 82.4 391.8 82.6 386.3 82.8 381.4 83.0 377.0 83.1 373.5 83.3 370.7 83.5 368.8 83.7 367.8 83.8 368.0 84.0 369.8 84.2 373.3 84.4 378.2 84.5 383.9 84.7 389.9 84.9 395.6 85.1 400.5 85.2 404.0 85.4 405.9 85.6 405.9 85.8 403.8 85.9 400.1 86.1 394.9 86.3 389.1 86.5 383.3 86.6 378.2 86.8 374.5 87.0 372.4 87.1 372.5 87.3 375.0 87.5 379.8 87.7 386.8 87.8 395.6 88.0 405.9 88.2 417.0 88.4 428.5 88.5 440.0 88.7 450.7 88.9 460.3 89.1 468.2 89.2 474.2 89.4 477.9 89.6 479.1 89.8 477.9 89.9 474.1 90.1 468.1 90.3 459.9 90.5 450.1 90.6 439.1 90.8 427.2 91.0 415.1 91.2 403.3 91.3 392.2 91.5 382.4 91.7 374.3 91.9 368.3 92.0 364.5 92.2 363.2 92.4 364.4 92.6 367.9 92.7 373.5 92.9 381.1 93.1 390.5 93.3 401.4 93.4 413.3 93.6 426.0 93.8 438.9 94.0 451.8 94.1 464.2 94.3 475.6 94.5 485.8 94.7 494.3 94.8 501.0 95.0 505.5 95.2 507.8 95.4 508.0 95.5 506.9 95.7 504.7 95.9 501.4 96.1 497.2 96.2 492.1 96.4 486.1 96.6 479.4 96.8 472.2 96.9 464.5 97.1 456.6 97.3 448.4 97.5 440.3 97.6 432.3 97.8 424.6 98.0 417.4 98.2 410.7 98.3 404.8 98.5 399.6 98.7 395.4 98.9 392.1 99.0 389.9 99.2 388.8 99.4 388.8 99.6 390.0 99.7 392.3 99.9 395.7 100.1 400.0 100.3 404.9 100.4 410.4 100.6 416.3 100.8 422.1 101.0 427.8 101.1 433.1 101.3 437.7 101.5 441.5 101.7 444.4 101.8 446.2 102.0 446.7 102.2 446.3 102.4 445.1 102.5 443.2 102.7 440.6 102.9 437.4 103.1 433.8 103.2 430.0 103.4 426.0 103.6 422.0 103.8 418.3 103.9 414.9 104.1 412.0 104.3 409.7 104.5 408.1 104.6 407.3 104.8 407.4 105.0 408.3 105.2 410.2 105.3 412.9 105.5 416.3 105.7 420.1 105.9 424.3 106.0 428.5 106.2 432.5 106.4 436.1 106.6 439.2 106.7 441.5 106.9 442.9 107.1 443.4 107.3 443.0 107.4 441.8 107.6 439.9 107.8 437.3 108.0 434.2 108.1 430.5 108.3 426.6 108.5 422.5 108.7 418.3 108.8 414.2 109.0 410.4 109.2 407.0 109.4 404.1 109.5 401.9 109.7 400.3 109.9 399.5 110.1 399.6 110.2 400.7 110.4 403.0 110.6 406.2 110.8 410.3 110.9 414.9 111.1 419.9 111.3 425.0 111.5 429.8 111.6 434.2 111.8 437.9 112.0 440.6 112.2 442.4 112.3 442.9 112.5 442.6 112.7 441.7 112.9 440.2 113.0 438.1 113.2 435.6 113.4 432.7 113.6 429.5 113.7 426.1 113.9 422.7 114.1 419.3 114.3 416.1 114.4 413.1 114.6 410.5 114.8 408.4 114.9 406.7 115.1 405.7 115.3 405.2 115.5 405.5 115.6 406.6 115.8 408.4 116.0 410.8 116.2 413.5 116.3 416.2 116.5 418.8 116.7 421.0 116.9 422.5 117.0 423.2 117.2 423.2 117.4 422.6 117.6 421.6 117.7 420.3 117.9 419.1 118.1 418.2 118.3 417.8 118.4 417.8 118.6 418.4 118.8 419.4 119.0 420.9 119.1 422.7 119.3 424.8 119.5 427.1 119.7 429.5 119.8 431.9 120.0 434.2 120.2 436.4 120.4 438.3 120.5 439.9 120.7 441.1 120.9 441.8 121.1 442.1 121.2 441.6 121.4 440.2 121.6 438.0 121.8 435.0 121.9 431.4 122.1 427.4 122.3 423.2 122.5 419.0 122.6 415.1 122.8 411.6 123.0 408.8 123.2 406.7 123.3 405.5 123.5 405.3 123.7 406.3 123.9 408.8 124.0 412.5 124.2 417.4 124.4 423.1 124.6 429.4 124.7 436.0 124.9 442.7 125.1 449.0 125.3 454.7 125.4 459.5 125.6 463.2 125.8 465.7 126.0 466.8 126.1 466.0 126.3 462.5 126.5 456.4 126.7 448.5 126.8 439.5 127.0 430.2 127.2 421.6 127.4 414.6 127.5 409.7 127.7 407.5 127.9 407.6 128.1 408.3 128.2 409.5 128.4 411.3 128.6 413.4 128.8 416.0 128.9 418.9 129.1 422.1 129.3 425.4 129.5 428.7 129.6 432.1 129.8 435.3 130.0 438.3 130.2 441.1 130.3 443.5 130.5 445.4 130.7 446.9 130.9 447.9 131.0 448.3 131.2 447.9 131.4 446.2 131.6 443.3 131.7 439.4 131.9 434.7 132.1 429.7 132.3 424.6 132.4 420.0 132.6 416.0 132.8 413.1 133.0 411.4 133.1 411.0 133.3 411.4 133.5 412.2 133.7 413.4 133.8 415.0 134.0 416.9 134.2 419.1 134.4 421.4 134.5 423.7 134.7 426.0 134.9 428.1 135.1 430.0 135.2 431.6 135.4 432.8 135.6 433.7 135.8 434.0 135.9 433.9 136.1 433.3 136.3 432.5 136.5 431.6 136.6 431.0 136.8 430.9 137.0 431.1 137.2 430.8 137.3 429.2 137.5 426.6 137.7 423.2 137.9 419.4 138.0 415.6 138.2 412.2 138.4 409.6 138.6 408.0 138.7 407.7 138.9 408.9 139.1 411.5 139.3 415.4 139.4 420.3 139.6 426.0 139.8 432.0 140.0 438.1 140.1 443.7 140.3 448.7 140.5 452.6 140.7 455.2 140.8 456.3 141.0 456.1 141.2 455.3 141.4 453.8 141.5 451.7 141.7 449.2 141.9 446.5 142.0 443.6 142.2 440.7 142.4 438.1 142.6 435.8 142.7 434.0 142.9 432.8 143.1 432.3 143.3 432.3 143.4 432.4 143.6 431.1 143.8 428.5 144.0 425.4 144.1 422.9 144.3 421.6 144.5 421.6 144.7 422.2 144.8 423.1 145.0 424.4 145.2 426.0 145.4 428.0 145.5 430.3 145.7 432.8 145.9 435.4 146.1 438.2 146.2 441.1 146.4 443.9 146.6 446.7 146.8 449.3 146.9 451.8 147.1 454.1 147.3 456.1 147.5 457.7 147.6 459.0 147.8 460.0 148.0 460.5 148.2 460.5 148.3 459.1 148.5 456.0 148.7 451.1 148.9 444.7 149.0 436.9 149.2 428.0 149.4 418.4 149.6 408.3 149.7 397.9 149.9 387.8 150.1 378.2 150.3 369.3 150.4 361.5 150.6 355.1 150.8 350.2 151.0 347.1 151.1 345.7 151.3 346.2 151.5 348.9 151.7 353.7 151.8 360.4 152.0 368.8 152.2 378.6 152.4 389.6 152.5 401.5 152.7 413.8 152.9 426.3 153.1 438.4 153.2 449.9 153.4 460.4 153.6 469.5 153.8 477.1 153.9 482.8 154.1 486.6 154.3 488.2 154.5 487.7 154.6 485.3 154.8 481.1 155.0 475.3 155.2 468.0 155.3 459.8 155.5 450.8 155.7 441.5 155.9 432.3 156.0 423.7 156.2 415.9 156.4 409.3 156.6 404.3 156.7 400.9 156.9 399.5 157.1 399.8 157.3 401.6 157.4 404.7 157.6 408.9 157.8 414.1 158.0 419.9 158.1 426.1 158.3 432.2 158.5 438.1 158.7 443.2 158.8 447.5 159.0 450.6 159.2 452.4 159.4 452.7 159.5 451.7 159.7 449.4 159.9 446.0 160.1 441.4 160.2 436.1 160.4 430.1 160.6 423.8 160.8 417.4 160.9 411.2 161.1 405.5 161.3 400.6 161.5 396.5 161.6 393.6 161.8 392.0 162.0 391.6 162.2 392.5 162.3 394.4 162.5 397.3 162.7 401.1 162.9 405.6 163.0 410.6 163.2 415.9 163.4 421.3 163.6 426.5 163.7 431.3 163.9 435.4 164.1 438.8 164.3 441.2 164.4 442.6 164.6 442.9 164.8 442.6 165.0 441.9 165.1 440.7 165.3 439.1 165.5 437.2 165.7 435.0 165.8 432.5 166.0 429.8 166.2 427.0 166.4 424.0 166.5 421.0 166.7 418.1 166.9 415.2 167.1 412.5 167.2 410.0 167.4 407.8 167.6 405.9 167.8 404.4 167.9 403.2 168.1 402.4 168.3 402.1 168.5 402.5 168.6 404.1 168.8 406.9 169.0 410.7 169.1 415.4 169.3 420.6 169.5 426.2 169.7 431.8 169.8 437.0 170.0 441.7 170.2 445.5 170.4 448.3 170.5 450.0 170.7 450.3 170.9 448.8 171.1 445.4 171.2 440.4 171.4 434.0 171.6 426.6 171.8 418.5 171.9 410.4 172.1 402.6 172.3 395.6 172.5 389.9 172.6 385.7 172.8 383.2 173.0 382.7 173.2 383.4 173.3 385.2 173.5 387.8 173.7 391.2 173.9 395.4 174.0 400.1 174.2 405.3 174.4 410.7 174.6 416.2 174.7 421.7 174.9 426.8 175.1 431.6 175.3 435.7 175.4 439.2 175.6 441.8 175.8 443.5 176.0 444.3 176.1 444.1 176.3 443.3 176.5 441.9 176.7 439.8 176.8 437.3 177.0 434.4 177.2 431.2 177.4 427.8 177.5 424.4 177.7 421.0 177.9 417.8 178.1 414.8 178.2 412.3 178.4 410.3 178.6 408.9 178.8 408.1 178.9 407.9 179.1 408.3 179.3 409.3 179.5 410.7 179.6 412.5 179.8 414.7 180.0 417.2 180.2 419.8 180.3 422.5 180.5 425.2 180.7 427.6 180.9 429.8 181.0 431.7 181.2 433.1 181.4 434.0 181.6 434.4 181.7 434.2 181.9 432.9 182.1 430.6 182.3 427.4 182.4 423.6 182.6 419.3 182.8 414.7 183.0 410.2 183.1 405.8 183.3 402.0 183.5 398.9 183.7 396.6 183.8 395.3 184.0 395.0 184.2 395.9 184.4 397.8 184.5 400.8 184.7 404.7 184.9 409.4 185.1 414.5 185.2 419.8 185.4 425.2 185.6 430.4 185.8 435.0 185.9 439.0 186.1 442.2 186.3 444.3 186.5 445.3 186.6 445.2 186.8 444.1 187.0 442.1 187.2 439.3 187.3 435.8 187.5 431.9 187.7 427.7 187.9 423.6 188.0 419.8 188.2 416.4 188.4 413.7 188.6 411.8 188.7 410.9 188.9 410.9 189.1 411.3 189.3 412.0 189.4 413.1 189.6 414.5 189.8 416.2 190.0 418.0 190.1 419.9 190.3 421.9 190.5 423.8 190.7 425.6 190.8 427.3 191.0 428.7 191.2 429.8 191.4 430.6 191.5 431.0 191.7 431.1 191.9 431.0 192.1 430.9 192.2 430.6 192.4 430.3 192.6 430.0 192.8 429.7 192.9 429.4 193.1 429.2 193.3 429.0 193.5 428.9 193.6 428.9 193.8 429.0 194.0 429.1 194.2 428.6 194.3 427.3 194.5 425.1 194.7 422.4 194.9 419.4 195.0 416.4 195.2 413.7 195.4 411.5 195.6 410.2 195.7 409.7 195.9 410.1 196.1 411.4 196.3 413.5 196.4 416.2 196.6 419.6 196.8 423.3 196.9 427.4 197.1 431.5 197.3 435.5 197.5 439.3 197.6 442.7 197.8 445.4 198.0 447.5 198.2 448.8 198.3 449.2 198.5 449.0 198.7 448.5 198.9 447.5 199.0 446.3 199.2 444.7 199.4 442.8 199.6 440.7 199.7 438.3 199.9 435.8 200.1 433.1 200.3 430.3 200.4 427.5 200.6 424.7 200.8 422.0 201.0 419.4 201.1 416.9 201.3 414.7 201.5 412.7 201.7 410.9 201.8 409.5 202.0 408.4 202.2 407.7 202.4 407.3 202.5 407.3 202.7 408.3 202.9 410.1 203.1 412.7 203.2 415.8 203.4 419.4 203.6 423.0 203.8 426.5 203.9 429.7 204.1 432.3 204.3 434.1 204.5 435.0 204.6 435.1 204.8 434.7 205.0 433.9 205.2 432.8 205.3 431.4 205.5 429.8 205.7 428.1 205.9 426.4 206.0 424.7 206.2 423.2 206.4 421.9 206.6 421.0 206.7 420.4 206.9 420.2 207.1 420.4 207.3 420.9 207.4 421.7 207.6 422.7 207.8 423.9 208.0 425.0 208.1 426.0 208.3 426.8 208.5 427.4 208.7 427.5 208.8 427.3 209.0 426.5 209.2 425.2 209.4 423.5 209.5 421.6 209.7 419.6 209.9 417.6 210.1 415.8 210.2 414.3 210.4 413.2 210.6 412.7 210.8 412.7 210.9 413.4 211.1 414.9 211.3 416.9 211.5 419.5 211.6 422.5 211.8 425.8 212.0 429.1 212.2 432.3 212.3 435.3 212.5 437.9 212.7 440.0 212.9 441.4 213.0 442.2 213.2 442.2 213.4 441.7 213.6 440.6 213.7 439.0 213.9 437.0 214.1 434.7 214.3 432.1 214.4 429.4 214.6 426.8 214.8 424.2 215.0 421.9 215.1 419.9 215.3 418.3 215.5 417.2 215.7 416.7 215.8 416.7 216.0 417.3 216.2 418.5 216.4 420.3 216.5 422.4 216.7 424.8 216.9 427.2 217.1 429.6 217.2 431.7 217.4 433.4 217.6 434.6 217.8 435.3 217.9 435.3 218.1 434.8 218.3 433.7 218.5 432.2 218.6 430.3 218.8 428.1 219.0 425.7 219.2 423.2 219.3 420.7 219.5 418.2 219.7 416.0 219.9 414.2 220.0 412.7 220.2 411.6 220.4 411.1 220.6 411.2 220.7 412.1 220.9 414.1 221.1 416.8 221.3 420.3 221.4 424.2 221.6 428.5 221.8 432.8 222.0 436.9 222.1 440.6 222.3 443.7 222.5 446.1 222.7 447.6 222.8 448.1 223.0 447.5 223.2 445.7 223.4 442.9 223.5 439.1 223.7 434.5 223.9 429.3 224.0 423.7 224.2 418.0 224.4 412.4 224.6 407.2 224.7 402.6 224.9 398.8 225.1 396.0 225.3 394.2 225.4 393.6 225.6 394.2 225.8 396.1 226.0 399.1 226.1 403.0 226.3 407.6 226.5 412.7 226.7 417.9 226.8 422.9 227.0 427.6 227.2 431.5 227.4 434.4 227.5 436.3 227.7 436.9 227.9 436.5 228.1 435.2 228.2 433.1 228.4 430.4 228.6 427.1 228.8 423.5 228.9 419.7 229.1 416.0 229.3 412.5 229.5 409.4 229.6 407.0 229.8 405.3 230.0 404.4 230.2 404.5 230.3 406.2 230.5 409.5 230.7 413.9 230.9 419.1 231.0 424.6 231.2 429.8 231.4 434.2 231.6 437.5 231.7 439.2 231.9 439.3 232.1 438.5 232.3 437.0 232.4 434.7 232.6 431.9 232.8 428.6 233.0 424.9 233.1 421.0 233.3 417.1 233.5 413.4 233.7 409.9 233.8 406.8 234.0 404.2 234.2 402.3 234.4 401.2 234.5 400.8 234.7 401.4 234.9 403.2 235.1 406.2 235.2 410.1 235.4 414.7 235.6 419.8 235.8 425.2 235.9 430.5 236.1 435.4 236.3 439.7 236.5 443.2 236.6 445.6 236.8 446.8 237.0 446.9 237.2 446.1 237.3 444.6 237.5 442.5 237.7 439.8 237.9 436.8 238.0 433.5 238.2 430.2 238.4 427.0 238.6 424.1 238.7 421.7 238.9 419.9 239.1 418.8 239.3 418.4 239.4 419.2 239.6 421.2 239.8 424.1 240.0 426.9 240.1 429.0 240.3 429.8 240.5 429.4 240.7 428.3 240.8 426.7 241.0 424.6 241.2 422.4 241.4 420.2 241.5 418.4 241.7 417.0 241.9 416.3 242.1 416.2 242.2 416.8 242.4 417.8 242.6 419.2 242.8 420.8 242.9 422.4 243.1 423.9 243.3 425.1 243.5 425.9 243.6 426.2 243.8 426.1 244.0 425.9 244.2 425.5 244.3 425.0 244.5 424.4 244.7 423.8 244.9 423.1 245.0 422.5 245.2 422.0 245.4 421.6 245.6 421.4 245.7 421.3 245.9 421.7 246.1 422.7 246.3 424.4 246.4 426.5 246.6 428.8 246.8 431.1 247.0 433.2 247.1 434.8 247.3 435.9 247.5 436.3 247.7 435.6 247.8 433.8 248.0 431.1 248.2 427.5 248.4 423.6 248.5 419.7 248.7 416.2 248.9 413.4 249.1 411.6 249.2 411.0 249.4 411.6 249.6 413.2 249.8 415.7 249.9 419.0 250.1 422.8 250.3 426.8 250.5 430.7 250.6 434.3 250.8 437.2 251.0 439.3 251.1 440.4 251.3 440.4 251.5 439.6 251.7 438.1 251.8 436.0 252.0 433.3 252.2 430.4 252.4 427.4 252.5 424.4 252.7 421.8 252.9 419.7 253.1 418.2 253.2 417.4 253.4 417.4 253.6 418.0 253.8 419.1 253.9 420.7 254.1 422.7 254.3 424.9 254.5 427.1 254.6 429.2 254.8 431.0 255.0 432.4 255.2 433.3 255.3 433.6 255.5 433.3 255.7 432.5 255.9 431.2 256.0 429.5 256.2 427.5 256.4 425.3 256.6 423.0 256.7 420.8 256.9 418.8 257.1 417.1 257.3 415.8 257.4 415.0 257.6 414.7 257.8 414.9 258.0 415.6 258.1 416.7 258.3 418.3 258.5 420.1 258.7 422.2 258.8 424.5 259.0 426.8 259.2 429.2 259.4 431.5 259.5 433.5 259.7 435.4 259.9 436.9 260.1 438.0 260.2 438.7 260.4 438.9 260.6 438.5 260.8 437.2 260.9 435.1 261.1 432.4 261.3 429.3 261.5 426.1 261.6 422.8 261.8 419.9 262.0 417.5 262.2 415.8 262.3 414.9 262.5 414.9 262.7 415.6 262.9 416.9 263.0 418.5 263.2 420.1 263.4 421.4 263.6 422.1 263.7 422.1 263.9 421.6 264.1 420.6 264.3 419.2 264.4 417.6 264.6 415.9 264.8 414.2 265.0 412.9 265.1 411.8 265.3 411.3 265.5 411.4 265.7 412.8 265.8 415.5 266.0 419.3 266.2 423.9 266.4 429.1 266.5 434.5 266.7 439.6 266.9 444.3 267.1 448.1 267.2 450.8 267.4 452.2 267.6 452.1 267.8 450.6 267.9 447.6 268.1 443.3 268.3 437.9 268.5 431.7 268.6 425.1 268.8 418.4 269.0 412.0 269.2 406.2 269.3 401.3 269.5 397.6 269.7 395.3 269.9 394.5 270.0 395.5 270.2 398.3 270.4 402.8 270.6 408.6 270.7 415.2 270.9 422.0 271.1 428.6 271.3 434.4 271.4 438.9 271.6 441.7 271.8 442.7 272.0 441.7 272.1 438.7 272.3 434.1 272.5 428.1 272.7 421.5 272.8 414.6 273.0 408.2 273.2 402.9 273.4 399.0 273.5 397.0 273.7 396.9 273.9 398.2 274.1 400.7 274.2 404.2 274.4 408.6 274.6 413.4 274.8 418.4 274.9 423.3 275.1 427.6 275.3 431.2 275.5 433.7 275.6 435.0 275.8 434.9 276.0 433.5 276.2 430.6 276.3 426.5 276.5 421.6 276.7 416.2 276.9 410.7 277.0 405.5 277.2 401.0 277.4 397.5 277.6 395.3 277.7 394.5 277.9 395.5 278.1 398.4 278.3 403.0 278.4 409.1 278.6 416.4 278.8 424.5 278.9 432.9 279.1 441.2 279.3 448.9 279.5 455.7 279.6 461.1 279.8 464.9 280.0 466.8 280.2 466.9 280.3 465.8 280.5 463.7 280.7 460.5 280.9 456.5 281.0 451.8 281.2 446.5 281.4 440.8 281.6 435.0 281.7 429.3 281.9 423.8 282.1 418.7 282.3 414.3 282.4 410.7 282.6 408.1 282.8 406.4 283.0 405.9 283.1 406.4 283.3 408.0 283.5 410.4 283.7 413.7 283.8 417.6 284.0 421.9 284.2 426.4 284.4 430.9 284.5 435.0 284.7 438.6 284.9 441.5 285.1 443.6 285.2 444.6 285.4 444.6 285.6 443.9 285.8 442.4 285.9 440.4 286.1 437.8 286.3 435.0 286.5 432.1 286.6 429.3 286.8 426.8 287.0 424.7 287.2 423.3 287.3 422.5 287.5 422.5 287.7 423.0 287.9 424.0 288.0 425.5 288.2 427.4 288.4 429.5 288.6 431.8 288.7 434.1 288.9 436.3 289.1 438.3 289.3 440.0 289.4 441.2 289.6 442.0 289.8 442.3 290.0 442.2 290.1 441.8 290.3 441.3 290.5 440.6 290.7 439.7 290.8 438.6 291.0 437.4 291.2 436.1 291.4 434.8 291.5 433.4 291.7 432.0 291.9 430.6 292.1 429.2 292.2 428.0 292.4 426.9 292.6 425.9 292.8 425.1 292.9 424.4 293.1 424.0 293.3 423.8 293.5 423.8 293.6 424.0 293.8 424.4 294.0 425.0 294.2 425.7 294.3 426.6 294.5 427.5 294.7 428.5 294.9 429.4 295.0 430.3 295.2 431.1 295.4 431.8 295.6 432.3 295.7 432.6 295.9 432.7 296.1 432.5 296.3 432.1 296.4 431.4 296.6 430.6 296.8 429.7 297.0 428.7 297.1 427.9 297.3 427.2 297.5 426.8 297.7 426.7 297.8 426.8 298.0 427.2 298.2 428.0 298.4 428.9 298.5 430.0 298.7 431.3 298.9 432.6 299.1 433.8 299.2 435.0 299.4 436.1 299.6 436.9 299.8 437.5 299.9 437.8 300.1 437.7 300.3 437.1 300.5 435.9 300.6 434.1 300.8 432.0 301.0 429.7 301.2 427.2 301.3 424.9 301.5 422.7 301.7 421.0 301.9 419.8 302.0 419.1 302.2 419.2 302.4 420.0 302.6 421.7 302.7 424.0 302.9 426.8 303.1 429.9 303.3 433.0 303.4 436.0 303.6 438.6 303.8 440.6 304.0 441.8 304.1 442.3 304.3 441.9 304.5 441.0 304.7 439.4 304.8 437.2 305.0 434.7 305.2 431.9 305.4 429.1 305.5 426.2 305.7 423.5 305.9 421.2 306.0 419.3 306.2 418.0 306.4 417.4 306.6 417.3 306.7 417.7 306.9 418.4 307.1 419.5 307.3 420.9 307.4 422.5 307.6 424.2 307.8 426.1 308.0 427.9 308.1 429.8 308.3 431.4 308.5 432.9 308.7 434.1 308.8 435.1 309.0 435.6 309.2 435.8 309.4 435.6 309.5 435.1 309.7 434.3 309.9 433.2 310.1 431.8 310.2 430.4 310.4 428.8 310.6 427.3 310.8 425.9 310.9 424.7 311.1 423.7 311.3 423.0 311.5 422.7 311.6 422.7 311.8 423.0 312.0 423.5 312.2 424.3 312.3 425.3 312.5 426.5 312.7 427.7 312.9 428.9 313.0 430.1 313.2 431.2 313.4 432.1 313.6 432.8 313.7 433.2 313.9 433.4 314.1 433.2 314.3 432.9 314.4 432.4 314.6 431.6 314.8 430.8 315.0 429.8 315.1 428.9 315.3 427.9 315.5 427.0 315.7 426.2 315.8 425.6 316.0 425.1 316.2 424.9 316.4 424.9 316.5 425.2 316.7 425.8 316.9 426.6 317.1 427.5 317.2 428.6 317.4 429.6 317.6 430.5 317.8 431.3 317.9 431.9 318.1 432.2 318.3 432.2 318.5 432.1 318.6 431.9 318.8 431.7 319.0 431.4 319.2 431.1 319.3 430.9 319.5 430.6 319.7 430.5 319.9 430.4" stroke="#ff0000" stroke-width="1.5"/>
</g>
<path d="M48.9 326.2H328.6V549.4H48.9ZM48.9 549.4h-6.5M48.9 538.3h-3.7M48.9 527.1h-6.5M48.9 516.0h-3.7M48.9 504.8h-6.5M48.9 493.6h-3.7M48.9 482.5h-6.5M48.9 471.3h-3.7M48.9 460.1h-6.5M48.9 449.0h-3.7M48.9 437.8h-6.5M48.9 426.7h-3.7M48.9 415.5h-6.5M48.9 404.3h-3.7M48.9 393.2h-6.5M48.9 382.0h-3.7M48.9 370.8h-6.5M48.9 359.7h-3.7M48.9 348.5h-6.5M48.9 337.4h-3.7M48.9 326.2h-6.5M48.9 549.4v6.2M66.3 549.4v3.4M83.8 549.4v6.2M101.3 549.4v3.4M118.8 549.4v6.2M136.3 549.4v3.4M153.8 549.4v6.2M171.2 549.4v3.4M188.7 549.4v6.2M206.2 549.4v3.4M223.7 549.4v6.2M241.2 549.4v3.4M258.7 549.4v6.2M276.2 549.4v3.4M293.6 549.4v6.2M311.1 549.4v3.4M328.6 549.4v6.2" stroke="#000" stroke-width="1.35" fill="none"/>
<g font-size="14" text-anchor="end"><text x="36.3" y="330.9">40</text><text x="36.3" y="353.2">30</text><text x="36.3" y="375.5">20</text><text x="36.3" y="397.9">10</text><text x="36.3" y="420.2">0</text><text x="36.3" y="442.5">-10</text><text x="36.3" y="464.8">-20</text><text x="36.3" y="487.2">-30</text><text x="36.3" y="509.5">-40</text><text x="36.3" y="531.8">-50</text><text x="36.3" y="554.1">-60</text></g>
<g font-size="14" text-anchor="middle"><text x="48.9" y="575.0">0</text><text x="83.8" y="575.0">4</text><text x="118.8" y="575.0">8</text><text x="153.8" y="575.0">12</text><text x="188.7" y="575.0">16</text><text x="223.7" y="575.0">20</text><text x="258.7" y="575.0">24</text><text x="293.6" y="575.0">28</text><text x="328.6" y="575.0">32</text></g>
<text x="189.1" y="595.7" font-size="14.05" text-anchor="middle">Time, sec</text>
<text transform="translate(10.0 437.8) rotate(-90)" font-size="13.7" text-anchor="middle">Displacement, mm</text>
<text x="180.0" y="626.0" font-size="14.1" text-anchor="middle">(c)</text>
</g>
<g id="panel-d">
<path d="M433.5 326.2V549.4M468.5 326.2V549.4M503.5 326.2V549.4M538.5 326.2V549.4M573.5 326.2V549.4M608.5 326.2V549.4M643.5 326.2V549.4" stroke="#000" stroke-opacity="0.115" stroke-width="0.9" fill="none"/>
<path d="M398.5 527.5H678.3M398.5 504.5H678.3M398.5 482.5H678.3M398.5 460.5H678.3M398.5 437.5H678.3M398.5 415.5H678.3M398.5 393.5H678.3M398.5 370.5H678.3M398.5 348.5H678.3" stroke="#000" stroke-opacity="0.105" stroke-width="0.9" fill="none"/>
<g clip-path="url(#cpd)" fill="none" stroke-linejoin="round" stroke-linecap="round">
<path d="M398.5 414.6 398.7 414.6 398.9 414.6 399.0 414.6 399.2 414.6 399.4 414.7 399.6 414.7 399.7 414.7 399.9 414.7 400.1 414.8 400.3 414.8 400.4 414.8 400.6 414.9 400.8 414.9 401.0 414.9 401.1 414.9 401.3 415.0 401.5 415.0 401.7 415.0 401.8 415.0 402.0 415.0 402.2 415.0 402.4 415.1 402.5 415.2 402.7 415.4 402.9 415.4 403.1 415.6 403.2 415.9 403.4 416.2 403.6 416.5 403.8 416.6 403.9 415.8 404.1 414.8 404.3 413.4 404.5 412.0 404.6 410.6 404.8 409.4 405.0 408.5 405.2 407.9 405.3 407.8 405.5 407.8 405.7 407.8 405.9 407.8 406.0 407.8 406.2 408.1 406.4 408.7 406.6 409.5 406.7 410.3 406.9 410.5 407.1 409.8 407.3 409.1 407.4 408.4 407.6 407.9 407.8 407.8 408.0 407.6 408.1 407.4 408.3 407.2 408.5 407.3 408.7 409.3 408.8 413.0 409.0 416.9 409.2 420.5 409.4 418.7 409.5 414.7 409.7 409.7 409.9 403.6 410.0 397.3 410.2 391.1 410.4 385.3 410.6 380.2 410.7 376.1 410.9 373.2 411.1 371.6 411.3 371.4 411.4 371.3 411.6 371.2 411.8 371.1 412.0 371.1 412.1 373.1 412.3 377.1 412.5 383.0 412.7 390.6 412.8 399.7 413.0 409.9 413.2 419.6 413.4 429.8 413.5 440.2 413.7 450.5 413.9 460.5 414.1 469.8 414.2 478.2 414.4 485.3 414.6 491.1 414.8 492.5 414.9 484.6 415.1 474.1 415.3 461.4 415.5 446.9 415.6 431.4 415.8 415.3 416.0 398.0 416.2 380.4 416.3 364.5 416.5 350.9 416.7 340.1 416.9 332.7 417.0 328.8 417.2 328.7 417.4 329.0 417.6 329.3 417.7 329.6 417.9 329.9 418.1 334.5 418.3 343.0 418.4 354.6 418.6 368.2 418.8 382.5 419.0 396.0 419.1 407.6 419.3 415.3 419.5 416.5 419.7 415.1 419.8 413.7 420.0 412.5 420.2 411.7 420.4 411.3 420.5 411.3 420.7 411.3 420.9 411.3 421.1 411.4 421.2 411.4 421.4 412.4 421.6 412.4 421.8 412.5 421.9 412.5 422.1 412.7 422.3 415.5 422.5 419.8 422.6 419.4 422.8 415.6 423.0 411.0 423.2 405.6 423.3 400.5 423.5 396.0 423.7 392.5 423.9 390.3 424.0 389.5 424.2 389.5 424.4 389.6 424.6 389.6 424.7 389.6 424.9 389.2 425.1 388.2 425.3 386.8 425.4 385.1 425.6 383.2 425.8 381.2 426.0 379.2 426.1 377.2 426.3 375.4 426.5 373.9 426.7 372.6 426.8 371.8 427.0 371.4 427.2 371.4 427.4 371.3 427.5 371.2 427.7 371.2 427.9 371.3 428.1 372.9 428.2 376.2 428.4 380.9 428.6 386.8 428.8 393.6 428.9 401.0 429.1 408.5 429.3 415.3 429.5 421.2 429.6 426.2 429.8 430.3 430.0 432.3 430.2 430.0 430.3 427.1 430.5 423.6 430.7 419.6 430.9 415.2 431.0 410.3 431.2 404.6 431.4 398.9 431.6 393.2 431.7 387.8 431.9 382.6 432.1 378.0 432.3 373.9 432.4 370.5 432.6 367.8 432.8 366.0 433.0 365.0 433.1 365.0 433.3 365.1 433.5 365.2 433.7 365.3 433.8 365.6 434.0 367.4 434.2 370.8 434.4 375.5 434.5 380.9 434.7 386.7 434.9 392.1 435.1 396.8 435.2 394.7 435.4 388.6 435.6 381.6 435.8 374.7 435.9 368.5 436.1 364.0 436.3 361.7 436.5 361.8 436.6 361.8 436.8 361.7 437.0 361.7 437.1 361.7 437.3 364.4 437.5 369.7 437.7 377.4 437.8 387.1 438.0 398.3 438.2 410.6 438.4 421.8 438.5 432.5 438.7 442.7 438.9 451.7 439.1 459.2 439.2 464.8 439.4 459.6 439.6 452.4 439.8 443.3 439.9 433.0 440.1 422.1 440.3 410.9 440.5 398.3 440.6 386.4 440.8 375.9 441.0 367.0 441.2 360.3 441.3 356.0 441.5 354.3 441.7 354.0 441.9 353.8 442.0 353.7 442.2 353.5 442.4 354.5 442.6 357.9 442.7 363.4 442.9 370.8 443.1 380.1 443.3 390.8 443.4 402.6 443.6 413.7 443.8 424.7 444.0 435.6 444.1 446.0 444.3 455.7 444.5 464.2 444.7 471.4 444.8 477.0 445.0 480.2 445.2 477.4 445.4 473.8 445.5 469.5 445.7 464.5 445.9 458.9 446.1 452.9 446.2 446.5 446.4 439.8 446.6 433.1 446.8 426.3 446.9 419.7 447.1 413.3 447.3 407.2 447.5 401.6 447.6 395.8 447.8 390.7 448.0 386.6 448.2 383.3 448.3 381.1 448.5 379.9 448.7 379.8 448.9 379.9 449.0 380.1 449.2 380.3 449.4 380.5 449.6 381.8 449.7 384.1 449.9 387.4 450.1 391.5 450.3 396.3 450.4 401.5 450.6 406.5 450.8 411.4 451.0 416.1 451.1 420.4 451.3 424.3 451.5 427.5 451.7 429.9 451.8 429.2 452.0 427.4 452.2 425.1 452.4 422.5 452.5 419.7 452.7 416.8 452.9 414.0 453.1 411.2 453.2 408.8 453.4 406.7 453.6 405.0 453.8 403.7 453.9 403.2 454.1 403.4 454.3 403.3 454.5 403.3 454.6 403.3 454.8 403.3 455.0 404.1 455.2 405.8 455.3 407.9 455.5 410.5 455.7 413.4 455.9 416.5 456.0 419.7 456.2 422.7 456.4 425.5 456.6 427.8 456.7 429.5 456.9 428.3 457.1 426.3 457.3 423.9 457.4 421.1 457.6 418.1 457.8 415.0 458.0 411.8 458.1 408.7 458.3 405.7 458.5 402.7 458.7 400.1 458.8 398.1 459.0 396.7 459.2 396.0 459.4 395.9 459.5 395.9 459.7 395.9 459.9 396.0 460.1 396.1 460.2 397.2 460.4 399.3 460.6 402.2 460.8 405.9 460.9 409.6 461.1 413.4 461.3 417.3 461.5 421.1 461.6 424.5 461.8 427.4 462.0 429.5 462.2 429.2 462.3 427.7 462.5 425.8 462.7 423.5 462.9 421.1 463.0 418.5 463.2 415.9 463.4 413.3 463.6 410.8 463.7 408.6 463.9 406.4 464.1 404.5 464.2 403.1 464.4 402.2 464.6 401.9 464.8 401.9 464.9 402.0 465.1 402.2 465.3 402.3 465.5 402.7 465.6 403.9 465.8 405.9 466.0 408.5 466.2 411.1 466.3 413.7 466.5 416.1 466.7 418.1 466.9 418.3 467.0 417.0 467.2 415.7 467.4 414.8 467.6 414.4 467.7 414.6 467.9 414.7 468.1 414.8 468.3 415.0 468.4 415.2 468.6 415.7 468.8 416.7 469.0 418.0 469.1 419.6 469.3 421.4 469.5 423.3 469.7 425.4 469.8 427.5 470.0 429.5 470.2 431.4 470.4 433.0 470.5 434.4 470.7 434.7 470.9 432.9 471.1 430.5 471.2 427.4 471.4 424.1 471.6 420.5 471.8 417.0 471.9 413.7 472.1 410.3 472.3 407.5 472.5 405.5 472.6 404.4 472.8 404.3 473.0 404.3 473.2 404.4 473.3 404.5 473.5 404.6 473.7 405.2 473.9 407.3 474.0 410.7 474.2 414.9 474.4 419.5 474.6 424.7 474.7 430.1 474.9 435.6 475.1 440.7 475.3 445.4 475.4 449.2 475.6 451.4 475.8 445.5 476.0 437.9 476.1 429.4 476.3 420.6 476.5 412.5 476.7 405.7 476.8 400.2 477.0 397.4 477.2 396.9 477.4 397.0 477.5 397.1 477.7 397.2 477.9 397.3 478.1 398.1 478.2 399.4 478.4 401.1 478.6 403.3 478.8 405.6 478.9 408.1 479.1 410.8 479.3 413.6 479.5 416.4 479.6 419.2 479.8 422.0 480.0 424.6 480.2 426.9 480.3 429.0 480.5 430.7 480.7 431.3 480.9 428.9 481.0 425.7 481.2 421.8 481.4 417.6 481.6 413.4 481.7 409.5 481.9 406.2 482.1 403.4 482.3 401.8 482.4 401.6 482.6 401.7 482.8 401.8 483.0 401.9 483.1 402.0 483.3 402.5 483.5 403.4 483.7 404.7 483.8 406.5 484.0 408.4 484.2 410.3 484.4 412.4 484.5 414.6 484.7 416.7 484.9 418.7 485.1 420.4 485.2 421.9 485.4 423.1 485.6 422.8 485.8 422.2 485.9 421.7 486.1 421.7 486.3 421.8 486.5 421.8 486.6 420.7 486.8 418.8 487.0 416.2 487.2 413.4 487.3 410.5 487.5 407.8 487.7 405.6 487.9 404.3 488.0 404.1 488.2 404.2 488.4 404.3 488.6 404.3 488.7 404.3 488.9 405.4 489.1 407.8 489.3 411.3 489.4 415.4 489.6 420.1 489.8 425.1 490.0 430.1 490.1 434.8 490.3 438.9 490.5 442.1 490.7 442.9 490.8 441.0 491.0 438.7 491.2 436.2 491.4 433.5 491.5 430.9 491.7 428.4 491.9 426.3 492.0 424.7 492.2 423.5 492.4 423.0 492.6 422.9 492.7 422.9 492.9 422.3 493.1 420.9 493.3 419.3 493.4 417.9 493.6 417.2 493.8 417.2 494.0 417.1 494.1 417.0 494.3 417.0 494.5 417.1 494.7 417.5 494.8 418.2 495.0 419.2 495.2 420.4 495.4 421.9 495.5 423.6 495.7 425.4 495.9 427.3 496.1 429.4 496.2 431.5 496.4 433.5 496.6 435.6 496.8 437.5 496.9 439.4 497.1 441.0 497.3 442.5 497.5 443.7 497.6 444.6 497.8 442.1 498.0 438.1 498.2 432.9 498.3 426.5 498.5 419.2 498.7 411.3 498.9 401.9 499.0 392.1 499.2 382.3 499.4 373.1 499.6 364.6 499.7 357.2 499.9 351.1 500.1 346.4 500.3 343.4 500.4 342.1 500.6 342.2 500.8 342.3 501.0 342.3 501.1 342.4 501.3 342.9 501.5 345.5 501.7 350.0 501.8 356.5 502.0 364.7 502.2 374.3 502.4 385.1 502.5 396.7 502.7 408.7 502.9 419.2 503.1 429.3 503.2 438.9 503.4 447.7 503.6 455.3 503.8 461.6 503.9 466.4 504.1 464.7 504.3 459.6 504.5 453.3 504.6 446.1 504.8 438.4 505.0 430.3 505.2 422.4 505.3 414.8 505.5 408.1 505.7 401.5 505.9 396.3 506.0 392.9 506.2 391.3 506.4 391.2 506.6 391.1 506.7 391.0 506.9 390.9 507.1 391.3 507.3 393.2 507.4 396.4 507.6 400.7 507.8 406.0 508.0 411.2 508.1 416.6 508.3 422.0 508.5 427.0 508.7 431.6 508.8 435.3 509.0 437.0 509.2 434.0 509.4 430.2 509.5 425.6 509.7 420.4 509.9 415.0 510.1 409.5 510.2 403.5 510.4 397.8 510.6 392.8 510.8 388.8 510.9 385.9 511.1 384.3 511.3 384.0 511.5 384.1 511.6 384.2 511.8 384.3 512.0 384.3 512.2 385.3 512.3 387.2 512.5 390.2 512.7 394.0 512.9 398.5 513.0 403.6 513.2 408.9 513.4 413.6 513.6 418.0 513.7 422.2 513.9 425.8 514.1 428.7 514.3 430.8 514.4 430.2 514.6 428.8 514.8 427.1 515.0 425.1 515.1 422.9 515.3 420.4 515.5 417.8 515.7 415.2 515.8 412.5 516.0 409.8 516.2 406.9 516.4 404.1 516.5 401.5 516.7 399.1 516.9 397.1 517.1 395.5 517.2 394.3 517.4 393.5 517.6 393.1 517.8 393.1 517.9 393.1 518.1 393.1 518.3 393.1 518.5 393.6 518.6 395.3 518.8 398.4 519.0 402.5 519.1 407.5 519.3 412.6 519.5 417.7 519.7 422.9 519.8 427.7 520.0 432.0 520.2 435.6 520.4 435.5 520.5 430.9 520.7 425.1 520.9 418.4 521.1 411.1 521.2 402.5 521.4 394.2 521.6 386.9 521.8 380.8 521.9 376.3 522.1 373.8 522.3 373.4 522.5 373.5 522.6 373.6 522.8 373.7 523.0 373.8 523.2 374.4 523.3 376.1 523.5 378.8 523.7 382.4 523.9 386.8 524.0 391.8 524.2 397.2 524.4 402.9 524.6 408.8 524.7 413.9 524.9 418.6 525.1 422.8 525.3 426.5 525.4 429.6 525.6 431.9 525.8 431.9 526.0 429.9 526.1 427.6 526.3 424.8 526.5 421.8 526.7 418.6 526.8 415.4 527.0 412.2 527.2 409.2 527.4 406.1 527.5 403.3 527.7 401.1 527.9 399.5 528.1 398.5 528.2 398.2 528.4 398.1 528.6 398.0 528.8 397.8 528.9 398.0 529.1 398.6 529.3 399.7 529.5 401.4 529.6 403.5 529.8 406.0 530.0 408.7 530.2 411.3 530.3 413.9 530.5 416.4 530.7 418.8 530.9 420.9 531.0 422.8 531.2 424.0 531.4 422.1 531.6 419.4 531.7 416.1 531.9 412.4 532.1 408.1 532.3 403.5 532.4 399.1 532.6 395.2 532.8 392.1 533.0 389.9 533.1 388.6 533.3 388.5 533.5 388.7 533.7 388.9 533.8 389.0 534.0 389.2 534.2 389.9 534.4 391.7 534.5 394.6 534.7 398.5 534.9 403.1 535.1 408.2 535.2 413.2 535.4 417.8 535.6 422.2 535.8 426.2 535.9 429.5 536.1 432.1 536.3 431.5 536.5 428.5 536.6 424.8 536.8 420.7 537.0 416.4 537.2 412.1 537.3 408.0 537.5 403.9 537.7 400.6 537.9 398.2 538.0 396.8 538.2 396.5 538.4 396.3 538.6 396.2 538.7 396.0 538.9 395.9 539.1 396.1 539.3 396.7 539.4 397.7 539.6 399.0 539.8 400.5 540.0 402.2 540.1 404.1 540.3 405.8 540.5 407.3 540.7 408.8 540.8 410.1 541.0 411.2 541.2 412.0 541.4 412.6 541.5 412.4 541.7 411.9 541.9 411.4 542.1 410.9 542.2 410.4 542.4 410.0 542.6 409.7 542.8 409.4 542.9 409.3 543.1 409.1 543.3 409.0 543.5 408.6 543.6 407.4 543.8 405.5 544.0 403.2 544.2 400.4 544.3 397.4 544.5 394.7 544.7 392.6 544.9 391.1 545.0 390.5 545.2 390.4 545.4 390.2 545.6 390.4 545.7 390.7 545.9 391.3 546.1 392.9 546.2 395.3 546.4 398.4 546.6 402.1 546.8 405.7 546.9 409.6 547.1 413.5 547.3 417.4 547.5 421.0 547.6 424.2 547.8 426.9 548.0 429.0 548.2 429.3 548.3 428.4 548.5 427.2 548.7 425.7 548.9 424.0 549.0 422.1 549.2 420.0 549.4 417.8 549.6 415.5 549.7 413.2 549.9 411.0 550.1 408.7 550.3 406.6 550.4 404.2 550.6 402.1 550.8 400.2 551.0 398.6 551.1 397.3 551.3 396.4 551.5 395.8 551.7 395.6 551.8 395.8 552.0 396.1 552.2 396.1 552.4 396.1 552.5 396.1 552.7 397.0 552.9 398.9 553.1 401.5 553.2 404.8 553.4 408.4 553.6 411.7 553.8 414.8 553.9 417.6 554.1 419.8 554.3 421.3 554.5 420.2 554.6 418.9 554.8 417.4 555.0 415.8 555.2 414.2 555.3 412.6 555.5 411.2 555.7 410.0 555.9 409.1 556.0 408.5 556.2 408.3 556.4 408.2 556.6 408.1 556.7 408.1 556.9 408.0 557.1 408.1 557.3 408.6 557.4 409.2 557.6 410.1 557.8 411.1 558.0 412.0 558.1 412.9 558.3 413.2 558.5 412.0 558.7 410.5 558.8 408.7 559.0 406.8 559.2 404.6 559.4 402.7 559.5 401.1 559.7 399.9 559.9 399.3 560.1 399.2 560.2 399.1 560.4 399.1 560.6 399.0 560.8 398.9 560.9 399.6 561.1 401.0 561.3 403.1 561.5 405.7 561.6 408.3 561.8 411.2 562.0 414.1 562.2 416.9 562.3 419.5 562.5 421.8 562.7 423.5 562.9 424.1 563.0 422.6 563.2 420.9 563.4 418.8 563.6 416.6 563.7 414.3 563.9 412.0 564.1 409.7 564.3 407.7 564.4 405.9 564.6 404.5 564.8 403.5 565.0 402.8 565.1 402.7 565.3 402.6 565.5 402.6 565.7 402.7 565.8 402.9 566.0 403.7 566.2 405.1 566.4 406.9 566.5 409.1 566.7 411.5 566.9 414.0 567.1 416.4 567.2 418.6 567.4 420.4 567.6 420.8 567.8 419.6 567.9 417.9 568.1 416.0 568.3 413.9 568.5 411.7 568.6 409.4 568.8 407.3 569.0 405.2 569.2 403.2 569.3 401.8 569.5 400.8 569.7 400.3 569.9 400.5 570.0 400.6 570.2 400.7 570.4 400.8 570.6 400.9 570.7 402.0 570.9 404.2 571.1 407.2 571.3 410.5 571.4 414.3 571.6 418.2 571.8 422.3 572.0 426.1 572.1 429.6 572.3 432.6 572.5 434.5 572.7 431.9 572.8 428.5 573.0 424.3 573.2 419.5 573.4 414.5 573.5 409.3 573.7 403.5 573.9 398.0 574.0 393.1 574.2 389.0 574.4 386.0 574.6 384.2 574.7 383.6 574.9 383.7 575.1 383.7 575.3 383.7 575.4 383.6 575.6 384.3 575.8 386.3 576.0 389.4 576.1 393.6 576.3 398.5 576.5 404.0 576.7 409.4 576.8 414.1 577.0 418.3 577.2 421.9 577.4 424.6 577.5 423.3 577.7 420.7 577.9 417.7 578.1 414.3 578.2 410.7 578.4 407.0 578.6 403.2 578.8 399.9 578.9 397.2 579.1 395.3 579.3 394.3 579.5 394.3 579.6 394.3 579.8 394.3 580.0 394.2 580.2 394.3 580.3 396.1 580.5 399.6 580.7 404.4 580.9 409.7 581.0 414.8 581.2 419.6 581.4 423.7 581.6 426.2 581.7 424.1 581.9 421.4 582.1 418.3 582.3 414.9 582.4 411.3 582.6 407.6 582.8 403.5 583.0 399.7 583.1 396.3 583.3 393.5 583.5 391.4 583.7 390.2 583.8 389.7 584.0 389.7 584.2 389.6 584.4 389.5 584.5 389.3 584.7 389.8 584.9 391.5 585.1 394.5 585.2 398.5 585.4 403.4 585.6 408.3 585.8 413.1 585.9 417.7 586.1 422.1 586.3 425.9 586.5 428.9 586.6 430.0 586.8 427.8 587.0 425.1 587.2 422.1 587.3 418.9 587.5 415.6 587.7 412.4 587.9 409.6 588.0 407.1 588.2 405.2 588.4 403.6 588.6 402.7 588.7 402.2 588.9 401.6 589.1 401.1 589.3 400.5 589.4 400.7 589.6 402.0 589.8 404.0 590.0 406.0 590.1 405.3 590.3 402.9 590.5 400.3 590.7 397.8 590.8 395.6 591.0 393.7 591.2 392.3 591.4 392.1 591.5 392.3 591.7 392.5 591.9 392.7 592.1 392.8 592.2 393.6 592.4 394.8 592.6 396.2 592.8 397.9 592.9 399.5 593.1 401.1 593.3 402.3 593.5 402.8 593.6 402.6 593.8 402.2 594.0 401.8 594.2 401.4 594.3 401.1 594.5 400.8 594.7 400.6 594.9 400.6 595.0 400.7 595.2 400.8 595.4 401.0 595.6 401.2 595.7 401.4 595.9 402.0 596.1 403.2 596.3 405.0 596.4 407.2 596.6 409.6 596.8 412.0 597.0 414.2 597.1 415.1 597.3 412.7 597.5 409.6 597.7 406.1 597.8 402.6 598.0 399.3 598.2 396.5 598.4 394.7 598.5 394.2 598.7 394.4 598.9 394.3 599.1 394.1 599.2 394.0 599.4 394.5 599.6 396.1 599.8 398.7 599.9 402.0 600.1 405.4 600.3 409.0 600.5 412.5 600.6 415.7 600.8 418.3 601.0 419.0 601.1 416.9 601.3 414.3 601.5 411.4 601.7 408.4 601.8 405.5 602.0 402.9 602.2 400.8 602.4 399.2 602.5 398.3 602.7 398.2 602.9 398.0 603.1 397.9 603.2 398.2 603.4 398.5 603.6 399.3 603.8 400.7 603.9 402.4 604.1 404.4 604.3 406.7 604.5 408.9 604.6 411.1 604.8 413.0 605.0 414.5 605.2 413.8 605.3 412.5 605.5 411.0 605.7 409.3 605.9 407.5 606.0 405.8 606.2 404.2 606.4 402.9 606.6 401.8 606.7 401.2 606.9 401.2 607.1 401.5 607.3 401.8 607.4 402.1 607.6 401.8 607.8 401.9 608.0 402.4 608.1 403.4 608.3 404.8 608.5 406.3 608.7 408.0 608.8 410.0 609.0 412.0 609.2 414.0 609.4 415.9 609.5 417.7 609.7 419.2 609.9 420.4 610.1 420.4 610.2 418.3 610.4 415.5 610.6 412.4 610.8 409.1 610.9 405.9 611.1 402.9 611.3 400.4 611.5 398.3 611.6 397.2 611.8 396.9 612.0 396.7 612.2 396.6 612.3 396.4 612.5 396.2 612.7 396.8 612.9 397.9 613.0 399.3 613.2 400.6 613.4 400.8 613.6 399.4 613.7 397.7 613.9 395.7 614.1 393.8 614.3 392.2 614.4 391.0 614.6 390.2 614.8 390.1 615.0 389.9 615.1 390.0 615.3 390.4 615.5 390.9 615.7 392.8 615.8 396.0 616.0 400.2 616.2 404.9 616.4 410.1 616.5 415.4 616.7 420.6 616.9 425.3 617.1 429.2 617.2 429.1 617.4 425.5 617.6 421.0 617.8 415.7 617.9 410.0 618.1 404.3 618.3 397.9 618.5 392.1 618.6 387.3 618.8 383.7 619.0 381.6 619.2 381.2 619.3 381.6 619.5 382.0 619.7 381.7 619.9 381.4 620.0 382.2 620.2 385.0 620.4 389.5 620.6 395.5 620.7 402.3 620.9 408.6 621.1 414.4 621.3 419.5 621.4 423.2 621.6 418.6 621.8 412.9 622.0 406.5 622.1 399.5 622.3 392.3 622.5 386.3 622.7 381.9 622.8 379.4 623.0 379.1 623.2 378.8 623.4 378.7 623.5 378.8 623.7 378.9 623.9 380.3 624.1 383.1 624.2 387.0 624.4 391.8 624.6 397.1 624.8 402.4 624.9 407.0 625.1 411.1 625.3 414.4 625.5 413.9 625.6 410.3 625.8 405.8 626.0 400.7 626.2 394.9 626.3 389.3 626.5 384.5 626.7 380.8 626.9 378.5 627.0 377.8 627.2 377.9 627.4 377.9 627.6 378.0 627.7 378.1 627.9 379.2 628.1 382.4 628.2 387.4 628.4 394.0 628.6 401.9 628.8 409.5 628.9 417.2 629.1 424.9 629.3 432.1 629.5 438.3 629.6 443.3 629.8 445.8 630.0 443.0 630.2 439.4 630.3 435.1 630.5 430.3 630.7 425.2 630.9 420.0 631.0 414.8 631.2 409.9 631.4 405.3 631.6 400.9 631.7 397.1 631.9 394.4 632.1 392.7 632.3 392.2 632.4 392.3 632.6 392.4 632.8 392.3 633.0 392.2 633.1 392.7 633.3 394.3 633.5 396.9 633.7 400.4 633.8 404.5 634.0 408.4 634.2 412.5 634.4 416.6 634.5 420.3 634.7 420.3 634.9 419.7 635.1 419.0 635.2 417.5 635.4 415.3 635.6 413.9 635.8 412.2 635.9 411.3 636.1 409.9 636.3 408.8 636.5 408.5 636.6 408.0 636.8 407.6 637.0 407.5 637.2 407.4 637.3 407.4 637.5 407.4 637.7 407.4 637.9 407.4 638.0 407.4 638.2 407.6 638.4 407.7 638.6 407.9 638.7 408.0 638.9 408.1 639.1 408.2 639.3 408.2 639.4 408.3 639.6 408.4 639.8 408.5 640.0 408.6 640.1 408.6 640.3 408.7 640.5 408.8 640.7 408.9 640.8 409.0 641.0 409.0 641.2 409.1 641.4 409.2 641.5 409.3 641.7 409.3 641.9 409.2 642.1 409.2 642.2 409.2 642.4 409.2 642.6 409.2 642.8 409.2 642.9 409.3 643.1 409.3 643.3 409.3 643.5 409.3 643.6 409.4 643.8 409.4 644.0 409.5 644.2 409.5 644.3 409.6 644.5 409.8 644.7 409.9 644.9 410.1 645.0 410.2 645.2 410.4 645.4 410.5 645.6 410.7 645.7 410.8 645.9 411.0 646.1 411.1 646.3 411.3 646.4 411.4 646.6 411.5 646.8 411.6 647.0 411.6 647.1 411.5 647.3 411.4 647.5 411.2 647.7 411.1 647.8 410.9 648.0 410.7 648.2 410.4 648.4 410.2 648.5 409.9 648.7 409.6 648.9 409.4 649.1 409.1 649.2 408.8 649.4 408.6 649.6 408.3 649.8 408.0 649.9 407.8 650.1 407.5 650.3 407.2 650.5 406.9 650.6 406.7 650.8 406.5 651.0 406.3 651.2 406.3 651.3 406.3 651.5 406.2 651.7 406.2 651.9 406.1 652.0 406.1 652.2 406.0 652.4 406.0 652.6 405.9 652.7 405.9 652.9 405.8 653.1 405.7 653.3 405.7 653.4 405.6 653.6 405.6 653.8 405.5 654.0 405.4 654.1 405.4 654.3 405.3 654.5 405.3 654.7 405.2 654.8 405.2 655.0 405.1 655.2 405.0 655.3 405.0 655.5 405.0 655.7 405.0 655.9 405.0 656.0 405.1 656.2 405.1 656.4 405.1 656.6 405.1 656.7 405.2 656.9 405.2 657.1 405.3 657.3 405.4 657.4 405.6 657.6 405.9 657.8 406.1 658.0 406.4 658.1 406.6 658.3 406.9 658.5 407.1 658.7 407.4 658.8 407.7 659.0 407.9 659.2 408.2 659.4 408.4 659.5 408.7 659.7 408.9 659.9 409.2 660.1 409.4 660.2 409.7 660.4 409.9 660.6 410.2 660.8 410.4 660.9 410.6 661.1 410.8 661.3 411.0 661.5 411.1 661.6 411.1 661.8 411.1 662.0 411.1 662.2 411.2 662.3 411.3 662.5 411.4 662.7 411.5 662.9 411.6 663.0 411.7 663.2 411.8 663.4 411.9 663.6 412.0 663.7 412.1 663.9 412.2 664.1 412.3 664.3 412.4 664.4 412.4 664.6 412.5 664.8 412.6 665.0 412.7 665.1 412.8 665.3 412.9 665.5 413.0 665.7 413.1 665.8 413.2 666.0 413.3 666.2 413.4 666.4 413.5 666.5 413.6 666.7 413.6 666.9 413.7 667.1 413.8 667.2 413.9 667.4 414.0 667.6 414.0 667.8 414.1 667.9 414.1 668.1 414.1 668.3 414.1 668.5 414.2 668.6 414.2 668.8 414.2 669.0 414.3 669.2 414.3 669.3 414.4 669.5 414.4L669.5 432.4 669.3 432.4 669.2 432.4 669.0 432.4 668.8 432.4 668.6 432.4 668.5 432.5 668.3 432.5 668.1 432.6 667.9 432.6 667.8 432.7 667.6 432.7 667.4 432.8 667.2 432.8 667.1 432.9 666.9 432.9 666.7 433.0 666.5 433.0 666.4 433.1 666.2 433.1 666.0 433.2 665.8 433.3 665.7 433.3 665.5 433.4 665.3 433.4 665.1 433.5 665.0 433.5 664.8 433.6 664.6 433.6 664.4 433.7 664.3 433.7 664.1 433.7 663.9 433.8 663.7 434.0 663.6 434.1 663.4 434.3 663.2 434.4 663.0 434.6 662.9 434.8 662.7 434.9 662.5 435.1 662.3 435.2 662.2 435.4 662.0 435.6 661.8 435.7 661.6 435.9 661.5 436.1 661.3 436.3 661.1 436.4 660.9 436.6 660.8 436.8 660.6 437.0 660.4 437.1 660.2 437.3 660.1 437.5 659.9 437.6 659.7 437.7 659.5 437.7 659.4 437.8 659.2 437.8 659.0 437.8 658.8 437.8 658.7 438.0 658.5 438.2 658.3 438.5 658.1 438.9 658.0 439.2 657.8 439.5 657.6 439.8 657.4 440.1 657.3 440.4 657.1 440.7 656.9 441.1 656.7 441.4 656.6 441.7 656.4 442.0 656.2 442.3 656.0 442.6 655.9 442.9 655.7 443.3 655.5 443.6 655.3 443.9 655.2 444.2 655.0 444.5 654.8 444.8 654.7 444.9 654.5 445.0 654.3 445.0 654.1 445.0 654.0 445.0 653.8 445.0 653.6 445.0 653.4 445.0 653.3 445.0 653.1 445.0 652.9 444.8 652.7 444.6 652.6 444.4 652.4 444.2 652.2 444.0 652.0 443.8 651.9 443.6 651.7 443.4 651.5 443.2 651.3 442.9 651.2 442.7 651.0 442.5 650.8 442.3 650.6 442.1 650.5 441.9 650.3 441.7 650.1 441.5 649.9 441.3 649.8 441.0 649.6 440.8 649.4 440.6 649.2 440.4 649.1 440.2 648.9 440.1 648.7 440.0 648.5 439.9 648.4 439.7 648.2 439.4 648.0 439.1 647.8 438.8 647.7 438.6 647.5 438.3 647.3 438.0 647.1 437.7 647.0 437.4 646.8 437.1 646.6 436.8 646.4 436.5 646.3 436.2 646.1 435.8 645.9 435.5 645.7 435.2 645.6 434.9 645.4 434.6 645.2 434.3 645.0 434.2 644.9 434.2 644.7 434.3 644.5 434.6 644.3 435.0 644.2 435.5 644.0 436.0 643.8 436.6 643.6 437.1 643.5 437.7 643.3 438.3 643.1 438.9 642.9 439.5 642.8 440.1 642.6 440.7 642.4 441.3 642.2 441.9 642.1 442.5 641.9 443.1 641.7 443.7 641.5 444.3 641.4 444.7 641.2 445.1 641.0 445.4 640.8 445.7 640.7 445.9 640.5 446.0 640.3 446.1 640.1 446.2 640.0 446.3 639.8 446.3 639.6 446.4 639.4 446.4 639.3 446.4 639.1 446.3 638.9 446.3 638.7 446.2 638.6 446.2 638.4 446.3 638.2 446.3 638.0 446.3 637.9 446.5 637.7 446.6 637.5 446.7 637.3 446.9 637.2 447.1 637.0 447.2 636.8 447.4 636.6 447.7 636.5 447.9 636.3 448.4 636.1 448.9 635.9 449.4 635.8 449.9 635.6 450.1 635.4 450.2 635.2 450.3 635.1 450.3 634.9 450.2 634.7 450.5 634.5 450.6 634.4 449.5 634.2 447.3 634.0 444.1 633.8 440.1 633.7 435.6 633.5 430.6 633.3 425.6 633.1 420.9 633.0 417.3 632.8 414.4 632.6 412.3 632.4 414.8 632.3 418.2 632.1 422.6 631.9 428.3 631.7 434.6 631.6 441.2 631.4 447.8 631.2 454.2 631.0 460.2 630.9 465.6 630.7 470.2 630.5 473.9 630.3 476.4 630.2 477.7 630.0 477.8 629.8 477.9 629.6 478.0 629.5 478.0 629.3 478.0 629.1 475.9 628.9 471.7 628.8 465.7 628.6 458.2 628.4 449.6 628.2 440.4 628.1 431.0 627.9 422.2 627.7 415.6 627.6 410.1 627.4 405.9 627.2 408.4 627.0 412.6 626.9 417.5 626.7 422.6 626.5 428.6 626.3 434.2 626.2 438.8 626.0 442.1 625.8 443.8 625.6 443.9 625.5 444.0 625.3 444.0 625.1 444.1 624.9 444.1 624.8 442.7 624.6 439.9 624.4 435.9 624.2 431.1 624.1 425.6 623.9 420.8 623.7 416.3 623.5 412.3 623.4 409.1 623.2 411.1 623.0 416.1 622.8 422.1 622.7 429.3 622.5 436.8 622.3 443.6 622.1 448.9 622.0 452.3 621.8 453.5 621.6 453.5 621.4 453.6 621.3 453.6 621.1 453.7 620.9 452.6 620.7 449.4 620.6 444.4 620.4 438.0 620.2 430.6 620.0 423.3 619.9 417.3 619.7 412.1 619.5 408.0 619.3 410.7 619.2 415.2 619.0 420.6 618.8 426.8 618.6 434.3 618.5 441.8 618.3 448.7 618.1 454.8 617.9 459.7 617.8 463.1 617.6 464.9 617.4 465.0 617.2 465.0 617.1 465.1 616.9 464.9 616.7 464.8 616.5 463.0 616.4 459.8 616.2 455.4 616.0 450.0 615.8 444.0 615.7 437.7 615.5 431.7 615.3 426.3 615.1 422.3 615.0 419.7 614.8 420.7 614.6 422.0 614.4 423.4 614.3 425.0 614.1 426.4 613.9 427.3 613.7 427.7 613.6 427.6 613.4 427.4 613.2 427.3 613.0 427.1 612.9 426.9 612.7 426.0 612.5 424.4 612.3 422.5 612.2 420.7 612.0 421.2 611.8 423.8 611.6 427.0 611.5 430.5 611.3 434.1 611.1 437.5 610.9 440.5 610.8 442.7 610.6 444.0 610.4 444.4 610.2 444.2 610.1 444.1 609.9 444.1 609.7 444.0 609.5 443.8 609.4 443.0 609.2 441.7 609.0 439.9 608.8 437.8 608.7 435.4 608.5 432.8 608.3 430.0 608.1 427.3 608.0 424.7 607.8 422.3 607.6 420.1 607.4 418.6 607.3 417.6 607.1 418.8 606.9 420.5 606.7 422.7 606.6 425.1 606.4 427.6 606.2 430.0 606.0 432.2 605.9 434.1 605.7 435.5 605.5 436.4 605.3 436.7 605.2 436.7 605.0 436.7 604.8 436.6 604.6 436.6 604.5 436.3 604.3 435.3 604.1 433.8 603.9 431.8 603.8 429.4 603.6 427.0 603.4 424.6 603.2 422.4 603.1 420.6 602.9 421.4 602.7 423.8 602.5 426.9 602.4 430.2 602.2 433.7 602.0 437.1 601.8 440.1 601.7 442.5 601.5 444.3 601.3 445.2 601.1 445.2 601.0 445.2 600.8 445.1 600.6 445.1 600.5 445.1 600.3 443.8 600.1 441.4 599.9 438.1 599.8 434.0 599.6 429.5 599.4 424.9 599.2 420.6 599.1 417.2 598.9 415.1 598.7 417.7 598.5 421.5 598.4 426.0 598.2 430.4 598.0 434.5 597.8 437.7 597.7 439.7 597.5 440.4 597.3 440.4 597.1 440.4 597.0 440.4 596.8 440.4 596.6 439.9 596.4 438.7 596.3 436.7 596.1 434.2 595.9 431.5 595.7 428.7 595.6 426.3 595.4 424.3 595.2 423.4 595.0 423.9 594.9 424.6 594.7 425.3 594.5 426.0 594.3 426.6 594.2 427.1 594.0 427.6 593.8 427.8 593.6 427.9 593.5 427.9 593.3 427.9 593.1 427.9 592.9 427.9 592.8 427.6 592.6 426.7 592.4 425.3 592.2 423.7 592.1 421.8 591.9 420.1 591.7 418.5 591.5 419.2 591.4 421.2 591.2 423.6 591.0 426.0 590.8 428.3 590.7 430.1 590.5 431.3 590.3 431.6 590.1 431.6 590.0 431.6 589.8 431.6 589.6 431.6 589.4 430.8 589.3 428.5 589.1 425.3 588.9 422.2 588.7 422.9 588.6 425.6 588.4 428.9 588.2 432.5 588.0 436.3 587.9 440.0 587.7 443.5 587.5 446.5 587.3 448.9 587.2 450.6 587.0 451.5 586.8 451.5 586.6 451.5 586.5 451.5 586.3 451.5 586.1 451.4 585.9 450.0 585.8 447.4 585.6 443.5 585.4 438.7 585.2 433.1 585.1 427.2 584.9 421.2 584.7 415.9 584.5 411.7 584.4 408.1 584.2 405.4 584.0 406.3 583.8 408.7 583.7 411.6 583.5 414.9 583.3 418.4 583.1 422.8 583.0 427.2 582.8 431.3 582.6 435.1 582.4 438.3 582.3 440.9 582.1 442.6 581.9 443.5 581.7 443.6 581.6 443.6 581.4 443.6 581.2 443.6 581.0 443.5 580.9 441.6 580.7 437.9 580.5 432.9 580.3 427.0 580.2 420.8 580.0 415.6 579.8 411.5 579.6 409.3 579.5 411.5 579.3 414.4 579.1 417.6 578.9 421.6 578.8 425.9 578.6 430.1 578.4 433.8 578.2 437.0 578.1 439.3 577.9 440.8 577.7 441.4 577.5 441.4 577.4 441.4 577.2 441.4 577.0 441.4 576.8 440.7 576.7 438.7 576.5 435.3 576.3 430.9 576.1 425.7 576.0 420.0 575.8 415.1 575.6 410.4 575.4 406.2 575.3 402.6 575.1 399.8 574.9 402.4 574.7 405.9 574.6 410.1 574.4 414.9 574.2 420.2 574.0 426.6 573.9 432.9 573.7 438.7 573.5 443.9 573.4 448.2 573.2 451.4 573.0 453.4 572.8 454.1 572.7 454.1 572.5 454.1 572.3 454.2 572.1 454.2 572.0 453.6 571.8 452.0 571.6 449.3 571.4 445.8 571.3 441.6 571.1 437.0 570.9 432.1 570.7 427.4 570.6 422.9 570.4 419.2 570.2 416.6 570.0 415.4 569.9 416.8 569.7 418.6 569.5 420.9 569.3 423.7 569.2 426.6 569.0 429.5 568.8 432.3 568.6 434.9 568.5 437.1 568.3 438.8 568.1 440.1 567.9 440.7 567.8 440.7 567.6 440.7 567.4 440.8 567.2 440.8 567.1 440.8 566.9 440.1 566.7 438.7 566.5 436.7 566.4 434.2 566.2 431.5 566.0 428.7 565.8 426.0 565.7 423.5 565.5 421.5 565.3 421.0 565.1 422.7 565.0 424.7 564.8 427.1 564.6 429.8 564.4 432.5 564.3 435.3 564.1 437.9 563.9 440.3 563.7 442.4 563.6 444.0 563.4 445.2 563.2 445.8 563.0 445.8 562.9 445.8 562.7 446.0 562.5 446.2 562.3 446.3 562.2 445.7 562.0 444.2 561.8 442.1 561.6 439.4 561.5 436.3 561.3 432.9 561.1 429.4 560.9 426.0 560.8 422.9 560.6 420.7 560.4 419.0 560.2 418.7 560.1 420.2 559.9 422.0 559.7 424.0 559.5 426.4 559.4 428.6 559.2 430.6 559.0 432.2 558.8 433.3 558.7 433.8 558.5 433.9 558.3 434.1 558.1 434.3 558.0 434.4 557.8 434.4 557.6 434.0 557.4 433.3 557.3 432.3 557.1 431.2 556.9 430.2 556.7 429.2 556.6 428.6 556.4 429.8 556.2 431.3 556.0 433.2 555.9 435.2 555.7 437.2 555.5 439.3 555.3 441.2 555.2 442.9 555.0 444.3 554.8 445.3 554.6 446.0 554.5 446.1 554.3 446.3 554.1 446.5 553.9 446.6 553.8 446.7 553.6 445.9 553.4 444.1 553.2 441.4 553.1 438.1 552.9 434.4 552.7 430.6 552.5 427.6 552.4 425.0 552.2 422.8 552.0 421.5 551.8 422.6 551.7 424.1 551.5 425.8 551.3 427.8 551.1 430.0 551.0 432.4 550.8 435.5 550.6 438.6 550.4 441.9 550.3 445.1 550.1 448.4 549.9 451.5 549.7 454.5 549.6 457.2 549.4 459.8 549.2 462.0 549.0 463.9 548.9 465.5 548.7 466.7 548.5 467.5 548.3 467.9 548.2 468.1 548.0 468.2 547.8 468.3 547.6 468.4 547.5 468.0 547.3 466.7 547.1 464.5 546.9 461.6 546.8 458.0 546.6 453.9 546.4 449.6 546.2 445.1 546.1 440.8 545.9 436.7 545.7 433.8 545.6 431.4 545.4 429.6 545.2 431.4 545.0 433.7 544.9 436.2 544.7 439.0 544.5 441.8 544.3 444.0 544.2 445.4 544.0 446.0 543.8 446.1 543.6 446.2 543.5 446.3 543.3 446.3 543.1 446.6 542.9 447.0 542.8 447.4 542.6 447.4 542.4 447.4 542.2 447.3 542.1 447.2 541.9 447.0 541.7 446.7 541.5 446.2 541.4 445.8 541.2 445.3 541.0 444.9 540.8 444.4 540.7 443.5 540.5 442.2 540.3 440.5 540.1 438.6 540.0 436.4 539.8 434.0 539.6 431.4 539.4 429.1 539.3 426.9 539.1 424.9 538.9 423.0 538.7 421.3 538.6 419.9 538.4 421.3 538.2 423.5 538.0 426.4 537.9 430.6 537.7 435.1 537.5 439.7 537.3 443.9 537.2 447.7 537.0 450.7 536.8 452.7 536.6 453.6 536.5 453.3 536.3 453.6 536.1 454.0 535.9 454.3 535.8 454.7 535.6 453.9 535.4 451.9 535.2 448.8 535.1 444.8 534.9 439.9 534.7 434.6 534.5 429.1 534.4 424.1 534.2 419.8 534.0 416.0 533.8 412.9 533.7 410.5 533.5 411.8 533.3 415.0 533.1 418.8 533.0 423.0 532.8 427.4 532.6 432.3 532.4 437.4 532.3 441.9 532.1 445.7 531.9 448.6 531.7 450.4 531.6 450.9 531.4 450.8 531.2 450.7 531.0 450.7 530.9 450.6 530.7 450.1 530.5 449.0 530.3 447.4 530.2 445.3 530.0 442.8 529.8 440.0 529.6 437.1 529.5 434.0 529.3 431.1 529.1 428.8 528.9 426.8 528.8 425.0 528.6 423.7 528.4 424.6 528.2 426.3 528.1 428.5 527.9 431.2 527.7 434.6 527.5 438.3 527.4 442.1 527.2 445.7 527.0 449.2 526.8 452.3 526.7 455.0 526.5 457.2 526.3 458.7 526.1 459.5 526.0 459.7 525.8 459.6 525.6 459.6 525.4 459.6 525.3 459.6 525.1 458.7 524.9 456.8 524.7 453.8 524.6 449.9 524.4 445.2 524.2 439.8 524.0 433.9 523.9 428.1 523.7 423.0 523.5 418.0 523.3 413.2 523.2 408.8 523.0 404.9 522.8 401.7 522.6 399.7 522.5 403.6 522.3 408.9 522.1 415.3 521.9 422.4 521.8 430.0 521.6 439.0 521.4 447.4 521.2 454.6 521.1 460.2 520.9 464.0 520.7 465.7 520.5 465.7 520.4 465.8 520.2 465.9 520.0 465.9 519.8 465.7 519.7 464.0 519.5 461.0 519.3 456.8 519.1 451.7 519.0 446.0 518.8 440.0 518.6 433.9 518.5 428.6 518.3 424.4 518.1 421.1 517.9 418.6 517.8 418.9 517.6 420.4 517.4 422.2 517.2 424.2 517.1 426.6 516.9 429.1 516.7 431.9 516.5 435.2 516.4 438.5 516.2 441.8 516.0 445.0 515.8 448.1 515.7 450.9 515.5 453.4 515.3 455.6 515.1 457.3 515.0 458.7 514.8 459.6 514.6 460.0 514.4 459.8 514.3 459.6 514.1 459.4 513.9 459.2 513.7 458.7 513.6 457.0 513.4 454.2 513.2 450.5 513.0 445.9 512.9 440.6 512.7 434.9 512.5 429.1 512.3 424.3 512.2 419.8 512.0 415.7 511.8 412.2 511.6 409.5 511.5 411.2 511.3 414.5 511.1 418.6 510.9 423.4 510.8 428.9 510.6 435.5 510.4 442.0 510.2 448.2 510.1 453.7 509.9 458.3 509.7 461.9 509.5 464.1 509.4 465.0 509.2 464.8 509.0 464.6 508.8 464.4 508.7 464.2 508.5 463.6 508.3 461.5 508.1 458.1 508.0 453.4 507.8 447.8 507.6 441.4 507.4 434.8 507.3 428.1 507.1 422.1 506.9 417.4 506.7 413.6 506.6 413.0 506.4 417.1 506.2 422.6 506.0 430.5 505.9 439.4 505.7 448.8 505.5 458.2 505.3 467.4 505.2 475.9 505.0 483.2 504.8 489.1 504.6 493.3 504.5 495.6 504.3 496.3 504.1 496.9 503.9 497.6 503.8 498.2 503.6 498.8 503.4 497.8 503.2 494.5 503.1 489.2 502.9 482.0 502.7 473.2 502.5 463.0 502.4 451.7 502.2 439.8 502.0 427.7 501.8 417.9 501.7 408.5 501.5 399.8 501.3 392.1 501.1 385.7 501.0 380.6 500.8 378.3 500.6 382.9 500.4 388.9 500.3 395.9 500.1 403.8 499.9 412.4 499.7 421.4 499.6 430.6 499.4 440.0 499.2 450.4 499.0 459.9 498.9 468.4 498.7 475.5 498.5 481.1 498.3 484.9 498.2 486.9 498.0 486.5 497.8 486.0 497.6 485.5 497.5 485.0 497.3 484.5 497.1 483.6 496.9 482.3 496.8 480.7 496.6 478.8 496.4 476.6 496.2 474.1 496.1 471.5 495.9 468.7 495.7 465.8 495.5 462.9 495.4 459.9 495.2 457.0 495.0 454.2 494.8 451.6 494.7 449.2 494.5 447.0 494.3 445.1 494.1 443.4 494.0 444.1 493.8 445.5 493.6 446.7 493.4 447.0 493.3 446.5 493.1 446.1 492.9 446.0 492.7 446.8 492.6 448.3 492.4 450.3 492.2 452.8 492.0 455.4 491.9 458.2 491.7 460.7 491.5 463.0 491.4 464.8 491.2 465.9 491.0 466.4 490.8 466.4 490.7 466.5 490.5 466.6 490.3 466.6 490.1 466.7 490.0 465.7 489.8 463.1 489.6 459.2 489.4 454.2 489.3 448.5 489.1 442.4 488.9 436.3 488.7 430.6 488.6 425.6 488.4 422.0 488.2 422.4 488.0 425.4 487.9 429.1 487.7 432.8 487.5 436.1 487.3 438.6 487.2 440.2 487.0 440.6 486.8 440.7 486.6 440.8 486.5 441.4 486.3 442.4 486.1 443.5 485.9 444.2 485.8 444.4 485.6 444.5 485.4 444.6 485.2 444.7 485.1 444.8 484.9 444.5 484.7 443.7 484.5 442.4 484.4 440.8 484.2 438.8 484.0 436.6 483.8 434.2 483.7 431.8 483.5 429.4 483.3 427.2 483.1 425.4 483.0 424.1 482.8 423.8 482.6 426.5 482.4 430.7 482.3 435.6 482.1 441.0 481.9 446.3 481.7 451.3 481.6 455.5 481.4 458.7 481.2 460.5 481.0 460.8 480.9 460.6 480.7 460.3 480.5 460.1 480.3 459.8 480.2 459.1 480.0 457.9 479.8 456.2 479.6 453.9 479.5 451.3 479.3 448.3 479.1 445.0 478.9 441.6 478.8 438.0 478.6 434.4 478.4 430.8 478.2 427.4 478.1 424.3 477.9 421.6 477.7 419.6 477.5 418.2 477.4 422.4 477.2 429.8 477.0 438.8 476.8 448.6 476.7 458.1 476.5 466.4 476.3 472.6 476.1 476.2 476.0 477.0 475.8 477.2 475.6 477.3 475.4 477.5 475.3 477.6 475.1 476.6 474.9 474.1 474.7 470.1 474.6 465.0 474.4 458.8 474.2 452.0 474.0 444.9 473.9 437.8 473.7 431.0 473.5 424.9 473.3 420.1 473.2 416.9 473.0 416.9 472.8 419.5 472.6 422.7 472.5 427.0 472.3 431.6 472.1 436.1 471.9 440.5 471.8 444.5 471.6 447.8 471.4 450.3 471.2 451.9 471.1 452.6 470.9 452.7 470.7 452.9 470.5 453.0 470.4 453.2 470.2 453.1 470.0 452.3 469.8 451.1 469.7 449.5 469.5 447.6 469.3 445.4 469.1 443.1 469.0 440.7 468.8 438.2 468.6 435.9 468.4 433.8 468.3 432.0 468.1 430.6 467.9 430.8 467.7 432.4 467.6 434.1 467.4 435.5 467.2 436.3 467.0 436.4 466.9 436.3 466.7 436.3 466.5 436.2 466.3 436.1 466.2 435.3 466.0 433.6 465.8 431.2 465.6 428.4 465.5 425.4 465.3 422.6 465.1 420.5 464.9 418.8 464.8 420.0 464.6 421.7 464.4 423.8 464.2 426.6 464.1 429.7 463.9 432.9 463.7 436.2 463.6 439.4 463.4 442.4 463.2 445.1 463.0 447.5 462.9 449.4 462.7 450.8 462.5 451.7 462.3 451.9 462.2 451.9 462.0 451.8 461.8 451.8 461.6 451.7 461.5 451.1 461.3 449.5 461.1 446.9 460.9 443.5 460.8 439.4 460.6 434.9 460.4 430.2 460.2 425.6 460.1 421.4 459.9 418.3 459.7 415.8 459.5 414.9 459.4 416.6 459.2 418.8 459.0 421.4 458.8 424.7 458.7 428.5 458.5 432.3 458.3 436.2 458.1 439.8 458.0 443.1 457.8 446.0 457.6 448.4 457.4 450.2 457.3 451.2 457.1 451.6 456.9 451.5 456.7 451.5 456.6 451.5 456.4 451.5 456.2 451.0 456.0 449.6 455.9 447.5 455.7 444.6 455.5 441.2 455.3 437.4 455.2 433.5 455.0 429.6 454.8 426.0 454.6 422.9 454.5 420.5 454.3 420.1 454.1 422.0 453.9 424.7 453.8 427.9 453.6 431.4 453.4 435.2 453.2 438.9 453.1 442.5 452.9 445.9 452.7 448.9 452.5 451.3 452.4 453.1 452.2 454.2 452.0 454.6 451.8 454.6 451.7 454.5 451.5 454.5 451.3 454.6 451.1 454.2 451.0 452.8 450.8 450.2 450.6 446.7 450.4 442.5 450.3 437.6 450.1 432.3 449.9 426.8 449.7 421.7 449.6 417.6 449.4 413.8 449.2 410.7 449.0 408.2 448.9 408.4 448.7 411.2 448.5 414.9 448.3 419.3 448.2 424.4 448.0 431.1 447.8 438.5 447.6 446.4 447.5 454.5 447.3 462.9 447.1 471.2 446.9 479.3 446.8 487.2 446.6 494.6 446.4 501.5 446.2 507.6 446.1 513.0 445.9 517.4 445.7 520.8 445.5 523.3 445.4 524.6 445.2 524.8 445.0 525.0 444.8 525.2 444.7 525.5 444.5 525.0 444.3 522.3 444.1 517.3 444.0 510.0 443.8 500.8 443.6 489.9 443.4 477.7 443.3 464.5 443.1 450.7 442.9 436.8 442.7 423.9 442.6 413.4 442.4 403.8 442.2 395.5 442.0 388.7 441.9 384.1 441.7 389.2 441.5 396.1 441.3 404.5 441.2 414.0 441.0 424.4 440.8 437.2 440.6 449.8 440.5 461.5 440.3 471.9 440.1 480.4 439.9 486.7 439.8 490.4 439.6 491.6 439.4 491.3 439.2 491.0 439.1 490.7 438.9 490.7 438.7 489.4 438.5 485.3 438.4 478.6 438.2 469.6 438.0 458.7 437.8 446.4 437.7 433.4 437.5 420.6 437.3 410.2 437.1 400.7 437.0 392.5 436.8 386.1 436.6 385.4 436.5 390.9 436.3 397.1 436.1 403.4 435.9 408.9 435.8 413.1 435.6 415.4 435.4 415.6 435.2 415.8 435.1 416.3 434.9 416.8 434.7 417.3 434.5 416.3 434.4 413.9 434.2 410.5 434.0 406.5 433.8 402.1 433.7 398.1 433.5 394.7 433.3 393.0 433.1 395.7 433.0 399.1 432.8 403.0 432.6 407.4 432.4 412.3 432.3 417.4 432.1 422.7 431.9 428.0 431.7 433.4 431.6 439.3 431.4 445.1 431.2 450.4 431.0 455.1 430.9 459.1 430.7 462.3 430.5 464.6 430.3 466.1 430.2 466.5 430.0 467.0 429.8 467.1 429.6 467.1 429.5 467.0 429.3 465.3 429.1 461.9 428.9 456.9 428.8 450.7 428.6 443.5 428.4 436.5 428.2 429.9 428.1 423.6 427.9 417.7 427.7 412.7 427.5 408.6 427.4 405.8 427.2 406.5 427.0 407.8 426.8 409.4 426.7 411.2 426.5 413.0 426.3 414.7 426.1 416.4 426.0 417.9 425.8 419.2 425.6 420.1 425.4 420.7 425.3 420.9 425.1 421.0 424.9 421.0 424.7 421.1 424.6 421.3 424.4 423.3 424.2 426.4 424.0 430.3 423.9 434.7 423.7 439.4 423.5 444.5 423.3 449.3 423.2 453.0 423.0 455.4 422.8 456.3 422.6 456.3 422.5 456.3 422.3 456.4 422.1 456.4 421.9 454.5 421.8 449.7 421.6 444.4 421.4 441.7 421.2 441.6 421.1 441.4 420.9 441.3 420.7 441.0 420.5 442.7 420.4 444.6 420.2 446.5 420.0 448.2 419.8 449.4 419.7 450.0 419.5 449.8 419.3 449.7 419.1 449.5 419.0 449.4 418.8 448.8 418.6 444.1 418.4 435.9 418.3 426.0 418.1 414.5 417.9 402.4 417.7 390.9 417.6 381.0 417.4 379.6 417.2 388.6 417.0 400.1 416.9 413.5 416.7 428.4 416.5 445.7 416.3 465.1 416.2 483.9 416.0 501.3 415.8 516.7 415.6 529.2 415.5 538.6 415.3 544.3 415.1 546.2 414.9 546.0 414.8 545.9 414.6 545.7 414.4 545.4 414.2 543.7 414.1 539.9 413.9 534.0 413.7 526.2 413.5 516.7 413.4 505.8 413.2 493.7 413.0 480.8 412.8 467.5 412.7 454.0 412.5 440.9 412.3 428.4 412.1 418.6 412.0 410.2 411.8 403.0 411.6 397.2 411.4 394.9 411.3 397.6 411.1 401.3 410.9 405.5 410.7 410.0 410.6 414.7 410.4 419.1 410.2 423.7 410.0 427.8 409.9 430.7 409.7 432.3 409.5 432.4 409.4 431.8 409.2 431.2 409.0 430.6 408.8 430.6 408.7 429.4 408.5 426.1 408.3 421.4 408.1 416.5 408.0 413.0 407.8 412.1 407.6 412.7 407.4 413.1 407.3 413.4 407.1 413.4 406.9 413.4 406.7 413.5 406.6 413.4 406.4 413.4 406.2 413.0 406.0 412.5 405.9 411.7 405.7 411.0 405.5 411.4 405.3 412.4 405.2 413.5 405.0 414.7 404.8 415.9 404.6 417.1 404.5 418.0 404.3 418.5 404.1 418.5 403.9 418.8 403.8 418.8 403.6 418.7 403.4 418.5 403.2 418.4 403.1 418.1 402.9 417.8 402.7 417.4 402.5 417.0 402.4 416.8 402.2 416.8 402.0 416.8 401.8 416.8 401.7 416.8 401.5 416.8 401.3 416.8 401.1 416.7 401.0 416.7 400.8 416.7 400.6 416.6 400.4 416.6 400.3 416.6 400.1 416.5 399.9 416.5 399.7 416.5 399.6 416.5 399.4 416.4 399.2 416.4 399.0 416.4 398.9 416.4 398.7 416.4 398.5 416.4Z" fill="#d9d9d9" stroke="#d9d9d9" stroke-width="1.6"/>
<path d="M398.5 415.5L398.7 415.5 398.9 415.5 399.0 415.5 399.2 415.5 399.4 415.5 399.6 415.6 399.7 415.6 399.9 415.6 400.1 415.7 400.3 415.7 400.4 415.7 400.6 415.8 400.8 415.8 401.0 415.8 401.1 415.8 401.3 415.9 401.5 415.9 401.7 415.9 401.8 415.9 402.0 415.9 402.2 415.9 402.4 415.9 402.5 416.1 402.7 416.3 402.9 416.6 403.1 416.9 403.2 417.3 403.4 417.6 403.6 417.8 403.8 417.9 403.9 417.9 404.1 417.4 404.3 416.6 404.5 415.5 404.6 414.2 404.8 412.8 405.0 411.6 405.2 410.4 405.3 409.6 405.5 409.1 405.7 409.0 405.9 409.3 406.0 410.0 406.2 410.8 406.4 411.6 406.6 412.2 406.7 412.6 406.9 412.5 407.1 412.2 407.3 411.7 407.4 411.1 407.6 410.5 407.8 410.0 408.0 409.7 408.1 410.0 408.3 412.1 408.5 415.8 408.7 420.3 408.8 424.6 409.0 427.6 409.2 428.7 409.4 428.0 409.5 426.0 409.7 422.8 409.9 418.5 410.0 413.5 410.2 407.9 410.4 402.1 410.6 396.3 410.7 391.0 410.9 386.3 411.1 382.6 411.3 379.9 411.4 378.6 411.6 378.7 411.8 380.7 412.0 384.5 412.1 390.2 412.3 397.6 412.5 406.3 412.7 416.3 412.8 427.1 413.0 438.6 413.2 450.2 413.4 461.8 413.5 473.0 413.7 483.4 413.9 492.8 414.1 500.9 414.2 507.4 414.4 512.2 414.6 515.2 414.8 516.2 414.9 514.4 415.1 509.1 415.3 500.4 415.5 488.9 415.6 474.8 415.8 458.8 416.0 441.6 416.2 423.9 416.3 406.3 416.5 389.6 416.7 374.6 416.9 361.7 417.0 351.5 417.2 344.5 417.4 340.9 417.6 341.0 417.7 345.1 417.9 352.9 418.1 363.7 418.3 376.4 418.4 389.7 418.6 402.3 418.8 413.1 419.0 420.9 419.1 425.0 419.3 425.5 419.5 424.8 419.7 423.6 419.8 421.9 420.0 420.1 420.2 418.2 420.4 416.6 420.5 415.3 420.7 414.7 420.9 414.7 421.1 415.7 421.2 416.7 421.4 416.6 421.6 415.7 421.8 415.9 421.9 419.0 422.1 423.7 422.3 427.9 422.5 429.6 422.6 428.8 422.8 426.7 423.0 423.4 423.2 419.0 423.3 414.1 423.5 409.0 423.7 404.1 423.9 399.8 424.0 396.5 424.2 394.3 424.4 393.6 424.6 393.7 424.7 393.9 424.9 394.1 425.1 393.8 425.3 393.2 425.4 392.2 425.6 390.9 425.8 389.3 426.0 387.4 426.1 385.5 426.3 383.6 426.5 381.7 426.7 379.9 426.8 378.5 427.0 377.3 427.2 376.4 427.4 376.0 427.5 376.2 427.7 377.8 427.9 381.0 428.1 385.5 428.2 391.2 428.4 397.7 428.6 404.8 428.8 412.1 428.9 419.2 429.1 425.7 429.3 431.4 429.5 436.0 429.6 439.1 429.8 440.7 430.0 440.8 430.2 440.0 430.3 438.3 430.5 435.9 430.7 432.7 430.9 428.8 431.0 424.5 431.2 419.6 431.4 414.5 431.6 409.2 431.7 403.7 431.9 398.4 432.1 393.2 432.3 388.4 432.4 384.0 432.6 380.2 432.8 377.0 433.0 374.6 433.1 372.9 433.3 372.1 433.5 372.2 433.7 373.8 433.8 377.0 434.0 381.3 434.2 386.4 434.4 391.7 434.5 396.8 434.7 401.1 434.9 404.3 435.1 405.9 435.2 405.8 435.4 403.5 435.6 399.1 435.8 393.1 435.9 386.4 436.1 379.6 436.3 373.7 436.5 369.2 436.6 366.9 436.8 366.9 437.0 369.5 437.1 374.7 437.3 382.0 437.5 391.3 437.7 402.0 437.8 413.8 438.0 425.9 438.2 437.9 438.4 449.2 438.5 459.3 438.7 467.6 438.9 473.9 439.1 477.8 439.2 479.1 439.4 477.9 439.6 474.2 439.8 468.2 439.9 460.2 440.1 450.6 440.3 439.7 440.5 428.0 440.6 416.1 440.8 404.4 441.0 393.6 441.2 383.9 441.3 375.9 441.5 370.0 441.7 366.3 441.9 365.0 442.0 366.1 442.2 369.4 442.4 374.8 442.6 382.1 442.7 391.0 442.9 401.3 443.1 412.7 443.3 424.8 443.4 437.1 443.6 449.4 443.8 461.1 444.0 472.0 444.1 481.7 444.3 489.8 444.5 496.2 444.7 500.5 444.8 502.7 445.0 502.9 445.2 501.9 445.4 499.9 445.5 496.9 445.7 493.1 445.9 488.5 446.1 483.1 446.2 477.0 446.4 470.5 446.6 463.6 446.8 456.3 446.9 449.0 447.1 441.6 447.3 434.4 447.5 427.5 447.6 420.9 447.8 414.9 448.0 409.5 448.2 404.8 448.3 401.0 448.5 398.1 448.7 396.1 448.9 395.1 449.0 395.1 449.2 396.1 449.4 398.2 449.6 401.1 449.7 404.9 449.9 409.3 450.1 414.1 450.3 419.2 450.4 424.4 450.6 429.4 450.8 434.0 451.0 438.1 451.1 441.5 451.3 444.0 451.5 445.6 451.7 446.1 451.8 445.7 452.0 444.7 452.2 443.0 452.4 440.8 452.5 438.1 452.7 435.0 452.9 431.7 453.1 428.2 453.2 424.9 453.4 421.6 453.6 418.7 453.8 416.2 453.9 414.3 454.1 412.9 454.3 412.2 454.5 412.2 454.6 413.1 454.8 414.7 455.0 416.9 455.2 419.8 455.3 423.0 455.5 426.5 455.7 430.1 455.9 433.5 456.0 436.6 456.2 439.1 456.4 441.1 456.6 442.3 456.7 442.7 456.9 442.4 457.1 441.4 457.3 439.8 457.4 437.6 457.6 434.9 457.8 431.9 458.0 428.6 458.1 425.1 458.3 421.6 458.5 418.1 458.7 414.9 458.8 412.1 459.0 409.6 459.2 407.7 459.4 406.4 459.5 405.8 459.7 405.8 459.9 406.8 460.1 408.7 460.2 411.4 460.4 414.8 460.6 418.7 460.8 422.9 460.9 427.2 461.1 431.2 461.3 434.9 461.5 438.0 461.6 440.3 461.8 441.8 462.0 442.3 462.2 442.0 462.3 441.2 462.5 439.9 462.7 438.1 462.9 435.9 463.0 433.3 463.2 430.5 463.4 427.6 463.6 424.6 463.7 421.6 463.9 418.7 464.1 416.1 464.2 413.9 464.4 412.0 464.6 410.6 464.8 409.6 464.9 409.3 465.1 409.5 465.3 410.6 465.5 412.3 465.6 414.6 465.8 417.3 466.0 420.0 466.2 422.5 466.3 424.6 466.5 426.1 466.7 426.8 466.9 426.7 467.0 426.0 467.2 424.6 467.4 423.1 467.6 421.5 467.7 420.3 467.9 419.8 468.1 419.8 468.3 420.3 468.4 421.3 468.6 422.5 468.8 424.1 469.0 426.0 469.1 428.0 469.3 430.2 469.5 432.3 469.7 434.4 469.8 436.4 470.0 438.1 470.2 439.5 470.4 440.5 470.5 441.2 470.7 441.4 470.9 441.0 471.1 439.6 471.2 437.5 471.4 434.6 471.6 431.2 471.8 427.3 471.9 423.3 472.1 419.3 472.3 415.6 472.5 412.2 472.6 409.5 472.8 407.5 473.0 406.4 473.2 406.2 473.3 407.2 473.5 409.7 473.7 413.4 473.9 418.3 474.0 424.0 474.2 430.3 474.4 436.9 474.6 443.5 474.7 449.9 474.9 455.6 475.1 460.4 475.3 464.1 475.4 466.6 475.6 467.7 475.8 466.9 476.0 463.4 476.1 457.5 476.3 449.7 476.5 440.8 476.7 431.7 476.8 423.3 477.0 416.3 477.2 411.6 477.4 409.4 477.5 409.5 477.7 410.1 477.9 411.2 478.1 412.8 478.2 414.8 478.4 417.1 478.6 419.7 478.8 422.6 478.9 425.5 479.1 428.6 479.3 431.6 479.5 434.5 479.6 437.3 479.8 439.8 480.0 441.9 480.2 443.7 480.3 445.0 480.5 445.9 480.7 446.3 480.9 445.9 481.0 444.3 481.2 441.5 481.4 437.8 481.6 433.3 481.7 428.6 481.9 423.8 482.1 419.3 482.3 415.6 482.4 412.8 482.6 411.2 482.8 410.8 483.0 411.2 483.1 412.0 483.3 413.2 483.5 414.7 483.7 416.6 483.8 418.7 484.0 420.9 484.2 423.2 484.4 425.5 484.5 427.5 484.7 429.4 484.9 431.0 485.1 432.2 485.2 433.0 485.4 433.3 485.6 433.2 485.8 432.6 485.9 431.8 486.1 430.9 486.3 430.4 486.5 430.2 486.6 430.4 486.8 430.1 487.0 428.8 487.2 426.6 487.3 423.7 487.5 420.4 487.7 417.1 487.9 414.2 488.0 412.0 488.2 410.7 488.4 410.4 488.6 411.5 488.7 413.9 488.9 417.5 489.1 422.1 489.3 427.4 489.4 433.0 489.6 438.7 489.8 443.9 490.0 448.5 490.1 452.1 490.3 454.6 490.5 455.6 490.7 455.5 490.8 454.6 491.0 453.1 491.2 451.1 491.4 448.6 491.5 445.8 491.7 442.9 491.9 440.0 492.0 437.4 492.2 435.1 492.4 433.3 492.6 432.1 492.7 431.6 492.9 431.7 493.1 431.8 493.3 431.0 493.4 429.5 493.6 427.8 493.8 426.3 494.0 425.6 494.1 425.6 494.3 426.0 494.5 426.8 494.7 427.8 494.8 429.1 495.0 430.7 495.2 432.4 495.4 434.4 495.5 436.5 495.7 438.7 495.9 440.9 496.1 443.2 496.2 445.4 496.4 447.5 496.6 449.4 496.8 451.2 496.9 452.8 497.1 454.1 497.3 455.1 497.5 455.8 497.6 456.3 497.8 456.3 498.0 455.0 498.2 452.1 498.3 447.6 498.5 441.7 498.7 434.6 498.9 426.5 499.0 417.6 499.2 408.3 499.4 398.8 499.6 389.5 499.7 380.6 499.9 372.5 500.1 365.4 500.3 359.5 500.4 355.0 500.6 352.1 500.8 350.8 501.0 351.3 501.1 353.8 501.3 358.3 501.5 364.6 501.7 372.5 501.8 381.7 502.0 392.1 502.2 403.2 502.4 414.8 502.5 426.5 502.7 437.9 502.9 448.6 503.1 458.5 503.2 467.1 503.4 474.2 503.6 479.6 503.8 483.1 503.9 484.6 504.1 484.2 504.3 481.9 504.5 477.9 504.6 472.3 504.8 465.5 505.0 457.6 505.2 449.1 505.3 440.3 505.5 431.6 505.7 423.3 505.9 415.9 506.0 409.7 506.2 404.9 506.4 401.7 506.6 400.4 506.7 400.7 506.9 402.4 507.1 405.3 507.3 409.4 507.4 414.3 507.6 419.9 507.8 425.8 508.0 431.6 508.1 437.2 508.3 442.1 508.5 446.2 508.7 449.1 508.8 450.8 509.0 451.2 509.2 450.2 509.4 448.0 509.5 444.6 509.7 440.2 509.9 435.0 510.1 429.2 510.2 423.1 510.4 416.9 510.6 410.9 510.8 405.3 510.9 400.5 511.1 396.6 511.3 393.8 511.5 392.2 511.6 391.9 511.8 392.7 512.0 394.5 512.2 397.3 512.3 401.0 512.5 405.3 512.7 410.1 512.9 415.2 513.0 420.4 513.2 425.3 513.4 429.9 513.6 433.9 513.7 437.2 513.9 439.5 514.1 440.9 514.3 441.2 514.4 440.8 514.6 440.1 514.8 438.9 515.0 437.3 515.1 435.4 515.3 433.2 515.5 430.7 515.7 428.0 515.8 425.2 516.0 422.2 516.2 419.2 516.4 416.3 516.5 413.4 516.7 410.7 516.9 408.3 517.1 406.0 517.2 404.1 517.4 402.6 517.6 401.4 517.8 400.6 517.9 400.3 518.1 400.7 518.3 402.3 518.5 405.1 518.6 408.9 518.8 413.6 519.0 418.9 519.1 424.4 519.3 430.0 519.5 435.2 519.7 439.9 519.8 443.8 520.0 446.6 520.2 448.2 520.4 448.5 520.5 447.0 520.7 443.5 520.9 438.4 521.1 431.8 521.2 424.2 521.4 416.0 521.6 407.7 521.8 399.7 521.9 392.6 522.1 386.7 522.3 382.4 522.5 379.9 522.6 379.4 522.8 380.1 523.0 381.9 523.2 384.5 523.3 388.1 523.5 392.3 523.7 397.2 523.9 402.5 524.0 408.1 524.2 413.7 524.4 419.3 524.6 424.6 524.7 429.5 524.9 433.7 525.1 437.3 525.3 440.0 525.4 441.7 525.6 442.5 525.8 442.3 526.0 441.5 526.1 440.1 526.3 438.1 526.5 435.6 526.7 432.6 526.8 429.4 527.0 426.0 527.2 422.6 527.4 419.2 527.5 416.0 527.7 413.1 527.9 410.6 528.1 408.6 528.2 407.1 528.4 406.3 528.6 406.1 528.8 406.5 528.9 407.5 529.1 408.9 529.3 410.7 529.5 413.0 529.6 415.4 529.8 418.1 530.0 420.7 530.2 423.4 530.3 425.8 530.5 428.0 530.7 429.9 530.9 431.3 531.0 432.3 531.2 432.7 531.4 432.4 531.6 431.1 531.7 428.8 531.9 425.6 532.1 421.8 532.3 417.5 532.4 412.9 532.6 408.4 532.8 404.1 533.0 400.2 533.1 397.1 533.3 394.8 533.5 393.5 533.7 393.2 533.8 394.1 534.0 396.1 534.2 399.1 534.4 403.0 534.5 407.6 534.7 412.7 534.9 418.0 535.1 423.4 535.2 428.6 535.4 433.3 535.6 437.3 535.8 440.4 535.9 442.5 536.1 443.5 536.3 443.4 536.5 442.2 536.6 440.0 536.8 436.9 537.0 433.1 537.2 428.8 537.3 424.2 537.5 419.7 537.7 415.5 537.9 411.8 538.0 408.8 538.2 406.8 538.4 405.8 538.6 405.7 538.7 406.1 538.9 406.9 539.1 407.9 539.3 409.3 539.4 410.9 539.6 412.7 539.8 414.6 540.0 416.5 540.1 418.4 540.3 420.2 540.5 421.8 540.7 423.2 540.8 424.3 541.0 425.0 541.2 425.5 541.4 425.5 541.5 425.4 541.7 425.2 541.9 425.0 542.1 424.6 542.2 424.2 542.4 423.8 542.6 423.5 542.8 423.2 542.9 423.0 543.1 422.9 543.3 422.9 543.5 423.0 543.6 423.1 543.8 422.7 544.0 421.4 544.2 419.5 544.3 417.1 544.5 414.4 544.7 411.7 544.9 409.3 545.0 407.3 545.2 406.1 545.4 405.7 545.6 406.1 545.7 407.4 545.9 409.4 546.1 412.2 546.2 415.5 546.4 419.3 546.6 423.4 546.8 427.5 546.9 431.5 547.1 435.3 547.3 438.6 547.5 441.4 547.6 443.5 547.8 444.8 548.0 445.2 548.2 445.0 548.3 444.4 548.5 443.5 548.7 442.3 548.9 440.7 549.0 438.8 549.2 436.6 549.4 434.3 549.6 431.7 549.7 429.1 549.9 426.3 550.1 423.5 550.3 420.7 550.4 418.0 550.6 415.4 550.8 412.9 551.0 410.6 551.1 408.6 551.3 406.9 551.5 405.5 551.7 404.4 551.8 403.6 552.0 403.3 552.2 403.3 552.4 404.3 552.5 406.1 552.7 408.7 552.9 411.8 553.1 415.3 553.2 419.0 553.4 422.5 553.6 425.7 553.8 428.2 553.9 430.1 554.1 431.0 554.3 431.1 554.5 430.7 554.6 429.9 554.8 428.8 555.0 427.4 555.2 425.8 555.3 424.1 555.5 422.3 555.7 420.7 555.9 419.2 556.0 417.9 556.2 417.0 556.4 416.4 556.6 416.2 556.7 416.3 556.9 416.9 557.1 417.7 557.3 418.7 557.4 419.8 557.6 421.0 557.8 422.0 558.0 422.8 558.1 423.3 558.3 423.5 558.5 423.2 558.7 422.4 558.8 421.2 559.0 419.5 559.2 417.6 559.4 415.5 559.5 413.5 559.7 411.7 559.9 410.2 560.1 409.2 560.2 408.6 560.4 408.7 560.6 409.4 560.8 410.8 560.9 412.9 561.1 415.5 561.3 418.5 561.5 421.8 561.6 425.1 561.8 428.3 562.0 431.3 562.2 433.9 562.3 436.0 562.5 437.4 562.7 438.2 562.9 438.2 563.0 437.7 563.2 436.7 563.4 435.2 563.6 433.3 563.7 431.2 563.9 428.8 564.1 426.3 564.3 423.8 564.4 421.5 564.6 419.3 564.8 417.4 565.0 416.0 565.1 415.0 565.3 414.4 565.5 414.5 565.7 415.1 565.8 416.4 566.0 418.3 566.2 420.5 566.4 423.0 566.5 425.6 566.7 428.1 566.9 430.4 567.1 432.2 567.2 433.5 567.4 434.2 567.6 434.2 567.8 433.6 567.9 432.5 568.1 431.0 568.3 429.0 568.5 426.7 568.6 424.2 568.8 421.5 569.0 418.9 569.2 416.3 569.3 414.0 569.5 412.1 569.7 410.5 569.9 409.4 570.0 408.9 570.2 408.9 570.4 409.9 570.6 411.9 570.7 414.8 570.9 418.3 571.1 422.4 571.3 426.8 571.4 431.2 571.6 435.4 571.8 439.3 572.0 442.5 572.1 444.9 572.3 446.5 572.5 447.0 572.7 446.4 572.8 444.6 573.0 441.7 573.2 437.8 573.4 433.1 573.5 427.8 573.7 422.1 573.9 416.3 574.0 410.6 574.2 405.3 574.4 400.6 574.6 396.7 574.7 393.8 574.9 392.0 575.1 391.4 575.3 392.0 575.4 393.9 575.6 397.0 575.8 401.0 576.0 405.7 576.1 410.9 576.3 416.3 576.5 421.5 576.7 426.2 576.8 430.2 577.0 433.3 577.2 435.2 577.4 435.8 577.5 435.4 577.7 434.0 577.9 431.9 578.1 429.0 578.2 425.6 578.4 421.9 578.6 418.0 578.8 414.1 578.9 410.5 579.1 407.4 579.3 404.9 579.5 403.1 579.6 402.2 579.8 402.3 580.0 404.1 580.2 407.4 580.3 412.0 580.5 417.3 580.7 423.0 580.9 428.4 581.0 433.0 581.2 436.3 581.4 438.0 581.6 438.2 581.7 437.4 581.9 435.8 582.1 433.5 582.3 430.6 582.4 427.1 582.6 423.4 582.8 419.4 583.0 415.4 583.1 411.5 583.3 407.9 583.5 404.7 583.7 402.1 583.8 400.1 584.0 398.9 584.2 398.5 584.4 399.2 584.5 401.0 584.7 404.1 584.9 408.1 585.1 412.8 585.2 418.1 585.4 423.6 585.6 429.0 585.8 434.0 585.9 438.4 586.1 442.0 586.3 444.4 586.5 445.7 586.6 445.8 586.8 445.0 587.0 443.4 587.2 441.2 587.3 438.4 587.5 435.3 587.7 431.9 587.9 428.4 588.0 425.1 588.2 422.1 588.4 419.6 588.6 417.7 588.7 416.6 588.9 416.2 589.1 416.9 589.3 419.0 589.4 421.9 589.6 424.7 589.8 426.8 590.0 427.5 590.1 427.2 590.3 426.1 590.5 424.5 590.7 422.4 590.8 420.2 591.0 418.0 591.2 416.1 591.4 414.7 591.5 414.0 591.7 414.0 591.9 414.5 592.1 415.5 592.2 416.9 592.4 418.5 592.6 420.2 592.8 421.7 592.9 422.9 593.1 423.7 593.3 424.0 593.5 423.9 593.6 423.6 593.8 423.3 594.0 422.7 594.2 422.2 594.3 421.5 594.5 420.9 594.7 420.3 594.9 419.8 595.0 419.4 595.2 419.1 595.4 419.1 595.6 419.5 595.7 420.6 595.9 422.4 596.1 424.6 596.3 427.1 596.4 429.6 596.6 431.8 596.8 433.6 597.0 434.7 597.1 435.1 597.3 434.5 597.5 432.6 597.7 429.7 597.8 426.0 598.0 422.0 598.2 417.9 598.4 414.2 598.5 411.3 598.7 409.4 598.9 408.8 599.1 409.4 599.2 411.0 599.4 413.6 599.6 417.0 599.8 421.0 599.9 425.1 600.1 429.2 600.3 432.9 600.5 435.9 600.6 438.1 600.8 439.2 601.0 439.3 601.1 438.5 601.3 436.9 601.5 434.6 601.7 431.9 601.8 428.8 602.0 425.6 602.2 422.6 602.4 419.8 602.5 417.6 602.7 416.0 602.9 415.1 603.1 415.1 603.2 415.7 603.4 416.9 603.6 418.5 603.8 420.5 603.9 422.6 604.1 424.9 604.3 426.9 604.5 428.8 604.6 430.2 604.8 431.0 605.0 431.3 605.2 431.1 605.3 430.3 605.5 429.0 605.7 427.3 605.9 425.3 606.0 423.0 606.2 420.8 606.4 418.6 606.6 416.6 606.7 414.8 606.9 413.6 607.1 412.8 607.3 412.5 607.4 412.7 607.6 413.4 607.8 414.6 608.0 416.2 608.1 418.1 608.3 420.3 608.5 422.7 608.7 425.1 608.8 427.6 609.0 430.0 609.2 432.2 609.4 434.1 609.5 435.7 609.7 436.9 609.9 437.6 610.1 437.8 610.2 437.3 610.4 436.0 610.6 433.8 610.8 431.0 610.9 427.8 611.1 424.3 611.3 421.0 611.5 417.9 611.6 415.4 611.8 413.6 612.0 412.7 612.2 412.7 612.3 413.4 612.5 414.7 612.7 416.3 612.9 417.9 613.0 419.2 613.2 419.9 613.4 419.9 613.6 419.4 613.7 418.4 613.9 417.0 614.1 415.3 614.3 413.6 614.4 412.0 614.6 410.6 614.8 409.6 615.0 409.1 615.1 409.2 615.3 410.6 615.5 413.4 615.7 417.3 615.8 422.0 616.0 427.4 616.2 432.9 616.4 438.2 616.5 443.0 616.7 446.9 616.9 449.6 617.1 451.0 617.2 451.0 617.4 449.4 617.6 446.4 617.8 442.0 617.9 436.5 618.1 430.2 618.3 423.5 618.5 416.6 618.6 410.1 618.8 404.1 619.0 399.2 619.2 395.4 619.3 393.1 619.5 392.3 619.7 393.3 619.9 396.2 620.0 400.8 620.2 406.7 620.4 413.4 620.6 420.5 620.7 427.2 620.9 433.1 621.1 437.7 621.3 440.6 621.4 441.6 621.6 440.6 621.8 437.5 622.0 432.7 622.1 426.7 622.3 419.8 622.5 412.8 622.7 406.3 622.8 400.8 623.0 396.8 623.2 394.8 623.4 394.7 623.5 396.0 623.7 398.6 623.9 402.2 624.1 406.7 624.2 411.7 624.4 416.8 624.6 421.8 624.8 426.3 624.9 429.9 625.1 432.5 625.3 433.9 625.5 433.8 625.6 432.3 625.8 429.3 626.0 425.2 626.2 420.1 626.3 414.6 626.5 408.9 626.7 403.5 626.9 398.9 627.0 395.3 627.2 393.0 627.4 392.3 627.6 393.3 627.7 396.2 627.9 400.9 628.1 407.1 628.2 414.5 628.4 422.7 628.6 431.3 628.8 439.7 628.9 447.5 629.1 454.4 629.3 459.9 629.5 463.7 629.6 465.7 629.8 465.8 630.0 464.7 630.2 462.5 630.3 459.3 630.5 455.2 630.7 450.4 630.9 445.0 631.0 439.2 631.2 433.3 631.4 427.5 631.6 421.9 631.7 416.7 631.9 412.3 632.1 408.6 632.3 405.9 632.4 404.2 632.6 403.7 632.8 404.2 633.0 405.8 633.1 408.3 633.3 411.7 633.5 415.7 633.7 420.2 633.8 424.8 634.0 429.4 634.2 433.6 634.4 437.4 634.5 440.3 634.7 442.4 634.9 443.5 635.1 443.5 635.2 442.7 635.4 441.2 635.6 439.0 635.8 436.4 635.9 433.4 636.1 430.4 636.3 427.4 636.5 424.8 636.6 422.6 636.8 421.1 637.0 420.3 637.2 420.2 637.3 420.8 637.5 421.9 637.7 423.5 637.9 425.4 638.0 427.7 638.2 430.1 638.4 432.5 638.6 434.8 638.7 436.9 638.9 438.7 639.1 440.0 639.3 440.9 639.4 441.2 639.6 441.0 639.8 440.7 640.0 440.1 640.1 439.4 640.3 438.4 640.5 437.3 640.7 436.0 640.8 434.7 641.0 433.2 641.2 431.7 641.4 430.2 641.5 428.7 641.7 427.3 641.9 426.0 642.1 424.8 642.2 423.8 642.4 422.9 642.6 422.2 642.8 421.8 642.9 421.5 643.1 421.5 643.3 421.8 643.5 422.2 643.6 422.7 643.8 423.5 644.0 424.3 644.2 425.3 644.3 426.2 644.5 427.2 644.7 428.1 644.9 428.9 645.0 429.5 645.2 430.0 645.4 430.3 645.6 430.4 645.7 430.3 645.9 429.9 646.1 429.2 646.3 428.4 646.4 427.4 646.6 426.5 646.8 425.7 647.0 425.0 647.1 424.6 647.3 424.4 647.5 424.6 647.7 425.1 647.8 425.9 648.0 426.9 648.2 428.1 648.4 429.5 648.5 430.9 648.7 432.3 648.9 433.6 649.1 434.8 649.2 435.7 649.4 436.3 649.6 436.7 649.8 436.6 649.9 435.9 650.1 434.6 650.3 432.8 650.5 430.6 650.6 428.1 650.8 425.5 651.0 423.0 651.2 420.7 651.3 418.9 651.5 417.6 651.7 416.9 651.9 416.9 652.0 417.8 652.2 419.6 652.4 422.0 652.6 424.9 652.7 428.2 652.9 431.5 653.1 434.6 653.3 437.3 653.4 439.4 653.6 440.7 653.8 441.2 654.0 440.8 654.1 439.8 654.3 438.1 654.5 435.9 654.7 433.3 654.8 430.4 655.0 427.3 655.2 424.4 655.3 421.6 655.5 419.1 655.7 417.2 655.9 415.8 656.0 415.1 656.2 415.1 656.4 415.5 656.6 416.3 656.7 417.4 656.9 418.9 657.1 420.5 657.3 422.4 657.4 424.4 657.6 426.4 657.8 428.3 658.0 430.1 658.1 431.6 658.3 432.9 658.5 433.9 658.7 434.5 658.8 434.7 659.0 434.5 659.2 433.9 659.4 433.0 659.5 431.8 659.7 430.4 659.9 428.8 660.1 427.1 660.2 425.5 660.4 424.0 660.6 422.6 660.8 421.6 660.9 420.8 661.1 420.4 661.3 420.4 661.5 420.7 661.6 421.3 661.8 422.1 662.0 423.1 662.2 424.2 662.3 425.4 662.5 426.7 662.7 427.9 662.9 429.0 663.0 429.9 663.2 430.5 663.4 431.0 663.6 431.1 663.7 431.0 663.9 430.7 664.1 430.1 664.3 429.4 664.4 428.6 664.6 427.6 664.8 426.6 665.0 425.7 665.1 424.8 665.3 424.0 665.5 423.3 665.7 422.9 665.8 422.7 666.0 422.7 666.2 423.0 666.4 423.5 666.5 424.3 666.7 425.3 666.9 426.3 667.1 427.4 667.2 428.3 667.4 429.1 667.6 429.7 667.8 430.0 667.9 430.0 668.1 429.9 668.3 429.7 668.5 429.5 668.6 429.2 668.8 428.9 669.0 428.6 669.2 428.4 669.3 428.3 669.5 428.2" stroke="#000" stroke-width="2.6"/>
<path d="M398.5 415.5L398.7 415.5 398.9 415.5 399.0 415.5 399.2 415.5 399.4 415.5 399.6 415.6 399.7 415.6 399.9 415.6 400.1 415.7 400.3 415.7 400.4 415.7 400.6 415.8 400.8 415.8 401.0 415.8 401.1 415.8 401.3 415.9 401.5 415.9 401.7 415.9 401.8 415.9 402.0 415.9 402.2 415.9 402.4 415.9 402.5 416.1 402.7 416.3 402.9 416.6 403.1 416.9 403.2 417.3 403.4 417.6 403.6 417.8 403.8 417.9 403.9 417.9 404.1 417.4 404.3 416.6 404.5 415.5 404.6 414.2 404.8 412.8 405.0 411.6 405.2 410.4 405.3 409.6 405.5 409.1 405.7 409.0 405.9 409.3 406.0 410.0 406.2 410.8 406.4 411.6 406.6 412.2 406.7 412.6 406.9 412.5 407.1 412.2 407.3 411.7 407.4 411.1 407.6 410.5 407.8 410.0 408.0 409.7 408.1 410.0 408.3 412.1 408.5 415.8 408.7 420.3 408.8 424.6 409.0 427.6 409.2 428.7 409.4 428.0 409.5 426.0 409.7 422.8 409.9 418.5 410.0 413.5 410.2 407.9 410.4 402.1 410.6 396.3 410.7 391.0 410.9 386.3 411.1 382.6 411.3 379.9 411.4 378.6 411.6 378.7 411.8 380.7 412.0 384.5 412.1 390.2 412.3 397.6 412.5 406.3 412.7 416.3 412.8 427.1 413.0 438.6 413.2 450.2 413.4 461.8 413.5 473.0 413.7 483.4 413.9 492.8 414.1 500.9 414.2 507.4 414.4 512.2 414.6 515.2 414.8 516.2 414.9 514.4 415.1 509.1 415.3 500.4 415.5 488.9 415.6 474.8 415.8 458.8 416.0 441.6 416.2 423.9 416.3 406.3 416.5 389.6 416.7 374.6 416.9 361.7 417.0 351.5 417.2 344.5 417.4 340.9 417.6 341.0 417.7 345.1 417.9 352.9 418.1 363.7 418.3 376.4 418.4 389.7 418.6 402.3 418.8 413.1 419.0 420.9 419.1 425.0 419.3 425.5 419.5 424.8 419.7 423.6 419.8 421.9 420.0 420.1 420.2 418.2 420.4 416.6 420.5 415.3 420.7 414.7 420.9 414.7 421.1 415.7 421.2 416.7 421.4 416.6 421.6 415.7 421.8 415.9 421.9 419.0 422.1 423.7 422.3 427.9 422.5 429.6 422.6 428.8 422.8 426.7 423.0 423.4 423.2 419.0 423.3 414.1 423.5 409.0 423.7 404.1 423.9 399.8 424.0 396.5 424.2 394.3 424.4 393.6 424.6 393.7 424.7 393.9 424.9 394.1 425.1 393.8 425.3 393.2 425.4 392.2 425.6 390.9 425.8 389.3 426.0 387.4 426.1 385.5 426.3 383.6 426.5 381.7 426.7 379.9 426.8 378.5 427.0 377.3 427.2 376.4 427.4 376.0 427.5 376.2 427.7 377.8 427.9 381.0 428.1 385.5 428.2 391.2 428.4 397.7 428.6 404.8 428.8 412.1 428.9 419.2 429.1 425.7 429.3 431.4 429.5 436.0 429.6 439.1 429.8 440.7 430.0 440.8 430.2 440.0 430.3 438.3 430.5 435.9 430.7 432.7 430.9 428.8 431.0 424.5 431.2 419.6 431.4 414.5 431.6 409.2 431.7 403.7 431.9 398.4 432.1 393.2 432.3 388.4 432.4 384.0 432.6 380.2 432.8 377.0 433.0 374.6 433.1 372.9 433.3 372.1 433.5 372.2 433.7 373.8 433.8 377.0 434.0 381.3 434.2 386.4 434.4 391.7 434.5 396.8 434.7 401.1 434.9 404.3 435.1 405.9 435.2 405.8 435.4 403.5 435.6 399.1 435.8 393.1 435.9 386.4 436.1 379.6 436.3 373.7 436.5 369.2 436.6 366.9 436.8 366.9 437.0 369.5 437.1 374.7 437.3 382.0 437.5 391.3 437.7 402.0 437.8 413.8 438.0 425.9 438.2 437.9 438.4 449.2 438.5 459.3 438.7 467.6 438.9 473.9 439.1 477.8 439.2 479.1 439.4 477.9 439.6 474.2 439.8 468.2 439.9 460.2 440.1 450.6 440.3 439.7 440.5 428.0 440.6 416.1 440.8 404.4 441.0 393.6 441.2 383.9 441.3 375.9 441.5 370.0 441.7 366.3 441.9 365.0 442.0 366.1 442.2 369.4 442.4 374.8 442.6 382.1 442.7 391.0 442.9 401.3 443.1 412.7 443.3 424.8 443.4 437.1 443.6 449.4 443.8 461.1 444.0 472.0 444.1 481.7 444.3 489.8 444.5 496.2 444.7 500.5 444.8 502.7 445.0 502.9 445.2 501.9 445.4 499.9 445.5 496.9 445.7 493.1 445.9 488.5 446.1 483.1 446.2 477.0 446.4 470.5 446.6 463.6 446.8 456.3 446.9 449.0 447.1 441.6 447.3 434.4 447.5 427.5 447.6 420.9 447.8 414.9 448.0 409.5 448.2 404.8 448.3 401.0 448.5 398.1 448.7 396.1 448.9 395.1 449.0 395.1 449.2 396.1 449.4 398.2 449.6 401.1 449.7 404.9 449.9 409.3 450.1 414.1 450.3 419.2 450.4 424.4 450.6 429.4 450.8 434.0 451.0 438.1 451.1 441.5 451.3 444.0 451.5 445.6 451.7 446.1 451.8 445.7 452.0 444.7 452.2 443.0 452.4 440.8 452.5 438.1 452.7 435.0 452.9 431.7 453.1 428.2 453.2 424.9 453.4 421.6 453.6 418.7 453.8 416.2 453.9 414.3 454.1 412.9 454.3 412.2 454.5 412.2 454.6 413.1 454.8 414.7 455.0 416.9 455.2 419.8 455.3 423.0 455.5 426.5 455.7 430.1 455.9 433.5 456.0 436.6 456.2 439.1 456.4 441.1 456.6 442.3 456.7 442.7 456.9 442.4 457.1 441.4 457.3 439.8 457.4 437.6 457.6 434.9 457.8 431.9 458.0 428.6 458.1 425.1 458.3 421.6 458.5 418.1 458.7 414.9 458.8 412.1 459.0 409.6 459.2 407.7 459.4 406.4 459.5 405.8 459.7 405.8 459.9 406.8 460.1 408.7 460.2 411.4 460.4 414.8 460.6 418.7 460.8 422.9 460.9 427.2 461.1 431.2 461.3 434.9 461.5 438.0 461.6 440.3 461.8 441.8 462.0 442.3 462.2 442.0 462.3 441.2 462.5 439.9 462.7 438.1 462.9 435.9 463.0 433.3 463.2 430.5 463.4 427.6 463.6 424.6 463.7 421.6 463.9 418.7 464.1 416.1 464.2 413.9 464.4 412.0 464.6 410.6 464.8 409.6 464.9 409.3 465.1 409.5 465.3 410.6 465.5 412.3 465.6 414.6 465.8 417.3 466.0 420.0 466.2 422.5 466.3 424.6 466.5 426.1 466.7 426.8 466.9 426.7 467.0 426.0 467.2 424.6 467.4 423.1 467.6 421.5 467.7 420.3 467.9 419.8 468.1 419.8 468.3 420.3 468.4 421.3 468.6 422.5 468.8 424.1 469.0 426.0 469.1 428.0 469.3 430.2 469.5 432.3 469.7 434.4 469.8 436.4 470.0 438.1 470.2 439.5 470.4 440.5 470.5 441.2 470.7 441.4 470.9 441.0 471.1 439.6 471.2 437.5 471.4 434.6 471.6 431.2 471.8 427.3 471.9 423.3 472.1 419.3 472.3 415.6 472.5 412.2 472.6 409.5 472.8 407.5 473.0 406.4 473.2 406.2 473.3 407.2 473.5 409.7 473.7 413.4 473.9 418.3 474.0 424.0 474.2 430.3 474.4 436.9 474.6 443.5 474.7 449.9 474.9 455.6 475.1 460.4 475.3 464.1 475.4 466.6 475.6 467.7 475.8 466.9 476.0 463.4 476.1 457.5 476.3 449.7 476.5 440.8 476.7 431.7 476.8 423.3 477.0 416.3 477.2 411.6 477.4 409.4 477.5 409.5 477.7 410.1 477.9 411.2 478.1 412.8 478.2 414.8 478.4 417.1 478.6 419.7 478.8 422.6 478.9 425.5 479.1 428.6 479.3 431.6 479.5 434.5 479.6 437.3 479.8 439.8 480.0 441.9 480.2 443.7 480.3 445.0 480.5 445.9 480.7 446.3 480.9 445.9 481.0 444.3 481.2 441.5 481.4 437.8 481.6 433.3 481.7 428.6 481.9 423.8 482.1 419.3 482.3 415.6 482.4 412.8 482.6 411.2 482.8 410.8 483.0 411.2 483.1 412.0 483.3 413.2 483.5 414.7 483.7 416.6 483.8 418.7 484.0 420.9 484.2 423.2 484.4 425.5 484.5 427.5 484.7 429.4 484.9 431.0 485.1 432.2 485.2 433.0 485.4 433.3 485.6 433.2 485.8 432.6 485.9 431.8 486.1 430.9 486.3 430.4 486.5 430.2 486.6 430.4 486.8 430.1 487.0 428.8 487.2 426.6 487.3 423.7 487.5 420.4 487.7 417.1 487.9 414.2 488.0 412.0 488.2 410.7 488.4 410.4 488.6 411.5 488.7 413.9 488.9 417.5 489.1 422.1 489.3 427.4 489.4 433.0 489.6 438.7 489.8 443.9 490.0 448.5 490.1 452.1 490.3 454.6 490.5 455.6 490.7 455.5 490.8 454.6 491.0 453.1 491.2 451.1 491.4 448.6 491.5 445.8 491.7 442.9 491.9 440.0 492.0 437.4 492.2 435.1 492.4 433.3 492.6 432.1 492.7 431.6 492.9 431.7 493.1 431.8 493.3 431.0 493.4 429.5 493.6 427.8 493.8 426.3 494.0 425.6 494.1 425.6 494.3 426.0 494.5 426.8 494.7 427.8 494.8 429.1 495.0 430.7 495.2 432.4 495.4 434.4 495.5 436.5 495.7 438.7 495.9 440.9 496.1 443.2 496.2 445.4 496.4 447.5 496.6 449.4 496.8 451.2 496.9 452.8 497.1 454.1 497.3 455.1 497.5 455.8 497.6 456.3 497.8 456.3 498.0 455.0 498.2 452.1 498.3 447.6 498.5 441.7 498.7 434.6 498.9 426.5 499.0 417.6 499.2 408.3 499.4 398.8 499.6 389.5 499.7 380.6 499.9 372.5 500.1 365.4 500.3 359.5 500.4 355.0 500.6 352.1 500.8 350.8 501.0 351.3 501.1 353.8 501.3 358.3 501.5 364.6 501.7 372.5 501.8 381.7 502.0 392.1 502.2 403.2 502.4 414.8 502.5 426.5 502.7 437.9 502.9 448.6 503.1 458.5 503.2 467.1 503.4 474.2 503.6 479.6 503.8 483.1 503.9 484.6 504.1 484.2 504.3 481.9 504.5 477.9 504.6 472.3 504.8 465.5 505.0 457.6 505.2 449.1 505.3 440.3 505.5 431.6 505.7 423.3 505.9 415.9 506.0 409.7 506.2 404.9 506.4 401.7 506.6 400.4 506.7 400.7 506.9 402.4 507.1 405.3 507.3 409.4 507.4 414.3 507.6 419.9 507.8 425.8 508.0 431.6 508.1 437.2 508.3 442.1 508.5 446.2 508.7 449.1 508.8 450.8 509.0 451.2 509.2 450.2 509.4 448.0 509.5 444.6 509.7 440.2 509.9 435.0 510.1 429.2 510.2 423.1 510.4 416.9 510.6 410.9 510.8 405.3 510.9 400.5 511.1 396.6 511.3 393.8 511.5 392.2 511.6 391.9 511.8 392.7 512.0 394.5 512.2 397.3 512.3 401.0 512.5 405.3 512.7 410.1 512.9 415.2 513.0 420.4 513.2 425.3 513.4 429.9 513.6 433.9 513.7 437.2 513.9 439.5 514.1 440.9 514.3 441.2 514.4 440.8 514.6 440.1 514.8 438.9 515.0 437.3 515.1 435.4 515.3 433.2 515.5 430.7 515.7 428.0 515.8 425.2 516.0 422.2 516.2 419.2 516.4 416.3 516.5 413.4 516.7 410.7 516.9 408.3 517.1 406.0 517.2 404.1 517.4 402.6 517.6 401.4 517.8 400.6 517.9 400.3 518.1 400.7 518.3 402.3 518.5 405.1 518.6 408.9 518.8 413.6 519.0 418.9 519.1 424.4 519.3 430.0 519.5 435.2 519.7 439.9 519.8 443.8 520.0 446.6 520.2 448.2 520.4 448.5 520.5 447.0 520.7 443.5 520.9 438.4 521.1 431.8 521.2 424.2 521.4 416.0 521.6 407.7 521.8 399.7 521.9 392.6 522.1 386.7 522.3 382.4 522.5 379.9 522.6 379.4 522.8 380.1 523.0 381.9 523.2 384.5 523.3 388.1 523.5 392.3 523.7 397.2 523.9 402.5 524.0 408.1 524.2 413.7 524.4 419.3 524.6 424.6 524.7 429.5 524.9 433.7 525.1 437.3 525.3 440.0 525.4 441.7 525.6 442.5 525.8 442.3 526.0 441.5 526.1 440.1 526.3 438.1 526.5 435.6 526.7 432.6 526.8 429.4 527.0 426.0 527.2 422.6 527.4 419.2 527.5 416.0 527.7 413.1 527.9 410.6 528.1 408.6 528.2 407.1 528.4 406.3 528.6 406.1 528.8 406.5 528.9 407.5 529.1 408.9 529.3 410.7 529.5 413.0 529.6 415.4 529.8 418.1 530.0 420.7 530.2 423.4 530.3 425.8 530.5 428.0 530.7 429.9 530.9 431.3 531.0 432.3 531.2 432.7 531.4 432.4 531.6 431.1 531.7 428.8 531.9 425.6 532.1 421.8 532.3 417.5 532.4 412.9 532.6 408.4 532.8 404.1 533.0 400.2 533.1 397.1 533.3 394.8 533.5 393.5 533.7 393.2 533.8 394.1 534.0 396.1 534.2 399.1 534.4 403.0 534.5 407.6 534.7 412.7 534.9 418.0 535.1 423.4 535.2 428.6 535.4 433.3 535.6 437.3 535.8 440.4 535.9 442.5 536.1 443.5 536.3 443.4 536.5 442.2 536.6 440.0 536.8 436.9 537.0 433.1 537.2 428.8 537.3 424.2 537.5 419.7 537.7 415.5 537.9 411.8 538.0 408.8 538.2 406.8 538.4 405.8 538.6 405.7 538.7 406.1 538.9 406.9 539.1 407.9 539.3 409.3 539.4 410.9 539.6 412.7 539.8 414.6 540.0 416.5 540.1 418.4 540.3 420.2 540.5 421.8 540.7 423.2 540.8 424.3 541.0 425.0 541.2 425.5 541.4 425.5 541.5 425.4 541.7 425.2 541.9 425.0 542.1 424.6 542.2 424.2 542.4 423.8 542.6 423.5 542.8 423.2 542.9 423.0 543.1 422.9 543.3 422.9 543.5 423.0 543.6 423.1 543.8 422.7 544.0 421.4 544.2 419.5 544.3 417.1 544.5 414.4 544.7 411.7 544.9 409.3 545.0 407.3 545.2 406.1 545.4 405.7 545.6 406.1 545.7 407.4 545.9 409.4 546.1 412.2 546.2 415.5 546.4 419.3 546.6 423.4 546.8 427.5 546.9 431.5 547.1 435.3 547.3 438.6 547.5 441.4 547.6 443.5 547.8 444.8 548.0 445.2 548.2 445.0 548.3 444.4 548.5 443.5 548.7 442.3 548.9 440.7 549.0 438.8 549.2 436.6 549.4 434.3 549.6 431.7 549.7 429.1 549.9 426.3 550.1 423.5 550.3 420.7 550.4 418.0 550.6 415.4 550.8 412.9 551.0 410.6 551.1 408.6 551.3 406.9 551.5 405.5 551.7 404.4 551.8 403.6 552.0 403.3 552.2 403.3 552.4 404.3 552.5 406.1 552.7 408.7 552.9 411.8 553.1 415.3 553.2 419.0 553.4 422.5 553.6 425.7 553.8 428.2 553.9 430.1 554.1 431.0 554.3 431.1 554.5 430.7 554.6 429.9 554.8 428.8 555.0 427.4 555.2 425.8 555.3 424.1 555.5 422.3 555.7 420.7 555.9 419.2 556.0 417.9 556.2 417.0 556.4 416.4 556.6 416.2 556.7 416.3 556.9 416.9 557.1 417.7 557.3 418.7 557.4 419.8 557.6 421.0 557.8 422.0 558.0 422.8 558.1 423.3 558.3 423.5 558.5 423.2 558.7 422.4 558.8 421.2 559.0 419.5 559.2 417.6 559.4 415.5 559.5 413.5 559.7 411.7 559.9 410.2 560.1 409.2 560.2 408.6 560.4 408.7 560.6 409.4 560.8 410.8 560.9 412.9 561.1 415.5 561.3 418.5 561.5 421.8 561.6 425.1 561.8 428.3 562.0 431.3 562.2 433.9 562.3 436.0 562.5 437.4 562.7 438.2 562.9 438.2 563.0 437.7 563.2 436.7 563.4 435.2 563.6 433.3 563.7 431.2 563.9 428.8 564.1 426.3 564.3 423.8 564.4 421.5 564.6 419.3 564.8 417.4 565.0 416.0 565.1 415.0 565.3 414.4 565.5 414.5 565.7 415.1 565.8 416.4 566.0 418.3 566.2 420.5 566.4 423.0 566.5 425.6 566.7 428.1 566.9 430.4 567.1 432.2 567.2 433.5 567.4 434.2 567.6 434.2 567.8 433.6 567.9 432.5 568.1 431.0 568.3 429.0 568.5 426.7 568.6 424.2 568.8 421.5 569.0 418.9 569.2 416.3 569.3 414.0 569.5 412.1 569.7 410.5 569.9 409.4 570.0 408.9 570.2 408.9 570.4 409.9 570.6 411.9 570.7 414.8 570.9 418.3 571.1 422.4 571.3 426.8 571.4 431.2 571.6 435.4 571.8 439.3 572.0 442.5 572.1 444.9 572.3 446.5 572.5 447.0 572.7 446.4 572.8 444.6 573.0 441.7 573.2 437.8 573.4 433.1 573.5 427.8 573.7 422.1 573.9 416.3 574.0 410.6 574.2 405.3 574.4 400.6 574.6 396.7 574.7 393.8 574.9 392.0 575.1 391.4 575.3 392.0 575.4 393.9 575.6 397.0 575.8 401.0 576.0 405.7 576.1 410.9 576.3 416.3 576.5 421.5 576.7 426.2 576.8 430.2 577.0 433.3 577.2 435.2 577.4 435.8 577.5 435.4 577.7 434.0 577.9 431.9 578.1 429.0 578.2 425.6 578.4 421.9 578.6 418.0 578.8 414.1 578.9 410.5 579.1 407.4 579.3 404.9 579.5 403.1 579.6 402.2 579.8 402.3 580.0 404.1 580.2 407.4 580.3 412.0 580.5 417.3 580.7 423.0 580.9 428.4 581.0 433.0 581.2 436.3 581.4 438.0 581.6 438.2 581.7 437.4 581.9 435.8 582.1 433.5 582.3 430.6 582.4 427.1 582.6 423.4 582.8 419.4 583.0 415.4 583.1 411.5 583.3 407.9 583.5 404.7 583.7 402.1 583.8 400.1 584.0 398.9 584.2 398.5 584.4 399.2 584.5 401.0 584.7 404.1 584.9 408.1 585.1 412.8 585.2 418.1 585.4 423.6 585.6 429.0 585.8 434.0 585.9 438.4 586.1 442.0 586.3 444.4 586.5 445.7 586.6 445.8 586.8 445.0 587.0 443.4 587.2 441.2 587.3 438.4 587.5 435.3 587.7 431.9 587.9 428.4 588.0 425.1 588.2 422.1 588.4 419.6 588.6 417.7 588.7 416.6 588.9 416.2 589.1 416.9 589.3 419.0 589.4 421.9 589.6 424.7 589.8 426.8 590.0 427.5 590.1 427.2 590.3 426.1 590.5 424.5 590.7 422.4 590.8 420.2 591.0 418.0 591.2 416.1 591.4 414.7 591.5 414.0 591.7 414.0 591.9 414.5 592.1 415.5 592.2 416.9 592.4 418.5 592.6 420.2 592.8 421.7 592.9 422.9 593.1 423.7 593.3 424.0 593.5 423.9 593.6 423.6 593.8 423.3 594.0 422.7 594.2 422.2 594.3 421.5 594.5 420.9 594.7 420.3 594.9 419.8 595.0 419.4 595.2 419.1 595.4 419.1 595.6 419.5 595.7 420.6 595.9 422.4 596.1 424.6 596.3 427.1 596.4 429.6 596.6 431.8 596.8 433.6 597.0 434.7 597.1 435.1 597.3 434.5 597.5 432.6 597.7 429.7 597.8 426.0 598.0 422.0 598.2 417.9 598.4 414.2 598.5 411.3 598.7 409.4 598.9 408.8 599.1 409.4 599.2 411.0 599.4 413.6 599.6 417.0 599.8 421.0 599.9 425.1 600.1 429.2 600.3 432.9 600.5 435.9 600.6 438.1 600.8 439.2 601.0 439.3 601.1 438.5 601.3 436.9 601.5 434.6 601.7 431.9 601.8 428.8 602.0 425.6 602.2 422.6 602.4 419.8 602.5 417.6 602.7 416.0 602.9 415.1 603.1 415.1 603.2 415.7 603.4 416.9 603.6 418.5 603.8 420.5 603.9 422.6 604.1 424.9 604.3 426.9 604.5 428.8 604.6 430.2 604.8 431.0 605.0 431.3 605.2 431.1 605.3 430.3 605.5 429.0 605.7 427.3 605.9 425.3 606.0 423.0 606.2 420.8 606.4 418.6 606.6 416.6 606.7 414.8 606.9 413.6 607.1 412.8 607.3 412.5 607.4 412.7 607.6 413.4 607.8 414.6 608.0 416.2 608.1 418.1 608.3 420.3 608.5 422.7 608.7 425.1 608.8 427.6 609.0 430.0 609.2 432.2 609.4 434.1 609.5 435.7 609.7 436.9 609.9 437.6 610.1 437.8 610.2 437.3 610.4 436.0 610.6 433.8 610.8 431.0 610.9 427.8 611.1 424.3 611.3 421.0 611.5 417.9 611.6 415.4 611.8 413.6 612.0 412.7 612.2 412.7 612.3 413.4 612.5 414.7 612.7 416.3 612.9 417.9 613.0 419.2 613.2 419.9 613.4 419.9 613.6 419.4 613.7 418.4 613.9 417.0 614.1 415.3 614.3 413.6 614.4 412.0 614.6 410.6 614.8 409.6 615.0 409.1 615.1 409.2 615.3 410.6 615.5 413.4 615.7 417.3 615.8 422.0 616.0 427.4 616.2 432.9 616.4 438.2 616.5 443.0 616.7 446.9 616.9 449.6 617.1 451.0 617.2 451.0 617.4 449.4 617.6 446.4 617.8 442.0 617.9 436.5 618.1 430.2 618.3 423.5 618.5 416.6 618.6 410.1 618.8 404.1 619.0 399.2 619.2 395.4 619.3 393.1 619.5 392.3 619.7 393.3 619.9 396.2 620.0 400.8 620.2 406.7 620.4 413.4 620.6 420.5 620.7 427.2 620.9 433.1 621.1 437.7 621.3 440.6 621.4 441.6 621.6 440.6 621.8 437.5 622.0 432.7 622.1 426.7 622.3 419.8 622.5 412.8 622.7 406.3 622.8 400.8 623.0 396.8 623.2 394.8 623.4 394.7 623.5 396.0 623.7 398.6 623.9 402.2 624.1 406.7 624.2 411.7 624.4 416.8 624.6 421.8 624.8 426.3 624.9 429.9 625.1 432.5 625.3 433.9 625.5 433.8 625.6 432.3 625.8 429.3 626.0 425.2 626.2 420.1 626.3 414.6 626.5 408.9 626.7 403.5 626.9 398.9 627.0 395.3 627.2 393.0 627.4 392.3 627.6 393.3 627.7 396.2 627.9 400.9 628.1 407.1 628.2 414.5 628.4 422.7 628.6 431.3 628.8 439.7 628.9 447.5 629.1 454.4 629.3 459.9 629.5 463.7 629.6 465.7 629.8 465.8 630.0 464.7 630.2 462.5 630.3 459.3 630.5 455.2 630.7 450.4 630.9 445.0 631.0 439.2 631.2 433.3 631.4 427.5 631.6 421.9 631.7 416.7 631.9 412.3 632.1 408.6 632.3 405.9 632.4 404.2 632.6 403.7 632.8 404.2 633.0 405.8 633.1 408.3 633.3 411.7 633.5 415.7 633.7 420.2 633.8 424.8 634.0 429.4 634.2 433.6 634.4 437.4 634.5 440.3 634.7 442.4 634.9 443.5 635.1 443.5 635.2 442.7 635.4 441.2 635.6 439.0 635.8 436.4 635.9 433.4 636.1 430.4 636.3 427.4 636.5 424.8 636.6 422.6 636.8 421.1 637.0 420.3 637.2 420.2 637.3 420.8 637.5 421.9 637.7 423.5 637.9 425.4 638.0 427.7 638.2 430.1 638.4 432.5 638.6 434.8 638.7 436.9 638.9 438.7 639.1 440.0 639.3 440.9 639.4 441.2 639.6 441.0 639.8 440.7 640.0 440.1 640.1 439.4 640.3 438.4 640.5 437.3 640.7 436.0 640.8 434.7 641.0 433.2 641.2 431.7 641.4 430.2 641.5 428.7 641.7 427.3 641.9 426.0 642.1 424.8 642.2 423.8 642.4 422.9 642.6 422.2 642.8 421.8 642.9 421.5 643.1 421.5 643.3 421.8 643.5 422.2 643.6 422.7 643.8 423.5 644.0 424.3 644.2 425.3 644.3 426.2 644.5 427.2 644.7 428.1 644.9 428.9 645.0 429.5 645.2 430.0 645.4 430.3 645.6 430.4 645.7 430.3 645.9 429.9 646.1 429.2 646.3 428.4 646.4 427.4 646.6 426.5 646.8 425.7 647.0 425.0 647.1 424.6 647.3 424.4 647.5 424.6 647.7 425.1 647.8 425.9 648.0 426.9 648.2 428.1 648.4 429.5 648.5 430.9 648.7 432.3 648.9 433.6 649.1 434.8 649.2 435.7 649.4 436.3 649.6 436.7 649.8 436.6 649.9 435.9 650.1 434.6 650.3 432.8 650.5 430.6 650.6 428.1 650.8 425.5 651.0 423.0 651.2 420.7 651.3 418.9 651.5 417.6 651.7 416.9 651.9 416.9 652.0 417.8 652.2 419.6 652.4 422.0 652.6 424.9 652.7 428.2 652.9 431.5 653.1 434.6 653.3 437.3 653.4 439.4 653.6 440.7 653.8 441.2 654.0 440.8 654.1 439.8 654.3 438.1 654.5 435.9 654.7 433.3 654.8 430.4 655.0 427.3 655.2 424.4 655.3 421.6 655.5 419.1 655.7 417.2 655.9 415.8 656.0 415.1 656.2 415.1 656.4 415.5 656.6 416.3 656.7 417.4 656.9 418.9 657.1 420.5 657.3 422.4 657.4 424.4 657.6 426.4 657.8 428.3 658.0 430.1 658.1 431.6 658.3 432.9 658.5 433.9 658.7 434.5 658.8 434.7 659.0 434.5 659.2 433.9 659.4 433.0 659.5 431.8 659.7 430.4 659.9 428.8 660.1 427.1 660.2 425.5 660.4 424.0 660.6 422.6 660.8 421.6 660.9 420.8 661.1 420.4 661.3 420.4 661.5 420.7 661.6 421.3 661.8 422.1 662.0 423.1 662.2 424.2 662.3 425.4 662.5 426.7 662.7 427.9 662.9 429.0 663.0 429.9 663.2 430.5 663.4 431.0 663.6 431.1 663.7 431.0 663.9 430.7 664.1 430.1 664.3 429.4 664.4 428.6 664.6 427.6 664.8 426.6 665.0 425.7 665.1 424.8 665.3 424.0 665.5 423.3 665.7 422.9 665.8 422.7 666.0 422.7 666.2 423.0 666.4 423.5 666.5 424.3 666.7 425.3 666.9 426.3 667.1 427.4 667.2 428.3 667.4 429.1 667.6 429.7 667.8 430.0 667.9 430.0 668.1 429.9 668.3 429.7 668.5 429.5 668.6 429.2 668.8 428.9 669.0 428.6 669.2 428.4 669.3 428.3 669.5 428.2" stroke="#ff0000" stroke-width="1.5"/>
</g>
<path d="M398.5 326.2H678.3V549.4H398.5ZM398.5 549.4h-6.5M398.5 538.3h-3.7M398.5 527.1h-6.5M398.5 516.0h-3.7M398.5 504.8h-6.5M398.5 493.6h-3.7M398.5 482.5h-6.5M398.5 471.3h-3.7M398.5 460.1h-6.5M398.5 449.0h-3.7M398.5 437.8h-6.5M398.5 426.7h-3.7M398.5 415.5h-6.5M398.5 404.3h-3.7M398.5 393.2h-6.5M398.5 382.0h-3.7M398.5 370.8h-6.5M398.5 359.7h-3.7M398.5 348.5h-6.5M398.5 337.4h-3.7M398.5 326.2h-6.5M398.5 549.4v6.2M416.0 549.4v3.4M433.5 549.4v6.2M451.0 549.4v3.4M468.4 549.4v6.2M485.9 549.4v3.4M503.4 549.4v6.2M520.9 549.4v3.4M538.4 549.4v6.2M555.9 549.4v3.4M573.4 549.4v6.2M590.8 549.4v3.4M608.3 549.4v6.2M625.8 549.4v3.4M643.3 549.4v6.2M660.8 549.4v3.4M678.3 549.4v6.2" stroke="#000" stroke-width="1.35" fill="none"/>
<g font-size="14" text-anchor="end"><text x="385.9" y="330.9">40</text><text x="385.9" y="353.2">30</text><text x="385.9" y="375.5">20</text><text x="385.9" y="397.9">10</text><text x="385.9" y="420.2">0</text><text x="385.9" y="442.5">-10</text><text x="385.9" y="464.8">-20</text><text x="385.9" y="487.2">-30</text><text x="385.9" y="509.5">-40</text><text x="385.9" y="531.8">-50</text><text x="385.9" y="554.1">-60</text></g>
<g font-size="14" text-anchor="middle"><text x="398.5" y="575.0">0</text><text x="433.5" y="575.0">4</text><text x="468.4" y="575.0">8</text><text x="503.4" y="575.0">12</text><text x="538.4" y="575.0">16</text><text x="573.4" y="575.0">20</text><text x="608.3" y="575.0">24</text><text x="643.3" y="575.0">28</text><text x="678.3" y="575.0">32</text></g>
<text x="538.8" y="595.7" font-size="14.05" text-anchor="middle">Time, sec</text>
<text transform="translate(359.6 437.8) rotate(-90)" font-size="13.7" text-anchor="middle">Displacement, mm</text>
<text x="529.6" y="626.0" font-size="14.1" text-anchor="middle">(d)</text>
</g>
</svg>
</body></html>
